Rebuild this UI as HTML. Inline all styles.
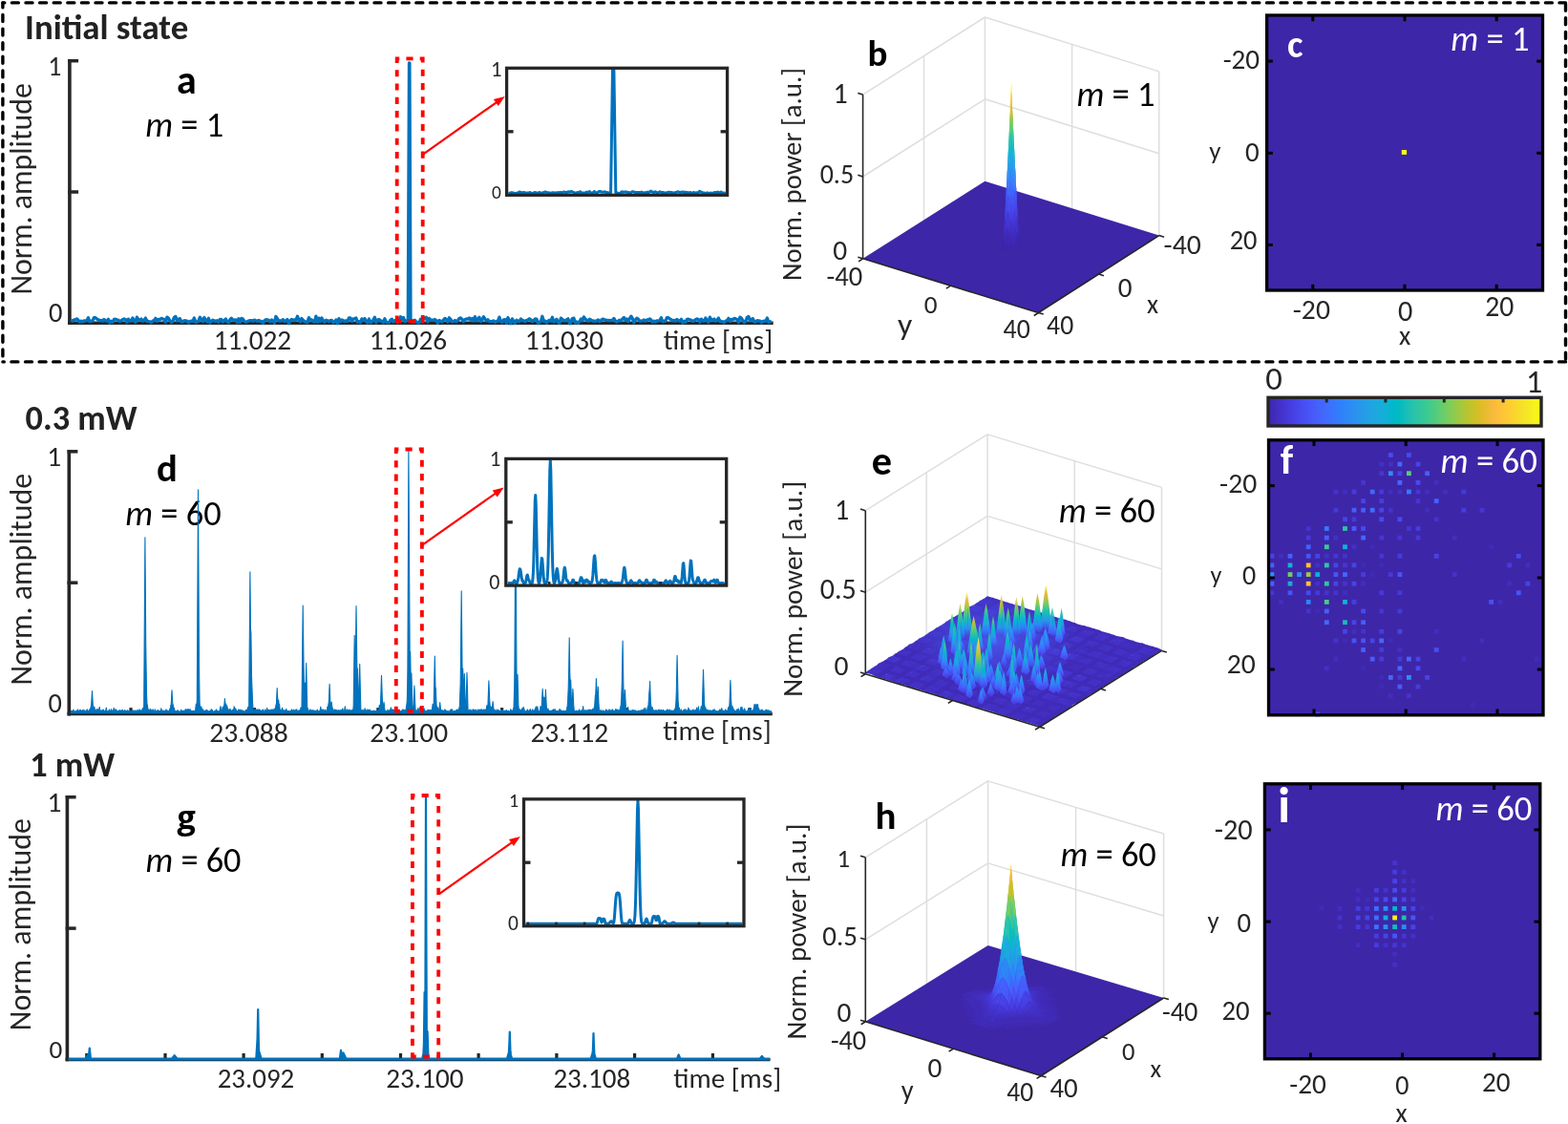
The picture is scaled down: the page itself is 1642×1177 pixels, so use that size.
<!DOCTYPE html><html><head><meta charset="utf-8"><title>Figure</title><style>html,body{margin:0;padding:0;background:#fff}svg{display:block}</style></head><body><svg width="1642" height="1177" viewBox="0 0 1642 1177" font-family="Carlito, 'Liberation Sans', Arial, sans-serif"><defs><linearGradient id="sgl37" x1="0" y1="0" x2="0" y2="1"><stop offset="0.00" stop-color="#f6de29"/><stop offset="0.20" stop-color="#eaba31"/><stop offset="0.40" stop-color="#7ecc5b"/><stop offset="0.60" stop-color="#1ac0b5"/><stop offset="0.80" stop-color="#2994ed"/><stop offset="1.00" stop-color="#4743e7"/></linearGradient><linearGradient id="sgl31" x1="0" y1="0" x2="0" y2="1"><stop offset="0.00" stop-color="#dabd28"/><stop offset="0.20" stop-color="#84cc56"/><stop offset="0.40" stop-color="#32c69f"/><stop offset="0.60" stop-color="#12b1d6"/><stop offset="0.80" stop-color="#2f82f9"/><stop offset="1.00" stop-color="#4743e7"/></linearGradient><linearGradient id="sgl33" x1="0" y1="0" x2="0" y2="1"><stop offset="0.00" stop-color="#f8ba3d"/><stop offset="0.20" stop-color="#abc739"/><stop offset="0.40" stop-color="#42ca8b"/><stop offset="0.60" stop-color="#03b7cc"/><stop offset="0.80" stop-color="#2d88f6"/><stop offset="1.00" stop-color="#4743e7"/></linearGradient><linearGradient id="sgl28" x1="0" y1="0" x2="0" y2="1"><stop offset="0.00" stop-color="#9fc942"/><stop offset="0.20" stop-color="#4ccb83"/><stop offset="0.40" stop-color="#14beb8"/><stop offset="0.60" stop-color="#1fa6e2"/><stop offset="0.80" stop-color="#3578fd"/><stop offset="1.00" stop-color="#4743e7"/></linearGradient><linearGradient id="sgl35" x1="0" y1="0" x2="0" y2="1"><stop offset="0.00" stop-color="#feca33"/><stop offset="0.20" stop-color="#cdc028"/><stop offset="0.40" stop-color="#5ecc74"/><stop offset="0.60" stop-color="#05bbc1"/><stop offset="0.80" stop-color="#2c8ef1"/><stop offset="1.00" stop-color="#4743e7"/></linearGradient><linearGradient id="sgl32" x1="0" y1="0" x2="0" y2="1"><stop offset="0.00" stop-color="#eaba31"/><stop offset="0.20" stop-color="#98ca47"/><stop offset="0.40" stop-color="#38c896"/><stop offset="0.60" stop-color="#0ab4d1"/><stop offset="0.80" stop-color="#2e85f8"/><stop offset="1.00" stop-color="#4743e7"/></linearGradient><linearGradient id="sgl24" x1="0" y1="0" x2="0" y2="1"><stop offset="0.00" stop-color="#48cb86"/><stop offset="0.20" stop-color="#20c1b1"/><stop offset="0.40" stop-color="#10b2d5"/><stop offset="0.60" stop-color="#2896ec"/><stop offset="0.80" stop-color="#416bfe"/><stop offset="1.00" stop-color="#4743e7"/></linearGradient><linearGradient id="sgl39" x1="0" y1="0" x2="0" y2="1"><stop offset="0.00" stop-color="#f6f21e"/><stop offset="0.20" stop-color="#febe3c"/><stop offset="0.40" stop-color="#9ec942"/><stop offset="0.60" stop-color="#2bc3a8"/><stop offset="0.80" stop-color="#2699e9"/><stop offset="1.00" stop-color="#4743e7"/></linearGradient><linearGradient id="sgl26" x1="0" y1="0" x2="0" y2="1"><stop offset="0.00" stop-color="#71cd64"/><stop offset="0.20" stop-color="#34c79c"/><stop offset="0.40" stop-color="#01b9c7"/><stop offset="0.60" stop-color="#249ee6"/><stop offset="0.80" stop-color="#3c72ff"/><stop offset="1.00" stop-color="#4743e7"/></linearGradient><linearGradient id="sgl27" x1="0" y1="0" x2="0" y2="1"><stop offset="0.00" stop-color="#88cb53"/><stop offset="0.20" stop-color="#3dc990"/><stop offset="0.40" stop-color="#06bcc0"/><stop offset="0.60" stop-color="#22a2e4"/><stop offset="0.80" stop-color="#3975fe"/><stop offset="1.00" stop-color="#4743e7"/></linearGradient><linearGradient id="sgl21" x1="0" y1="0" x2="0" y2="1"><stop offset="0.00" stop-color="#24c2ae"/><stop offset="0.20" stop-color="#04b6cc"/><stop offset="0.40" stop-color="#21a3e3"/><stop offset="0.60" stop-color="#2d88f6"/><stop offset="0.80" stop-color="#4561fc"/><stop offset="1.00" stop-color="#4743e7"/></linearGradient><linearGradient id="sgl23" x1="0" y1="0" x2="0" y2="1"><stop offset="0.00" stop-color="#39c895"/><stop offset="0.20" stop-color="#10beba"/><stop offset="0.40" stop-color="#18addb"/><stop offset="0.60" stop-color="#2b91ef"/><stop offset="0.80" stop-color="#4368fd"/><stop offset="1.00" stop-color="#4743e7"/></linearGradient><linearGradient id="sgl12" x1="0" y1="0" x2="0" y2="1"><stop offset="0.00" stop-color="#2d8cf3"/><stop offset="0.20" stop-color="#317efb"/><stop offset="0.40" stop-color="#406cfe"/><stop offset="0.60" stop-color="#475af9"/><stop offset="0.80" stop-color="#4745e9"/><stop offset="1.00" stop-color="#4743e7"/></linearGradient><linearGradient id="sgl14" x1="0" y1="0" x2="0" y2="1"><stop offset="0.00" stop-color="#259ce7"/><stop offset="0.20" stop-color="#2d8df2"/><stop offset="0.40" stop-color="#337afd"/><stop offset="0.60" stop-color="#4464fd"/><stop offset="0.80" stop-color="#484bef"/><stop offset="1.00" stop-color="#4743e7"/></linearGradient><linearGradient id="sgl15" x1="0" y1="0" x2="0" y2="1"><stop offset="0.00" stop-color="#21a3e3"/><stop offset="0.20" stop-color="#2994ed"/><stop offset="0.40" stop-color="#2f81fa"/><stop offset="0.60" stop-color="#4269fe"/><stop offset="0.80" stop-color="#484ef1"/><stop offset="1.00" stop-color="#4743e7"/></linearGradient><linearGradient id="sgl16" x1="0" y1="0" x2="0" y2="1"><stop offset="0.00" stop-color="#1caadf"/><stop offset="0.20" stop-color="#269ae8"/><stop offset="0.40" stop-color="#2d87f7"/><stop offset="0.60" stop-color="#3f6eff"/><stop offset="0.80" stop-color="#4851f4"/><stop offset="1.00" stop-color="#4743e7"/></linearGradient><linearGradient id="sgl11" x1="0" y1="0" x2="0" y2="1"><stop offset="0.00" stop-color="#2e83f9"/><stop offset="0.20" stop-color="#3875fe"/><stop offset="0.40" stop-color="#4466fd"/><stop offset="0.60" stop-color="#4755f6"/><stop offset="0.80" stop-color="#4743e7"/><stop offset="1.00" stop-color="#4743e7"/></linearGradient><linearGradient id="sgl25" x1="0" y1="0" x2="0" y2="1"><stop offset="0.00" stop-color="#5ccc76"/><stop offset="0.20" stop-color="#2cc4a7"/><stop offset="0.40" stop-color="#06b5cf"/><stop offset="0.60" stop-color="#269ae9"/><stop offset="0.80" stop-color="#3f6eff"/><stop offset="1.00" stop-color="#4743e7"/></linearGradient><linearGradient id="sgl17" x1="0" y1="0" x2="0" y2="1"><stop offset="0.00" stop-color="#13b0d7"/><stop offset="0.20" stop-color="#23a1e4"/><stop offset="0.40" stop-color="#2d8df2"/><stop offset="0.60" stop-color="#3a74fe"/><stop offset="0.80" stop-color="#4755f6"/><stop offset="1.00" stop-color="#4743e7"/></linearGradient><linearGradient id="sgl10" x1="0" y1="0" x2="0" y2="1"><stop offset="0.00" stop-color="#347afd"/><stop offset="0.20" stop-color="#406dfe"/><stop offset="0.40" stop-color="#465ffb"/><stop offset="0.60" stop-color="#4851f3"/><stop offset="0.80" stop-color="#4743e7"/><stop offset="1.00" stop-color="#4743e7"/></linearGradient><linearGradient id="sgl20" x1="0" y1="0" x2="0" y2="1"><stop offset="0.00" stop-color="#12beb9"/><stop offset="0.20" stop-color="#0fb2d5"/><stop offset="0.40" stop-color="#249ee6"/><stop offset="0.60" stop-color="#2e83f9"/><stop offset="0.80" stop-color="#465efb"/><stop offset="1.00" stop-color="#4743e7"/></linearGradient><linearGradient id="sgl13" x1="0" y1="0" x2="0" y2="1"><stop offset="0.00" stop-color="#2994ed"/><stop offset="0.20" stop-color="#2e85f8"/><stop offset="0.40" stop-color="#3a73fe"/><stop offset="0.60" stop-color="#465ffb"/><stop offset="0.80" stop-color="#4848ec"/><stop offset="1.00" stop-color="#4743e7"/></linearGradient><linearGradient id="sgl19" x1="0" y1="0" x2="0" y2="1"><stop offset="0.00" stop-color="#02bac4"/><stop offset="0.20" stop-color="#19addc"/><stop offset="0.40" stop-color="#2699e9"/><stop offset="0.60" stop-color="#307efb"/><stop offset="0.80" stop-color="#475bf9"/><stop offset="1.00" stop-color="#4743e7"/></linearGradient><linearGradient id="sgl18" x1="0" y1="0" x2="0" y2="1"><stop offset="0.00" stop-color="#05b6ce"/><stop offset="0.20" stop-color="#1ea7e1"/><stop offset="0.40" stop-color="#2a93ed"/><stop offset="0.60" stop-color="#3479fd"/><stop offset="0.80" stop-color="#4758f8"/><stop offset="1.00" stop-color="#4743e7"/></linearGradient><linearGradient id="sgl9" x1="0" y1="0" x2="0" y2="1"><stop offset="0.00" stop-color="#3d70ff"/><stop offset="0.20" stop-color="#4465fd"/><stop offset="0.40" stop-color="#4759f8"/><stop offset="0.60" stop-color="#484cef"/><stop offset="0.80" stop-color="#4743e7"/><stop offset="1.00" stop-color="#4743e7"/></linearGradient><linearGradient id="sgl22" x1="0" y1="0" x2="0" y2="1"><stop offset="0.00" stop-color="#2fc5a2"/><stop offset="0.20" stop-color="#02bac4"/><stop offset="0.40" stop-color="#1da9e0"/><stop offset="0.60" stop-color="#2d8df2"/><stop offset="0.80" stop-color="#4464fd"/><stop offset="1.00" stop-color="#4743e7"/></linearGradient><linearGradient id="sgl8" x1="0" y1="0" x2="0" y2="1"><stop offset="0.00" stop-color="#4367fd"/><stop offset="0.20" stop-color="#465dfa"/><stop offset="0.40" stop-color="#4853f4"/><stop offset="0.60" stop-color="#4747eb"/><stop offset="0.80" stop-color="#4743e7"/><stop offset="1.00" stop-color="#4743e7"/></linearGradient><radialGradient id="ehaze"><stop offset="0" stop-color="#4d63f5" stop-opacity="0.75"/><stop offset="0.55" stop-color="#4650e8" stop-opacity="0.45"/><stop offset="1" stop-color="#4650e8" stop-opacity="0"/></radialGradient><clipPath id="eclip"><path d="M906.3 704L1088.7 759.5L1216.5 679.7L1034.1 624.2Z"/></clipPath><linearGradient id="cb" x1="0" y1="0" x2="1" y2="0"><stop offset="0.0000" stop-color="#3e26a8"/><stop offset="0.0159" stop-color="#402ab4"/><stop offset="0.0317" stop-color="#422ec0"/><stop offset="0.0476" stop-color="#4332cb"/><stop offset="0.0635" stop-color="#4537d5"/><stop offset="0.0794" stop-color="#463cde"/><stop offset="0.0952" stop-color="#4741e5"/><stop offset="0.1111" stop-color="#4747eb"/><stop offset="0.1270" stop-color="#484df0"/><stop offset="0.1429" stop-color="#4852f4"/><stop offset="0.1587" stop-color="#4758f8"/><stop offset="0.1746" stop-color="#465efb"/><stop offset="0.1905" stop-color="#4563fd"/><stop offset="0.2063" stop-color="#4269fe"/><stop offset="0.2222" stop-color="#3e6fff"/><stop offset="0.2381" stop-color="#3875fe"/><stop offset="0.2540" stop-color="#327cfc"/><stop offset="0.2698" stop-color="#2f81fa"/><stop offset="0.2857" stop-color="#2e87f7"/><stop offset="0.3016" stop-color="#2d8cf3"/><stop offset="0.3175" stop-color="#2b91ef"/><stop offset="0.3333" stop-color="#2797eb"/><stop offset="0.3492" stop-color="#259be8"/><stop offset="0.3651" stop-color="#23a0e5"/><stop offset="0.3810" stop-color="#20a5e3"/><stop offset="0.3968" stop-color="#1ca9df"/><stop offset="0.4127" stop-color="#18addb"/><stop offset="0.4286" stop-color="#12b1d6"/><stop offset="0.4444" stop-color="#08b5d0"/><stop offset="0.4603" stop-color="#01b8ca"/><stop offset="0.4762" stop-color="#02bac3"/><stop offset="0.4921" stop-color="#0bbdbd"/><stop offset="0.5079" stop-color="#19bfb6"/><stop offset="0.5238" stop-color="#24c1ae"/><stop offset="0.5397" stop-color="#2cc4a7"/><stop offset="0.5556" stop-color="#31c69f"/><stop offset="0.5714" stop-color="#37c897"/><stop offset="0.5873" stop-color="#3fca8e"/><stop offset="0.6032" stop-color="#4acb84"/><stop offset="0.6190" stop-color="#57cc7a"/><stop offset="0.6349" stop-color="#64cd6f"/><stop offset="0.6508" stop-color="#72cd64"/><stop offset="0.6667" stop-color="#81cc59"/><stop offset="0.6825" stop-color="#8fcb4e"/><stop offset="0.6984" stop-color="#9dc943"/><stop offset="0.7143" stop-color="#abc739"/><stop offset="0.7302" stop-color="#b9c431"/><stop offset="0.7460" stop-color="#c5c22a"/><stop offset="0.7619" stop-color="#d1bf27"/><stop offset="0.7778" stop-color="#dcbd29"/><stop offset="0.7937" stop-color="#e6bb2d"/><stop offset="0.8095" stop-color="#f0ba36"/><stop offset="0.8254" stop-color="#f8ba3d"/><stop offset="0.8413" stop-color="#febe3c"/><stop offset="0.8571" stop-color="#fec338"/><stop offset="0.8730" stop-color="#fec934"/><stop offset="0.8889" stop-color="#fccf30"/><stop offset="0.9048" stop-color="#fad62d"/><stop offset="0.9206" stop-color="#f7dc2a"/><stop offset="0.9365" stop-color="#f5e327"/><stop offset="0.9524" stop-color="#f5e924"/><stop offset="0.9683" stop-color="#f6ef20"/><stop offset="0.9841" stop-color="#f7f51b"/><stop offset="1.0000" stop-color="#f9fb15"/></linearGradient></defs><line x1="2.9" y1="2.9" x2="1639.5" y2="2.9" stroke="#000" stroke-width="3.4" stroke-dasharray="7 7.6" stroke-dashoffset="5.1" stroke-linecap="round"/>
<line x1="1639.5" y1="2.9" x2="1639.5" y2="378.9" stroke="#000" stroke-width="3.4" stroke-dasharray="7 7.6" stroke-dashoffset="13.3" stroke-linecap="round"/>
<line x1="1639.5" y1="378.9" x2="2.9" y2="378.9" stroke="#000" stroke-width="3.4" stroke-dasharray="7 7.6" stroke-dashoffset="0.0" stroke-linecap="round"/>
<line x1="2.9" y1="2.9" x2="2.9" y2="378.9" stroke="#000" stroke-width="3.4" stroke-dasharray="7 7.6" stroke-dashoffset="2.0" stroke-linecap="round"/>
<text x="26.1" y="40.7" font-size="36.83" font-weight="bold" textLength="171.1" lengthAdjust="spacingAndGlyphs" fill="#222">Initial state</text>
<text x="26.6" y="450" font-size="36.25" font-weight="bold" textLength="117" lengthAdjust="spacingAndGlyphs" fill="#222">0.3 mW</text>
<text x="31.2" y="812.9" font-size="36.30" font-weight="bold" textLength="89" lengthAdjust="spacingAndGlyphs" fill="#222">1 mW</text>
<line x1="72.9" y1="61.9" x2="72.9" y2="340.1" stroke="#262626" stroke-width="3.6"/>
<line x1="71.1" y1="338.3" x2="809.7" y2="338.3" stroke="#262626" stroke-width="3.5"/>
<line x1="71.2" y1="63.7" x2="82.1" y2="63.7" stroke="#262626" stroke-width="3.5"/>
<line x1="71.2" y1="201" x2="82.1" y2="201" stroke="#262626" stroke-width="3.5"/>
<text x="50.3" y="78.8" font-size="27.84" fill="#262626">1</text>
<text x="51.1" y="337" font-size="28.48" fill="#262626">0</text>
<text transform="translate(33.3 308.6) rotate(-90)" font-size="31.92" fill="#262626" textLength="221.6" lengthAdjust="spacingAndGlyphs">Norm. amplitude</text>
<text x="185" y="98.3" font-size="41.95" font-weight="bold" fill="#000">a</text>
<text x="152.3" y="143.4" font-size="36.42" fill="#000" textLength="81.9" lengthAdjust="spacingAndGlyphs"><tspan font-style="italic">m</tspan><tspan> = 1</tspan></text>
<text x="223.8" y="366.3" font-size="29.17" textLength="81.3" lengthAdjust="spacingAndGlyphs" fill="#262626">11.022</text>
<text x="386.7" y="366.3" font-size="29.17" textLength="81.3" lengthAdjust="spacingAndGlyphs" fill="#262626">11.026</text>
<text x="549.7" y="366.3" font-size="29.51" textLength="82.2" lengthAdjust="spacingAndGlyphs" fill="#262626">11.030</text>
<text x="694.7" y="365.7" font-size="29.47" textLength="114.5" lengthAdjust="spacingAndGlyphs" fill="#262626">time [ms]</text>
<path d="M74.4 335L75.9 336.2L77.4 335L78.9 334.9L80.4 333.9L81.9 335.1L83.4 337.2L84.9 336.1L86.4 337.1L87.9 335.8L89.4 336L90.9 335.7L92.4 332.7L93.9 336.8L95.4 336.2L96.9 336.2L98.4 332.7L99.9 332.6L101.4 334L102.9 334.7L104.4 335.9L105.9 335.3L107.4 336.2L108.9 334.4L110.4 335.9L111.9 336L113.4 334.3L114.9 338.1L116.4 336.3L117.9 337.3L119.4 334.4L120.9 334.2L122.4 334.8L123.9 335.2L125.4 336.4L126.9 335.8L128.4 334.7L129.9 333.9L131.4 334.6L132.9 337.4L134.4 334.1L135.9 335.8L137.4 336.1L138.9 333L140.4 335.5L141.9 337.5L143.4 332.2L144.9 334.9L146.4 335.2L147.9 334.1L149.4 336.2L150.9 335.3L152.4 333.1L153.9 336.7L155.4 336.5L156.9 336.9L158.4 337.7L159.9 336L161.4 335.6L162.9 333.3L164.4 336.4L165.9 334.4L167.4 334.7L168.9 333.4L170.4 333.9L171.9 334.6L173.4 337.5L174.9 332.1L176.4 333.1L177.9 335.8L179.4 337.7L180.9 336.3L182.4 332.4L183.9 331.4L185.4 336L186.9 334.2L188.4 333.6L189.9 337L191.4 337.2L192.9 335.7L194.4 335.8L195.9 336.1L197.4 338L198.9 336.4L200.4 336.2L201.9 336.3L203.4 332.9L204.9 337.5L206.4 336.9L207.9 336.2L209.4 332.2L210.9 334.4L212.4 336.7L213.9 332.5L215.4 335.1L216.9 337L218.4 333.3L219.9 338L221.4 336.3L222.9 335.2L224.4 335.9L225.9 336.4L227.4 335.6L228.9 337.2L230.4 334.3L231.9 334.7L233.4 337.1L234.9 335.4L236.4 334L237.9 336.9L239.4 337.7L240.9 334.7L242.4 333.2L243.9 335.2L245.4 335.2L246.9 334.9L248.4 337.6L249.9 333.8L251.4 337.4L252.9 333.4L254.4 334.1L255.9 336.4L257.4 337.2L258.9 336.8L260.4 336L261.9 335.6L263.4 335.6L264.9 336.3L266.4 335.1L267.9 335.8L269.4 336.3L270.9 335.4L272.4 336.6L273.9 336.3L275.4 338.6L276.9 335.9L278.4 334.7L279.9 334.8L281.4 335.4L282.9 336.9L284.4 334.9L285.9 336L287.4 338.3L288.9 331.3L291.9 335.8L293.4 336L294.9 335.8L296.4 334.7L297.9 336.4L299.4 335.9L300.9 334.6L302.4 338.8L303.9 336L305.4 334.5L306.9 335.2L308.4 335L309.9 335.3L311.4 331.2L312.9 334.6L314.4 337L315.9 333.5L318.9 336.9L320.4 336.8L321.9 337.8L323.4 332.7L324.9 334.8L326.4 334.9L327.9 336.4L329.4 337.1L330.9 331.2L332.4 337.1L333.9 333.1L335.4 336.5L336.9 333L338.4 335.7L339.9 337.3L341.4 335.2L342.9 335.7L344.4 336.7L345.9 335.6L347.4 335.3L348.9 337.9L350.4 337.1L351.9 334.9L353.4 338.8L354.9 333.6L356.4 336.9L357.9 335L359.4 335.6L360.9 336.5L362.4 335.8L363.9 336.4L365.4 333L366.9 333L368.4 336.4L369.9 333.9L371.4 333.8L372.9 333L374.4 337.4L375.9 336.6L377.4 337.8L378.9 333.9L380.4 335.4L381.9 333.6L383.4 336.6L384.9 337.9L386.4 334L387.9 337.9L389.4 337L390.9 335.1L392.4 332.2L393.9 337.7L395.4 335.2L396.9 334.4L398.4 336L399.9 336.1L401.4 337.8L402.9 333.8L404.4 337.2L405.9 337.8L407.4 337.7L408.9 335.1L410.4 334.2L411.9 337L413.4 335.6L414.9 335.6L416.4 337.7L417.9 335L419.4 331.7L420.9 334.8L422.4 332.4L423.9 336.7L425.4 335.9L427.3 335.5L428.5 66L428.9 66L430 335.5L431.4 335.5L432.9 337.5L434.4 335.3L435.9 337.1L437.4 337.8L438.9 338L440.4 334.3L441.9 336.8L443.4 332.4L444.9 333.7L446.4 332.3L447.9 337.1L449.4 333.4L450.9 335.4L452.4 335.1L453.9 335.4L455.4 334.5L456.9 335.8L458.4 338.3L459.9 335.5L462.9 337L464.4 335.1L465.9 333.4L467.4 334.5L468.9 337.1L470.4 332.8L471.9 334.4L473.4 337L474.9 336.7L476.4 335.4L477.9 336.7L479.4 335.7L480.9 333.5L482.4 332.9L483.9 334.4L485.4 336.9L486.9 334.5L488.4 334L489.9 334.2L491.4 332.9L492.9 335.2L494.4 333.5L495.9 336L497.4 331.6L498.9 335.9L500.4 334.4L501.9 332.3L503.4 336.6L504.9 335L506.4 331.8L507.9 334L509.4 335.9L510.9 334.7L512.4 336.6L515.4 336.5L516.9 335.9L518.4 337.5L519.9 336.5L521.4 336.1L522.9 332.1L524.4 336.8L525.9 337.5L527.4 334.9L528.9 334.6L530.4 338.5L531.9 332.6L533.4 336.2L534.9 338.8L536.4 333.9L537.9 336.5L539.4 338.4L540.9 335.2L542.4 336.3L543.9 336.8L545.4 334L546.9 335.3L548.4 335.9L549.9 336.7L551.4 335.3L552.9 335.1L554.4 333.8L555.9 334.8L557.4 336.8L558.9 335.6L560.4 334L561.9 334.1L563.4 338.8L564.9 337.2L566.4 336.4L567.9 331.3L569.4 336.4L570.9 336.2L572.4 338.1L573.9 336.1L575.4 335.3L576.9 336.2L578.4 332.3L579.9 337.1L581.4 335.9L582.9 334.3L584.4 337.5L585.9 338.3L587.4 333.2L588.9 334.3L590.4 335.9L591.9 335.7L594.9 333.8L596.4 338.8L597.9 337.1L599.4 333.5L600.9 333.2L602.4 338.1L603.9 337L605.4 338.3L606.9 336.7L608.4 334L609.9 335.8L611.4 331.9L612.9 334.2L614.4 335.3L615.9 336.2L617.4 334.2L620.4 336.1L621.9 336L623.4 336.4L624.9 335.7L626.4 334.9L627.9 336.7L629.4 335.5L630.9 334.1L632.4 334.4L633.9 335.4L635.4 335.2L636.9 335.7L638.4 335.4L639.9 335.7L641.4 335.2L642.9 333.4L644.4 336.1L645.9 337.1L648.9 335.1L650.4 336.1L651.9 333.9L653.4 332.4L654.9 335.5L656.4 333.9L657.9 336.6L659.4 333.7L660.9 331.2L662.4 333.7L663.9 337.9L665.4 334.8L666.9 333.2L668.4 334.2L669.9 336.2L671.4 336.2L672.9 335.7L674.4 335L675.9 336.2L677.4 335L678.9 334.9L680.4 333.9L681.9 335.1L683.4 337.2L684.9 336.1L686.4 337.1L687.9 335.8L689.4 336L690.9 335.7L692.4 332.7L693.9 336.8L695.4 336.2L696.9 336.2L698.4 332.7L699.9 332.6L701.4 334L702.9 334.7L704.4 335.9L705.9 335.3L707.4 336.2L708.9 334.4L710.4 335.9L711.9 336L713.4 334.3L714.9 338.1L716.4 336.3L717.9 337.3L719.4 334.4L720.9 334.2L722.4 334.8L723.9 335.2L725.4 336.4L726.9 335.8L728.4 334.7L729.9 333.9L731.4 334.6L732.9 337.4L734.4 334.1L735.9 335.8L737.4 336.1L738.9 333L740.4 335.5L741.9 337.5L743.4 332.2L744.9 334.9L746.4 335.2L747.9 334.1L749.4 336.2L750.9 335.3L752.4 333.1L753.9 336.7L755.4 336.5L756.9 336.9L758.4 337.7L759.9 336L761.4 335.6L762.9 333.3L764.4 336.4L765.9 334.4L767.4 334.7L768.9 333.4L770.4 333.9L771.9 334.6L773.4 337.5L774.9 332.1L776.4 333.1L777.9 335.8L779.4 337.7L780.9 336.3L782.4 332.4L783.9 331.4L785.4 336L786.9 334.2L788.4 333.6L789.9 337L791.4 337.2L792.9 335.7L794.4 335.8L795.9 336.1L797.4 338L798.9 336.4L800.4 336.2L801.9 336.3L803.4 332.9L804.9 337.5L806.4 336.9L807.9 336.2" fill="none" stroke="#0072bd" stroke-width="3.3" stroke-linejoin="round"/>
<path d="M415.7 336.5L415.7 61.4L442.7 61.4L442.7 336.5Z" fill="none" stroke="#ff0000" stroke-width="3.8" stroke-dasharray="7.15 7.15" stroke-dashoffset="1.2"/>
<line x1="442.6" y1="161.8" x2="519.7" y2="107.3" stroke="#ff0000" stroke-width="2.2"/>
<path d="M528.7 100.9L521.8 111.1L516.8 104Z" fill="#ff0000"/>
<rect x="530.6" y="71.3" width="231" height="133" fill="#fff"/>
<path d="M532.6 202.5L535.8 201.6L537.4 202L539 202.6L540.6 202.2L542.2 202.2L543.8 201L547 202L548.6 201.4L550.2 202.2L551.8 202L553.4 202.1L555 201.5L556.6 202.6L558.2 202.3L559.8 201.5L561.4 201.7L563 202.6L564.6 201.4L566.2 202.1L567.8 202.2L571 200.9L572.6 201.7L574.2 201.8L575.8 202.3L577.4 202.1L579 201.6L580.6 202.1L583.8 201.7L587 201.5L588.6 202L590.2 201L591.8 201.2L593.4 201.6L595 200.7L596.6 201.3L598.2 200.4L601.4 201.9L603 201.9L604.6 201.6L606.2 201.5L607.8 200.7L609.4 202.6L611 201.9L612.6 202.3L614.2 201.1L615.8 201.5L617.4 200.5L619 202.1L620.6 202.2L622.2 200.5L623.8 201.6L625.4 202L627 200.5L628.6 200.5L630.2 201L631.8 201.2L633.4 200.8L635 201.6L638.2 202L639.6 201.8L641.5 73.6L642.9 73.6L644.8 201.8L646.2 202L647.8 202.5L649.4 202.3L651 200.8L652.6 201.3L654.2 201L655.8 201L657.4 201.6L659 201.6L660.6 201.9L662.2 200.6L663.8 200.9L665.4 201.6L668.6 201.4L670.2 201.6L671.8 201.1L673.4 202L676.6 201.5L678.2 201.2L679.8 201.5L681.4 200L683 201L684.6 201.6L686.2 200.7L687.8 201.7L689.4 201.7L691 200.8L692.6 201.4L694.2 201.4L695.8 201.9L697.4 202L700.6 201.1L702.2 201.5L703.8 201.6L705.4 202L707 201.8L708.6 201.2L710.2 200.8L711.8 201.4L715 200.9L716.6 201.5L718.2 201.3L721.4 201.9L723 201.4L724.6 202.6L726.2 201.4L727.8 202.3L729.4 201.7L731 202.3L732.6 200.2L734.2 201.1L735.8 201.7L737.4 202L739 202.6L740.6 201.8L742.2 202.4L743.8 202.1L745.4 202.2L747 201.9L748.6 201.5L750.2 201.9L751.8 201L753.4 202.3L755 201L758.2 202.6L759.8 201.5" fill="none" stroke="#0072bd" stroke-width="3.0" stroke-linejoin="round"/>
<rect x="530.6" y="71.3" width="231" height="133" fill="none" stroke="#262626" stroke-width="3.3"/>
<line x1="530.6" y1="137.8" x2="537.6" y2="137.8" stroke="#262626" stroke-width="3.3"/>
<line x1="754.6" y1="137.8" x2="761.6" y2="137.8" stroke="#262626" stroke-width="3.3"/>
<text x="514" y="80" font-size="22.70" fill="#262626">1</text>
<text x="514.9" y="207.8" font-size="19.35" fill="#262626">0</text>
<line x1="72.3" y1="471" x2="72.3" y2="749.4" stroke="#262626" stroke-width="3.6"/>
<line x1="70.5" y1="747.6" x2="808.8" y2="747.6" stroke="#262626" stroke-width="3.5"/>
<line x1="70.5" y1="472.8" x2="81.4" y2="472.8" stroke="#262626" stroke-width="3.5"/>
<line x1="70.5" y1="610.2" x2="81.4" y2="610.2" stroke="#262626" stroke-width="3.5"/>
<line x1="137" y1="747.6" x2="137" y2="741.1" stroke="#262626" stroke-width="3.2"/>
<line x1="266.4" y1="747.6" x2="266.4" y2="741.1" stroke="#262626" stroke-width="3.2"/>
<line x1="395.9" y1="747.6" x2="395.9" y2="741.1" stroke="#262626" stroke-width="3.2"/>
<line x1="525.6" y1="747.6" x2="525.6" y2="741.1" stroke="#262626" stroke-width="3.2"/>
<line x1="656.1" y1="747.6" x2="656.1" y2="741.1" stroke="#262626" stroke-width="3.2"/>
<line x1="785.2" y1="747.6" x2="785.2" y2="741.1" stroke="#262626" stroke-width="3.2"/>
<text x="49.2" y="487.6" font-size="29.46" fill="#262626">1</text>
<text x="50.4" y="745.6" font-size="28.26" fill="#262626">0</text>
<text transform="translate(32.6 717.6) rotate(-90)" font-size="31.94" fill="#262626" textLength="221.8" lengthAdjust="spacingAndGlyphs">Norm. amplitude</text>
<text x="164" y="504.2" font-size="40.67" font-weight="bold" fill="#000">d</text>
<text x="131.3" y="549.7" font-size="36.42" fill="#000" textLength="100.3" lengthAdjust="spacingAndGlyphs"><tspan font-style="italic">m</tspan><tspan> = 60</tspan></text>
<text x="219.3" y="777" font-size="29.63" textLength="82.6" lengthAdjust="spacingAndGlyphs" fill="#262626">23.088</text>
<text x="387.3" y="777" font-size="29.34" textLength="81.8" lengthAdjust="spacingAndGlyphs" fill="#262626">23.100</text>
<text x="555.4" y="777" font-size="29.34" textLength="81.8" lengthAdjust="spacingAndGlyphs" fill="#262626">23.112</text>
<text x="694.3" y="775.3" font-size="29.21" textLength="113.4" lengthAdjust="spacingAndGlyphs" fill="#262626">time [ms]</text>
<path d="M74.3 745.4L74.8 744.1L75.4 744.4L75.9 744.9L76.5 745.1L77 743.1L77.6 744.6L78.1 744.9L78.7 745.7L79.2 744.8L79.8 744.4L80.3 744.4L80.9 744.7L81.4 742.8L82 745.2L82.5 744.3L83.1 744.4L83.6 743.5L84.2 745.3L84.7 743.3L85.3 745.3L85.8 744.3L86.4 745.7L86.9 743.2L87.5 744.4L88 743.5L88.6 744.4L89.7 745.4L90.2 743.9L90.8 744.4L91.3 742.7L91.9 745.2L92.4 744.4L93 745.1L93.5 743.8L94.1 742.9L94.3 742L94.6 743.5L95.7 737L96.5 723.6L97.4 739.7L97.8 739.7L97.9 740.8L98.5 742.6L98.9 740.4L99.6 744.8L100.1 743.7L100.7 745.2L101.2 742.6L101.8 744.5L102.3 742.6L102.9 745.3L103.4 744.8L104.2 740.2L104.5 742.5L105.6 745.4L106.2 744L106.7 744.8L107.3 743.4L107.8 744.7L108.4 743L108.9 744.8L109.5 744.7L110.6 744.3L111.3 741.1L111.7 743.4L112.2 744.5L112.8 745.4L113.3 744.4L113.9 745.5L114.4 742.9L115 744.9L115.5 744.2L116.1 745.1L116.6 742.6L117.2 745L117.7 744.4L118.3 744.6L118.8 743.3L119.2 741.3L119.9 745L120.5 743L121 744.5L121.6 742.8L122.1 745.6L122.7 744.3L123.2 745.5L123.8 744.5L124.3 744.3L124.9 743.6L125.4 744.4L126 744.1L126.5 744.5L127.1 743.9L127.6 745.3L128.2 743.1L128.7 744.4L129.3 744.7L129.8 744.9L130.4 743.5L130.9 745.4L131.5 744.1L132 745.5L132.6 744.5L133.1 745.3L133.7 743.6L134.2 744.8L134.8 744.5L135.3 745.7L135.9 744.2L136.4 744.8L137 744.6L137.5 745.3L138.1 744.5L138.6 744.6L139.2 743.7L139.7 745.6L140.3 744.8L140.8 745.1L141.4 743.7L142 744.8L142.5 744.8L143.1 745.5L143.6 743.3L144.2 745.1L144.7 744.3L145.3 745.3L145.8 742.7L146.4 745.3L146.9 743.6L147.5 745.2L148 744L148.6 744.5L149.1 742.6L149.7 741.6L149.7 741.3L150.2 743.5L150.7 738.7L151.9 562.8L152.7 673.4L153.5 726.2L154.1 740.1L154.3 737.8L154.6 740.5L155.7 745.2L156.3 743.8L156.8 744L157.2 742.3L157.4 742.9L157.9 742.8L158.5 745.5L159 743.8L159.6 744.6L160.1 742.7L160.7 745.4L161.2 744.7L161.8 744.4L162.3 742.7L162.9 745L163.4 744.9L164.5 744.1L165.1 744.4L165.6 743.5L166.2 744.5L167.3 744.6L167.8 744.5L168.4 743.8L168.8 741.7L169.5 744.6L170 745.4L170.6 744L171.1 745L171.7 744.1L172.2 745.5L172.8 744.4L173.3 744.7L173.9 742.8L174.4 745.6L175 743.7L175.5 744.6L176.1 744.9L176.6 744.5L177.2 744.7L177.8 742L178.3 743L178.8 738.2L179 739.7L179.4 734.8L180 722.7L181 740.5L181.3 737.8L181.6 740.1L182.1 742L182.2 741.3L182.4 741.4L182.7 742.7L183.2 744.6L183.8 745L184.3 744.7L184.9 745.5L185.4 744L186 745.6L186.5 743.9L187.1 745L189.3 744.7L189.8 743.1L190.4 745L190.9 744.9L191.5 745L192 744.1L193.1 744.7L193.7 744.5L194.2 742.6L194.8 744.7L195.3 743L195.9 745.4L196.4 742.6L197 745L197.5 742.7L198.1 744.4L198.6 743.8L198.9 742.5L199.2 742.8L199.7 745.4L200.3 744.2L200.8 744.6L201.4 744.6L202.5 744.3L203.6 744.7L204.1 745L204.7 742.8L205.3 737.4L205.8 741.7L206.3 732.1L207.5 512.7L208.5 698.6L209.1 735.8L209.6 742.4L209.9 740.6L210.2 742.1L210.7 740.5L210.8 739.7L211.3 742.7L211.8 745.6L212.4 742.6L212.9 744.8L213.5 744.1L214 744.6L214.6 744.4L215.1 744.3L215.7 743.6L216.2 745.2L216.8 743.2L217.3 745.1L217.9 744.6L218.4 744.7L219 744.9L219.5 744.6L220.1 744.4L220.6 744.8L221.2 742.6L221.7 744.9L222.3 743.4L222.8 745.3L223.4 745L223.9 745.7L224.5 744.6L225 744.8L225.6 744L226.1 745L226.7 742.9L227.2 745.5L227.8 744.5L228.3 744.8L228.9 744.9L229.4 745.7L230 744.1L230.5 742.1L230.9 739.6L231.6 743.6L232.2 744.9L232.7 743.4L233.2 740.1L233.8 742.7L234.2 740L234.4 741L234.9 737.3L235.4 731.5L236 738.5L236.6 738.5L236.7 737L237.1 739.5L237.7 740.2L237.8 739.1L238.2 742.1L238.4 741.2L238.8 742.9L239.3 743.2L239.9 745.4L240.4 742.8L241 742.4L241.5 744.5L242.1 744.4L242.6 745.6L243.2 743.1L243.7 745.7L244.3 743.7L244.8 742.5L245.2 739.7L245.9 743.5L246.5 743.4L246.8 741.8L247.6 744.6L248.1 745.3L248.7 744.3L249.2 745.6L249.8 742.9L250.3 744.6L250.9 743.3L251.4 745.7L252 743L252.5 744.7L253.1 743.9L253.6 744.7L254.2 743.9L254.7 745.4L255.3 744.7L255.8 745.4L256.4 744.9L256.9 745.2L257.5 743.2L258 744.7L258.6 743L259.1 744.1L259.7 740.2L260.2 743.3L260.7 739.9L261.9 598.8L262.4 657.7L262.9 663.3L263.5 708.4L264.6 736.5L265.2 744.5L265.7 744.2L266.3 745.4L266.8 742.8L267.4 744.8L267.9 743.3L268.5 744.8L269 742.7L269.6 745L270.1 743L270.7 744.7L271.2 742.9L271.8 745.1L272.3 743.3L272.9 744.9L273.4 744.3L274 745.4L274.5 743.5L275.1 745.6L275.6 742.8L276.2 745.5L276.7 744.9L277.3 745.6L277.8 742.8L278.4 745.2L278.9 744.7L279.5 742.7L279.7 741.4L280 743L280.6 743.5L281.1 744.7L281.7 743.2L282.2 745.6L282.8 743.6L283.3 745.2L283.9 743L284.4 744.6L285 742.9L285.5 745.6L286.1 742.9L286.6 744.4L287.2 742.7L287.7 743L288 741.5L288.3 742.7L288.8 739.6L289 737.8L289.4 737.8L290.2 720.5L291 736.8L291.5 735.4L291.7 733L292.1 737.7L292.6 737.3L293.2 743.1L293.8 745.3L294.3 743.3L294.9 745L295.6 741.1L296 743.2L296.5 744.5L297.1 743.5L297.6 745.7L298.2 744L298.7 745.1L299.3 743.1L299.8 742.6L299.9 742.4L300.4 744.4L301.5 744.5L302 744.8L302.6 744.6L303.1 744.6L303.7 745.7L304.2 744.5L304.8 744.6L305.3 742.7L305.9 745.7L306.4 743.8L307 745L307.5 743.1L308.1 745.4L308.6 743.8L309.2 745.2L309.7 743L310.3 745.3L310.8 742.7L311.4 745.3L311.9 744.5L312.5 744.7L313 743.8L313.6 745.5L314.1 743.5L314.7 742.8L315 740.8L315.2 741.9L315.8 742.2L316 740.7L317.2 634.1L318 693.6L318.5 723.9L319.1 719.2L319.2 715L319.6 726.3L320.2 720.2L320.7 694.4L321.8 743.2L322.2 741.2L322.9 744.7L323.5 744.2L324 745.5L324.6 743L325.1 744.8L325.7 743.2L326.2 745.5L326.8 743.9L327.3 744.6L327.9 743.6L328.4 745.5L329 743.9L329.5 744.5L330.1 744.4L330.6 745.4L331.2 744.3L331.7 744.7L332.3 743L332.8 745.5L333.4 744.6L333.9 745.4L334.5 744.2L335 745L335.8 740L336.1 741.9L336.7 744.3L337.2 743.3L337.8 745.6L338.3 742.7L338.9 745.6L339.4 744.1L340 744.3L340.5 743.1L341.1 744.7L341.6 744L342.2 745L342.9 740.1L343.3 742.4L344.4 734.1L345.1 716.3L346 737.7L346.4 737.6L346.6 739L347.1 735L347.7 739.3L348.2 742.6L348.4 741.5L348.8 743.1L349.3 744.5L349.9 744.7L350.4 742.9L351 744.6L351.5 743.3L352.1 744.5L352.6 743.4L353.2 744.8L353.7 743.9L354.3 745.3L354.8 743.5L355.4 745.6L355.9 744L356.5 744.6L357 743.3L357.6 744.8L358.1 744.4L358.8 741.8L359.2 743.7L359.8 744L360.3 744.8L360.9 742.8L361.3 739.7L362 744.2L362.5 744.1L363.1 745L363.6 742.7L364.2 745.6L364.7 743.7L365.3 745.5L365.8 743.1L366.4 744.4L366.9 743.8L367.5 745.6L368 743.6L368.6 744.9L369.1 743.3L369.7 745L370.2 738.7L371.2 665.2L371.9 712.9L372.4 688.1L373 634.6L374.1 718.8L374.5 700L375.4 737.6L375.7 741.4L376.7 695.3L377.4 725.3L377.9 743.2L378.5 744.4L379 743.7L379.6 745.4L380.1 743.1L380.7 745.2L381.2 744.5L381.8 743.5L382.1 741.7L382.3 742.6L382.9 743.5L383.4 745L384 743.7L384.5 745.4L385.1 742.7L385.6 745.2L386.2 743.5L386.7 744.6L387.3 743L387.8 745L388.4 744.3L388.9 744.9L390 744.5L390.6 744.1L391.1 744.5L391.7 744.4L392.2 745.2L392.8 744.4L393.3 745.1L393.9 744.6L394.4 745.7L395 743.3L395.5 745.3L396.1 744.4L396.6 744.3L397.3 738.4L397.7 741.8L398.3 742L398.8 728.9L399.5 707.2L400.5 736.7L400.8 738.3L401 740L401.6 739.5L402 735L402.7 741.5L403.2 744.8L403.8 744.4L404.3 745.6L404.9 744.7L405.4 745.4L406 743.1L406.5 745.2L407.1 744.6L407.6 744.4L408.2 743.1L408.7 744.7L409.4 740.8L409.8 743.1L410.4 744.8L410.9 742.9L411.5 744.6L412 743L412.6 745.4L413.1 743.3L413.7 745L414.2 743.2L414.8 745.1L415.3 742.9L415.9 744.9L416.4 744.4L417 745.4L417.5 744.7L418.1 745L418.6 744.9L419.2 745L419.7 744.7L420.3 745L420.8 743.8L421.4 744.9L421.9 742.9L422.5 745.7L423 743L423.6 745L424.1 743.6L424.7 744.8L425.2 742.5L425.7 738.2L425.8 738.7L426.3 733.5L426.7 716.7L426.9 702.2L427.9 472.3L429.2 692L429.6 688.3L429.7 682.5L430.3 717.1L430.7 712.5L430.9 705L431.8 738.5L432.4 743.9L432.9 743.5L433.9 718.1L434.6 734.6L435.1 743.7L435.7 744.5L436.2 744.3L436.8 744.5L437.5 741.9L437.9 743.7L438.4 745L439 742.7L439.3 740.5L440.1 745L440.6 744.2L441.2 745.3L441.7 743.6L442.3 744.8L442.8 743.1L443.4 745.4L444.1 741.9L445 745.6L445.6 744.3L446.1 745.7L446.7 744.5L447.2 744.4L447.8 743.5L448.3 744.8L448.9 743.1L449.4 744.4L450 743.5L450.5 744.8L451.1 743.5L451.6 744.7L452.2 743.6L452.7 741.2L453.1 737.4L453.8 742.9L454.1 741.4L455.3 687.1L456 720.1L456.3 720L457.1 738.9L457.7 740.6L457.7 740.3L458.2 741.9L458.4 740.8L458.8 742.8L459.3 744.8L459.9 742.8L460.7 735.5L461.5 743.1L462.1 744.6L462.6 743.6L463.2 744.4L463.7 743.9L464.3 745.7L464.8 744.1L465.4 744.9L465.9 742.7L466.5 744.3L467 743.9L467.6 745.1L468.1 744.8L468.7 744.8L469.2 744.5L469.8 745.5L470.3 745L470.9 745.7L471.4 743.4L472 745.5L472.5 742.7L473.1 745.6L473.6 742.9L474.2 745.5L474.7 745L475.8 744.4L476.4 744.7L476.9 744.6L477.5 745.6L478 743.1L478.6 744.7L479.1 742.9L479.7 744.7L480.2 744.8L481 740.5L481.3 740.4L482.2 715L483.2 618.9L484.1 705.3L484.5 708.4L484.7 700L485.2 718.8L485.6 731.2L486.3 705.4L487.4 744.2L487.9 743.4L489 704.4L490.1 744.8L490.7 744L491.2 745.2L491.8 743.1L492.3 744.4L492.9 743.1L493.4 744.9L494 744.3L494.5 745.6L495.1 742.7L495.6 744.7L496.2 743L496.7 745.2L497.3 743.5L497.8 744.3L498.4 743L498.9 744.9L499.5 744.3L500 745.1L500.6 742.9L501.1 745.2L501.7 743.4L502.2 744.9L502.8 742.8L503.3 744.6L503.9 744L504.2 742.5L505 745.1L505.5 743.6L506.1 744.6L506.6 742.9L507.2 745.6L507.7 743L508.3 744.6L509.4 741.6L509.7 738.7L509.9 740.3L510.5 742L510.7 740.5L511 736.7L511.9 712.7L512.7 732.7L513.2 739.2L513.8 743.4L514.3 740L514.9 743.7L515.4 741.9L516.1 734.6L517.1 743.9L517.6 745.6L518.2 743.1L518.7 744.6L519.3 744.4L519.8 744.9L520.4 742.8L520.9 744.5L521.5 743.7L522 745L522.6 743.6L523.1 745.4L523.7 744.5L524.2 745.4L524.8 743.3L525.3 745.2L525.9 743.6L526.4 745.1L527 743.8L527.5 745.5L528.6 744.3L529.2 744.1L529.7 745.6L530.3 743.5L530.8 744.6L531.4 744.6L531.9 744.9L532.5 744.2L533 745L533.6 745L534.1 745.7L534.7 742.6L535.2 744.5L535.8 743.8L536.3 744.9L536.9 744.4L537.4 742.8L537.7 741.2L538 741.4L538.7 718.2L538.9 700.8L539.9 520L540.7 664.6L541.2 735.2L542 706.3L542.9 738.8L543.5 744L544 745.5L544.6 742.7L545.1 745.3L545.7 743.6L546.2 744.7L546.8 741.6L547.3 743.8L547.9 742.4L548.2 740.2L548.4 741.6L549 742.6L549.5 745.4L550.1 744.9L550.6 745.3L551.2 744.2L551.7 744.4L552.3 742.8L552.8 744.5L553.4 744.9L553.9 744.6L554.5 743.3L555 744.8L555.6 742.6L556.1 745.6L556.7 744.7L557.2 744.6L557.8 742.7L558.3 744.8L558.9 744.3L559.4 744.9L560 743.2L560.5 742.2L560.7 741.4L561.1 741.4L561.3 739.7L561.6 741.8L562.2 744.3L562.8 739.7L563.3 742.8L563.8 745L564.9 744.5L565.5 743.5L566 739.5L566.6 742.8L567 740.9L567.1 741.5L568.2 721.3L568.8 732.2L569.3 737.3L569.8 730L570.4 738.7L570.6 737L571 731.9L571.4 722.1L572.1 736.2L572.6 744.7L573.2 743.7L573.7 742.9L573.9 741.9L574.3 743.4L574.8 744L575.4 745.5L575.9 744.3L576.5 744.5L577 744.2L577.6 745.5L578.1 743.8L578.7 745.3L579.2 742.8L579.8 745.5L580.3 742.7L580.9 745.6L581.4 742.9L582 744.8L582.5 744.5L583.1 745L583.6 744.3L584.2 745.3L584.7 744.5L585.3 745.2L585.8 742.6L586.4 744.3L586.9 742.8L587.5 745.6L588 744.3L588.6 744.4L589.1 744.9L589.7 744.7L590.2 744.3L590.8 744.3L591.3 745L592.4 744.2L593 745.5L593.5 743.2L594 739.8L594.1 740.1L594.6 734.2L595.2 720L595.7 699.1L596.2 667.8L596.8 705.3L597.4 722.8L597.7 712L598.6 739.8L599 741.5L599.9 721.3L600.7 738.1L601.2 743.6L601.8 745.4L602.3 744.8L602.9 744.7L603.4 744L604 744.7L604.5 744.9L605.6 744.2L606.1 744.5L606.7 742.9L607.2 745L607.8 745L608.9 743.9L609.4 744.5L610 743.5L610.6 739.5L611.1 743.4L611.6 744.6L612.2 745.2L612.7 743.6L613.3 745.7L613.8 743.8L614.4 745.1L614.9 743.8L615.5 745.5L616 743.3L616.6 744.6L617.1 742.9L617.7 745.3L618.2 743.3L618.8 745.2L619.3 743.2L619.9 744.7L620.5 742.4L621 743.8L621.5 744.4L622.2 740.3L622.6 740.3L623.4 728L623.7 729L624.4 710.6L625.4 738.9L626.3 719L627 737.4L627.6 744.7L628.1 744.8L628.7 744.5L629.2 743.3L629.8 745.6L630.3 744.7L630.9 745L631.4 743.8L632 745.3L632.5 744.7L633.1 745.1L633.6 744.7L634.2 744.9L634.7 742.9L635.3 745.5L635.8 743.6L636.4 744.7L637.5 744.5L638 742.7L638.6 745.2L639.1 744L639.7 744.5L640.2 743.7L640.8 745.1L641.3 742.7L641.9 744.6L642.4 744.2L643 745.4L643.5 744.2L644.1 745.1L644.6 742.6L645.2 744.6L645.7 742.8L646.3 744.6L646.8 743L647.4 745.6L647.9 743.8L648.5 744.4L649.6 741.4L649.9 739.2L650.1 741.1L650.7 731.9L651.3 715L652.1 671L652.9 719L653.4 738.7L654 733.2L654.5 722.6L655.1 735.4L655.6 744.8L656.2 744.4L656.7 744.8L657.6 740.3L658.4 744.8L658.9 744.4L659.5 745L660 744L660.6 744.4L661.1 744.3L661.7 745.3L662.2 743.4L662.8 745.5L663.3 743.6L663.9 744.4L664.4 743.8L665 745.3L665.5 743.9L666.1 745L666.6 744.6L667.2 745.5L667.7 744.7L668.3 745.3L668.8 744L669.4 745.3L669.9 744.4L670.5 745.6L671 743.7L671.6 744.5L672.1 743.5L672.7 744.9L673.2 743.4L673.8 744.2L674.3 741.8L674.9 743.7L675.4 742.9L675.8 741.2L676 742.4L676.5 744.4L677.1 745.4L677.6 743.8L678.4 739.9L678.7 742.3L679.4 732.6L679.8 725L679.8 726L680.4 718.6L680.6 713.4L681.5 736.9L682 741.1L682.6 742.8L683 740.3L683.7 744.1L684.2 745.1L684.8 743.2L685.3 745.5L685.9 744.5L686.4 744.4L687 743.2L687.5 745.5L688.1 744.2L688.6 745.2L689.2 743.4L689.7 744.8L690.3 743L690.8 744.6L691.4 743.8L691.9 744.7L692.5 743.2L693 744.6L693.6 743.9L694.1 744.6L694.7 743.3L695.2 744.4L695.8 744.7L696.3 744.5L696.9 745L697.4 744.6L698 743.6L698.5 745L699.1 742.7L699.6 744.9L700.2 744L700.7 744.6L701.3 742.9L701.8 744.8L702.4 744.1L702.9 745.1L703.5 743.9L704 744.7L704.6 744.3L705.1 745.2L705.7 743.7L706.2 744.8L706.9 741.7L707.3 743L707.9 734.5L708.3 724.5L709.1 686.2L710.1 734L710.6 739.6L711.2 742.9L711.5 741.4L711.7 742.7L712.3 744.5L712.8 745.1L713.4 742.8L713.9 745.7L714.5 744.9L715 744.9L715.6 743.8L716.1 744.4L716.7 743.1L717.2 744.9L717.8 742.6L718.3 745L718.9 743.8L719.4 744.7L720 744.1L720.5 743L720.9 741.1L721.1 742.2L721.6 742.7L722.2 744.8L722.7 743.7L723.3 745.6L723.8 744.1L724.4 745.1L724.9 743.7L725.5 744.9L726 742.9L726.6 744.3L727.1 743.8L727.7 745.1L728.2 743.5L728.8 744.3L729.3 742.5L729.6 741.1L730.4 745.5L731 742.7L731.4 739.8L732.1 744.6L732.6 744.7L733.2 744.4L733.7 743.3L734.3 739.5L734.8 742.4L735.3 738.9L735.4 739.6L736.5 701.2L737.6 739L737.8 737.7L738.1 740.9L738.7 742L738.9 740.9L739.2 742.9L739.8 745.1L740.3 743.1L740.9 745.3L741.4 743.3L742 745.7L742.5 744.3L743.1 744.5L743.6 743.6L744.2 744.8L744.7 744.5L745.3 745L745.8 743.7L746.4 745.3L746.9 743.4L747.5 745L748 742.6L748.6 744.9L749.1 744L749.7 745.5L750.2 744.6L751.3 744.7L751.9 745.6L752.4 744.6L753 745L753.5 743L754.1 744.8L754.6 743.1L755.2 744.7L755.8 741.5L756.3 743.9L756.8 744.7L757.4 744.2L757.9 745.5L758.5 744.4L759 745.6L759.6 742.8L760.1 744.9L760.7 744.2L761.2 745.1L761.8 744.1L762.3 742.7L762.7 740.6L762.9 741.3L763.1 740.3L763.4 742.2L763.7 740.8L764 736.6L764.9 712.3L765.6 732.5L766.2 740L766.7 743.6L767.3 739.8L767.8 743.6L768.4 742.7L768.9 745.4L769.5 744.1L770 744.7L770.6 744.5L771.1 745.3L771.7 742.9L772.2 745L772.8 743.1L773.3 742.1L773.9 744.7L775 744.3L775.5 742.1L775.8 740.6L776.1 742.3L776.6 742.7L777 740.4L777.7 744.8L778.3 745.5L778.8 743L779.4 743.3L779.7 741.9L779.9 743L781 745.4L781.6 744.9L782.1 744.8L782.7 744.2L783.2 744.2L783.8 741.7L784.3 744.4L784.9 744.5L785.5 741.8L786.5 744.6L787.1 744.6L787.6 745.2L788.2 743.3L788.7 745.2L789.8 739.7L790.1 737.2L790.4 740.2L790.9 739.1L791.1 737.8L791.5 741.4L792 739.2L792.3 737.5L792.6 739.5L793.1 741.8L793.6 737.6L794.2 743.7L794.7 741.9L795.3 744.7L795.9 745L796.4 743.7L797 745.3L797.5 743.1L798.1 745.2L798.6 743.4L799.2 744.9L799.7 744.3L800.3 745.2L800.8 744.8L801.4 745.5L801.9 743L802.5 745.3L803 743.4L803.6 745.5L804.1 743.7L804.7 745.2L805.2 743.8L805.8 745.3L806.3 744.8L806.9 745.3L807.4 744.5L807.4 746.8L74.3 746.8Z" fill="#0072bd" stroke="#0072bd" stroke-width="1.1" stroke-linejoin="round"/>
<path d="M414.8 744.7L414.8 470.5L441.9 470.5L441.9 744.7Z" fill="none" stroke="#ff0000" stroke-width="3.8" stroke-dasharray="7.15 7.15" stroke-dashoffset="2.1"/>
<line x1="442" y1="570.8" x2="518.6" y2="516.8" stroke="#ff0000" stroke-width="2.2"/>
<path d="M527.6 510.5L520.7 520.6L515.7 513.6Z" fill="#ff0000"/>
<rect x="529.8" y="480.4" width="230.9" height="132.7" fill="#fff"/>
<path d="M531.8 610.5L532.8 610.5L533.8 610.9L534.3 610.9L535.3 610.5L536.3 610.5L536.8 610.6L537.3 610.3L538.3 608.2L538.8 607.9L539.3 608.8L539.8 610L540.3 610.6L540.8 610.9L541.3 610.5L541.8 609.6L542.3 607.9L542.8 605L543.8 597.8L544.3 595.7L544.8 596L545.3 598.5L546.3 605.7L546.8 607.9L547.3 607.8L548.3 610.6L548.8 610.6L549.8 610.4L550.3 610.1L550.8 608.3L551.8 602.8L552.3 602L552.8 603.8L553.3 606.8L553.8 607.2L554.3 608.2L554.8 609.7L555.3 610.6L555.8 610.6L556.8 610.4L557.3 610.5L557.8 607.8L558.3 601.7L558.8 589.1L560.3 523.9L560.8 518.5L561.3 530.6L562.3 577.6L562.8 595.1L563.3 604.8L563.8 609L564.3 610.5L564.8 610.2L565.3 608.5L565.8 604.5L566.8 589.7L567.3 584.4L567.8 585.1L568.3 591.3L569.3 605.5L569.8 609L570.3 610.4L571.3 610.5L571.8 610.6L572.3 609.9L572.8 608.8L573.3 604.4L573.8 594.7L574.3 576.6L575.8 492.2L576.3 482L576.8 492.2L578.3 576.6L578.8 594.7L579.3 604.4L579.8 608.8L580.3 610.6L580.8 610.3L581.3 608.9L581.8 605.9L582.8 597.3L583.3 595.5L583.8 597.3L584.8 605.9L585.3 608.9L585.8 610.3L586.3 610.9L587.8 610.4L588.3 610.4L588.8 610.2L589.3 608.7L589.8 605.5L590.8 596.2L591.3 594.2L591.8 596.2L592.8 605.5L593.3 607.8L593.8 607.3L594.3 608L594.8 609.4L595.3 610.4L596.8 610.9L598.3 610.4L598.8 609.8L599.8 607.4L600.3 607.2L600.8 608.3L601.3 609.6L601.8 610.4L602.8 610.5L603.8 611L605.3 610.4L606.3 610.5L606.8 609.7L608.3 604.8L608.8 604.7L609.3 605.9L610.3 609.5L610.8 610.4L611.3 609.6L611.8 608.1L612.3 608.1L612.8 609.6L613.3 609.2L613.8 607.6L614.3 607.1L614.8 607.3L615.3 608.2L615.8 609.5L616.3 608.9L616.8 609.2L617.3 610.1L617.8 610.8L618.3 610.7L619.3 609.9L619.8 609.7L620.3 607.4L620.8 602.9L621.8 588L622.3 582.4L622.8 581.8L623.3 586.6L624.3 601.7L624.8 606.7L625.3 609.4L625.8 610.5L626.8 610.4L627.8 610.7L628.3 610.5L628.8 609.6L629.3 608.3L629.8 607.2L630.3 607.4L630.8 608.5L631.3 608.3L631.8 607.6L632.3 608.3L632.8 609.7L633.3 609.9L634.3 607.4L634.8 607.7L635.8 610.2L636.3 610.5L637.3 610.4L638.3 610.7L638.8 610.7L639.8 609.2L640.3 609.1L641.3 610.5L642.3 611L643.3 610.5L644.3 610.4L645.8 611L646.8 610.5L647.8 610.4L649.3 611L650.3 610.5L650.8 610.4L651.3 609.5L651.8 608.1L652.3 605.5L653.3 596.2L653.8 594.2L654.3 596.2L655.3 605.5L655.8 608.7L656.3 610.2L656.8 610.7L657.8 610.4L659.3 610.7L659.8 609.9L660.3 608.6L660.8 607.8L661.3 608.5L662.3 610.2L662.8 610.7L663.3 610.9L664.3 610.5L665.3 610.4L666.8 611L667.8 610.5L668.3 610L669.3 607.9L669.8 607.8L670.3 608.8L671.3 609.3L671.8 610.1L672.3 610.4L673.8 610.9L674.8 610.5L675.3 610.4L675.8 609.6L676.3 608.3L676.8 607.2L677.3 607.4L678.3 609.8L678.8 610.4L679.8 610.6L680.8 610.9L681.8 610.5L682.8 610.4L683.3 610.5L683.8 609.6L684.3 608.3L684.8 607.2L685.3 607.4L686.3 609.8L686.8 609.2L687.3 609.1L688.3 610.2L688.8 610.5L689.8 610.4L691.3 610.9L692.3 610.5L693.3 610.4L694.8 610.9L695.3 610.7L695.8 610.3L696.8 608.3L697.3 607.8L697.8 608.4L698.8 610.3L699.3 610.5L700.3 610.3L701.3 608.6L701.8 608.2L702.3 608.7L703.3 610.4L704.8 610.6L705.3 609.7L705.8 607.9L706.3 605.3L706.8 603.5L707.3 603.7L708.3 608.3L708.8 608.4L709.3 607.6L709.8 607.8L710.8 609.8L711.3 609L711.8 608.8L712.3 609.3L712.8 610.2L713.3 610.2L713.8 608.1L714.3 603.4L715.3 590.3L715.8 589.6L716.3 594.9L716.8 602.1L717.3 607.4L717.8 609.9L718.3 610.6L718.8 610.9L719.3 610.9L720.3 610.5L720.8 610.4L721.3 609.3L721.8 606.1L722.8 592.3L723.3 587L723.8 587.7L724.8 601.4L725.3 606.9L725.8 607.8L726.3 609.3L726.8 610.4L728.8 610.4L729.3 609.5L730.3 605.9L730.8 604.7L731.3 604.8L731.8 606.3L732.8 609.7L733.3 610.5L733.8 610.6L734.8 610.4L735.8 610.6L736.3 610.2L737.8 607.2L738.3 607.3L739.3 609.7L739.8 610.5L740.3 610.9L741.3 610.5L742.3 610.5L742.8 610.6L743.3 610.5L744.3 608.9L744.8 608.4L745.3 608.6L745.8 608.5L746.3 608.6L746.8 608.9L747.3 607.7L747.8 607.1L748.3 607.8L749.3 610.2L749.8 609.8L750.8 607.2L751.3 607.2L752.3 609.9L752.8 610.5L753.8 610.9L754.3 610.8L755.3 610.4L756.3 610.5L757.3 610.9L757.8 610.8L758.8 610.4" fill="none" stroke="#0072bd" stroke-width="3.0" stroke-linejoin="round"/>
<rect x="529.8" y="480.4" width="230.9" height="132.7" fill="none" stroke="#262626" stroke-width="3.3"/>
<line x1="529.8" y1="546.8" x2="536.8" y2="546.8" stroke="#262626" stroke-width="3.3"/>
<line x1="753.7" y1="546.8" x2="760.7" y2="546.8" stroke="#262626" stroke-width="3.3"/>
<line x1="575.2" y1="613.1" x2="575.2" y2="609.1" stroke="#262626" stroke-width="2.6"/>
<line x1="603.5" y1="613.1" x2="603.5" y2="609.1" stroke="#262626" stroke-width="2.6"/>
<line x1="691.5" y1="613.1" x2="691.5" y2="609.1" stroke="#262626" stroke-width="2.6"/>
<text x="512.8" y="488.4" font-size="22.97" fill="#262626">1</text>
<text x="512.3" y="617.3" font-size="21.96" fill="#262626">0</text>
<line x1="70.4" y1="832.9" x2="70.4" y2="1111.2" stroke="#262626" stroke-width="3.6"/>
<line x1="68.6" y1="1109.5" x2="806.5" y2="1109.5" stroke="#262626" stroke-width="3.5"/>
<line x1="68.7" y1="834.7" x2="79.6" y2="834.7" stroke="#262626" stroke-width="3.5"/>
<line x1="68.7" y1="972.1" x2="79.6" y2="972.1" stroke="#262626" stroke-width="3.5"/>
<line x1="90.8" y1="1109.5" x2="90.8" y2="1103" stroke="#262626" stroke-width="3.2"/>
<line x1="173" y1="1109.5" x2="173" y2="1103" stroke="#262626" stroke-width="3.2"/>
<line x1="255.1" y1="1109.5" x2="255.1" y2="1103" stroke="#262626" stroke-width="3.2"/>
<line x1="337.3" y1="1109.5" x2="337.3" y2="1103" stroke="#262626" stroke-width="3.2"/>
<line x1="419.5" y1="1109.5" x2="419.5" y2="1103" stroke="#262626" stroke-width="3.2"/>
<line x1="501.1" y1="1109.5" x2="501.1" y2="1103" stroke="#262626" stroke-width="3.2"/>
<line x1="582.9" y1="1109.5" x2="582.9" y2="1103" stroke="#262626" stroke-width="3.2"/>
<line x1="664.6" y1="1109.5" x2="664.6" y2="1103" stroke="#262626" stroke-width="3.2"/>
<line x1="746.4" y1="1109.5" x2="746.4" y2="1103" stroke="#262626" stroke-width="3.2"/>
<text x="49.5" y="849.6" font-size="29.46" fill="#262626">1</text>
<text x="51.4" y="1107.8" font-size="27.17" fill="#262626">0</text>
<text transform="translate(31.8 1079.2) rotate(-90)" font-size="31.99" fill="#262626" textLength="222.2" lengthAdjust="spacingAndGlyphs">Norm. amplitude</text>
<text x="185.6" y="868.3" font-size="34.2" font-weight="bold" fill="#000" font-family="'Open Sans', Carlito, 'Liberation Sans', sans-serif">g</text>
<text x="152.6" y="913.3" font-size="36.27" fill="#000" textLength="99.9" lengthAdjust="spacingAndGlyphs"><tspan font-style="italic">m</tspan><tspan> = 60</tspan></text>
<text x="227.7" y="1138.9" font-size="28.89" textLength="80.5" lengthAdjust="spacingAndGlyphs" fill="#262626">23.092</text>
<text x="404.3" y="1138.9" font-size="29.12" textLength="81.1" lengthAdjust="spacingAndGlyphs" fill="#262626">23.100</text>
<text x="579.4" y="1138.9" font-size="29.00" textLength="80.8" lengthAdjust="spacingAndGlyphs" fill="#262626">23.108</text>
<text x="705.3" y="1138.9" font-size="29.05" textLength="112.8" lengthAdjust="spacingAndGlyphs" fill="#262626">time [ms]</text>
<path d="M72.4 1108.8L89.9 1108.8L92.5 1104L92.9 1104.8L93.4 1101.6L93.8 1097.5L94.9 1108.6L95.4 1108.8L179.4 1108.8L179.9 1108.6L182.7 1105.2L185.4 1108.4L185.9 1108.8L267.9 1108.8L268.4 1107.1L269.6 1087.1L270.2 1057L271 1100L273.4 1108.1L273.9 1108.8L355.4 1108.8L355.9 1108.1L357 1099.8L357.9 1105.9L359.5 1102.5L362.4 1108.6L362.9 1108.8L441.9 1108.8L442.4 1107.6L443.4 1103.6L443.9 1093.3L444.6 1039L445.3 1090.6L446 835.2L446.4 981.1L446.9 1102.4L447.6 1080L448.4 1105.6L448.9 1108.8L530.9 1108.8L532.9 1102L533.5 1090L533.8 1080.6L534.4 1099.4L534.9 1104.7L535.9 1108.1L536.4 1108.8L618.4 1108.8L618.9 1108.1L620.4 1103L620.9 1099.9L621.5 1082.1L621.9 1094L622.4 1103.7L623.9 1108.8L708.9 1108.8L710.7 1104.4L712.4 1108.6L712.9 1108.8L795.4 1108.8L795.9 1108.5L797.9 1105.9L799.9 1108.5L800.4 1108.8L805.4 1108.8L805.4 1109.5L72.4 1109.5Z" fill="#0072bd" stroke="#0072bd" stroke-width="2.2" stroke-linejoin="round"/>
<path d="M431.9 1106.5L431.9 833L459.2 833L459.2 1106.5Z" fill="none" stroke="#ff0000" stroke-width="3.8" stroke-dasharray="7.15 7.15" stroke-dashoffset="2.8"/>
<line x1="459.5" y1="936.4" x2="535.8" y2="882.3" stroke="#ff0000" stroke-width="2.2"/>
<path d="M544.8 875.9L537.9 886.1L532.9 879Z" fill="#ff0000"/>
<rect x="548.5" y="836.8" width="230.5" height="132.9" fill="#fff"/>
<path d="M550.5 967.3L624.5 967.3L625 966.9L625.5 965.5L626 963.5L626.5 962.1L627 961.6L628 961.5L628.5 961.6L629 962.3L630 965.9L630.5 965L631 962.9L631.5 962.2L632.5 962.2L633 962.9L634 966.9L634.5 967.3L637 967.2L637.5 967L638 966.7L639.5 964.9L640 964.7L640.5 964.9L642 966.7L642.5 966.7L643 964.7L643.5 960L644.5 945.4L645 939.8L645.5 936.7L646 935.4L646.5 935.1L647.5 935.1L648 935.4L648.5 936.7L649 939.8L649.5 945.4L650.5 960L651 964.7L651.5 966.7L652 967.2L656.5 967.3L657 967.2L657.5 967L658 966.3L659 964L659.5 963.4L660 964L661 966.3L661.5 967L662 967.2L662.5 967.3L663 967.2L663.5 966.9L664 966L664.5 963.6L665 957.8L665.5 946.2L666 926.8L667.5 847.5L668 838.5L668.5 847.5L670 926.8L670.5 946.2L671 957.8L671.5 963.6L672 966L672.5 966.9L673 967.2L674 967.3L674.5 967.2L675 966.9L675.5 966L676.5 962.9L677 962.1L677.5 962.9L678.5 966L679 966.9L679.5 967.2L681.5 967.3L682 967.2L682.5 966.2L683.5 961.3L684 959.9L684.5 959.6L685.5 959.6L686 959.9L686.5 961.3L687 963.8L687.5 963.8L688 960.7L688.5 959.6L689 959.6L689.5 959.6L690 960.7L691 966.7L691.5 967.3L693 967.2L693.5 967L694 966.7L695.5 964.9L696 964.7L696.5 964.9L698 966.7L698.5 967L699.5 967.3L702 967.2L703 967L704.5 966.1L705 966L705.5 966.1L707 967L708 967.2L777.5 967.3" fill="none" stroke="#0072bd" stroke-width="3.0" stroke-linejoin="round"/>
<rect x="548.5" y="836.8" width="230.5" height="132.9" fill="none" stroke="#262626" stroke-width="3.3"/>
<line x1="548.5" y1="903.2" x2="555.5" y2="903.2" stroke="#262626" stroke-width="3.3"/>
<line x1="772" y1="903.2" x2="779" y2="903.2" stroke="#262626" stroke-width="3.3"/>
<line x1="552.9" y1="969.7" x2="552.9" y2="965.7" stroke="#262626" stroke-width="2.6"/>
<line x1="582.5" y1="969.7" x2="582.5" y2="965.7" stroke="#262626" stroke-width="2.6"/>
<line x1="612.1" y1="969.7" x2="612.1" y2="965.7" stroke="#262626" stroke-width="2.6"/>
<line x1="732.1" y1="969.7" x2="732.1" y2="965.7" stroke="#262626" stroke-width="2.6"/>
<line x1="761.7" y1="969.7" x2="761.7" y2="965.7" stroke="#262626" stroke-width="2.6"/>
<text x="533" y="845.3" font-size="20.00" fill="#262626">1</text>
<text x="531.9" y="973.6" font-size="21.52" fill="#262626">0</text>
<path d="M903.6 185L1031.4 103.8L1213.8 160.8" fill="none" stroke="#dedede" stroke-width="1.5" stroke-linejoin="round"/>
<path d="M903.6 99.1L1031.4 18L1213.8 74.9" fill="none" stroke="#dedede" stroke-width="1.5" stroke-linejoin="round"/>
<line x1="967.5" y1="230.2" x2="967.5" y2="58.6" stroke="#dedede" stroke-width="1.5"/>
<line x1="1031.4" y1="189.7" x2="1031.4" y2="18" stroke="#dedede" stroke-width="1.5"/>
<line x1="1122.6" y1="218.1" x2="1122.6" y2="46.4" stroke="#dedede" stroke-width="1.5"/>
<line x1="1213.8" y1="246.6" x2="1213.8" y2="74.9" stroke="#dedede" stroke-width="1.5"/>
<path d="M903.6 270.8L1087.4 327.5L1213.8 246.6L1031.4 189.7Z" fill="#3e26a8"/>
<path d="M1053.7 255.5l1.1-2.5 0.8 2.5-1.4-0.2zM1055.1 255.6l0.8-8.7 0.6 8.6-0.9-0.2zM1058.4 255.2l1-2.4 0.9 2.3-1.2-0.1zM1056.3 255.5l0.8-10.7 0.6 10.7-0.9-0.3zM1057.5 255.5l0.8-8.7 0.6 8.5-0.9-0.1zM1053.5 255.9l0.9-8.5 0.7 6.3-1.1 2z" fill="#3e26a8"/>
<path d="M1054.7 253.9l0.8-14.8 0.6 7.9-0.9 8.6z" fill="#3f29b0"/>
<path d="M1059.1 253.6l0.9-6.9 0.7 8.7-0.8-0.2z" fill="#3e26a8"/>
<path d="M1055.8 247.8l0.8-13.2 0.9 10.4-1.1 10.6z" fill="#402bb8"/>
<path d="M1058.1 246.9l0.8-8.3 0.6 15.1-0.8 1.7z" fill="#3f29b0"/>
<path d="M1056.7 245l1.1-10.6 0.6 13.3-0.8 7.8z" fill="#402bb8"/>
<path d="M1053.2 256.2l0.8-13 0.4 4.2-0.8 8.5z" fill="#3f29b0"/>
<path d="M1054.3 248.2l0.8-15.4 0.5 6.3-0.8 14.8z" fill="#402bb8"/>
<path d="M1060 246.7l0.6-4.9 0.6 13.8-0.7-0.2z" fill="#3f29b0"/>
<path d="M1055.4 240l0.8-14.1 0.6 8.7-0.9 13.2z" fill="#4331c7"/>
<path d="M1058.9 238.6l0.7-7 0.5 16-0.7 6.1z" fill="#402bb8"/>
<path d="M1051.3 256.1l1.4-1.3 0.6 1.3-1.7-0.4z" fill="#3e26a8"/>
<path d="M1056.3 235.3l1-12 0.9 11.7-1.1 10.7zM1057.7 234.5l0.7-9.2 0.6 14.2-0.7 8.2z" fill="#4331c7"/>
<path d="M1052.8 256.4l0.8-16.1 0.4 2.9-0.8 13z" fill="#3f29b0"/>
<path d="M1061.4 255.6l0.8-2.9 0.9 2.8-0.9 0zM1051.2 256.5l1.2-2.2 0.5 0.8-1.4 1.2z" fill="#3e26a8"/>
<path d="M1053.9 244.1l0.8-16.1 0.4 4.8-0.8 15.5z" fill="#4331c7"/>
<path d="M1060.6 241.8l0.6-3.7 0.5 17.6-0.6-0.1z" fill="#3f29b0"/>
<path d="M1055 233.7l0.8-14.9 0.5 7.1-0.8 14.1z" fill="#4536d5"/>
<path d="M1059.5 231.6l0.7-5.5 0.5 16.6-0.7 4.9z" fill="#4331c7"/>
<path d="M1056 226.8l0.9-13.2 0.6 9.7-0.9 12.2z" fill="#463de0"/>
<path d="M1058.4 225.3l0.7-7.9 0.5 15.1-0.7 7z" fill="#4536d5"/>
<path d="M1057.1 223.4l0.9-10.3 0.6 13-0.8 9.2z" fill="#463de0"/>
<path d="M1052.5 255.7l0.8-17 0.3 1.6-0.8 16.1z" fill="#3f29b0"/>
<path d="M1062 252.8l0.7-1.3 0.7 4.3-0.6-0.2zM1051 256.6l1.2-2.3 0.3 0-1.2 2.2z" fill="#3e26a8"/>
<path d="M1053.6 241.2l0.7-16.4 0.4 3.2-0.8 16.1z" fill="#4434ce"/>
<path d="M1061.2 238.1l0.5-2.4 0.6 17.9-0.6 2.1z" fill="#402bb8"/>
<path d="M1050.8 256.7l1.2-2.2 0.3-0.2-1.2 2.4z" fill="#3e26a8"/>
<path d="M1054.6 228.9l0.8-15.6 0.4 5.5-0.7 14.9z" fill="#463de0"/>
<path d="M1060.1 226.1l0.6-4.2 0.5 17.1-0.6 3.7z" fill="#4434ce"/>
<path d="M1052.2 255.1l0.8-17 0.3 0.6-0.8 17z" fill="#402bb8"/>
<path d="M1062.6 251.5l0.5-0.5 0.6 4.9-0.5-0.1z" fill="#3e26a8"/>
<path d="M1055.7 219.7l0.8-14.2 0.5 8.1-0.8 13.2z" fill="#4848ec"/>
<path d="M1059 217.4l0.7-6.4 0.5 16-0.7 5.5z" fill="#4741e5"/>
<path d="M1056.6 214.3l1-12 0.8 11.3-1.1 10.6z" fill="#484cef"/>
<path d="M1057.9 213.1l0.7-8.9 0.6 14.1-0.8 7.9z" fill="#4848ec"/>
<path d="M1050.5 256.9l1.5-1.2 0.1-1.2-1.2 2.3z" fill="#3e26a8"/>
<path d="M1053.2 239.6l0.8-16.7 0.4 1.9-0.8 16.4z" fill="#4434ce"/>
<path d="M1061.7 235.7l0.5-1.5 0.5 18.2-0.5 1.2z" fill="#402bb8"/>
<path d="M1063 251l0.4-0.1 0.6 5.1-0.3-0.1z" fill="#3e26a8"/>
<path d="M1052 255.1l0.8-17.1 0.2 0.1-0.8 17.1z" fill="#402bb8"/>
<path d="M1054.3 225.7l0.7-16.1 0.4 3.7-0.7 15.6z" fill="#4744e9"/>
<path d="M1060.7 221.9l0.5-2.9 0.6 17.6-0.6 2.4z" fill="#4536d5"/>
<path d="M1063.3 250.9l0.3 0.2 0.7 5-0.4-0.1z" fill="#3e26a8"/>
<path d="M1051.8 255.4l0.8-17.1 0.2-0.3-0.8 17.1z" fill="#402bb8"/>
<path d="M1050 256.9l1.4 0.5 0.4-1.9-1.5 1.1z" fill="#3e26a8"/>
<path d="M1055.3 214.2l0.8-15 0.4 6.3-0.7 14.2z" fill="#4853f5"/>
<path d="M1059.6 211l0.6-4.8 0.6 16.6-0.6 4.2z" fill="#4848ec"/>
<path d="M1053 239l0.7-16.9 0.3 0.8-0.8 16.7z" fill="#4536d5"/>
<path d="M1062.2 234.2l0.4-0.5 0.5 18.2-0.4 0.5z" fill="#402bb8"/>
<path d="M1056.3 206.4l0.8-13.3 0.6 9.2-0.8 12.2z" fill="#475bf9"/>
<path d="M1058.5 204.2l0.7-7.4 0.5 15.1-0.6 6.4z" fill="#4853f5"/>
<path d="M1057.3 202.4l0.9-10.2 0.6 12.9-0.8 8.9z" fill="#465efb"/>
<path d="M1051.5 256.3l0.8-17 0.3-1-0.8 17.1z" fill="#402bb8"/>
<path d="M1063.6 251.2l0.5 0.7 0.6 4.3-0.5-0.1z" fill="#3e26a8"/>
<path d="M1054 223.8l0.7-16.4 0.4 2.2-0.8 16.1z" fill="#4848ec"/>
<path d="M1061.2 219l0.5-1.7 0.5 17.8-0.5 1.5z" fill="#463adb"/>
<path d="M1062.6 233.7l0.3-0.1 0.5 18.2-0.3 0.1z" fill="#402bb8"/>
<path d="M1052.8 238.9l0.7-16.9 0.2 0.1-0.7 16.9z" fill="#4536d5"/>
<path d="M1055 210.5l0.7-15.7 0.4 4.4-0.7 15z" fill="#475bf9"/>
<path d="M1060.2 206.2l0.6-3.4 0.5 17.1-0.6 2.9z" fill="#484cef"/>
<path d="M1056 200.1l0.7-14.3 0.5 7.3-0.7 13.3z" fill="#426afe"/>
<path d="M1059.2 196.8l0.6-5.7 0.5 16-0.6 4.8z" fill="#465efb"/>
<path d="M1062.9 233.6l0.3 0.2 0.5 18.2-0.3-0.2z" fill="#402bb8"/>
<path d="M1052.6 239.2l0.7-16.8 0.2-0.3-0.7 16.8z" fill="#4536d5"/>
<path d="M1051.2 257.4l0.8-16.1 0.3-2-0.7 17z" fill="#3f29b0"/>
<path d="M1064 251.9l0.5 1.5 0.7 2.9-0.6-0.1z" fill="#3e26a8"/>
<path d="M1058.1 192.3l0.7-8.6 0.5 14-0.7 7.4z" fill="#3f6efe"/>
<path d="M1056.9 193.9l0.9-12.1 0.8 10.8-1.1 10.6z" fill="#3c72ff"/>
<path d="M1053.7 223l0.7-16.6 0.3 1-0.7 16.4z" fill="#4848ec"/>
<path d="M1061.7 217.3l0.4-0.6 0.5 17.9-0.4 0.5z" fill="#463adb"/>
<path d="M1052.3 240.2l0.8-16.7 0.3-1.1-0.8 16.8z" fill="#4536d5"/>
<path d="M1063.1 233.8l0.5 0.9 0.5 18.1-0.4-0.8z" fill="#402bb8"/>
<path d="M1054.7 208.3l0.7-16.1 0.4 2.6-0.8 15.7z" fill="#465efb"/>
<path d="M1060.7 202.8l0.5-2 0.5 17.4-0.5 1.7z" fill="#4850f2"/>
<path d="M1062.1 216.7l0.3-0.1 0.5 17.9-0.3 0.1z" fill="#463adb"/>
<path d="M1053.5 222.9l0.7-16.6 0.2 0.1-0.7 16.6z" fill="#4848ec"/>
<path d="M1055.7 195.7l0.7-15.1 0.4 5.2-0.7 14.3z" fill="#3876fe"/>
<path d="M1059.7 191.1l0.6-4 0.5 16.6-0.6 3.4z" fill="#4466fd"/>
<path d="M1050.8 257.7l0.8-13.1 0.4-3.3-0.8 16.1z" fill="#3f29b0"/>
<path d="M1064.4 253.4l0.7 3.4 0.8-0.4-0.8 0z" fill="#3e26a8"/>
<path d="M1058.7 183.7l0.6-6.8 0.5 15.1-0.6 5.7z" fill="#317efb"/>
<path d="M1056.6 186.7l0.8-13.4 0.5 8.6-0.8 12.1zM1057.5 181.9l0.9-9.9 0.5 12.6-0.7 8.5z" fill="#2e85f8"/>
<path d="M1062.4 216.6l0.3 0.2 0.5 17.9-0.3-0.2z" fill="#463adb"/>
<path d="M1053.3 223.3l0.7-16.6 0.3-0.3-0.8 16.5z" fill="#4848ec"/>
<path d="M1052 242.2l0.7-16.4 0.4-2.3-0.8 16.7z" fill="#4434ce"/>
<path d="M1063.5 234.7l0.5 1.7 0.6 17.9-0.5-1.5z" fill="#402bb8"/>
<path d="M1054.4 207.3l0.7-16.2 0.3 1.1-0.7 16.1z" fill="#4562fc"/>
<path d="M1061.2 200.8l0.4-0.8 0.5 17.6-0.4 0.6z" fill="#4853f5"/>
<path d="M1055.3 193.1l0.8-15.7 0.3 3.2-0.7 15.1z" fill="#317efb"/>
<path d="M1060.3 187.1l0.5-2.4 0.5 17-0.5 2z" fill="#3f6efe"/>
<path d="M1053 224.4l0.8-16.4 0.3-1.3-0.8 16.6z" fill="#4848ec"/>
<path d="M1062.7 216.8l0.4 1 0.5 17.8-0.4-0.9z" fill="#463adb"/>
<path d="M1050.4 257.9l0.9-8.6 0.4-4.7-0.8 13.1z" fill="#3f29b0"/>
<path d="M1061.6 200l0.3-0.1 0.5 17.6-0.3 0.1z" fill="#4853f5"/>
<path d="M1054.2 207.2l0.7-16.3 0.2 0.2-0.7 16.2z" fill="#4562fc"/>
<path d="M1059.3 176.9l0.6-4.9 0.4 16-0.5 4z" fill="#2e85f8"/>
<path d="M1056.3 181.5l0.7-14.4 0.4 6.2-0.7 13.4z" fill="#2c90f0"/>
<path d="M1057.2 174.2l0.8-12.2 0.7 10.2-0.9 10.5z" fill="#269ae9"/>
<path d="M1058.3 172l0.6-8.1 0.5 13.9-0.6 6.8z" fill="#2797eb"/>
<path d="M1051.6 245.5l0.8-16 0.3-3.7-0.7 16.4z" fill="#4434ce"/>
<path d="M1064 236.4l0.6 2.8 0.5 17.6-0.5-2.5z" fill="#402bb8"/>
<path d="M1061.9 199.9l0.3 0.2 0.5 17.6-0.3-0.2z" fill="#4853f5"/>
<path d="M1054 207.6l0.7-16.3 0.2-0.4-0.7 16.3z" fill="#4562fc"/>
<path d="M1055.1 192l0.7-16 0.3 1.4-0.7 15.7z" fill="#2f82fa"/>
<path d="M1060.8 184.7l0.4-1.1 0.5 17.3-0.5 0.8z" fill="#3c72ff"/>
<path d="M1052.7 226.7l0.7-16.1 0.4-2.6-0.8 16.4z" fill="#4848ec"/>
<path d="M1063.1 217.8l0.5 1.9 0.5 17.6-0.5-1.7z" fill="#463adb"/>
<path d="M1050 258.2l0.9-1.8 0.4-7.1-0.9 8.6z" fill="#3e26a8"/>
<path d="M1059.8 172l0.5-3 0.5 16.6-0.5 2.4z" fill="#2d8cf3"/>
<path d="M1056 178.3l0.7-15.2 0.3 4-0.6 14.4z" fill="#269ae9"/>
<path d="M1053.7 208.9l0.7-16.1 0.3-1.5-0.7 16.3z" fill="#4562fc"/>
<path d="M1062.2 200.1l0.4 1.1 0.5 17.5-0.4-1z" fill="#4853f5"/>
<path d="M1056.9 168l0.7-13.6 0.5 7.7-0.7 12.1z" fill="#1da9e0"/>
<path d="M1058.9 163.9l0.6-6.1 0.4 15.1-0.6 4.9z" fill="#21a3e3"/>
<path d="M1061.2 183.6l0.3-0.1 0.4 17.3-0.2 0.1z" fill="#3c72ff"/>
<path d="M1054.9 191.8l0.7-15.9 0.2 0.1-0.7 16z" fill="#2f82fa"/>
<path d="M1051.2 250.2l0.8-15.4 0.4-5.3-0.8 16z" fill="#4331c7"/>
<path d="M1064.5 239.2l0.6 4 0.6 13.8-0.6-0.2z" fill="#3f29b0"/>
<path d="M1057.7 162.2l0.8-9.8 0.6 12.3-0.7 8.2z" fill="#1aacdd"/>
<path d="M1052.3 230.4l0.8-15.6 0.3-4.2-0.7 16.1z" fill="#4744e9"/>
<path d="M1063.5 219.7l0.6 3.2 0.5 17.2-0.6-2.8z" fill="#4536d5"/>
<path d="M1061.4 183.5l0.3 0.3 0.5 17.2-0.3-0.2z" fill="#3c72ff"/>
<path d="M1054.7 192.2l0.7-15.9 0.2-0.4-0.7 15.9z" fill="#2f82fa"/>
<path d="M1060.3 169l0.4-1.3 0.5 16.8-0.4 1.1z" fill="#2a93ed"/>
<path d="M1055.7 176.9l0.7-15.5 0.3 1.7-0.7 15.2z" fill="#23a0e5"/>
<path d="M1053.4 211.5l0.7-15.7 0.4-3-0.8 16.1z" fill="#465efb"/>
<path d="M1062.6 201.2l0.5 2.3 0.5 17.1-0.5-1.9z" fill="#4850f2"/>
<path d="M1049.3 258.3l1.2 0.4 0.5-3.2-1.2 2.6z" fill="#3e26a8"/>
<path d="M1056.6 164l0.7-14.5 0.4 4.9-0.7 13.6z" fill="#0cb3d3"/>
<path d="M1059.4 157.8l0.5-3.8 0.5 15.9-0.5 3z" fill="#1aacdd"/>
<path d="M1057.5 155.3l0.7-12.2 0.6 9.4-0.8 10.4z" fill="#03bbc2"/>
<path d="M1058.4 152.4l0.7-7.6 0.4 13.9-0.6 6.1z" fill="#01b9c6"/>
<path d="M1050.8 256.4l0.8-14.8 0.4-6.8-0.8 15.4z" fill="#402bb8"/>
<path d="M1065.1 243.2l0.6 5.2 0.6 8.8-0.7-0.2z" fill="#3f29b0"/>
<path d="M1054.4 193.7l0.7-15.7 0.3-1.7-0.7 15.9z" fill="#2f82fa"/>
<path d="M1061.7 183.8l0.4 1.3 0.5 17-0.4-1.1z" fill="#3c72ff"/>
<path d="M1060.7 167.7l0.3-0.2 0.5 16.9-0.3 0.1z" fill="#2a93ed"/>
<path d="M1055.5 176.8l0.7-15.7 0.2 0.3-0.7 15.5z" fill="#23a0e5"/>
<path d="M1051.9 235.7l0.8-14.9 0.4-6-0.8 15.6z" fill="#463de0"/>
<path d="M1064.1 222.9l0.5 4.6 0.6 16.6-0.6-4z" fill="#4434ce"/>
<path d="M1053 215.7l0.8-15 0.3-4.9-0.7 15.7z" fill="#475bf9"/>
<path d="M1063.1 203.5l0.5 3.7 0.5 16.6-0.5-3.2z" fill="#484cef"/>
<path d="M1056.4 162.3l0.6-15.1 0.3 2.3-0.6 14.5z" fill="#02b7cb"/>
<path d="M1059.9 154l0.4-1.7 0.5 16.3-0.5 1.3z" fill="#17aeda"/>
<path d="M1061 167.5l0.3 0.4 0.5 16.8-0.3-0.3z" fill="#2a93ed"/>
<path d="M1055.4 177.2l0.6-15.6 0.2-0.5-0.6 15.7z" fill="#23a0e5"/>
<path d="M1054.1 196.7l0.7-15.1 0.3-3.6-0.7 15.7z" fill="#317efb"/>
<path d="M1062.1 185.1l0.5 2.7 0.5 16.6-0.5-2.3z" fill="#3f6efe"/>
<path d="M1057.2 150.4l0.6-13.7 0.4 6.4-0.6 12.2z" fill="#28c2ab"/>
<path d="M1059 144.8l0.5-5 0.5 15.1-0.5 3.8z" fill="#12beb9"/>
<path d="M1057.8 143.2l0.9-9.6 0.5 12.1-0.7 7.6z" fill="#2cc4a6"/>
<path d="M1050.3 258.7l0.9-8.7 0.4-8.4-0.8 14.8z" fill="#3f29b0"/>
<path d="M1065.7 248.4l0.7 7.5 0.6 1.5-0.8-0.2z" fill="#3e26a8"/>
<path d="M1060.3 152.3l0.3-0.3 0.4 16.4-0.2 0.2z" fill="#12b1d7"/>
<path d="M1056.2 162l0.6-15.2 0.2 0.4-0.6 15.1z" fill="#01b9c6"/>
<path d="M1061.3 167.9l0.4 1.6 0.5 16.5-0.5-1.3z" fill="#2a93ed"/>
<path d="M1055.1 178.9l0.6-15.2 0.3-2.1-0.6 15.6z" fill="#23a0e5"/>
<path d="M1051.5 242.5l0.8-14.1 0.4-7.6-0.8 14.9z" fill="#4536d5"/>
<path d="M1064.6 227.5l0.7 5.9 0.5 15.9-0.7-5.2z" fill="#4331c7"/>
<path d="M1052.6 221.7l0.8-14.2 0.4-6.8-0.8 15z" fill="#4853f5"/>
<path d="M1063.6 207.2l0.6 5.2 0.5 16-0.6-4.6z" fill="#4848ec"/>
<path d="M1057 148.1l0.6-14.6 0.3 3.2-0.6 13.7z" fill="#30c5a1"/>
<path d="M1059.5 139.8l0.4-2.4 0.5 15.8-0.5 1.7z" fill="#22c1b0"/>
<path d="M1060.6 152l0.3 0.4 0.4 16.4-0.3-0.4z" fill="#12b1d7"/>
<path d="M1056 162.5l0.6-15.1 0.2-0.6-0.6 15.2z" fill="#01b9c6"/>
<path d="M1053.7 201.6l0.7-14.3 0.4-5.7-0.7 15.1z" fill="#3876fe"/>
<path d="M1062.6 187.8l0.5 4.4 0.5 15.9-0.5-3.7z" fill="#4466fd"/>
<path d="M1057.8 137.6l0.6-12.4 0.5 8.4-0.7 10.4z" fill="#53cc7d"/>
<path d="M1058.6 133.6l0.6-6.8 0.4 13.9-0.5 5z" fill="#4bcb84"/>
<path d="M1061.7 169.5l0.5 3.2 0.4 16-0.5-2.7z" fill="#2d8cf3"/>
<path d="M1054.7 182.5l0.7-14.4 0.4-4.4-0.7 15.2z" fill="#269ae9"/>
<path d="M1059.9 137.4l0.3-0.4 0.4 15.9-0.3 0.3z" fill="#28c2ab"/>
<path d="M1056.8 147.7l0.6-14.7 0.2 0.5-0.6 14.6z" fill="#34c79c"/>
<path d="M1049.8 259l0.9 0.2 0.4-9.2-0.8 8.7zM1066.2 255l0.9 2.9 0.8-0.5-1.2 0z" fill="#3e26a8"/>
<path d="M1055.7 164.6l0.6-14.5 0.3-2.7-0.6 15.1z" fill="#02b7cb"/>
<path d="M1060.9 152.4l0.4 2 0.4 16-0.4-1.6z" fill="#17aeda"/>
<path d="M1051.1 250.9l0.7-13.2 0.5-9.3-0.8 14.1z" fill="#4331c7"/>
<path d="M1065.2 233.4l0.7 7.3 0.5 15.2-0.7-6.6z" fill="#402bb8"/>
<path d="M1052.2 229.3l0.8-13.2 0.4-8.6-0.8 14.2z" fill="#4848ec"/>
<path d="M1064.1 212.4l0.7 6.8 0.5 15.1-0.7-5.9z" fill="#4741e5"/>
<path d="M1057.5 134.4l0.6-13.8 0.3 4.6-0.6 12.4z" fill="#77cc60"/>
<path d="M1059.1 126.8l0.5-3.6 0.4 15.1-0.5 2.4z" fill="#64cd6f"/>
<path d="M1053.3 208.4l0.7-13.3 0.4-7.8-0.7 14.3z" fill="#426afe"/>
<path d="M1063.1 192.2l0.6 6 0.5 15.1-0.6-5.2z" fill="#465efb"/>
<path d="M1058 125.4l0.8-9.6 0.5 11.8-0.6 6.9z" fill="#94ca4a"/>
<path d="M1060.2 137l0.3 0.6 0.4 15.7-0.3-0.4z" fill="#28c2ab"/>
<path d="M1056.6 148.3l0.6-14.5 0.2-0.8-0.6 14.7z" fill="#34c79c"/>
<path d="M1062.2 172.7l0.5 5.3 0.5 15.1-0.6-4.4z" fill="#2e85f8"/>
<path d="M1054.4 188.2l0.7-13.4 0.3-6.7-0.6 14.4z" fill="#2c90f0"/>
<path d="M1055.4 169l0.6-13.5 0.4-5.4-0.7 14.5z" fill="#0cb3d3"/>
<path d="M1061.3 154.4l0.5 4.1 0.4 15.1-0.5-3.2z" fill="#1aacdd"/>
<path d="M1059.6 123.2l0.3-0.6 0.3 15.3-0.3 0.4z" fill="#6dcd67"/>
<path d="M1057.3 133.9l0.6-14.2 0.2 0.9-0.5 13.8z" fill="#81cc59"/>
<path d="M1056.3 151l0.6-13.7 0.3-3.5-0.6 14.5z" fill="#30c5a1"/>
<path d="M1060.5 137.6l0.4 2.6 0.4 15.1-0.4-2z" fill="#22c1b0"/>
<path d="M1058 121.5l0.6-12.7 0.3 7-0.5 10.3z" fill="#c8c129"/>
<path d="M1058.8 115.8l0.4-5.6 0.4 13.9-0.4 3.6z" fill="#c0c32d"/>
<path d="M1050.6 259.2l1-10.6 0.2-10.9-0.7 13.2z" fill="#402bb8"/>
<path d="M1065.9 240.7l0.7 8.7 0.5 8.5-0.7-2z" fill="#3f29b0"/>
<path d="M1051.8 238.6l0.8-12.2 0.4-10.3-0.8 13.2z" fill="#463de0"/>
<path d="M1064.7 219.2l0.7 8.2 0.5 14.2-0.7-7.3z" fill="#4536d5"/>
<path d="M1059.8 122.6l0.3 0.8 0.4 15.1-0.3-0.6z" fill="#6dcd67"/>
<path d="M1057.2 134.7l0.5-13.8 0.2-1.2-0.5 14.2z" fill="#81cc59"/>
<path d="M1052.9 217l0.7-12.2 0.4-9.7-0.7 13.3z" fill="#475bf9"/>
<path d="M1063.7 198.2l0.6 7.8 0.5 14.1-0.6-6.8z" fill="#4853f5"/>
<path d="M1062.7 178l0.6 7.1 0.4 14-0.6-6z" fill="#317efb"/>
<path d="M1054 196l0.7-12.2 0.4-9-0.7 13.4z" fill="#2e85f8"/>
<path d="M1055 175.7l0.7-12.2 0.3-8-0.6 13.5z" fill="#1da9e0"/>
<path d="M1061.7 158.5l0.6 6.4 0.4 14-0.5-5.3z" fill="#21a3e3"/>
<path d="M1059.2 110.2l0.3-1.2 0.4 14.5-0.3 0.6z" fill="#d0bf27"/>
<path d="M1057.9 120.6l0.5-13.4 0.2 1.6-0.5 12.7z" fill="#debc2a"/>
<path d="M1056 156.4l0.6-12.3 0.3-6.8-0.6 13.7z" fill="#28c2ab"/>
<path d="M1060.9 140.2l0.5 5.3 0.4 13.9-0.5-4.1z" fill="#12beb9"/>
<path d="M1058.2 109.5l0.8-9.9 0.3 11.5-0.5 5.6z" fill="#fbbc3d"/>
<path d="M1056.9 138.2l0.5-12.4 0.3-4.9-0.5 13.8z" fill="#77cc60"/>
<path d="M1060.1 123.4l0.4 3.8 0.4 13.9-0.4-2.6z" fill="#64cd6f"/>
<path d="M1059.5 109l0.3 1.4 0.3 13.9-0.2-0.8z" fill="#d0bf27"/>
<path d="M1057.7 121.8l0.5-12.7 0.2-1.9-0.5 13.4z" fill="#debc2a"/>
<path d="M1050.1 259.5l0.8 0.2 0.5-11.2-0.8 10.7zM1066.5 249.4l0.7 9.1 0.6-0.4-0.8-0.2z" fill="#3e26a8"/>
<path d="M1051.3 249.4l0.8-10.4 0.4-12.6-1.1 11.9zM1065.4 227.4l0.7 9.6 0.5 13.3-0.7-8.7z" fill="#4331c7"/>
<path d="M1052.5 227.3l0.8-10.3 0.3-12.2-0.9 12.2z" fill="#484cef"/>
<path d="M1064.3 206l0.7 9.3 0.4 13-0.6-8.2z" fill="#4848ec"/>
<path d="M1058.9 99.6l0.3-3.1 0.3 13.3-0.3 1.3z" fill="#fec636"/>
<path d="M1058.3 108.1l0.5-12.4 0.2 3.9-0.4 10.1z" fill="#feca33"/>
<path d="M1063.3 185.1l0.6 8.9 0.4 12.9-0.6-7.8z" fill="#3f6efe"/>
<path d="M1053.6 205.7l0.9-10.1 0.2-11.8-0.8 12.2z" fill="#3c72ff"/>
<path d="M1054.6 184.7l1-10.6 0.1-10.6-0.7 12.2z" fill="#269ae9"/>
<path d="M1062.3 164.9l0.6 8.5 0.4 12.6-0.6-7.1z" fill="#2797eb"/>
<path d="M1055.6 164.4l0.7-10.5 0.3-9.8-0.6 12.2z" fill="#03bbc2"/>
<path d="M1061.4 145.5l0.5 7.9 0.4 12.4-0.5-6.4z" fill="#01b9c6"/>
<path d="M1056.5 145l0.6-10.4 0.3-8.8-0.5 12.4z" fill="#53cc7d"/>
<path d="M1060.5 127.2l0.5 7.1 0.4 12.1-0.5-5.3z" fill="#4bcb84"/>
<path d="M1057.4 126.7l0.5-10.3 0.3-7.3-0.5 12.7z" fill="#c8c129"/>
<path d="M1059.8 110.4l0.4 5.8 0.4 11.9-0.5-3.8z" fill="#c0c32d"/>
<path d="M1059.2 96.5l0.3 3.2 0.3 11.6-0.3-1.5z" fill="#fec636"/>
<path d="M1058.2 110l0.4-10.2 0.2-4.1-0.4 12.4z" fill="#feca33"/>
<path d="M1058.7 96.6l0.4-10.1 0.2 10.9-0.3 3.1z" fill="#f5eb23"/>
<path d="M1050.8 259.7l0.8-7.7 0.5-13.9-0.8 10.4z" fill="#402bb8"/>
<path d="M1052 239l0.7-9.2 0.5-13.6-0.8 10.2z" fill="#463de0"/>
<path d="M1053.1 217.1l0.7-8.9 0.4-13.4-0.7 10z" fill="#465efb"/>
<path d="M1054.2 195.7l0.7-8.6 0.4-13.1-0.7 9.8z" fill="#2e85f8"/>
<path d="M1055.2 174.9l0.6-8.2 0.4-12.8-0.6 9.6z" fill="#1aacdd"/>
<path d="M1056.2 154.8l0.5-7.6 0.4-12.6-0.6 9.5z" fill="#2cc4a6"/>
<path d="M1057.1 135.5l0.5-6.8 0.3-12.3-0.6 9.4z" fill="#94ca4a"/>
<path d="M1057.9 117.3l0.4-5.6 0.3-11.9-0.8 10z" fill="#fbbc3d"/>
<path d="M1058.6 100.7l0.3-3.1 0.2-11.1-0.3 10.1zM1059 86.5l0.3 10.3 0.2 3.8-0.3-3.2z" fill="#f5eb23"/>
<path d="M1059.5 99.7l0.5 10.4 0.2 7-0.4-5.8z" fill="#fbbc3d"/>
<path d="M1060.2 116.2l0.9 10-0.1 9-0.5-7.1z" fill="#94ca4a"/>
<path d="M1061 134.3l0.7 9.8 0.2 10.2-0.6-7.9z" fill="#2cc4a6"/>
<path d="M1061.9 153.4l0.7 10.1 0.3 10.8-0.6-8.5z" fill="#1aacdd"/>
<path d="M1062.8 173.4l0.8 10.2 0.3 11.3-0.7-8.9z" fill="#2e85f8"/>
<path d="M1063.9 194l0.7 10.5 0.4 11.7-0.7-9.3z" fill="#465efb"/>
<path d="M1064.9 215.3l0.8 10.6 0.4 12-0.7-9.6z" fill="#463de0"/>
<path d="M1066 237l1 10.9 0.2 10.6-0.7-8.2z" fill="#402bb8"/>
<path d="M1058.8 97.6l0.3 3.3 0.3-4.1-0.4-10.3z" fill="#f5eb23"/>
<path d="M1058.3 111.7l0.3-1.2 0.3-13.8-0.3 3.1z" fill="#fec636"/>
<path d="M1059.3 95.9l0.4 12.6 0.2 1.7-0.4-10.5z" fill="#feca33"/>
<path d="M1057.5 128.7l0.5-3.5 0.3-14.4-0.4 5.6z" fill="#c0c32d"/>
<path d="M1059.9 109.3l0.5 12.9 0.3 4.6-0.5-10.6z" fill="#c8c129"/>
<path d="M1056.7 147.2l0.5-5 0.4-14.4-0.5 6.8z" fill="#4bcb84"/>
<path d="M1060.7 125.9l0.5 12.7 0.4 6.4-0.6-10.7z" fill="#53cc7d"/>
<path d="M1055.8 166.7l0.5-6 0.4-14.4-0.5 7.6z" fill="#01b9c6"/>
<path d="M1061.5 144.1l0.6 12.6 0.4 7.6-0.7-10.9z" fill="#03bbc2"/>
<path d="M1054.8 187.1l0.6-6.8 0.4-14.5-0.6 8.2z" fill="#2797eb"/>
<path d="M1062.4 163.4l0.7 12.6 0.4 8.5-0.7-11.1z" fill="#269ae9"/>
<path d="M1053.8 208.2l0.6-7.4 0.4-14.6-0.6 8.6z" fill="#3f6efe"/>
<path d="M1063.4 183.6l0.7 12.6 0.4 9.1-0.8-11.3z" fill="#3c72ff"/>
<path d="M1058.6 110.5l0.3 1.4 0.3-11.9-0.3-3.3z" fill="#fec636"/>
<path d="M1059.1 100l0.4 10.4 0.3-1.9-0.5-12.6z" fill="#feca33"/>
<path d="M1064.5 204.4l0.7 12.6 0.4 9.8-0.9-11.5z" fill="#484cef"/>
<path d="M1052.7 229.8l0.6-7.8 0.5-14.7-0.7 8.9z" fill="#4848ec"/>
<path d="M1051.5 252l0.7-8.2 0.5-14.9-0.7 9.2zM1065.6 225.9l0.8 12.6 0.4 10.2-1.1-11.4z" fill="#4331c7"/>
<path d="M1050.3 260l0.8 0.3 0.5-9.2-0.7 8.6zM1066.7 247.8l0.8 11.2 0.5-0.3-0.8-0.2z" fill="#3e26a8"/>
<path d="M1058 125.2l0.2-0.7 0.4-14.9-0.3 1.2z" fill="#d0bf27"/>
<path d="M1059.7 107.6l0.5 13.7 0.2 0.9-0.5-12.9z" fill="#debc2a"/>
<path d="M1057.2 142.2l0.4-2.4 0.4-15.5-0.4 3.5z" fill="#64cd6f"/>
<path d="M1060.4 121.3l0.5 14.2 0.3 3.1-0.5-12.7z" fill="#77cc60"/>
<path d="M1058.8 111.9l0.5 5.9 0.6-7.7-0.8-10.1z" fill="#fbbc3d"/>
<path d="M1056.3 160.7l0.5-3.8 0.4-15.6-0.5 5z" fill="#12beb9"/>
<path d="M1061.2 137.7l0.6 14.1 0.3 4.9-0.6-12.6z" fill="#28c2ab"/>
<path d="M1058.2 124.5l0.3 0.8 0.4-14.3-0.3-1.4z" fill="#d0bf27"/>
<path d="M1059.5 109.5l0.5 13 0.2-1.2-0.5-13.7z" fill="#debc2a"/>
<path d="M1055.4 180.3l0.5-4.9 0.5-15.6-0.6 6z" fill="#21a3e3"/>
<path d="M1062.1 155.8l0.6 13.9 0.4 6.3-0.7-12.6z" fill="#1da9e0"/>
<path d="M1054.4 200.8l0.6-5.7 0.4-15.7-0.6 6.8z" fill="#317efb"/>
<path d="M1063 175.1l0.7 13.8 0.4 7.3-0.7-12.6z" fill="#2e85f8"/>
<path d="M1053.3 222l0.6-6.4 0.5-15.7-0.6 7.4z" fill="#4853f5"/>
<path d="M1064.1 195.3l0.7 13.7 0.4 8-0.7-12.6z" fill="#475bf9"/>
<path d="M1057.6 139.8l0.3-0.5 0.4-15.7-0.3 0.7z" fill="#6dcd67"/>
<path d="M1060.2 120.4l0.5 14.5 0.2 0.6-0.5-14.2z" fill="#81cc59"/>
<path d="M1065.1 216.1l0.8 13.7 0.4 8.7-0.7-12.6z" fill="#463de0"/>
<path d="M1052.2 243.8l0.7-7 0.5-15.7-0.7 7.8z" fill="#4536d5"/>
<path d="M1051 260.3l0.7-1.7 0.5-15.7-0.7 8.2z" fill="#3f29b0"/>
<path d="M1066.3 237.6l0.7 13.7 0.5 7.7-0.8-11.2z" fill="#402bb8"/>
<path d="M1058.5 125.3l0.4 3.8 0.4-12.2-0.4-5.9z" fill="#c0c32d"/>
<path d="M1059.2 116.9l0.5 10.5 0.4-4.9-0.6-13z" fill="#c8c129"/>
<path d="M1056.8 156.9l0.4-1.7 0.4-16.3-0.4 2.4z" fill="#22c1b0"/>
<path d="M1060.9 134.6l0.6 14.9 0.3 2.3-0.6-14.1z" fill="#30c5a1"/>
<path d="M1057.9 139.3l0.3 0.6 0.3-15.5-0.3-0.8z" fill="#6dcd67"/>
<path d="M1060 121.6l0.5 14.1 0.3-0.8-0.6-14.5z" fill="#81cc59"/>
<path d="M1055.9 175.4l0.5-2.9 0.4-16.5-0.5 3.8z" fill="#1aacdd"/>
<path d="M1061.7 150.9l0.7 14.9 0.3 3.9-0.6-13.9z" fill="#0cb3d3"/>
<path d="M1054.9 195.1l0.6-4 0.4-16.6-0.5 4.9z" fill="#2e85f8"/>
<path d="M1062.7 168.8l0.6 14.9 0.4 5.2-0.7-13.8z" fill="#2c90f0"/>
<path d="M1057.2 155.2l0.3-0.3 0.4-16.5-0.3 0.5z" fill="#28c2ab"/>
<path d="M1060.7 134l0.6 15.1 0.2 0.4-0.6-14.9z" fill="#34c79c"/>
<path d="M1058.8 129.1l0.6 7.1 0.7-9.5-0.8-9.8z" fill="#94ca4a"/>
<path d="M1053.9 215.6l0.6-4.9 0.5-16.5-0.6 5.7z" fill="#465efb"/>
<path d="M1063.7 188l0.7 14.7 0.4 6.3-0.7-13.7z" fill="#426afe"/>
<path d="M1058.1 139.9l0.5 2.7 0.4-14.4-0.5-3.8z" fill="#64cd6f"/>
<path d="M1059.7 126.5l0.6 12.7 0.3-3.5-0.6-14.1z" fill="#77cc60"/>
<path d="M1052.8 236.8l0.7-5.6 0.5-16.5-0.7 6.4z" fill="#4741e5"/>
<path d="M1064.7 208.1l0.8 14.6 0.4 7.1-0.8-13.7z" fill="#4848ec"/>
<path d="M1065.8 228.9l0.8 14.5 0.4 7.9-0.7-13.7z" fill="#4331c7"/>
<path d="M1051.7 258.6l0.7-6.1 0.5-16.6-0.7 7z" fill="#402bb8"/>
<path d="M1056.4 172.5l0.4-1.4 0.4-16.8-0.4 1.7z" fill="#17aeda"/>
<path d="M1061.5 148.6l0.6 15.5 0.3 1.7-0.6-14.9z" fill="#02b7cb"/>
<path d="M1050.2 260.4l1.1 0.4 0.6-3-1 2.4zM1067 250.4l0.8 9.1 0.5-0.3-0.9-0.2z" fill="#3e26a8"/>
<path d="M1057.5 154.9l0.3 0.4 0.4-16.3-0.3-0.6z" fill="#28c2ab"/>
<path d="M1060.5 134.8l0.6 14.9 0.2-0.6-0.6-15.1z" fill="#34c79c"/>
<path d="M1055.5 191.1l0.5-2.4 0.4-17.1-0.5 2.9z" fill="#2d8cf3"/>
<path d="M1062.3 164.9l0.7 15.6 0.4 3.2-0.7-14.9z" fill="#269ae9"/>
<path d="M1058.5 142.6l0.5 5.3 0.5-12.6-0.6-7.1z" fill="#4bcb84"/>
<path d="M1059.2 135.4l0.7 10.6 0.5-6.8-0.7-12.7z" fill="#53cc7d"/>
<path d="M1054.5 210.7l0.5-3.3 0.5-17.2-0.5 4z" fill="#4466fd"/>
<path d="M1063.3 182.8l0.7 15.5 0.4 4.4-0.7-14.7z" fill="#3876fe"/>
<path d="M1056.8 171.1l0.3-0.2 0.4-16.9-0.3 0.3z" fill="#12b1d7"/>
<path d="M1061.3 148.2l0.6 15.6 0.2 0.3-0.6-15.5z" fill="#01b9c6"/>
<path d="M1057.7 155.3l0.5 2 0.4-15.6-0.4-2.7z" fill="#22c1b0"/>
<path d="M1060.2 138.3l0.6 14.1 0.3-2.7-0.6-14.9z" fill="#30c5a1"/>
<path d="M1053.4 231.2l0.6-4.2 0.5-17.2-0.6 4.9z" fill="#4848ec"/>
<path d="M1064.3 201.8l0.8 15.4 0.4 5.5-0.8-14.6z" fill="#4853f5"/>
<path d="M1052.3 252.5l0.7-4.9 0.5-17.3-0.7 5.6z" fill="#4331c7"/>
<path d="M1065.4 221.8l0.8 15.3 0.4 6.3-0.8-14.5z" fill="#4536d5"/>
<path d="M1055.9 188.7l0.5-1.1 0.4-17.4-0.4 1.4z" fill="#2a93ed"/>
<path d="M1062.1 163.2l0.6 15.9 0.3 1.4-0.6-15.6z" fill="#23a0e5"/>
<path d="M1057.1 170.9l0.2 0.4 0.5-16.9-0.3-0.4z" fill="#12b1d7"/>
<path d="M1061.1 148.8l0.6 15.5 0.2-0.5-0.6-15.6z" fill="#01b9c6"/>
<path d="M1066.5 242.5l0.8 15.3 0.5 1.7-0.8-9.1z" fill="#3f29b0"/>
<path d="M1051.1 260.8l0.8 0.2 0.5-9.4-0.7 7z" fill="#3e26a8"/>
<path d="M1058.9 147.9l0.7 7.9 0.6-10.5-0.8-10z" fill="#2cc4a6"/>
<path d="M1058.1 157.3l0.5 4.1 0.5-14.4-0.5-5.3z" fill="#12beb9"/>
<path d="M1059.9 145.1l0.6 12.6 0.4-5.3-0.6-14.1z" fill="#28c2ab"/>
<path d="M1055 207.4l0.5-2 0.5-17.6-0.5 2.4z" fill="#3f6efe"/>
<path d="M1063 179.6l0.7 16.1 0.3 2.6-0.7-15.5z" fill="#317efb"/>
<path d="M1056.3 187.6l0.3-0.1 0.5-17.5-0.3 0.2z" fill="#2a93ed"/>
<path d="M1061.9 162.9l0.6 16 0.2 0.2-0.6-15.9z" fill="#23a0e5"/>
<path d="M1057.3 171.3l0.5 1.6 0.4-16.5-0.4-2z" fill="#17aeda"/>
<path d="M1060.8 151.5l0.6 14.9 0.3-2.1-0.6-15.5z" fill="#02b7cb"/>
<path d="M1054 227l0.5-2.8 0.5-17.7-0.5 3.3z" fill="#484cef"/>
<path d="M1064 197.4l0.7 16.1 0.4 3.7-0.8-15.4z" fill="#475bf9"/>
<path d="M1052.9 247.6l0.6-3.7 0.5-17.8-0.5 4.2z" fill="#4434ce"/>
<path d="M1065 216.3l0.8 16 0.4 4.8-0.8-15.3z" fill="#463de0"/>
<path d="M1056.6 187.5l0.3 0.3 0.5-17.4-0.3-0.4z" fill="#2a93ed"/>
<path d="M1061.7 163.4l0.7 15.9 0.2-0.4-0.7-16z" fill="#23a0e5"/>
<path d="M1055.5 205.4l0.4-0.9 0.5-17.8-0.4 1.1z" fill="#3c72ff"/>
<path d="M1062.7 178.2l0.7 16.3 0.3 1.2-0.7-16.1z" fill="#2f82fa"/>
<path d="M1051.8 261l0.7 0.2 0.5-14.5-0.6 4.9z" fill="#3f29b0"/>
<path d="M1066.1 236.2l0.8 15.9 0.4 5.7-0.8-15.3z" fill="#402bb8"/>
<path d="M1058.6 161.4l0.6 6.4 0.4-12.9-0.6-7.9z" fill="#01b9c6"/>
<path d="M1059.3 155l0.8 10.8 0.5-8.1-0.7-12.6z" fill="#03bbc2"/>
<path d="M1057.7 172.9l0.5 3.3 0.5-15.7-0.5-4.1z" fill="#1aacdd"/>
<path d="M1060.4 156.8l0.7 13.9 0.4-4.3-0.7-14.9z" fill="#0cb3d3"/>
<path d="M1067.1 256.9l1 3.1 0.7-0.4-1.3-0.2z" fill="#3e26a8"/>
<path d="M1054.5 224.2l0.5-1.7 0.5-18-0.5 2z" fill="#4850f2"/>
<path d="M1063.6 194.8l0.8 16.5 0.3 2.2-0.7-16.1z" fill="#465efb"/>
<path d="M1056.9 187.8l0.4 1.3 0.5-17.1-0.4-1.6z" fill="#2a93ed"/>
<path d="M1061.4 165.5l0.7 15.6 0.3-1.8-0.7-15.9z" fill="#23a0e5"/>
<path d="M1055.9 204.5l0.3-0.1 0.5-17.8-0.3 0.1z" fill="#3c72ff"/>
<path d="M1062.5 178l0.7 16.4 0.2 0.1-0.7-16.3z" fill="#2f82fa"/>
<path d="M1053.5 243.9l0.6-2.4 0.5-18.2-0.6 2.8z" fill="#4536d5"/>
<path d="M1064.7 212.6l0.7 16.5 0.4 3.2-0.8-16z" fill="#4744e9"/>
<path d="M1059 167.8l0.7 8.5 0.7-11.3-0.8-10.1z" fill="#1aacdd"/>
<path d="M1052.4 261.2l0.6 0.1 0.6-18.3-0.6 3.7z" fill="#3f29b0"/>
<path d="M1065.7 231.4l0.8 16.5 0.4 4.2-0.8-15.9z" fill="#4331c7"/>
<path d="M1056.2 204.4l0.2 0.3 0.5-17.8-0.3-0.3z" fill="#3c72ff"/>
<path d="M1062.3 178.4l0.7 16.4 0.2-0.4-0.7-16.4z" fill="#2f82fa"/>
<path d="M1058.2 176.2l0.6 5.2 0.4-14.5-0.6-6.4z" fill="#21a3e3"/>
<path d="M1060 164.9l0.7 12.6 0.5-6.8-0.7-13.9z" fill="#1da9e0"/>
<path d="M1055 222.5l0.4-0.7 0.5-18.2-0.4 0.9z" fill="#4853f5"/>
<path d="M1063.4 193.6l0.7 16.7 0.3 1-0.7-16.5z" fill="#4562fc"/>
<path d="M1057.3 189.1l0.5 2.7 0.5-16.5-0.5-3.3z" fill="#2d8cf3"/>
<path d="M1061.1 169.8l0.6 14.9 0.4-3.6-0.7-15.6z" fill="#269ae9"/>
<path d="M1066.8 251.2l0.8 9.1 0.5-0.3-1.1-2.3z" fill="#3e26a8"/>
<path d="M1054 241.5l0.5-1.5 0.5-18.4-0.5 1.7z" fill="#463adb"/>
<path d="M1064.3 210.4l0.8 16.8 0.3 1.9-0.7-16.5z" fill="#4848ec"/>
<path d="M1056.4 204.7l0.5 1.1 0.4-17.6-0.4-1.3z" fill="#3c72ff"/>
<path d="M1062 180.2l0.7 16.1 0.3-1.5-0.7-16.4z" fill="#2f82fa"/>
<path d="M1055.4 221.8l0.3-0.1 0.5-18.2-0.3 0.1z" fill="#4853f5"/>
<path d="M1063.2 193.5l0.7 16.7 0.2 0.1-0.7-16.7z" fill="#4562fc"/>
<path d="M1053 261.3l0.5-2.2 0.6-18.5-0.6 2.4z" fill="#402bb8"/>
<path d="M1065.4 228.2l0.7 16.9 0.4 2.8-0.8-16.5z" fill="#4434ce"/>
<path d="M1058.7 181.4l0.6 7.1 0.5-13.1-0.6-8.5z" fill="#2797eb"/>
<path d="M1059.3 175.6l1 10.9 0.6-9.1-0.8-12.5z" fill="#269ae9"/>
<path d="M1057.8 191.8l0.5 4.3 0.5-15.6-0.6-5.2z" fill="#2e85f8"/>
<path d="M1060.7 176.6l0.7 13.8 0.4-5.7-0.7-14.9z" fill="#2c90f0"/>
<path d="M1055.7 221.7l0.3 0.3 0.5-18.2-0.3-0.3z" fill="#4853f5"/>
<path d="M1063 193.9l0.7 16.7 0.2-0.4-0.7-16.7z" fill="#4562fc"/>
<path d="M1066.4 247l0.8 13.5 0.5-0.2-0.9-9.1z" fill="#3f29b0"/>
<path d="M1054.5 240l0.4-0.5 0.5-18.6-0.4 0.7z" fill="#463adb"/>
<path d="M1064 209.4l0.8 17 0.3 0.8-0.8-16.8z" fill="#4848ec"/>
<path d="M1056.8 205.8l0.5 2.3 0.5-17.2-0.5-2.7z" fill="#3f6efe"/>
<path d="M1061.7 183.8l0.7 15.5 0.4-3-0.8-16.1z" fill="#317efb"/>
<path d="M1056 222l0.4 0.9 0.5-18-0.4-1.1z" fill="#4853f5"/>
<path d="M1062.7 195.4l0.7 16.5 0.3-1.3-0.7-16.7z" fill="#4562fc"/>
<path d="M1053.5 259.1l0.5-1.2 0.5-18.8-0.4 1.5z" fill="#402bb8"/>
<path d="M1065 226.3l0.8 17.2 0.3 1.6-0.7-16.9z" fill="#4434ce"/>
<path d="M1054.9 239.5l0.3-0.1 0.5-18.6-0.3 0.1z" fill="#463adb"/>
<path d="M1063.8 209.3l0.8 17.1 0.2 0-0.7-17z" fill="#4848ec"/>
<path d="M1059.2 188.5l0.7 8.9 0.7-11.7-0.9-10.3z" fill="#2e85f8"/>
<path d="M1058.3 196.1l0.6 6.1 0.5-14.6-0.6-7.1z" fill="#317efb"/>
<path d="M1060.2 185.6l0.8 12.6 0.5-7.8-0.8-13.8z" fill="#2e85f8"/>
<path d="M1052.2 261.6l0.8 0.2 0.7-3.6-0.7 3.1z" fill="#3e26a8"/>
<path d="M1066.1 244.2l0.8 16.6 0.4-0.3-0.8-13.5z" fill="#3f29b0"/>
<path d="M1057.3 208.1l0.6 3.7 0.5-16.6-0.6-4.3z" fill="#4466fd"/>
<path d="M1061.3 189.5l0.7 14.7 0.4-4.9-0.7-15.5z" fill="#3876fe"/>
<path d="M1055.2 239.4l0.3 0.2 0.5-18.5-0.3-0.3z" fill="#463adb"/>
<path d="M1063.7 209.7l0.7 17 0.2-0.3-0.7-17.1z" fill="#4848ec"/>
<path d="M1056.4 222.9l0.5 2 0.5-17.7-0.5-2.3z" fill="#4850f2"/>
<path d="M1062.4 198.4l0.7 16.1 0.3-2.6-0.7-16.5z" fill="#465efb"/>
<path d="M1054 257.9l0.4-0.5 0.6-18.8-0.5 0.5z" fill="#402bb8"/>
<path d="M1064.7 225.5l0.8 17.3 0.3 0.7-0.8-17.2z" fill="#4536d5"/>
<path d="M1055.5 239.6l0.4 0.9 0.5-18.5-0.4-0.9z" fill="#463adb"/>
<path d="M1063.4 211l0.7 16.8 0.3-1.1-0.7-17z" fill="#4848ec"/>
<path d="M1058.8 202.2l0.7 7.8 0.5-13.5-0.7-8.9z" fill="#3f6efe"/>
<path d="M1059.5 196.9l1.1 11 0.6-9.8-0.9-12.5z" fill="#3c72ff"/>
<path d="M1052.9 261.8l0.6 0.2 0.6-5-0.5 1.2z" fill="#3e26a8"/>
<path d="M1065.8 242.6l0.7 17.5 0.4 0.7-0.8-16.6z" fill="#3f29b0"/>
<path d="M1054.4 257.4l0.3 0 0.5-18.9-0.3 0.1z" fill="#402bb8"/>
<path d="M1064.6 225.5l0.7 17.3 0.2 0-0.7-17.3z" fill="#4536d5"/>
<path d="M1057.8 211.8l0.6 5.2 0.5-15.7-0.6-6.1z" fill="#465efb"/>
<path d="M1060.9 197.3l0.7 13.7 0.5-6.8-0.7-14.7z" fill="#426afe"/>
<path d="M1056.8 224.9l0.6 3.2 0.5-17.2-0.6-3.7z" fill="#484cef"/>
<path d="M1062 203.3l0.7 15.4 0.4-4.2-0.7-16.1z" fill="#475bf9"/>
<path d="M1054.7 257.4l0.3 0.2 0.5-18.9-0.3-0.2z" fill="#402bb8"/>
<path d="M1064.4 225.8l0.7 17.3 0.2-0.3-0.7-17.3z" fill="#4536d5"/>
<path d="M1055.9 240.5l0.5 1.7 0.5-18.2-0.5-2z" fill="#463adb"/>
<path d="M1063 213.6l0.8 16.5 0.3-2.3-0.7-16.8z" fill="#4848ec"/>
<path d="M1053.4 262l0.5 0.1 0.6-5.6-0.5 0.5z" fill="#3e26a8"/>
<path d="M1065.5 241.9l0.8 17.6 0.3 0.6-0.8-17.5z" fill="#402bb8"/>
<path d="M1059.3 209.9l0.8 9.3 0.7-12.2-0.9-10.5z" fill="#465efb"/>
<path d="M1058.4 217l0.6 6.8 0.6-14.7-0.7-7.8z" fill="#4853f5"/>
<path d="M1060.4 207l0.8 12.6 0.6-8.7-0.8-13.6z" fill="#475bf9"/>
<path d="M1055 257.6l0.4 0.7 0.5-18.7-0.4-0.9z" fill="#402bb8"/>
<path d="M1064.1 226.9l0.8 17.2 0.2-1-0.7-17.3z" fill="#4536d5"/>
<path d="M1057.3 228.1l0.7 4.5 0.5-16.5-0.6-5.2z" fill="#4848ec"/>
<path d="M1061.6 210.1l0.7 14.6 0.5-6-0.8-15.4z" fill="#4853f5"/>
<path d="M1066.3 259.2l1.2 2 0.5-0.5-1.6-0.4zM1053.8 262.1l0.4 0.1 0.6-5.7-0.4 0z" fill="#3e26a8"/>
<path d="M1065.3 241.9l0.8 17.6 0.2 0-0.8-17.6z" fill="#402bb8"/>
<path d="M1056.3 242.2l0.6 2.8 0.5-17.8-0.5-3.2z" fill="#4536d5"/>
<path d="M1062.7 217.8l0.7 16 0.4-3.7-0.7-16.5z" fill="#4744e9"/>
<path d="M1054.1 262.2l0.3 0.1 0.7-5.6-0.4-0.2z" fill="#3e26a8"/>
<path d="M1065.1 242.2l0.8 17.5 0.2-0.2-0.8-17.6zM1055.4 258.3l0.5 1.5 0.5-18.5-0.5-1.7z" fill="#402bb8"/>
<path d="M1063.7 229.2l0.8 16.9 0.4-2-0.8-17.2z" fill="#4434ce"/>
<path d="M1066.1 258.7l1 2.7 0.5-0.3-1.3-1.9z" fill="#3e26a8"/>
<path d="M1059.7 218.9l1.1 10.9 0.8-10.4-1.1-12.4z" fill="#484cef"/>
<path d="M1058.9 223.7l0.8 8.3 0.5-13.7-0.7-9.2z" fill="#4848ec"/>
<path d="M1057.9 232.6l0.7 6 0.5-15.7-0.7-6.8z" fill="#4741e5"/>
<path d="M1061.1 218.7l0.8 13.6 0.5-7.7-0.8-14.5z" fill="#4848ec"/>
<path d="M1054.4 262.3l0.5 0.1 0.6-5-0.5-0.7z" fill="#3e26a8"/>
<path d="M1064.8 243.2l0.8 17.5 0.3-1-0.8-17.5z" fill="#402bb8"/>
<path d="M1056.9 245l0.6 4 0.5-17.3-0.6-4.5z" fill="#4434ce"/>
<path d="M1062.3 223.8l0.7 15.3 0.5-5.3-0.8-16z" fill="#463de0"/>
<path d="M1065.9 258.6l1.1 2.9 0.2-0.2-1.1-2.7z" fill="#3e26a8"/>
<path d="M1055.8 259.8l0.6 2.5 0.5-18.2-0.5-2.8z" fill="#402bb8"/>
<path d="M1063.4 232.9l0.8 16.5 0.3-3.3-0.7-16.9z" fill="#4434ce"/>
<path d="M1065.6 258.9l1.2 2.7 0.2-0.1-1-2.9zM1054.7 262.4l0.6 0.2 0.8-3.6-0.7-1.6z" fill="#3e26a8"/>
<path d="M1064.5 245.2l0.8 16.6 0.3-1.1-0.8-17.5z" fill="#3f29b0"/>
<path d="M1059.5 232l0.8 9.6 0.7-12.6-0.9-10.7zM1060.6 229l0.9 12.6 0.6-9.3-0.9-13.6z" fill="#463de0"/>
<path d="M1058.5 238.6l0.7 7.3 0.5-14.8-0.7-8.2z" fill="#4536d5"/>
<path d="M1057.4 249l0.7 5.2 0.5-16.5-0.7-6z" fill="#4331c7"/>
<path d="M1061.8 231.4l0.8 14.5 0.5-6.8-0.8-15.3z" fill="#4536d5"/>
<path d="M1056.4 262.3l0.6 0.3 0.5-14.5-0.6-4z" fill="#3f29b0"/>
<path d="M1063 238.2l0.8 15.9 0.4-4.7-0.8-16.5z" fill="#4331c7"/>
<path d="M1065.2 260l1.3 1.8 0.4-0.3-1.1-2.6zM1055.1 262.5l0.8 0.2 0.8-0.6-0.8-3.2z" fill="#3e26a8"/>
<path d="M1064.1 248.5l0.8 13.5 0.4-0.2-0.8-16.6z" fill="#3f29b0"/>
<path d="M1059.1 245.9l0.7 8.7 0.6-13.9-0.7-9.6zM1059.9 241.3l1.1 11.1 0.9-11.1-1.1-12.4z" fill="#4331c7"/>
<path d="M1064.8 261.5l1.4 0.5 0.6-0.5-1.3-1.7z" fill="#3e26a8"/>
<path d="M1061.3 240.7l0.9 13.6 0.5-8.4-0.8-14.5z" fill="#4331c7"/>
<path d="M1058 254.2l0.7 6.6 0.5-15.8-0.7-7.3z" fill="#402bb8"/>
<path d="M1056.9 262.6l0.7 0.2 0.5-9.5-0.6-5.2z" fill="#3f29b0"/>
<path d="M1062.5 245l0.8 15.3 0.5-6.2-0.8-15.9z" fill="#402bb8"/>
<path d="M1063.7 253.2l0.8 9.1 0.4-0.3-0.8-13.5z" fill="#3f29b0"/>
<path d="M1059.7 254.5l0.8 8.2 0.9-11.1-1.1-10.9z" fill="#402bb8"/>
<path d="M1058.6 260.8l0.8 2 0.6-9.1-0.8-8.7z" fill="#3f29b0"/>
<path d="M1060.6 251.7l1.1 10.9 0.6-8.3-0.8-13.6z" fill="#402bb8"/>
<path d="M1062 253.5l0.9 9.1 0.5-2.3-0.8-15.3z" fill="#3f29b0"/>
<path d="M1057.5 262.7l0.7 0.2 0.8-2.2-0.9-7.4zM1063 260.1l1.1 2.4 0.5-0.2-0.9-9.1zM1059.2 262.8l0.9 0.2 0.6-0.3-0.9-9zM1060.4 262.7l0.9 0.3 0.5-0.4-0.8-11.1zM1057.8 262.8l1.1 0.4 0.8-0.6-1-2.7zM1061.6 262.6l0.9 0.3 0.5-0.3-0.8-9.2zM1062.6 262.4l1.1 0.4 0.7-0.4-1.1-3z" fill="#3e26a8"/>
<line x1="903.6" y1="270.8" x2="903.6" y2="99.1" stroke="#262626" stroke-width="1.6"/>
<path d="M903.6 270.8L1087.4 327.5L1213.8 246.6" fill="none" stroke="#262626" stroke-width="1.6" stroke-linejoin="round"/>
<line x1="903.6" y1="270.8" x2="898.3" y2="269.2" stroke="#262626" stroke-width="1.6"/>
<line x1="903.6" y1="185" x2="898.3" y2="183.3" stroke="#262626" stroke-width="1.6"/>
<line x1="903.6" y1="99.1" x2="898.3" y2="97.5" stroke="#262626" stroke-width="1.6"/>
<line x1="903.6" y1="270.8" x2="899" y2="273.8" stroke="#262626" stroke-width="1.6"/>
<line x1="995.5" y1="299.1" x2="990.9" y2="302.1" stroke="#262626" stroke-width="1.6"/>
<line x1="1087.4" y1="327.5" x2="1082.8" y2="330.5" stroke="#262626" stroke-width="1.6"/>
<line x1="1087.4" y1="327.5" x2="1092.7" y2="329.1" stroke="#262626" stroke-width="1.6"/>
<line x1="1150.6" y1="287.1" x2="1155.9" y2="288.7" stroke="#262626" stroke-width="1.6"/>
<line x1="1213.8" y1="246.6" x2="1219.1" y2="248.2" stroke="#262626" stroke-width="1.6"/>
<path d="M906.3 983.8L1034.6 903.9L1218.6 959" fill="none" stroke="#dedede" stroke-width="1.5" stroke-linejoin="round"/>
<path d="M906.3 897.8L1034.6 817.9L1218.6 873" fill="none" stroke="#dedede" stroke-width="1.5" stroke-linejoin="round"/>
<line x1="970.4" y1="1029.8" x2="970.4" y2="857.8" stroke="#dedede" stroke-width="1.5"/>
<line x1="1034.6" y1="989.9" x2="1034.6" y2="817.9" stroke="#dedede" stroke-width="1.5"/>
<line x1="1126.6" y1="1017.5" x2="1126.6" y2="845.5" stroke="#dedede" stroke-width="1.5"/>
<line x1="1218.6" y1="1045" x2="1218.6" y2="873" stroke="#dedede" stroke-width="1.5"/>
<path d="M906.3 1069.8L1090.2 1126.5L1218.6 1045L1034.6 989.9Z" fill="#3e26a8"/>
<path d="M1018.4 1037l6.2 1.2 2.1-1-6.2-1.4zM1074.9 1033.4l3.1 0.7 4.4-2.2-3.1-0.9zM1035.5 1036l5.5 1.4 2.8-1.8-5.5-1.4zM1057.5 1034.5l4.4 1.3 3.7-2.1-4.4-1.4zM1042.9 1035.7l5.2 1.3 3.1-1.9-5.2-1.4zM1050.3 1035.1l4.8 1.3 3.3-2-4.7-1.3zM1025.8 1037.2l5.9 1.2 2.2-1.1-5.8-1.4zM1068.2 1034.6l3.6 0.8 4-2.1-3.5-1zM1016.7 1037.7l6.2 1 1.8-0.7-6.2-1.2zM1077.8 1033.8l2.6 0.5 4.5-2-2.7-0.7zM1033 1037.3l5.6 1.2 2.6-1.5-5.6-1.3zM1061.4 1035.4l4 1.1 3.7-2.1-4-1.1zM1040.3 1037.1l5.2 1.1 2.8-1.6-5.2-1.3zM1054.4 1036.1l4.4 1.2 3.5-2-4.4-1.3z" fill="#3f29b0"/>
<path d="M1080.2 1034.1l2.3 0.4 4.5-1.9-2.3-0.6zM1015.2 1038.3l6.3 0.9 1.5-0.6-6.3-1z" fill="#402bb8"/>
<path d="M1047.4 1036.6l4.8 1.2 3.1-1.8-4.8-1.3z" fill="#3f29b0"/>
<path d="M1023.8 1038l5.9 1 2-0.8-5.9-1.2zM1071.4 1035.1l3.1 0.5 4.1-2-3.1-0.7zM1014 1038.9l6.3 0.8 1.2-0.6-6.3-0.9zM1082.3 1034.3l1.8 0.4 4.6-1.7-1.8-0.6zM1030.8 1038.2l5.6 1 2.3-1-5.6-1.2zM1064.9 1036.1l3.6 0.7 3.8-1.9-3.6-0.9zM1022.1 1038.6l5.9 0.8 1.8-0.6-6-1zM1074.2 1035.3l2.7 0.3 4.2-1.7-2.7-0.6zM1013.1 1039.4l6.3 0.7 0.9-0.5-6.3-0.8zM1084.1 1034.5l1.3 0.5 4.6-1.7-1.4-0.5zM1037.8 1038.2l5.3 1 2.5-1.3-5.2-1.2zM1058.3 1036.9l4 0.9 3.5-1.8-4.1-1.1zM1051.5 1037.5l4.5 1 3.2-1.7-4.5-1.2zM1044.7 1037.9l4.9 1.1 2.8-1.6-4.8-1.2zM1012.5 1039.7l6.3 0.8 0.6-0.5-6.3-0.7zM1085.4 1034.8l0.9 0.4 4.6-1.7-1-0.4zM1012.3 1039.9l6.2 0.7 0.3-0.2-6.3-0.7zM1086.2 1035.1l0.4 0.1 4.6-1.6-0.4-0.2zM1028.9 1038.8l5.6 0.8 2-0.6-5.6-1zM1068.1 1036.5l3.1 0.4 3.9-1.8-3.1-0.6zM1020.6 1039.1l6 0.6 1.4-0.5-5.9-0.8zM1076.7 1035.4l2.2 0.3 4.3-1.6-2.2-0.5zM1012 1040l6.3 0.7 0.2-0.1-6.2-0.8zM1086.6 1035.2l0.4 0.1 4.6-1.6-0.4-0.2zM1011.4 1040.4l6.3 0.8 0.6-0.5-6.3-0.7zM1086.9 1035.3l1 0.4 4.5-1.7-0.9-0.4zM1035.6 1039l5.3 0.8 2.3-0.9-5.3-1zM1061.8 1037.5l3.6 0.5 3.5-1.7-3.6-0.7zM1019.4 1039.6l6 0.5 1.2-0.5-6-0.6zM1078.8 1035.4l1.8 0.4 4.3-1.4-1.8-0.5zM1010.5 1041.1l6.2 0.8 1-0.8-6.3-0.8zM1087.8 1035.5l1.4 0.8 4.6-1.8-1.4-0.7zM1042.3 1038.9l4.9 0.9 2.6-1.2-5-1zM1055.4 1038.2l4.1 0.8 3.2-1.7-4.1-0.9zM1027.1 1039.2l5.7 0.5 1.7-0.3-5.6-0.7zM1070.9 1036.5l2.6 0.2 4.1-1.5-2.7-0.4zM1048.9 1038.7l4.5 0.8 2.9-1.4-4.6-1.1zM1018.5 1040l5.9 0.5 1-0.5-6-0.5zM1080.5 1035.6l1.4 0.4 4.4-1.3-1.4-0.5zM1009.3 1042.1l6.2 0.9 1.3-1.2-6.3-0.9zM1089.1 1036l1.9 1.1 4.5-1.9-1.9-0.9z" fill="#402bb8"/>
<path d="M1017.9 1040.4l5.9 0.4 0.6-0.4-5.9-0.4zM1081.8 1035.9l0.9 0.3 4.4-1.3-0.9-0.4z" fill="#422ebf"/>
<path d="M1033.6 1039.4l5.4 0.5 2-0.3-5.4-0.8zM1064.9 1037.7l3.2 0.2 3.7-1.5-3.2-0.4z" fill="#402bb8"/>
<path d="M1025.7 1039.6l5.6 0.3 1.5-0.3-5.7-0.5zM1073.4 1036.4l2.1 0.1 4.2-1.2-2.2-0.3zM1017.6 1040.5l6 0.4 0.2-0.1-5.9-0.5zM1082.7 1036.1l0.4 0.1 4.4-1.3-0.4-0.1z" fill="#422ebf"/>
<path d="M1090.8 1036.8l2.4 1.4 4.4-2-2.3-1.3zM1007.8 1043.3l6.2 1.1 1.6-1.6-6.3-1z" fill="#402bb8"/>
<path d="M1017.4 1040.7l5.9 0.4 0.3-0.2-6-0.4zM1083.1 1036.2l0.3 0.2 4.4-1.3-0.3-0.2z" fill="#422ebf"/>
<path d="M1040.1 1039.6l5 0.6 2.2-0.7-5-0.8zM1058.9 1038.6l3.7 0.4 3.2-1.5-3.7-0.6z" fill="#402bb8"/>
<path d="M1016.8 1041.1l5.9 0.4 0.7-0.5-6-0.4zM1083.4 1036.3l0.9 0.4 4.4-1.3-0.9-0.4z" fill="#422ebf"/>
<path d="M1046.4 1039.5l4.6 0.7 2.6-1-4.6-0.9zM1052.7 1039.2l4.2 0.6 2.9-1.3-4.2-0.8z" fill="#402bb8"/>
<path d="M1024.5 1040l5.6 0.2 1.2-0.4-5.6-0.3zM1075.5 1036.3l1.7 0.3 4.2-1.1-1.8-0.4z" fill="#422ebf"/>
<path d="M1015.9 1041.8l5.9 0.5 0.9-0.9-5.9-0.4zM1084.3 1036.6l1.4 0.7 4.3-1.4-1.4-0.7z" fill="#402bb8"/>
<path d="M1031.9 1039.6l5.4 0.3 1.7-0.1-5.4-0.5zM1067.8 1037.5l2.6 0 3.8-1.2-2.6-0.2z" fill="#422ebf"/>
<path d="M1006.1 1044.7l6.2 1.3 1.8-1.9-6.2-1.1zM1092.9 1037.8l2.8 1.7 4.4-2.2-2.8-1.5z" fill="#3f29b0"/>
<path d="M1023.5 1040.4l5.7 0.2 0.9-0.5-5.6-0.2zM1077.2 1036.4l1.3 0.3 4.2-1-1.3-0.4z" fill="#422ebf"/>
<path d="M1014.7 1042.8l5.9 0.7 1.2-1.3-5.9-0.6zM1085.6 1037.1l1.8 1.2 4.3-1.6-1.8-1z" fill="#402bb8"/>
<path d="M1062.1 1038.7l3.2 0 3.4-1.3-3.3-0.3zM1038.1 1039.8l5 0.3 2-0.1-5-0.6zM1022.9 1040.8l5.7 0.1 0.6-0.4-5.6-0.2zM1078.5 1036.6l0.9 0.3 4.2-1-0.9-0.3zM1070.2 1037.2l2.2-0.1 3.9-0.9-2.1-0.1zM1030.4 1039.9l5.4 0 1.5-0.1-5.4-0.2zM1044.2 1040l4.7 0.3 2.3-0.4-4.7-0.6zM1056.2 1039.5l3.9 0.1 2.8-1.1-3.8-0.4zM1022.7 1040.9l5.7 0.1 0.2-0.2-5.7-0.1zM1079.4 1036.8l0.3 0.2 4.2-1-0.3-0.1zM1050.3 1040l4.3 0.1 2.5-0.7-4.3-0.5z" fill="#422ebf"/>
<path d="M1004.1 1046.3l6.2 1.4 2.1-2-6.2-1.3zM1095.4 1039.1l3.2 1.7 4.3-2.3-3.2-1.6z" fill="#3f29b0"/>
<path d="M1022.5 1041l5.6 0.2 0.3-0.2-5.7-0.1zM1079.7 1036.9l0.4 0.2 4.2-1-0.4-0.1z" fill="#422ebf"/>
<path d="M1013.2 1044.2l5.9 0.8 1.5-1.8-5.9-0.6zM1087.3 1037.9l2.3 1.6 4.2-1.7-2.3-1.4z" fill="#402bb8"/>
<path d="M1021.8 1041.5l5.7 0.2 0.6-0.6-5.6-0.1zM1080.1 1037l0.9 0.5 4.2-1-0.9-0.5z" fill="#422ebf"/>
<path d="M1029.2 1040.2l5.4-0.1 1.2-0.2-5.4-0.1zM1072.3 1037l1.8 0.1 4-0.8-1.8-0.2zM1064.9 1038.3l2.5-0.4 3.7-0.8-2.6 0zM1036.4 1039.8l5 0 1.7 0.2-5-0.2z" fill="#4331c7"/>
<path d="M1020.9 1042.2l5.7 0.3 0.9-1-5.6-0.1zM1080.9 1037.3l1.4 0.8 4.2-1-1.4-0.8z" fill="#422ebf"/>
<path d="M1042.2 1040l4.7-0.5 2 0.7-4.7-0.2zM1059.4 1039.4l3.4-1.4 3 0.2-3.7 0.1z" fill="#4331c7"/>
<path d="M1011.5 1045.8l5.8 1 1.9-2.1-5.9-0.8zM1089.4 1039.1l2.8 1.9 4.1-2-2.7-1.6z" fill="#402bb8"/>
<path d="M1028.3 1040.6l5.4-0.1 0.9-0.4-5.4 0zM1074.1 1036.9l1.3 0.3 4-0.7-1.4-0.3zM1053.8 1040l3.7-2.3 2.8 1.6-4 0.4zM1048.1 1040.3l4.1-2.2 2.5 1.8-4.4 0.2z" fill="#4331c7"/>
<path d="M1019.7 1043.4l5.7 0.3 1.2-1.4-5.6-0.3zM1082.3 1037.9l1.8 1.3 4.1-1.3-1.9-1.2z" fill="#422ebf"/>
<path d="M1067.3 1037.8l2.2-0.4 3.7-0.5-2.1 0.1zM1034.9 1039.9l5-0.2 1.5 0.2-5-0.1zM1027.7 1040.9l5.4-0.1 0.6-0.4-5.4 0.1zM1075.4 1037.1l0.9 0.3 4-0.7-0.9-0.3zM1027.5 1041l5.3-0.1 0.3-0.2-5.4 0.1zM1076.3 1037.3l0.3 0.1 4-0.6-0.3-0.1zM1027.2 1041.2l5.4-0.1 0.2-0.2-5.3 0.1zM1076.6 1037.4l0.4 0.2 4-0.7-0.4-0.1z" fill="#4331c7"/>
<path d="M1040.5 1039.9l4.6-1.5 1.9 1.3-4.7 0.5zM1062.2 1038.5l2.9-1.9 3.1 1.1-2.8 1z" fill="#4434ce"/>
<path d="M1018.3 1044.9l5.6 0.5 1.5-1.9-5.6-0.4zM1084 1038.8l2.3 1.8 4-1.5-2.3-1.5z" fill="#422ebf"/>
<path d="M1009.5 1047.5l5.8 1.2 2.1-2.2-5.8-1.1zM1091.9 1040.5l3.2 2 4-2.1-3.1-1.8z" fill="#402bb8"/>
<path d="M1026.6 1041.6l5.4-0.1 0.6-0.5-5.4 0.1zM1077 1037.5l0.9 0.5 3.9-0.7-0.9-0.5z" fill="#4331c7"/>
<path d="M1069.4 1037.4l1.8-0.1 3.8-0.4-1.8-0.1zM1033.7 1040.1l5-0.2 1.2-0.2-5 0.2z" fill="#4434ce"/>
<path d="M1056.9 1038.2l3.3-3.7 2.9 4-3.3 1.2zM1046.1 1039.9l4-4.6 2.3 3.2-4.1 2.1z" fill="#4536d5"/>
<path d="M1025.7 1042.4l5.3 0 1-1-5.4 0.1zM1077.8 1037.8l1.4 0.9 4-0.8-1.4-0.9z" fill="#4331c7"/>
<path d="M1051.6 1038.7l3.6-5.2 2.6 4.7-3.7 2.1z" fill="#4536d5"/>
<path d="M1071.2 1037.3l1.3 0.1 3.8-0.4-1.4-0.2zM1032.8 1040.5l5-0.3 0.9-0.4-5 0.3z" fill="#4434ce"/>
<path d="M1064.7 1037.1l2.4-1.6 3.2 1.9-2.3 0.7zM1039.1 1039.9l4.5-2.4 1.6 1.1-4.6 1.5z" fill="#4536d5"/>
<path d="M1016.5 1046.6l5.6 0.8 1.8-2.3-5.6-0.6zM1086.1 1040.2l2.8 2 3.9-1.6-2.8-1.9z" fill="#402bb8"/>
<path d="M1024.5 1043.7l5.3 0.1 1.2-1.6-5.3 0zM1079.1 1038.4l1.9 1.5 3.9-1-1.9-1.3z" fill="#4331c7"/>
<path d="M1032.2 1040.8l5-0.4 0.6-0.3-5 0.3zM1072.5 1037.3l0.9 0.3 3.7-0.4-0.8-0.2z" fill="#4434ce"/>
<path d="M1007.3 1049.2l5.8 1.3 2.4-2.2-5.9-1.2zM1094.7 1042l3.6 1.9 4-2.3-3.5-1.7z" fill="#3f29b0"/>
<path d="M1073.4 1037.5l0.3 0.2 3.8-0.4-0.4-0.1zM1031.9 1040.9l5.1-0.3 0.2-0.2-5 0.4z" fill="#4434ce"/>
<path d="M1059.8 1034.8l2.9-3.7 2.8 6.2-2.9 1.5zM1044.4 1038.9l4-6.7 2 3.4-4 4.5z" fill="#463de0"/>
<path d="M1073.7 1037.6l0.4 0.2 3.8-0.4-0.4-0.1zM1031.7 1041.1l5-0.4 0.3-0.2-5.1 0.4z" fill="#4434ce"/>
<path d="M1037.9 1040.1l4.5-3 1.3 0.6-4.6 2.3zM1066.8 1035.8l2-0.9 3.2 2.5-1.9 0.3z" fill="#4536d5"/>
<path d="M1054.7 1034l3.3-6.7 2.6 7.8-3.3 3.5zM1049.6 1036l3.6-8.4 2.4 6.3-3.7 5.1z" fill="#4741e5"/>
<path d="M1074.1 1037.7l0.8 0.5 3.8-0.4-0.9-0.5zM1031.1 1041.6l5-0.4 0.6-0.5-5 0.3z" fill="#4434ce"/>
<path d="M1080.9 1039.4l2.3 2 3.8-1.2-2.4-1.8zM1023 1045.3l5.3 0.3 1.5-2.1-5.2-0.2z" fill="#422ebf"/>
<path d="M1014.6 1048.5l5.5 1 2.1-2.5-5.6-0.8zM1088.6 1041.8l3.2 2.1 3.8-1.9-3.2-1.9z" fill="#402bb8"/>
<path d="M1074.9 1038l1.4 1 3.7-0.5-1.3-0.9zM1030.2 1042.4l5-0.2 0.9-1.1-5 0.3z" fill="#4434ce"/>
<path d="M1037 1040.4l4.6-3.2 0.9 0-4.6 2.9zM1068.5 1035.1l1.5-0.3 3.3 2.7-1.4 0.1z" fill="#463adb"/>
<path d="M1062.3 1031.3l2.5-2.8 2.7 7.7-2.4 1.3zM1043 1038.2l3.9-8.3 1.7 2.5-3.9 6.7z" fill="#4741e5"/>
<path d="M1036.4 1040.7l4.6-3.2 0.6-0.2-4.6 3.1zM1069.9 1035l0.9 0 3.4 2.8-1-0.1z" fill="#463adb"/>
<path d="M1021.3 1047.2l5.2 0.6 1.9-2.5-5.3-0.4zM1083 1040.9l2.8 2.3 3.6-1.4-2.8-2z" fill="#422ebf"/>
<path d="M1057.6 1027.5l2.9-6.3 2.5 10.7-2.8 3.5zM1048 1033l3.5-11.1 2.1 5.9-3.6 8.4z" fill="#4850f2"/>
<path d="M1076.3 1038.7l1.8 1.6 3.7-0.7-1.9-1.5zM1029 1043.7l5 0 1.2-1.7-5 0.2z" fill="#4434ce"/>
<path d="M1052.8 1028.3l3.2-10.2 2.4 9.7-3.3 6.6z" fill="#4853f5"/>
<path d="M1036.2 1040.9l4.5-3.3 0.3-0.1-4.6 3.2zM1070.8 1035l0.4 0.1 3.3 2.8-0.4-0.1zM1035.9 1041l4.6-3.2 0.2-0.2-4.5 3.3zM1071.1 1035.1l0.4 0.1 3.4 2.8-0.4-0.1z" fill="#463adb"/>
<path d="M1064.5 1028.6l2-1.5 2.7 8.6-1.9 0.7zM1041.9 1037.8l3.8-9.1 1.4 1.3-3.9 8.2z" fill="#4744e9"/>
<path d="M1012.4 1050.3l5.5 1.2 2.3-2.4-5.5-1zM1091.4 1043.4l3.6 2 3.8-2-3.6-1.8z" fill="#402bb8"/>
<path d="M1035.3 1041.5l4.6-3.2 0.6-0.5-4.6 3.2zM1071.5 1035.3l0.9 0.3 3.3 2.7-0.9-0.3z" fill="#463adb"/>
<path d="M1078 1039.8l2.4 2.2 3.5-0.9-2.4-2zM1027.5 1045.5l5 0.2 1.5-2.4-5 0.1z" fill="#4331c7"/>
<path d="M1060.2 1021.3l2.4-4.7 2.4 12.8-2.3 2.6zM1046.6 1030.8l3.4-13.2 1.7 4.4-3.5 11.1z" fill="#475bf9"/>
<path d="M1066.3 1027.1l1.5-0.5 2.7 9-1.5 0.2zM1041 1037.9l3.8-9.5 1 0.4-3.8 9.1z" fill="#4848ec"/>
<path d="M1034.4 1042.4l4.6-2.9 0.9-1.2-4.6 3.1zM1072.3 1035.7l1.4 0.9 3.4 2.4-1.4-0.6z" fill="#463adb"/>
<path d="M1019.3 1049.3l5.2 0.8 2.1-2.7-5.2-0.6zM1085.4 1042.7l3.3 2.4 3.6-1.6-3.3-2.2z" fill="#402bb8"/>
<path d="M1051.2 1022.7l3.1-13.6 2.1 9.3-3.2 10.1zM1055.6 1018.4l2.9-9.6 2.3 13.2-2.8 6.2z" fill="#4466fd"/>
<path d="M1040.4 1038.1l3.8-9.5 0.7-0.1-3.8 9.4zM1067.6 1026.6l1 0 2.7 9.1-1-0.1z" fill="#4848ec"/>
<path d="M1033.2 1043.7l4.6-2.2 1.1-2.1-4.6 2.8zM1073.7 1036.6l1.6 1.9 3.5 1.7-1.7-1.2z" fill="#4536d5"/>
<path d="M1068.5 1026.6l0.4 0.1 2.7 9.1-0.4 0zM1040.2 1038.3l3.8-9.6 0.3-0.1-3.9 9.6z" fill="#4848ec"/>
<path d="M1062.4 1016.7l1.9-2.7 2.4 13.9-1.9 1.5zM1045.5 1029.6l3.4-14.4 1.3 2.5-3.4 13.1z" fill="#465efb"/>
<path d="M1080.1 1041.5l2.8 2.5 3.4-1.1-2.8-2.3zM1025.8 1047.7l4.9 0.4 1.8-2.8-4.9-0.2z" fill="#4331c7"/>
<path d="M1009.9 1052.1l5.5 1.3 2.6-2.3-5.5-1.2zM1094.5 1045l4 1.9 3.8-2.1-4-1.8z" fill="#3f29b0"/>
<path d="M1068.9 1026.7l0.4 0.1 2.7 9.2-0.4-0.2zM1039.9 1038.5l3.9-9.6 0.2-0.2-3.8 9.6zM1069.2 1026.8l1 0.5 2.7 9.1-1-0.4zM1039.3 1039l3.9-9.5 0.6-0.6-3.8 9.6z" fill="#4848ec"/>
<path d="M1058.3 1008.8l2.3-7.3 2.2 16-2.3 4.6zM1049.8 1018.5l3.1-16.4 1.6 7.1-3.1 13.6z" fill="#347afd"/>
<path d="M1017.1 1051.2l5.2 1 2.4-2.5-5.2-0.9zM1088.3 1044.6l3.6 2.2 3.5-1.8-3.6-2z" fill="#402bb8"/>
<path d="M1053.9 1009.8l2.9-13.6 2.1 13.2-2.9 9.6z" fill="#2e85f8"/>
<path d="M1064.2 1014l1.4-1.1 2.3 14.6-1.4 0.5zM1044.6 1029.3l3.3-15 1 0.9-3.3 14.4z" fill="#4562fc"/>
<path d="M1075.4 1038.2l2.3 3.1 3.2 0.5-2.2-2.2zM1031.7 1045.7l4.6-1.3 1.4-3.1-4.6 2.1z" fill="#4536d5"/>
<path d="M1070.1 1027.4l1.4 1.2 2.7 8.7-1.4-0.9zM1038.4 1040.1l3.8-9.1 1-1.5-3.8 9.5z" fill="#4848ec"/>
<path d="M1044 1029.4l3.4-15.1 0.6 0.1-3.4 14.9zM1065.5 1012.9l0.9-0.1 2.4 14.7-0.9 0z" fill="#4466fd"/>
<path d="M1082.6 1043.5l3.2 2.6 3.4-1.4-3.3-2.4zM1023.8 1049.9l4.9 0.6 2.1-2.9-4.9-0.4z" fill="#422ebf"/>
<path d="M1048.7 1016.1l3-18.1 1.3 4.2-3 16.3zM1060.5 1001.5l1.8-4.4 2.1 17.8-1.8 2.6z" fill="#2e85f8"/>
<path d="M1066.4 1012.8l0.4 0.1 2.3 14.7-0.4-0.1zM1043.8 1029.6l3.3-15.2 0.3-0.1-3.4 15.1z" fill="#4466fd"/>
<path d="M1071.4 1028.6l1.8 2.5 2.7 7.8-1.8-1.6zM1037.2 1041.9l3.9-8.2 1.2-2.7-3.9 9.1z" fill="#4744e9"/>
<path d="M1066.7 1012.9l0.4 0.1 2.4 14.7-0.4-0.1zM1043.5 1029.7l3.4-15.1 0.2-0.2-3.3 15.2z" fill="#4466fd"/>
<path d="M1056.4 996.3l2.5-10.8 1.9 16.9-2.3 7.3zM1052.6 1003l2.7-17.2 1.8 10.5-2.8 13.7z" fill="#269ae9"/>
<path d="M1007.2 1054l5.5 1.4 2.9-2.4-5.5-1.3zM1098.1 1046.5l4.3 1.8 3.7-2.2-4.3-1.8z" fill="#3f29b0"/>
<path d="M1030 1048l4.5-0.2 1.8-3.8-4.6 1.2zM1077.5 1040.7l2.8 3.5 3.1-0.4-2.8-2.7z" fill="#4434ce"/>
<path d="M1067.1 1013l0.9 0.7 2.4 14.5-1-0.5zM1042.9 1030.4l3.4-15 0.6-0.8-3.4 15.1z" fill="#4466fd"/>
<path d="M1047.8 1015.2l3-18.9 0.9 1.7-2.9 18.1zM1062.2 997.1l1.4-1.8 2.1 18.5-1.4 1.1z" fill="#2d89f5"/>
<path d="M1014.7 1053.1l5.1 1.2 2.7-2.5-5.2-1zM1091.4 1046.3l4 2.1 3.6-2-4.1-1.8z" fill="#402bb8"/>
<path d="M1068 1013.7l1.3 1.8 2.4 14-1.4-1.3zM1042 1031.8l3.3-14.4 1-2-3.4 15z" fill="#4562fc"/>
<path d="M1073.1 1031.1l2.2 3.9 2.8 6.3-2.3-2.4zM1035.7 1044.6l4-6.7 1.4-4.2-3.9 8.2z" fill="#4741e5"/>
<path d="M1047.2 1015.2l3-19.2 0.6 0.3-3 18.9zM1063.6 995.3l0.9-0.4 2 18.8-0.9 0.1z" fill="#2d8cf3"/>
<path d="M1051.5 998.9l2.6-19.7 1.3 6.6-2.6 17.2zM1058.7 985.6l1.9-6.9 1.8 19.3-1.8 4.4z" fill="#1fa6e2"/>
<path d="M1021.6 1052l4.8 0.9 2.4-2.8-4.8-0.7zM1085.4 1045.6l3.6 2.4 3.3-1.6-3.6-2.2z" fill="#402bb8"/>
<path d="M1054.9 986.5l2.5-15.1 1.9 14.8-2.5 10.9z" fill="#12b1d7"/>
<path d="M1047 1015.3l2.9-19.2 0.3-0.1-3 19.2zM1064.4 994.9l0.4 0 2.1 18.8-0.4 0zM1046.7 1015.5l3-19.2 0.2-0.2-2.9 19.2zM1064.8 994.9l0.4 0.2 2 18.8-0.3-0.2z" fill="#2d8cf3"/>
<path d="M1028 1050.4l4.5 0.4 2.1-3.6-4.5 0.2zM1079.9 1043.6l3.3 3.2 3.1-1-3.3-2.7z" fill="#4331c7"/>
<path d="M1069.3 1015.5l1.8 3.7 2.3 12.8-1.8-2.5zM1040.8 1034.6l3.4-13.2 1.2-4-3.4 14.4z" fill="#465efb"/>
<path d="M1050.6 997.2l2.6-21 1 3-2.6 19.7zM1060.5 978.7l1.4-3.2 1.8 20.7-1.4 1.8z" fill="#1aacdd"/>
<path d="M1046.1 1016.3l3-18.9 0.6-1.1-3 19.2zM1065.1 995.1l1 0.9 2 18.6-0.9-0.7z" fill="#2d8cf3"/>
<path d="M1075.2 1035l2.7 5.7 2.7 3.4-2.8-2.7zM1033.9 1047.8l4.2-4.3 1.5-5.6-4 6.6z" fill="#463de0"/>
<path d="M1053.9 980.1l2.3-18.7 1.4 10-2.3 15.3zM1057.2 971.4l1.9-10.2 1.6 18.4-1.8 6.8z" fill="#0abdbe"/>
<path d="M1050 996.9l2.6-21.3 0.6 0.6-2.5 21zM1061.8 975.5l1-0.7 1.8 21-0.9 0.4z" fill="#17aeda"/>
<path d="M1045.2 1018.3l2.9-18.1 1-2.8-3 18.9zM1066 996l1.4 2.7 2 17.7-1.3-1.8z" fill="#2d89f5"/>
<path d="M1012 1055.1l5.1 1.3 2.9-2.5-5.1-1.2zM1094.9 1047.9l4.4 2 3.5-2-4.4-1.9z" fill="#3f29b0"/>
<path d="M1071 1019.2l2.2 5.9 2.3 10.7-2.2-3.8zM1039.3 1038.7l3.4-11.2 1.5-6.1-3.4 13.2z" fill="#475bf9"/>
<path d="M1049.8 997l2.6-21.4 0.2 0-2.6 21.3zM1062.7 974.8l0.4 0 1.8 21-0.4 0z" fill="#17aeda"/>
<path d="M1019.1 1054l4.9 1.1 2.6-2.7-4.8-0.9zM1088.5 1047.5l4.1 2.2 3.2-1.8-4-2z" fill="#402bb8"/>
<path d="M1049.5 997.2l2.6-21.3 0.3-0.3-2.6 21.4zM1063.1 974.8l0.4 0.2 1.8 21-0.4-0.2z" fill="#17aeda"/>
<path d="M1053.1 977.1l2.2-20.7 1 5-2.2 18.7zM1059 961.2l1.4-5.2 1.6 20.4-1.4 3.2z" fill="#22c1b0"/>
<path d="M1025.7 1052.6l4.5 0.7 2.4-3.1-4.4-0.4zM1082.7 1046.3l3.7 2.6 3-1.3-3.7-2.4z" fill="#422ebf"/>
<path d="M1044 1022.3l2.9-16.4 1.3-5.7-3 18.1zM1067.3 998.7l1.8 5.4 2.1 16-1.8-3.7z" fill="#2e85f8"/>
<path d="M1048.9 998.2l2.6-20.9 0.6-1.4-2.5 21.3zM1063.4 975l0.9 1.3 1.8 20.6-0.9-0.9z" fill="#17aeda"/>
<path d="M1055.8 962.1l2.1-14.9 1.6 14.6-2.1 10.5z" fill="#38c896"/>
<path d="M1077.6 1039.9l3.2 5.7 2.7 1.1-3.5-3.2zM1031.9 1050.7l4.1-1.6 1.9-6-4.2 4.3z" fill="#4536d5"/>
<path d="M1052.5 976.5l2.2-21.4 0.6 1.3-2.2 20.7zM1060.4 956l0.9-1.4 1.5 21.1-0.9 0.7z" fill="#2cc4a6"/>
<path d="M1048 1001.1l2.6-19.7 0.9-4.1-2.5 21zM1064.3 976.3l1.4 3.9 1.8 19.4-1.4-2.7z" fill="#1aacdd"/>
<path d="M1073.1 1025.1l2.7 7.5 2.2 8.1-2.6-4.8zM1037.5 1043.9l3.7-8.3 1.5-8.1-3.4 11.2z" fill="#4850f2"/>
<path d="M1052.3 976.5l2.2-21.4 0.2 0-2.2 21.4zM1061.3 954.6l0.3-0.1 1.6 21.2-0.4 0z" fill="#2cc4a6"/>
<path d="M1055.2 957.3l1.8-18.3 1.1 8.2-1.9 15.1zM1057.8 947.2l1.4-8.4 1.3 18.1-1.4 5.2z" fill="#5ccc76"/>
<path d="M1052 976.8l2.2-21.4 0.3-0.3-2.2 21.4zM1061.6 954.5l0.4 0.3 1.5 21.1-0.3-0.2z" fill="#2cc4a6"/>
<path d="M1069 1004.1l2.2 8.5 2.1 13.4-2.2-5.9zM1042.5 1028.4l3-13.7 1.5-8.8-3 16.4z" fill="#347afd"/>
<path d="M1051.4 978.2l2.2-20.7 0.6-2.1-2.2 21.4zM1062 954.8l0.9 1.9 1.5 20.5-0.9-1.3z" fill="#2cc4a6"/>
<path d="M1009.1 1057.1l5.1 1.4 3.2-2.6-5.2-1.3zM1098.8 1049.4l4.7 2.1 3.4-2.1-4.7-1.9z" fill="#3f29b0"/>
<path d="M1046.8 1006.8l2.6-17.2 1.2-8.2-2.6 19.7zM1065.6 980.2l1.8 7.9 1.8 16.9-1.8-5.4z" fill="#1fa6e2"/>
<path d="M1054.6 956l1.8-19.6 0.7 2.6-1.8 18.3zM1059.2 938.8l0.9-2.7 1.3 19.4-1 1.4z" fill="#77cc60"/>
<path d="M1092 1049.2l4.5 2.1 3.2-1.8-4.5-2zM1016.5 1056.1l4.8 1.1 2.9-2.6-4.8-1.1z" fill="#402bb8"/>
<path d="M1056.7 939.8l1.6-13.3 1.3 13.1-1.7 8.5z" fill="#a6c83c"/>
<path d="M1023.3 1054.8l4.5 0.8 2.6-2.8-4.4-0.7zM1085.9 1048.4l4 2.3 3-1.4-4-2.2z" fill="#402bb8"/>
<path d="M1054.4 956l1.8-19.7 0.2 0.1-1.8 19.6zM1060.1 936.1l0.3-0.1 1.3 19.4-0.4 0.1z" fill="#77cc60"/>
<path d="M1050.5 982.3l2.2-18.7 0.9-6.1-2.2 20.7zM1062.8 956.7l1.4 6 1.5 18.4-1.3-3.9z" fill="#22c1b0"/>
<path d="M1080.3 1044.9l3.7 4.4 2.7-0.7-3.7-2.7zM1029.6 1053.1l4.1 0.2 2.4-4.8-4.2 1.5z" fill="#4331c7"/>
<path d="M1054.1 956.3l1.8-19.6 0.3-0.4-1.8 19.7zM1060.4 936l0.4 0.4 1.3 19.3-0.4-0.3z" fill="#77cc60"/>
<path d="M1075.5 1032.7l3.1 8.7 2.3 4.2-3.3-5zM1035.5 1049.2l3.6-4.7 1.9-9.1-3.7 8.3z" fill="#4741e5"/>
<path d="M1056.3 937.3l1.4-16 0.7 5.2-1.4 13.4zM1058.2 926.5l1-5.3 1 15.8-1 2.7z" fill="#c8c129"/>
<path d="M1040.8 1036.3l3.3-10 1.4-11.6-3.1 13.7zM1071.1 1012.7l3 11.2 1.7 9.6-2.7-7.5z" fill="#4466fd"/>
<path d="M1053.5 958.4l1.8-18.3 0.7-3.4-1.8 19.6zM1060.8 936.4l0.9 3.2 1.2 18-0.9-1.9z" fill="#77cc60"/>
<path d="M1067.3 988.1l2.3 12 1.7 13.4-2.2-8.5zM1045.3 1015.6l2.8-13.8 1.3-12.2-2.6 17.2z" fill="#269ae9"/>
<path d="M1056.1 937.2l1.4-16.4 0.3 0.5-1.4 16zM1059.2 921.2l0.3-0.5 1 16.2-0.4 0.1z" fill="#d0bf27"/>
<path d="M1049.3 990.5l2.2-15.4 1.2-11.5-2.2 18.7zM1064.1 962.7l1.8 11.3 1.6 15-1.8-7.9z" fill="#0abdbe"/>
<path d="M1055.9 937.6l1.4-16 0.2-0.8-1.4 16.4zM1059.5 920.7l0.4 0.7 0.9 15.8-0.3-0.3z" fill="#d0bf27"/>
<path d="M1057.5 922.1l1.1-10.3 0.9 10.2-1.2 5.4z" fill="#ebba32"/>
<path d="M1052.6 964.5l1.8-15.1 0.9-9.3-1.8 18.3zM1061.6 939.6l1.4 9.2 1.3 14.8-1.4-6z" fill="#5ccc76"/>
<path d="M1055.2 941l1.5-13.4 0.6-6-1.4 16zM1059.9 921.4l0.9 5.9 0.9 13.2-0.9-3.2z" fill="#c8c129"/>
<path d="M1058.5 911.8l0.4-1.8 0.7 11.6-0.4 0.5zM1057.4 921.7l1-11.6 0.2 1.7-0.9 10.4zM1058.9 910l0.4 2 0.6 10.3-0.3-0.7zM1057.2 922.5l0.9-10.4 0.3-2-1 11.6z" fill="#f7ba3c"/>
<path d="M1058.2 910.9l0.5-5.3 0.4 5.3-0.5 1.8z" fill="#fec636"/>
<path d="M1059.2 912l1 10.9 0.6 5.3-1-5.9z" fill="#ebba32"/>
<path d="M1013.6 1058.2l4.7 1.3 3.2-2.8-4.8-1.1z" fill="#3f29b0"/>
<path d="M1020.6 1056.9l4.5 1 2.9-2.8-4.4-0.9z" fill="#402bb8"/>
<path d="M1027.1 1055.4l4.1 0.5 2.7-3.2-4.1-0.2z" fill="#422ebf"/>
<path d="M1033.2 1053.3l3.6-1.8 2.3-7.8-3.7 4.7z" fill="#4536d5"/>
<path d="M1038.8 1044.6l3-6.2 2-12.5-3.3 9.7z" fill="#4853f5"/>
<path d="M1043.6 1026.7l2.6-9.3 1.8-15.6-3 13.3z" fill="#2e85f8"/>
<path d="M1047.8 1002.7l2.3-10.7 1.4-16.9-2.5 15.1z" fill="#12b1d7"/>
<path d="M1051.4 976l1.9-10.2 1.1-16.4-2 15z" fill="#38c896"/>
<path d="M1054.3 950.3l1.5-8.3 0.9-14.4-1.6 13.4z" fill="#a6c83c"/>
<path d="M1056.6 928.5l0.9-5.4 0.6-11-1 10.4z" fill="#ebba32"/>
<path d="M1058 913l0.5-1.8 0.2-5.6-0.4 5.4zM1058.7 905.6l0.4 5.6 0.2 1.7-0.4-2z" fill="#fec636"/>
<path d="M1060.7 927.3l1.4 14.2 1 8.2-1.6-9.2z" fill="#a6c83c"/>
<path d="M1063 948.8l1.8 16.1 1.2 10-2.1-11.4z" fill="#38c896"/>
<path d="M1065.9 974l2.2 16.6 1.5 10.3-2.6-12.1z" fill="#12b1d7"/>
<path d="M1069.4 1000.1l2.7 15.3 1.7 9-3-11.3z" fill="#2e85f8"/>
<path d="M1073.6 1023.5l3 12.1 2 5.8-3.3-8.5z" fill="#4853f5"/>
<path d="M1078.3 1040.6l3.5 7.4 2.4 1.2-3.8-4.3z" fill="#4536d5"/>
<path d="M1083.4 1048.8l4.1 2.7 2.8-1.1-4.2-2.4z" fill="#422ebf"/>
<path d="M1089.4 1050.2l4.4 2.3 3-1.6-4.5-2.1z" fill="#402bb8"/>
<path d="M1095.9 1050.8l4.7 2.1 3.2-1.9-4.8-2z" fill="#3f29b0"/>
<path d="M1058.3 911.2l0.5 2 0.4-2.1-0.5-5.5z" fill="#fec636"/>
<path d="M1057.4 923.1l0.4-0.5 0.7-12.3-0.4 1.8zM1059 910.3l0.9 12.2 0.3 0.4-0.9-10.9zM1057.8 922.6l0.4 0.8 0.6-11.1-0.3-2zM1058.7 912.3l1 10.9 0.3-0.7-1-12.2z" fill="#f7ba3c"/>
<path d="M1060.1 922l1.4 16.9 0.6 2.6-1.4-14.2zM1055.7 942l0.9-2.7 0.9-17-0.9 5.3z" fill="#c8c129"/>
<path d="M1053.1 965.8l1.4-5.2 1.2-19.5-1.3 8.3zM1062 940.6l1.8 19.3 1 5-1.8-16.1z" fill="#5ccc76"/>
<path d="M1057.9 923.3l1.2 5.9 0.8-6-1.1-10.9z" fill="#ebba32"/>
<path d="M1056.5 939.3l0.4-0.2 1-17.4-0.4 0.5zM1059.9 921.6l1.4 17.1 0.2 0.2-1.4-16.9z" fill="#d0bf27"/>
<path d="M1064.7 964l2.2 20 1.2 6.6-2.2-16.6zM1049.9 992l1.8-6.8 1.5-20.3-1.8 10.2z" fill="#0abdbe"/>
<path d="M1056.9 939.1l0.4 0.4 0.9-17-0.3-0.8zM1059.6 922.3l1.4 16.9 0.3-0.5-1.4-17.1z" fill="#d0bf27"/>
<path d="M1046.1 1017.4l2.2-7.2 1.8-19.1-2.2 10.7zM1068 989.7l2.5 18.7 1.5 7-2.6-15.3z" fill="#269ae9"/>
<path d="M1061.4 938l1.8 20.6 0.7 1.3-1.8-19.3zM1054.5 960.6l0.9-1.4 1.2-20.8-0.9 2.7z" fill="#77cc60"/>
<path d="M1041.6 1038.4l2.6-6.1 2-15.8-2.6 9.3zM1071.9 1014.5l3 15.4 1.7 5.7-3-12.1z" fill="#4466fd"/>
<path d="M1057.2 939.5l0.9 3.2 1-14.3-0.9-5.9zM1059 928.4l1.4 14.1 0.7-3.3-1.4-16.9z" fill="#c8c129"/>
<path d="M1036.5 1051.5l3.1-3.1 2.3-10.9-3.1 6.2zM1076.4 1034.8l3.4 10.4 2.1 2.7-3.6-7.3z" fill="#4741e5"/>
<path d="M1055.3 959.2l0.4-0.1 1.3-20.9-0.4 0.2zM1061.2 937.8l1.8 20.8 0.2 0-1.8-20.6z" fill="#77cc60"/>
<path d="M1030.7 1055.7l3.6 0.1 2.7-5-3.7 1.7zM1081.3 1047.3l4 4.4 2.5-0.5-4.2-2.7z" fill="#4331c7"/>
<path d="M1063.7 959l2.2 22 1 3-2.2-20zM1051.7 985.2l1.3-3.2 1.5-22.3-1.3 5.2z" fill="#22c1b0"/>
<path d="M1055.7 959.1l0.4 0.3 1.2-20.8-0.4-0.4zM1060.9 938.3l1.8 20.6 0.3-0.3-1.8-20.8z" fill="#77cc60"/>
<path d="M1086.9 1051l4.5 2.4 2.7-1.3-4.5-2.2zM1024.5 1057.6l4 0.8 3-3-4.1-0.6z" fill="#402bb8"/>
<path d="M1057.8 942.6l1.7 9.3 1.2-9.5-1.6-14.1z" fill="#a6c83c"/>
<path d="M1017.7 1059.2l4.4 1.1 3.2-2.9-4.4-1zM1093.2 1052l4.8 2.2 2.9-1.6-4.8-2.2z" fill="#402bb8"/>
<path d="M1056 959.4l0.9 2 1.3-19.6-0.9-3.2zM1060.3 941.6l1.8 19.4 0.7-2.1-1.8-20.6z" fill="#77cc60"/>
<path d="M1048.2 1010.2l1.8-4.4 1.8-21.5-1.8 6.8zM1066.8 983.1l2.5 21.1 1.3 4.2-2.6-18.7z" fill="#1fa6e2"/>
<path d="M1100 1052.5l5.1 2.2 3.2-2-5.1-2.1zM1010.5 1060.5l4.7 1.3 3.4-2.8-4.7-1.3z" fill="#3f29b0"/>
<path d="M1063.1 957.7l2.2 22.6 0.7 0.7-2.2-22zM1053 982l0.9-0.7 1.5-23-0.9 1.4z" fill="#2cc4a6"/>
<path d="M1044.1 1032.3l2.2-4.5 2-18.5-2.1 7.2zM1070.4 1007.5l3 18.1 1.5 4.3-3-15.4z" fill="#347afd"/>
<path d="M1062.9 957.7l2.2 22.7 0.2-0.1-2.1-22.6zM1053.9 981.3l0.3 0 1.6-23.1-0.4 0.1z" fill="#2cc4a6"/>
<path d="M1056.8 961.4l1.5 5.9 1.3-16.3-1.5-9.2zM1059.3 951l1.9 16.1 1-6.1-1.8-19.4z" fill="#5ccc76"/>
<path d="M1062.7 958l2.1 22.7 0.3-0.3-2.2-22.7zM1054.2 981.3l0.4 0.2 1.5-23-0.4-0.3z" fill="#2cc4a6"/>
<path d="M1039.4 1048.3l2.6-3.3 2.3-13.5-2.6 6zM1074.7 1029l3.3 13.1 1.8 3-3.4-10.4z" fill="#4850f2"/>
<path d="M1049.9 1005.8l1.4-1.9 1.8-22.8-1.4 3.2zM1065.8 980.1l2.6 22.5 1 1.6-2.6-21.1z" fill="#1aacdd"/>
<path d="M1062 960.1l2.2 22 0.7-1.4-2.2-22.7zM1054.5 981.5l1 1.3 1.5-22.3-0.9-2z" fill="#2cc4a6"/>
<path d="M1033.9 1055.7l3.2-0.8 2.6-7.4-3.1 3.2zM1079.4 1044.4l3.9 6.8 2.2 0.4-4.1-4.4z" fill="#4536d5"/>
<path d="M1057.9 967.2l2.1 11.4 1.6-11.7-2.2-15.9z" fill="#38c896"/>
<path d="M1065.2 979.5l2.6 22.8 0.6 0.2-2.5-22.4zM1051.2 1003.9l1-0.4 1.7-23.1-0.9 0.7z" fill="#17aeda"/>
<path d="M1046.2 1027.8l1.8-2.7 2.1-20.2-1.8 4.4zM1069.2 1003.4l3 19.8 1.2 2.4-3-18.1z" fill="#2e85f8"/>
<path d="M1084.7 1051.2l4.5 2.6 2.4-0.7-4.5-2.4zM1028 1058.1l3.6 0.3 3-3.2-3.6-0.1z" fill="#422ebf"/>
<path d="M1061.1 966.2l2.2 20 1-4.1-2.2-22zM1055.4 982.8l1.4 3.9 1.5-20.2-1.4-6z" fill="#22c1b0"/>
<path d="M1052.1 1003.5l0.4 0.1 1.8-23.2-0.4 0zM1065 979.5l2.6 22.9 0.2-0.1-2.5-22.8z" fill="#17aeda"/>
<path d="M1090.8 1052.9l4.8 2.4 2.6-1.4-4.8-2.2zM1021.6 1060l4 0.9 3.2-3.1-4-0.7z" fill="#402bb8"/>
<path d="M1052.5 1003.6l0.3 0.1 1.8-23.1-0.3-0.2zM1064.8 979.8l2.5 22.8 0.3-0.2-2.6-22.9z" fill="#17aeda"/>
<path d="M1041.9 1045l2.2-2.6 2.3-15.5-2.2 4.5zM1073.2 1024.7l3.4 15.1 1.5 2.3-3.4-13.1z" fill="#475bf9"/>
<path d="M1014.6 1061.5l4.4 1.2 3.4-2.9-4.3-1.2zM1097.4 1053.8l5.1 2.3 2.9-1.8-5.2-2.2z" fill="#3f29b0"/>
<path d="M1047.9 1025.1l1.4-1 2.1-21.1-1.4 1.9zM1068.3 1001.7l3 20.6 0.9 0.9-2.9-19.9z" fill="#2d89f5"/>
<path d="M1052.8 1003.7l0.9 1 1.8-22.8-0.9-1.3zM1064.1 981.2l2.6 22.4 0.6-1-2.5-22.8z" fill="#17aeda"/>
<path d="M1059.8 977.8l2.3 16.5 1.3-8.1-2.2-20zM1056.6 986.7l1.9 7.9 1.7-16.8-1.9-11.4z" fill="#0abdbe"/>
<path d="M1036.8 1054.9l2.7-1.3 2.7-9.5-2.7 3.4zM1077.8 1041.3l3.8 8.9 1.8 1-3.9-6.9z" fill="#463de0"/>
<path d="M1067.7 1001.4l2.9 20.9 0.7 0-3-20.6zM1049.3 1024.1l0.9-0.2 2-21.3-0.9 0.4z" fill="#2d8cf3"/>
<path d="M1053.7 1004.6l1.4 2.7 1.8-21.5-1.4-3.9zM1063.2 985.3l2.6 21.2 1-2.9-2.6-22.4z" fill="#1aacdd"/>
<path d="M1044 1042.4l1.8-1.4 2.3-16.8-1.8 2.7zM1072 1022.3l3.4 16.3 1.2 1.2-3.3-15.1z" fill="#465efb"/>
<path d="M1031.2 1058.2l3.2-0.1 3-3.9-3.2 0.7zM1082.8 1050.6l4.5 3.2 2.1-0.2-4.5-2.6z" fill="#4331c7"/>
<path d="M1050.1 1023.9l0.4 0.1 2.1-21.3-0.4-0.1zM1067.5 1001.5l2.9 20.9 0.3-0.1-3-20.9zM1050.5 1024l0.4 0.1 2-21.3-0.3-0.1zM1067.2 1001.7l3 20.9 0.2-0.2-2.9-20.9z" fill="#2d8cf3"/>
<path d="M1058.1 994.4l2.5 12.1 1.9-12.4-2.5-16.4z" fill="#12b1d7"/>
<path d="M1025.1 1060.6l3.6 0.5 3.3-3.3-3.7-0.3zM1088.6 1053.3l4.8 2.6 2.4-0.9-4.9-2.4z" fill="#402bb8"/>
<path d="M1055 1007.3l1.8 5.5 1.8-19.1-1.8-7.9zM1061.9 993.4l2.7 18.7 1.3-5.6-2.6-21.2z" fill="#1fa6e2"/>
<path d="M1050.8 1024.1l1 0.7 2-21-0.9-1zM1066.6 1002.7l2.9 20.7 0.7-0.8-3-20.9z" fill="#2d8cf3"/>
<path d="M1039.4 1053.5l2.2-1.1 2.6-10.9-2.2 2.6zM1076.3 1039l3.8 10.4 1.6 0.8-3.9-8.9z" fill="#4741e5"/>
<path d="M1045.7 1041l1.4-0.5 2.3-17.3-1.4 1zM1071.1 1021.4l3.3 16.9 1 0.3-3.3-16.3z" fill="#4562fc"/>
<path d="M1094.9 1054.8l5.2 2.4 2.6-1.5-5.2-2.2zM1018.4 1062.4l4 1 3.5-3.1-4-0.9z" fill="#402bb8"/>
<path d="M1051.7 1024.8l1.4 1.9 2-20.3-1.3-2.6zM1065.7 1005.6l2.9 19.8 1-2-3-20.7z" fill="#2d89f5"/>
<path d="M1070.5 1021.4l3.3 17 0.7-0.1-3.4-16.9zM1047 1040.5l1 0 2.3-17.5-0.9 0.2z" fill="#4466fd"/>
<path d="M1034 1057.9l2.8-0.3 3.1-4.8-2.8 1.2zM1081.1 1049.5l4.5 4.2 1.8 0-4.5-3.2z" fill="#4434ce"/>
<path d="M1101.8 1055.7l5.5 2.2 2.9-1.8-5.5-2.2zM1011.3 1063.9l4.3 1.4 3.7-3.1-4.3-1.2z" fill="#3f29b0"/>
<path d="M1056.6 1012.7l2.3 8.6 2-15.6-2.4-12zM1060.3 1005.8l2.8 15.2 1.7-8.9-2.7-18.7z" fill="#269ae9"/>
<path d="M1047.9 1040.5l0.4 0.1 2.3-17.5-0.3-0.1zM1070.3 1021.5l3.3 17.1 0.3-0.2-3.4-17z" fill="#4466fd"/>
<path d="M1041.5 1052.4l1.8-0.6 2.7-11.7-1.9 1.4zM1075.1 1037.8l3.8 11.2 1.3 0.4-3.8-10.4z" fill="#4744e9"/>
<path d="M1048.3 1040.6l0.3 0.1 2.4-17.5-0.4-0.1zM1070 1021.7l3.4 17.1 0.2-0.2-3.3-17.1z" fill="#4466fd"/>
<path d="M1053 1026.6l1.8 3.8 2.1-18.5-1.8-5.5zM1064.4 1011.3l3 18.1 1.3-4-3-19.8z" fill="#2e85f8"/>
<path d="M1028.3 1060.8l3.2 0.2 3.3-3.6-3.2 0.1zM1086.6 1053.3l4.9 2.8 2.1-0.4-4.9-2.6z" fill="#422ebf"/>
<path d="M1048.6 1040.7l0.9 0.5 2.4-17.3-1-0.7zM1069.4 1022.5l3.3 16.9 0.7-0.7-3.4-17z" fill="#4466fd"/>
<path d="M1043.2 1051.8l1.4-0.1 2.7-12.1-1.4 0.5zM1074.2 1037.5l3.8 11.6 1-0.1-3.8-11.2z" fill="#4848ec"/>
<path d="M1036.5 1057.5l2.4-0.3 3-5.6-2.3 1.1zM1079.7 1048.6l4.4 5 1.6 0-4.5-4.2z" fill="#4536d5"/>
<path d="M1049.5 1041.2l1.4 1.3 2.3-16.7-1.4-1.9zM1068.5 1024.5l3.3 16.4 1-1.5-3.4-16.9z" fill="#4562fc"/>
<path d="M1058.5 1021.1l2.9 11 2.1-11.4-2.9-15.1z" fill="#2e85f8"/>
<path d="M1092.7 1055.4l5.2 2.6 2.4-1.1-5.2-2.4zM1022 1063.1l3.6 0.7 3.5-3.3-3.6-0.5z" fill="#402bb8"/>
<path d="M1054.6 1030.3l2.3 5.9 2.2-15.7-2.3-8.6zM1062.9 1020.1l3 15.4 1.7-6.2-3.1-18.1z" fill="#347afd"/>
<path d="M1044.5 1051.7l1 0.1 2.6-12.2-0.9 0zM1073.6 1037.6l3.8 11.7 0.6-0.2-3.7-11.7zM1045.4 1051.8l0.4 0.1 2.6-12.2-0.3-0.1zM1073.4 1037.7l3.8 11.8 0.2-0.2-3.8-11.7z" fill="#4848ec"/>
<path d="M1099.4 1056.8l5.5 2.4 2.6-1.6-5.5-2.3zM1015.1 1064.9l4 1.1 3.7-3.1-3.9-1.1z" fill="#3f29b0"/>
<path d="M1031.1 1060.7l2.8 0 3.3-3.8-2.7 0.3zM1084.9 1053.1l4.9 3 1.8-0.2-4.9-2.7z" fill="#4331c7"/>
<path d="M1050.7 1042.5l1.9 2.5 2.4-15.5-1.9-3.7zM1067.2 1028.5l3.4 15.1 1.3-2.8-3.4-16.3z" fill="#465efb"/>
<path d="M1045.8 1051.9l0.4 0.2 2.6-12.3-0.4-0.1zM1073.1 1037.9l3.8 11.7 0.3-0.2-3.8-11.7z" fill="#4848ec"/>
<path d="M1038.7 1057.1l1.9 0 3-6.1-1.9 0.5zM1078.5 1048.3l4.3 5.4 1.4-0.2-4.4-4.9z" fill="#4536d5"/>
<path d="M1046.1 1052l1 0.5 2.6-12.2-0.9-0.5zM1072.5 1038.5l3.8 11.7 0.6-0.6-3.7-11.7z" fill="#4848ec"/>
<path d="M1056.6 1036.1l2.8 7.7 2.4-12.3-2.9-11.1zM1060.9 1031.5l3.3 11.9 2-8-3.1-15.3z" fill="#4466fd"/>
<path d="M1025.1 1063.5l3.2 0.4 3.6-3.6-3.2-0.1zM1090.7 1055.6l5.2 2.8 2.1-0.7-5.2-2.5z" fill="#402bb8"/>
<path d="M1040.4 1057l1.5 0.2 3-6.3-1.4 0.1zM1077.6 1048.3l4.3 5.7 1.1-0.3-4.4-5.5z" fill="#463adb"/>
<path d="M1047 1052.4l1.4 1 2.6-11.7-1.4-1.4zM1071.6 1040l3.8 11.3 1-1.2-3.8-11.6z" fill="#4848ec"/>
<path d="M1052.4 1045l2.3 3.9 2.4-13.5-2.3-5.9zM1065.7 1034.7l3.4 13 1.7-4.2-3.5-15z" fill="#475bf9"/>
<path d="M1033.6 1060.5l2.4-0.1 3.3-3.9-2.3 0.2zM1083.4 1053l4.9 3.2 1.6-0.2-4.9-3z" fill="#4331c7"/>
<path d="M1077 1048.6l4.3 5.7 0.7-0.4-4.4-5.6zM1041.8 1057.1l0.9 0.3 3.1-6.4-1-0.1z" fill="#463adb"/>
<path d="M1097.2 1057.6l5.5 2.5 2.3-1.2-5.5-2.4zM1018.6 1065.7l3.6 0.9 3.8-3.4-3.6-0.7z" fill="#402bb8"/>
<path d="M1048.2 1053.3l1.9 1.7 2.7-10.8-1.9-2.6zM1070.3 1042.8l3.8 10.3 1.4-1.9-3.8-11.2z" fill="#4744e9"/>
<path d="M1042.7 1057.3l0.4 0.2 3-6.4-0.4-0.1zM1076.7 1048.7l4.4 5.7 0.3-0.1-4.4-5.8zM1043 1057.4l0.4 0.2 3.1-6.4-0.4-0.1zM1076.5 1048.8l4.4 5.8 0.2-0.2-4.3-5.7z" fill="#463adb"/>
<path d="M1059 1043.5l3.2 8.2 2.4-8.6-3.3-11.9z" fill="#4853f5"/>
<path d="M1035.7 1060.3l1.9 0.1 3.5-4-2 0zM1082.2 1053.1l4.9 3.3 1.3-0.3-4.9-3.2z" fill="#4434ce"/>
<path d="M1054.4 1048.8l2.8 4.9 2.5-10.7-2.8-7.7zM1063.8 1042.7l3.6 10.2 2-5.3-3.5-13z" fill="#4850f2"/>
<path d="M1028 1063.6l2.8 0.1 3.6-3.7-2.8 0.1zM1089 1055.6l5.2 3 1.9-0.4-5.3-2.7z" fill="#422ebf"/>
<path d="M1043.3 1057.5l1 0.4 3.1-6.2-1-0.5zM1075.9 1049.4l4.3 5.7 0.7-0.5-4.3-5.8z" fill="#463adb"/>
<path d="M1049.9 1055l2.3 2.4 2.8-9.3-2.4-4zM1068.8 1047l3.9 8.8 1.6-2.8-3.8-10.3z" fill="#4741e5"/>
<path d="M1044.2 1057.9l1.5 0.8 3-6.1-1.5-1zM1074.9 1050.5l4.4 5.5 1-1-4.3-5.7z" fill="#463adb"/>
<path d="M1037.4 1060.3l1.5 0.2 3.5-4-1.5-0.2zM1081.3 1053.4l4.9 3.3 1-0.4-4.9-3.3z" fill="#4434ce"/>
<path d="M1095.2 1058l5.5 2.7 2.1-0.8-5.5-2.6zM1021.8 1066.3l3.2 0.5 3.8-3.6-3.2-0.3z" fill="#402bb8"/>
<path d="M1030.5 1063.5l2.3 0.2 3.6-3.9-2.3 0zM1087.6 1055.7l5.2 3.1 1.5-0.3-5.2-3z" fill="#422ebf"/>
<path d="M1080.7 1053.7l4.9 3.3 0.7-0.4-4.9-3.3zM1038.8 1060.4l1 0.3 3.4-4-1-0.3z" fill="#4434ce"/>
<path d="M1056.8 1053.5l3.2 5.2 2.7-7.5-3.3-8.3zM1061.8 1051.2l3.6 7 2.4-5.5-3.6-10.2z" fill="#4741e5"/>
<path d="M1045.4 1058.5l2 1.3 3.1-5.5-2-1.8zM1073.7 1052.5l4.4 4.9 1.4-1.6-4.4-5.4z" fill="#4536d5"/>
<path d="M1039.7 1060.6l0.4 0.2 3.4-4.1-0.4-0.1zM1080.5 1053.8l4.9 3.4 0.2-0.2-4.9-3.4z" fill="#4434ce"/>
<path d="M1051.9 1057.3l2.8 3 2.9-7.2-2.9-5.1zM1066.9 1052.3l4 6.7 2-3.3-3.9-8.9z" fill="#463de0"/>
<path d="M1040 1060.7l0.4 0.2 3.5-4.1-0.4-0.1zM1080.2 1054l4.9 3.3 0.3-0.2-4.9-3.3z" fill="#4434ce"/>
<path d="M1101.9 1059.7l5.9 2.5 2.3-1.3-5.8-2.4zM1015.1 1068.4l3.5 1 4.1-3.4-3.6-0.9z" fill="#3f29b0"/>
<path d="M1040.3 1060.8l1 0.5 3.5-4.1-1-0.4zM1079.6 1054.5l4.9 3.3 0.7-0.6-4.9-3.3z" fill="#4434ce"/>
<path d="M1032.6 1063.5l1.9 0.3 3.7-4.1-2-0.1zM1086.4 1055.9l5.2 3.3 1.3-0.5-5.3-3.1z" fill="#4331c7"/>
<path d="M1093.5 1058.2l5.5 2.9 1.8-0.6-5.5-2.7zM1024.7 1066.5l2.7 0.4 3.8-3.8-2.7-0.1z" fill="#402bb8"/>
<path d="M1047.1 1059.6l2.4 1.9 3.2-4.7-2.5-2.7zM1072.1 1055.3l4.5 4 1.7-2.2-4.4-4.8z" fill="#4536d5"/>
<path d="M1041.2 1061.1l1.5 0.8 3.4-3.9-1.5-0.9zM1078.7 1055.4l4.8 3.3 1.1-1-4.9-3.3z" fill="#4434ce"/>
<path d="M1059.6 1058.4l3.6 4 2.6-4.5-3.6-7.1z" fill="#4536d5"/>
<path d="M1034.3 1063.6l1.5 0.3 3.7-4-1.5-0.3zM1085.4 1056.2l5.3 3.3 0.9-0.5-5.2-3.2z" fill="#4331c7"/>
<path d="M1054.3 1060.1l3.3 2.8 2.9-4.7-3.3-5.4zM1064.9 1057.8l4.1 4.2 2.3-3.3-4-6.7z" fill="#4536d5"/>
<path d="M1042.5 1061.7l2 1.3 3.4-3.8-2-1.4zM1077.4 1056.9l4.9 3.1 1.4-1.6-4.9-3.2z" fill="#4434ce"/>
<path d="M1084.8 1056.5l5.3 3.3 0.6-0.4-5.2-3.3zM1035.6 1063.8l1 0.3 3.7-4.1-1-0.2z" fill="#4331c7"/>
<path d="M1100 1060.3l5.8 2.7 2.1-1-5.9-2.6zM1018.3 1069.1l3.1 0.6 4.1-3.5-3.2-0.5z" fill="#402bb8"/>
<path d="M1027.1 1066.7l2.4 0.3 3.8-4-2.3-0.1zM1092 1058.4l5.5 3.1 1.6-0.6-5.5-2.9z" fill="#422ebf"/>
<path d="M1049.2 1061.2l2.8 2.3 3.2-3.7-2.9-3.3zM1070.4 1058.6l4.5 3.1 2-2.7-4.5-4z" fill="#4434ce"/>
<path d="M1036.5 1064.1l0.4 0.1 3.8-4.1-0.4-0.1zM1084.6 1056.7l5.2 3.3 0.3-0.2-5.2-3.3zM1036.9 1064.2l0.4 0.1 3.7-4.1-0.4-0.1zM1084.4 1056.8l5.2 3.3 0.3-0.2-5.3-3.3zM1037.2 1064.2l1 0.5 3.7-4.1-1-0.4zM1083.7 1057.3l5.3 3.3 0.6-0.6-5.2-3.2zM1044.2 1062.7l2.4 1.8 3.4-3.6-2.4-2zM1076 1058.9l4.8 2.9 1.7-2.1-4.8-3.1z" fill="#4331c7"/>
<path d="M1090.8 1058.7l5.5 3.2 1.3-0.6-5.5-3.1zM1029.2 1066.8l2 0.3 3.9-4-1.9-0.3z" fill="#422ebf"/>
<path d="M1057.1 1062.6l3.7 2.4 2.8-3.1-3.6-4.1zM1062.7 1062l4.1 2.5 2.5-2.9-4-4.3zM1038.1 1064.5l1.5 0.8 3.7-4-1.6-0.8zM1082.8 1058.2l5.2 3.2 1-0.9-5.2-3.3z" fill="#4331c7"/>
<path d="M1098.2 1060.7l5.9 2.8 1.8-0.7-5.8-2.7zM1021.1 1069.5l2.7 0.5 4.1-3.8-2.7-0.3z" fill="#402bb8"/>
<path d="M1051.6 1063.1l3.3 2.4 3.1-3.1-3.3-3zM1068.4 1061.6l4.5 2.5 2.2-2.9-4.4-3.1z" fill="#4331c7"/>
<path d="M1089.9 1059.1l5.5 3.2 1-0.5-5.5-3.2zM1031 1067l1.4 0.3 4-4-1.5-0.4z" fill="#422ebf"/>
<path d="M1046.3 1064.2l2.8 2.1 3.4-3.3-2.9-2.4zM1074.2 1061.2l4.8 2.7 2-2.5-4.8-2.9zM1039.4 1065.1l1.9 1.2 3.7-3.9-2-1.3zM1081.6 1059.5l5.2 3.1 1.3-1.4-5.2-3.2z" fill="#4331c7"/>
<path d="M1089.3 1059.4l5.5 3.2 0.7-0.4-5.5-3.2zM1032.3 1067.2l1 0.3 3.9-4-1-0.3z" fill="#422ebf"/>
<path d="M1096.8 1061l5.8 3 1.6-0.6-5.9-2.9zM1023.6 1069.8l2.3 0.4 4.1-3.9-2.3-0.3z" fill="#402bb8"/>
<path d="M1089.1 1059.5l5.5 3.2 0.3-0.2-5.6-3.2zM1033.2 1067.5l0.4 0.1 4-4.1-0.4-0.1z" fill="#422ebf"/>
<path d="M1014.5 1071.9l3.2 0.8 4.2-3.6-3.1-0.6zM1105 1062.6l6.2 2.6 2.1-1.1-6.2-2.5z" fill="#3f29b0"/>
<path d="M1060.3 1064.6l4 2.2 2.8-2.8-4-2.5zM1088.8 1059.7l5.6 3.2 0.2-0.2-5.5-3.2zM1033.6 1067.6l0.4 0.1 3.9-4-0.4-0.2zM1066.2 1064.1l4.5 2.3 2.5-2.7-4.5-2.6zM1054.4 1065.1l3.7 2.3 3.1-2.9-3.7-2.5zM1041.1 1066l2.4 1.6 3.6-3.6-2.4-1.8zM1080.1 1061.3l5.2 3 1.6-1.9-5.1-3.1zM1088.2 1060.1l5.5 3.2 0.7-0.5-5.5-3.2zM1033.9 1067.7l1 0.4 3.9-4.1-1-0.4zM1048.7 1066l3.3 2.2 3.3-3.2-3.2-2.4zM1072.3 1063.7l4.8 2.5 2.2-2.7-4.8-2.7z" fill="#422ebf"/>
<path d="M1095.6 1061.4l5.8 3.1 1.3-0.6-5.8-3zM1025.7 1070l1.9 0.5 4.1-4-1.9-0.4z" fill="#402bb8"/>
<path d="M1087.3 1060.9l5.5 3.2 1-0.9-5.5-3.2zM1034.7 1067.9l1.5 0.8 3.9-4-1.5-0.8z" fill="#422ebf"/>
<path d="M1017.4 1072.4l2.7 0.7 4.3-3.7-2.7-0.5zM1103.3 1063.1l6.2 2.8 1.8-0.9-6.2-2.6z" fill="#3f29b0"/>
<path d="M1043.1 1067.3l2.9 1.9 3.6-3.4-2.8-2.2zM1078.4 1063.5l5.1 2.7 2-2.3-5.2-2.9z" fill="#422ebf"/>
<path d="M1094.7 1061.8l5.8 3.2 1-0.6-5.9-3.1zM1027.4 1070.3l1.5 0.4 4.1-4-1.4-0.4z" fill="#402bb8"/>
<path d="M1086.1 1062.2l5.5 3 1.3-1.3-5.5-3.1zM1036 1068.5l2 1.1 3.9-3.9-2-1.2z" fill="#422ebf"/>
<path d="M1063.8 1066.4l4.4 2.2 2.8-2.6-4.5-2.4zM1057.6 1067l4 2.1 3.1-2.7-4.1-2.3z" fill="#402bb8"/>
<path d="M1094.1 1062.2l5.8 3.1 0.7-0.4-5.9-3.2zM1028.8 1070.6l0.9 0.3 4.2-4-1-0.3z" fill="#422ebf"/>
<path d="M1051.5 1067.8l3.7 2.1 3.3-3-3.6-2.3zM1070.1 1066l4.7 2.3 2.5-2.5-4.8-2.5z" fill="#402bb8"/>
<path d="M1093.8 1062.3l5.9 3.1 0.3-0.1-5.9-3.2zM1029.7 1070.9l0.3 0.1 4.2-4-0.4-0.2z" fill="#422ebf"/>
<path d="M1019.8 1072.9l2.4 0.5 4.3-3.8-2.3-0.4zM1101.8 1063.6l6.2 2.9 1.6-0.8-6.2-2.7z" fill="#402bb8"/>
<path d="M1093.6 1062.4l5.8 3.2 0.3-0.2-5.9-3.1zM1030 1071l0.4 0.1 4.2-4-0.4-0.2zM1037.7 1069.3l2.4 1.5 3.9-3.7-2.4-1.7zM1084.6 1063.8l5.5 2.9 1.6-1.7-5.5-3.1z" fill="#422ebf"/>
<path d="M1045.6 1068.9l3.3 2 3.5-3.2-3.2-2.3zM1076.4 1065.8l5.2 2.5 2.1-2.4-5.1-2.8z" fill="#402bb8"/>
<path d="M1093 1062.9l5.8 3.1 0.7-0.5-5.9-3.1zM1030.3 1071l1 0.5 4.2-4.1-1-0.4z" fill="#422ebf"/>
<path d="M1021.9 1073.2l1.9 0.6 4.4-4-1.9-0.4zM1100.6 1064.1l6.2 3 1.3-0.7-6.2-2.9zM1092 1063.7l5.9 3.1 1-0.9-5.9-3.1zM1031.2 1071.3l1.5 0.7 4.1-4-1.5-0.7zM1061.1 1068.7l4.4 2.1 3-2.7-4.4-2.1zM1082.8 1065.8l5.5 2.7 1.9-2.1-5.4-2.9zM1039.8 1070.4l2.8 1.8 3.9-3.5-2.8-1.9zM1067.6 1068.2l4.8 2.2 2.7-2.5-4.8-2.3zM1054.7 1069.5l4 2 3.3-2.9-4-2.1zM1023.7 1073.6l1.4 0.5 4.4-4-1.4-0.4zM1099.7 1064.6l6.2 3 1-0.6-6.2-3zM1090.8 1064.8l5.9 3 1.3-1.2-5.9-3.1zM1032.5 1071.8l1.9 1 4.2-3.9-2-1.1zM1074.2 1067.9l5.1 2.4 2.5-2.4-5.1-2.5zM1048.4 1070.5l3.7 2 3.5-3.1-3.6-2.1zM1099.1 1064.9l6.2 3 0.7-0.4-6.2-3zM1025 1073.9l1 0.4 4.4-4-1-0.3zM1025.9 1074.2l0.4 0.2 4.4-4-0.4-0.1zM1098.9 1065l6.2 3.1 0.2-0.2-6.1-3.1zM1089.3 1066.3l5.9 2.9 1.6-1.6-5.8-3zM1034.2 1072.6l2.4 1.3 4.1-3.7-2.4-1.5zM1080.9 1067.9l5.4 2.5 2.2-2.2-5.4-2.7zM1042.3 1071.8l3.2 1.9 3.8-3.3-3.2-2zM1026.3 1074.3l0.3 0.2 4.5-4-0.4-0.1zM1098.7 1065.2l6.1 3 0.3-0.2-6.2-3zM1026.6 1074.4l0.9 0.4 4.4-4-0.9-0.4zM1098 1065.6l6.2 3.1 0.7-0.5-6.2-3.1zM1058.2 1071.1l4.4 1.9 3.2-2.7-4.3-2zM1064.9 1070.4l4.8 2 3-2.5-4.8-2.1zM1071.8 1070l5.1 2.2 2.7-2.3-5.2-2.4zM1051.6 1072.1l4 1.8 3.5-2.9-4-2zM1027.4 1074.7l1.5 0.6 4.4-3.9-1.5-0.7zM1097.1 1066.4l6.2 2.9 1-0.8-6.2-3zM1087.6 1068.1l5.8 2.7 1.9-1.9-5.8-2.9zM1036.3 1073.6l2.8 1.5 4.1-3.5-2.8-1.7zM1078.7 1069.9l5.4 2.3 2.4-2.2-5.4-2.5zM1045.1 1073.3l3.6 1.8 3.8-3.1-3.6-2zM1028.7 1075.1l2 0.9 4.3-3.8-1.9-1zM1095.9 1067.4l6.2 2.9 1.2-1.1-6.1-3zM1085.6 1070l5.8 2.5 2.2-2-5.8-2.7zM1038.8 1074.8l3.1 1.7 4.1-3.4-3.2-1.8z" fill="#402bb8"/>
<path d="M1062 1072.6l4.8 2 3.2-2.6-4.7-2.1z" fill="#3f29b0"/>
<path d="M1030.4 1075.8l2.4 1.2 4.3-3.7-2.3-1.3zM1094.4 1068.8l6.2 2.7 1.5-1.4-6.1-2.9z" fill="#402bb8"/>
<path d="M1055.1 1073.6l4.4 1.8 3.4-2.9-4.3-1.9zM1069.1 1072l5.1 2.2 2.9-2.4-5.1-2.2zM1076.2 1071.8l5.5 2.3 2.6-2.2-5.4-2.4zM1048.3 1074.7l3.9 1.8 3.8-3.1-4-1.8zM1032.5 1076.7l2.8 1.4 4.3-3.5-2.8-1.6zM1092.7 1070.4l6.1 2.6 1.9-1.7-6.1-2.8zM1083.4 1071.9l5.8 2.3 2.4-2-5.8-2.5zM1041.6 1076.1l3.5 1.7 4.1-3.2-3.6-1.8zM1066.2 1074.2l5.1 2.1 3.1-2.5-5-2.2zM1058.9 1075l4.7 1.9 3.5-2.8-4.7-2zM1073.5 1073.8l5.5 2.2 2.9-2.3-5.4-2.3zM1051.8 1076.1l4.3 1.7 3.7-2.9-4.3-1.9zM1035 1077.8l3.2 1.5 4.3-3.4-3.2-1.6zM1090.7 1072.1l6.1 2.5 2.2-1.9-6.2-2.6z" fill="#3f29b0"/>
<line x1="906.3" y1="1069.8" x2="906.3" y2="897.8" stroke="#262626" stroke-width="1.6"/>
<path d="M906.3 1069.8L1090.2 1126.5L1218.6 1045" fill="none" stroke="#262626" stroke-width="1.6" stroke-linejoin="round"/>
<line x1="906.3" y1="1069.8" x2="901" y2="1068.2" stroke="#262626" stroke-width="1.6"/>
<line x1="906.3" y1="983.8" x2="901" y2="982.2" stroke="#262626" stroke-width="1.6"/>
<line x1="906.3" y1="897.8" x2="901" y2="896.2" stroke="#262626" stroke-width="1.6"/>
<line x1="906.3" y1="1069.8" x2="901.7" y2="1072.7" stroke="#262626" stroke-width="1.6"/>
<line x1="998.2" y1="1098.2" x2="993.6" y2="1101.1" stroke="#262626" stroke-width="1.6"/>
<line x1="1090.2" y1="1126.5" x2="1085.6" y2="1129.4" stroke="#262626" stroke-width="1.6"/>
<line x1="1090.2" y1="1126.5" x2="1095.5" y2="1128.1" stroke="#262626" stroke-width="1.6"/>
<line x1="1154.4" y1="1085.8" x2="1159.7" y2="1087.4" stroke="#262626" stroke-width="1.6"/>
<line x1="1218.6" y1="1045" x2="1223.9" y2="1046.6" stroke="#262626" stroke-width="1.6"/>
<path d="M906.3 620.2L1034.1 540.4L1216.5 595.9" fill="none" stroke="#dedede" stroke-width="1.5" stroke-linejoin="round"/>
<path d="M906.3 534.7L1034.1 454.9L1216.5 510.4" fill="none" stroke="#dedede" stroke-width="1.5" stroke-linejoin="round"/>
<line x1="970.2" y1="665.8" x2="970.2" y2="494.8" stroke="#dedede" stroke-width="1.5"/>
<line x1="1034.1" y1="625.9" x2="1034.1" y2="454.9" stroke="#dedede" stroke-width="1.5"/>
<line x1="1125.3" y1="653.6" x2="1125.3" y2="482.6" stroke="#dedede" stroke-width="1.5"/>
<line x1="1216.5" y1="681.4" x2="1216.5" y2="510.4" stroke="#dedede" stroke-width="1.5"/>
<path d="M1030 627.3l5.9 1.6 3.9-2.9-5.9-1.7zM1035 628.4l5.9 2.2 3.9-2.8-5.8-2.3z" fill="#402bb8"/>
<path d="M1026.4 629.2l6.1 0.4 3.7-1.2-6-1.7zM1022.9 631.8l5.8 1.8 3.9-4.6-5.8-0.5z" fill="#4331c7"/>
<path d="M1040.1 630.1l5.8 2.4 4-3.1-5.9-2.2z" fill="#402bb8"/>
<path d="M1031.5 629.1l5.8 3.6 4-2.6-5.9-2.3zM1027.9 633.2l5.9 1.7 3.9-2.8-5.8-3.5z" fill="#4331c7"/>
<path d="M1045.2 632l5.8 1.8 4-2.7-5.9-2.2zM1019.3 633.9l5.9 1.6 3.9-2.5-5.9-1.9zM1036.5 632.1l5.9 2.3 3.9-2.4-5.8-2.5z" fill="#402bb8"/>
<path d="M1015.8 635.4l6.2-0.8 3.6 0.4-6.1-1.6z" fill="#4434ce"/>
<path d="M1033 634.4l5.9 2.1 3.9-2.7-5.9-2.3zM1050.2 633.3l5.9 2.2 3.9-3-5.9-1.9zM1024.4 635l5.8 2.6 4-3.3-5.9-1.8z" fill="#402bb8"/>
<path d="M1041.6 633.9l6.3-0.7 3.5 0.1-6-1.8z" fill="#4331c7"/>
<path d="M1012.2 638.5l5.8 1.9 3.9-6-5.8 0.4zM1020.9 634.4l5.8 5.2 3.9-2.5-5.9-2.7z" fill="#4434ce"/>
<path d="M1038.1 636l5.8 2.3 3.9-5.4-5.9 0.4z" fill="#4331c7"/>
<path d="M1055.3 635l5.9 2 3.9-2.8-5.9-2.2zM1029.4 637.1l5.9 1.9 3.9-3.1-5.8-2.1z" fill="#402bb8"/>
<path d="M1046.7 633l5.8 4.8 4-2.8-6-2.3z" fill="#4331c7"/>
<path d="M1017.3 640l5.8 1.5 4-2.4-5.8-5z" fill="#4434ce"/>
<path d="M1008.7 640.8l5.9 1 3.9-2-5.9-2zM1025.9 639.1l5.9 1.7 3.9-2.4-5.9-1.9z" fill="#402bb8"/>
<path d="M1043.1 637.9l5.9 1.6 3.9-2.2-5.8-4.7z" fill="#4331c7"/>
<path d="M1060.4 636.5l5.8 2 4-3.2-5.9-1.7z" fill="#402bb8"/>
<path d="M1034.5 638.5l6 1.2 3.8-2-5.9-2.3z" fill="#422ebf"/>
<path d="M1051.7 637.3l5.9 1.9 3.9-2.8-5.8-2z" fill="#402bb8"/>
<path d="M1005.1 642.7l6.1 0.3 3.7-1.8-6-1z" fill="#4331c7"/>
<path d="M1022.3 641l5.9 2.3 3.9-3.1-5.9-1.7zM1065.4 638l5.9 2.3 3.9-2.9-5.8-2.6z" fill="#402bb8"/>
<path d="M1013.7 641.2l5.9 2.5 3.9-2.8-5.9-1.6z" fill="#422ebf"/>
<path d="M1031 640.4l6.2-1.1 3.6-0.1-6.1-1.2z" fill="#4434ce"/>
<path d="M1048.2 639l5.9 2.5 3.9-2.9-5.9-1.9z" fill="#402bb8"/>
<path d="M1039.6 639.2l5.8 2.6 4-2.9-5.9-1.7z" fill="#422ebf"/>
<path d="M1056.8 638.8l6.3-1 3.5 0.2-6-2.1zM1010.2 642.5l5.8 3.5 4-2.8-5.9-2.5z" fill="#4331c7"/>
<path d="M1027.4 642.9l5.8 1.9 3.9-5.8-5.8 0.7z" fill="#4434ce"/>
<path d="M1001.6 645.1l5.8 1.5 3.9-4.2-5.9-0.4z" fill="#4331c7"/>
<path d="M1018.8 643.2l5.9 2.5 3.9-3-5.9-2.3z" fill="#402bb8"/>
<path d="M1036.1 639.1l5.7 5.5 4-3.3-5.9-2.6z" fill="#4434ce"/>
<path d="M1053.3 641.1l5.8 1.4 3.9-5-5.9 0.7zM1061.9 637.6l5.8 4.9 4-2.7-6-2.4z" fill="#4331c7"/>
<path d="M1070.5 639.8l5.9 1.5 3.9-2.3-5.9-2.1zM1044.6 641.3l5.9 2.4 3.9-2.8-5.8-2.5z" fill="#402bb8"/>
<path d="M998 646.8l6 1.4 3.8-2.2-5.9-1.6zM1015.2 645.5l6 1.7 3.8-2.1-5.8-2.5z" fill="#422ebf"/>
<path d="M1032.5 644.4l5.8 2.4 4-2.8-5.8-5.3z" fill="#4434ce"/>
<path d="M1058.3 642l5.9 2.6 3.9-2.6-5.8-4.8z" fill="#4331c7"/>
<path d="M1075.6 640.8l5.8 2.6 4-3.2-5.9-1.7z" fill="#402bb8"/>
<path d="M1006.6 646.1l5.9 2.1 3.9-2.8-5.8-3.4z" fill="#4331c7"/>
<path d="M1023.9 645.2l5.9 1.7 3.9-2.7-5.9-2zM1041.1 644l5.9 2 3.9-3-5.9-2.3zM1049.7 643.2l5.9 1.5 3.9-2.9-5.9-1.4zM1066.9 642l5.9 1.8 3.9-3.1-5.9-1.5z" fill="#402bb8"/>
<path d="M1003.1 647.7l5.8 3.1 4-3.2-5.9-2.1z" fill="#422ebf"/>
<path d="M1020.3 646.7l6.1 0.8 3.7-1.1-6-1.8z" fill="#4331c7"/>
<path d="M1037.5 646.2l6 1.5 3.8-2.3-5.9-2z" fill="#402bb8"/>
<path d="M994.5 649.3l6 0.3 3.8-1.9-6-1.5z" fill="#4331c7"/>
<path d="M1011.7 647.7l5.8 2.6 4-3.7-5.9-1.7z" fill="#422ebf"/>
<path d="M1028.9 646.4l5.9 2.3 3.9-2.5-5.8-2.5z" fill="#402bb8"/>
<path d="M1046.2 645.6l6.2-1.6 3.6 0.2-6-1.6z" fill="#4434ce"/>
<path d="M1054.8 644.2l5.8 2.4 4-2.6-5.9-2.7zM1063.4 644.1l5.9 1.7 3.9-2.6-5.9-1.8z" fill="#402bb8"/>
<path d="M1072 643.3l6 0.7 3.8-1.2-5.9-2.6z" fill="#422ebf"/>
<path d="M1080.6 642.9l5.9 1.8 3.9-2.9-5.8-2.1z" fill="#402bb8"/>
<path d="M990.9 651.3l5.9 1.5 3.9-3.8-6-0.4z" fill="#4331c7"/>
<path d="M1008.1 650.3l5.9 2 3.9-2.5-5.8-2.7z" fill="#402bb8"/>
<path d="M1025.4 646.9l5.8 3.8 4-2.5-5.9-2.3z" fill="#4331c7"/>
<path d="M1042.6 647.3l5.9 1.9 3.8-5.4-5.9 1.2zM1051.3 643.9l5.8 4.8 3.9-2.6-5.9-2.4z" fill="#4434ce"/>
<path d="M1068.5 645.3l5.8 2.1 3.9-4-5.9-0.7z" fill="#422ebf"/>
<path d="M1085.7 644.2l5.9 1.9 3.9-2.7-5.9-2.1z" fill="#402bb8"/>
<path d="M999.5 649.1l5.9 3.6 3.9-2.4-5.8-3.1zM1016.8 649.9l5.8 1.3 3.9-4.4-5.8-0.7z" fill="#4331c7"/>
<path d="M1034 648.2l5.9 1.9 3.9-3-5.9-1.5zM1059.8 646.1l5.9 2.3 3.9-3.2-5.9-1.7z" fill="#402bb8"/>
<path d="M1077.1 643.5l5.8 3.2 4-2.6-6-1.8z" fill="#422ebf"/>
<path d="M1047.7 648.8l5.8 2.6 4-3.3-5.8-4.6z" fill="#4434ce"/>
<path d="M996 652.3l5.8 2.7 4-2.8-5.8-3.6z" fill="#4331c7"/>
<path d="M1013.2 651.8l5.9 2.1 3.9-3.4-5.9-1.3z" fill="#402bb8"/>
<path d="M1030.4 650.2l6 1.5 3.8-2.2-5.9-1.9z" fill="#422ebf"/>
<path d="M1090.8 645.6l5.8 2.3 4-3-5.9-2z" fill="#402bb8"/>
<path d="M987.4 654l5.8 1.6 4-3.4-5.9-1.6z" fill="#422ebf"/>
<path d="M1004.6 652.2l5.9 2.5 3.9-3-5.9-2z" fill="#402bb8"/>
<path d="M1021.8 650.7l5.9 2.6 3.9-3.2-5.8-3.6z" fill="#4331c7"/>
<path d="M1039.1 649.6l5.8 2.3 4-3.3-5.9-2zM1056.3 648.1l5.9 2.6 3.9-2.9-5.9-2.3zM1064.9 647.9l5.9 1.9 3.9-3-5.9-2.1z" fill="#402bb8"/>
<path d="M1073.5 646.9l5.9 1.9 3.9-2.7-5.8-3.1z" fill="#422ebf"/>
<path d="M1082.1 646.2l6 1.6 3.8-2.3-5.9-1.9z" fill="#402bb8"/>
<path d="M983.8 656l6.2-0.2 3.6-0.8-6-1.6z" fill="#4331c7"/>
<path d="M1001 654.5l5.9 2.2 3.9-2.6-5.8-2.5zM1018.3 653.4l5.9 2 3.9-2.7-5.9-2.6z" fill="#402bb8"/>
<path d="M1035.5 651.2l6.1 1 3.7-0.8-5.9-2.4z" fill="#4331c7"/>
<path d="M1044.1 651.4l5.9 2.1 3.9-2.7-5.8-2.7zM1052.7 650.9l5.9 1.5 3.9-2.3-5.8-2.6z" fill="#402bb8"/>
<path d="M1061.4 650.3l6.2-1.5 3.6 0.5-6-2z" fill="#4331c7"/>
<path d="M1078.6 648.3l5.9 2.2 3.9-3.3-5.9-1.6z" fill="#422ebf"/>
<path d="M1095.8 647.4l5.9 2.2 3.9-3.4-5.9-1.8z" fill="#402bb8"/>
<path d="M992.4 655.1l5.9 2.3 3.9-3-5.8-2.7z" fill="#422ebf"/>
<path d="M1009.7 654.3l6.2-0.8 3.6-0.1-6-2.2z" fill="#4331c7"/>
<path d="M1026.9 652.9l5.9 1.6 3.9-3.4-5.9-1.5z" fill="#422ebf"/>
<path d="M1087.2 647.4l6.3-0.9 3.5 1-6-2.4z" fill="#4434ce"/>
<path d="M1070 649.3l5.9 1.7 3.9-2.8-5.9-1.9z" fill="#402bb8"/>
<path d="M980.3 657.9l5.8 2.3 3.9-4.9-5.9 0.1zM1040.6 651.7l5.8 3.6 4-2.3-6-2.2zM1057.8 652l5.9 2 3.9-5.3-6 0.9zM988.9 655.4l5.8 4.1 4-2.6-5.9-2.4zM1006.1 656.3l5.9 1.8 3.9-5-6 0.5z" fill="#4331c7"/>
<path d="M1023.3 654.9l6 1.6 3.8-2.6-5.9-1.7z" fill="#402bb8"/>
<path d="M1083.7 650l5.8 2.2 3.9-5.9-5.9 0.5z" fill="#4434ce"/>
<path d="M1100.9 649.1l5.9 1.6 3.9-2.6-5.9-2.4zM997.5 656.9l5.9 2.1 3.9-2.9-5.9-2.2z" fill="#402bb8"/>
<path d="M1014.7 653.2l5.9 3.5 3.9-1.8-6-2zM1032 654.1l5.8 2.2 3.9-4.7-5.8-0.9z" fill="#4331c7"/>
<path d="M1049.2 653.1l5.9 1.5 3.9-2.8-5.9-1.6z" fill="#402bb8"/>
<path d="M1066.5 648.7l5.7 5.1 4-3.3-6-1.8z" fill="#4331c7"/>
<path d="M1075 650.5l5.9 2.3 3.9-2.9-5.8-2.2z" fill="#402bb8"/>
<path d="M1092.3 646.4l5.8 5.1 4-2.4-6-2.2z" fill="#4434ce"/>
<path d="M985.3 659.8l5.9 1.8 3.9-2.7-5.8-4z" fill="#4331c7"/>
<path d="M976.7 660.5l5.9 2.3 3.9-3.2-5.8-2.4zM993.9 658.9l5.9 2.5 3.9-3-5.8-2.1z" fill="#402bb8"/>
<path d="M1011.2 657.7l5.8 2.2 4-3.8-5.8-3.4z" fill="#4331c7"/>
<path d="M1028.4 656l5.9 2.5 3.9-2.8-5.9-2.3z" fill="#402bb8"/>
<path d="M1037 655.9l5.9 1.6 3.9-2.8-5.8-3.5z" fill="#4331c7"/>
<path d="M1045.6 654.7l5.9 2.7 3.9-3.4-5.9-1.6zM1054.3 654.1l5.8 2 4-2.7-5.9-2.1z" fill="#402bb8"/>
<path d="M1062.9 653.6l5.8 2.3 4-2.6-5.8-5z" fill="#4331c7"/>
<path d="M1071.5 653.3l5.9 1.7 3.9-2.8-5.9-2.3z" fill="#402bb8"/>
<path d="M1088.7 651.8l5.8 2.1 4-3-5.7-4.9z" fill="#4434ce"/>
<path d="M1106 650.2l5.8 2.4 4-3.6-5.9-1.4zM1002.6 658.5l5.8 1.9 4-2.9-5.9-1.9z" fill="#402bb8"/>
<path d="M1019.8 656.1l5.9 2.7 3.9-2.9-5.9-1.6z" fill="#422ebf"/>
<path d="M1080.1 652.3l5.9 1.8 3.9-2.5-5.9-2.3zM1097.3 650.9l5.9 2 3.9-2.8-5.9-1.6z" fill="#402bb8"/>
<path d="M973.2 662.3l6.1 0.3 3.7-0.4-6-2.2z" fill="#4331c7"/>
<path d="M990.4 661l5.9 2 3.9-2.1-5.9-2.6zM1033.5 658l5.8 2.2 4-3.3-5.9-1.7z" fill="#402bb8"/>
<path d="M1050.7 657l6.3-1.7 3.5 0.3-5.9-2.1z" fill="#4434ce"/>
<path d="M1067.9 655.4l5.9 2.1 3.9-3.1-5.9-1.7zM1111 652.1l5.9 1.9 3.9-3.2-5.8-2.3zM981.8 662.3l5.9 1.7 3.9-3.1-5.9-1.8z" fill="#402bb8"/>
<path d="M999 661l6.2-0.7 3.6-0.4-5.9-2z" fill="#4331c7"/>
<path d="M1016.2 659.4l5.9 2.2 3.9-3.4-5.8-2.6z" fill="#422ebf"/>
<path d="M1076.6 654.6l6.2-1 3.6 0-6-1.8z" fill="#4434ce"/>
<path d="M1093.8 653.4l5.9 1.6 3.9-2.7-5.9-2zM1007.6 659.9l5.9 2.3 3.9-2.9-5.8-2.3z" fill="#402bb8"/>
<path d="M1024.9 658.3l6.1 0 3.7-0.3-6-2.6z" fill="#4331c7"/>
<path d="M1042.1 657l5.9 2.4 3.9-2.6-5.9-2.6zM1059.3 655.6l5.9 2.1 3.9-2.4-5.9-2.4zM1085.2 653.6l5.9 2.1 3.9-2.4-5.9-2.2z" fill="#402bb8"/>
<path d="M1102.4 652.5l6.2-1.5 3.6 1.1-6-2.5z" fill="#4434ce"/>
<path d="M978.2 662.2l5.9 4.2 3.9-2.9-5.9-1.8zM995.5 662.5l5.8 2.6 3.9-5.3-5.9 0.6z" fill="#4331c7"/>
<path d="M1073 657.1l5.9 1.3 3.9-5.2-6 0.7z" fill="#4434ce"/>
<path d="M986.8 663.5l5.9 2.2 3.9-3.3-5.8-2z" fill="#402bb8"/>
<path d="M1004.1 659.9l5.8 4 4-2.2-6-2.3zM1021.3 661.2l5.8 1.9 4-5.4-5.9 0z" fill="#4331c7"/>
<path d="M1038.5 659.7l5.9 1.9 3.9-2.8-5.8-2.4z" fill="#402bb8"/>
<path d="M1055.8 655.2l5.8 4.1 4-2.1-6-2.1z" fill="#4434ce"/>
<path d="M1064.4 657.2l5.9 2.5 3.9-2.8-5.9-2.1z" fill="#402bb8"/>
<path d="M1081.6 653.3l5.8 5 4-3.1-5.9-2.2zM1098.9 654.6l5.8 1.3 3.9-5-6 1z" fill="#4434ce"/>
<path d="M1116.1 653.5l5.9 1.7 3.9-2.8-5.9-2.1z" fill="#402bb8"/>
<path d="M969.6 665.1l5.8 2 4-5-5.9-0.4zM1029.9 657.8l5.9 4.3 3.9-2.4-5.9-2.3z" fill="#4331c7"/>
<path d="M1047.2 659l5.8 1.8 3.9-5.7-6 1.2zM1107.5 651l5.8 5 4-2.5-6-2z" fill="#4434ce"/>
<path d="M1012.7 661.7l5.9 1.6 3.9-2.3-5.9-2.2zM1090.2 655.2l5.9 2.4 3.9-3.3-5.9-1.5zM983.3 665.9l5.9 1.8 3.9-2.6-5.9-2.2z" fill="#402bb8"/>
<path d="M1000.5 664.7l5.9 1.6 3.9-3-5.8-3.8z" fill="#4331c7"/>
<path d="M1060.8 658.7l5.9 2.9 3.9-2.4-5.8-2.6z" fill="#422ebf"/>
<path d="M1078.1 658l5.8 2.3 4-2.5-5.8-4.9z" fill="#4434ce"/>
<path d="M1121.2 654.7l5.8 2.5 4-2.8-5.9-2.5z" fill="#402bb8"/>
<path d="M1026.4 662.7l5.8 1.5 4-2.7-5.8-4.1z" fill="#4331c7"/>
<path d="M1043.6 661.1l5.9 2 3.9-2.9-5.9-1.9z" fill="#402bb8"/>
<path d="M1103.9 655.4l5.8 3 4-2.9-5.8-4.9z" fill="#4434ce"/>
<path d="M966.1 667.2l5.9 1.9 3.9-2.6-5.9-2.1zM991.9 665.2l5.9 1.4 3.9-2.1-5.9-2.6zM1009.1 663.3l5.9 2.4 3.9-3-5.9-1.6zM1069.5 659.2l5.9 1.7 3.9-3.1-6-1.4zM1086.7 657.8l5.9 1.6 3.9-2.4-5.9-2.4z" fill="#402bb8"/>
<path d="M974.7 666.7l5.8 1.7 4-2.6-5.8-4.1z" fill="#4331c7"/>
<path d="M1035 661.6l5.9 1.6 3.9-2.2-5.9-1.9z" fill="#402bb8"/>
<path d="M1052.2 660.4l5.8 1.9 4-3.6-5.8-3.9z" fill="#4434ce"/>
<path d="M1112.5 655.5l5.9 2.4 3.9-3.3-5.9-1.7zM1017.8 662.7l5.9 2.3 3.9-2.5-5.9-2z" fill="#402bb8"/>
<path d="M1095.3 657.1l5.9 1.8 3.9-3.6-5.9-1.4z" fill="#422ebf"/>
<path d="M988.4 667.2l6.2-0.9 3.6-0.2-6.1-1.4z" fill="#4434ce"/>
<path d="M1005.6 665.8l5.9 1.9 3.9-2.6-5.9-2.4z" fill="#402bb8"/>
<path d="M1065.9 661.1l6.3-1.2 3.5 0.5-6-1.7z" fill="#4434ce"/>
<path d="M1083.1 659.7l5.9 2.3 3.9-3.2-5.9-1.6z" fill="#402bb8"/>
<path d="M1031.4 663.6l5.9 2 3.9-3-5.9-1.6z" fill="#422ebf"/>
<path d="M1048.7 662.6l5.8 2.1 4-3.1-5.9-1.9zM1109 657.9l5.9 1.6 3.9-2.2-5.9-2.4z" fill="#402bb8"/>
<path d="M962.5 668.8l6.1 0.6 3.7-0.8-6-1.9z" fill="#4331c7"/>
<path d="M971.1 668.6l5.9 2.4 3.9-3.2-5.9-1.8zM979.7 667.9l5.9 2.1 3.9-3-5.9-1.7zM997 666.1l5.8 2.7 4-3.1-5.9-1.7z" fill="#402bb8"/>
<path d="M1014.2 665.3l6.1 0.2 3.7-1-5.9-2.3z" fill="#4331c7"/>
<path d="M1057.3 661.8l5.9 1.8 3.9-2.6-5.8-2.8z" fill="#422ebf"/>
<path d="M1074.5 660.4l5.9 2.3 3.9-3-5.8-2.4z" fill="#402bb8"/>
<path d="M1091.8 659l6.1 0.1 3.7-0.7-6-1.9zM1117.6 657.4l6.2-0.4 3.6-0.3-5.9-2.6z" fill="#4331c7"/>
<path d="M1126.2 656.8l5.9 1.4 3.9-2.8-5.9-1.5zM1022.8 664.5l5.9 2.1 3.9-3.1-5.9-1.5z" fill="#402bb8"/>
<path d="M1040.1 662.7l6 1.4 3.8-1.5-6-2.1zM1100.4 658.4l5.9 1.8 3.9-2.4-5.9-3z" fill="#422ebf"/>
<path d="M993.4 666.1l5.9 3.9 3.9-1.7-5.9-2.7z" fill="#4434ce"/>
<path d="M1010.7 667.2l5.8 2.4 3.9-4.7-5.9-0.3z" fill="#4331c7"/>
<path d="M1053.7 664.2l5.9 1.6 3.9-2.9-5.8-1.8z" fill="#402bb8"/>
<path d="M1071 659.8l5.8 4.9 4-2.5-6-2.4z" fill="#4434ce"/>
<path d="M1088.2 661.6l5.8 1.9 4-5-5.9-0.2zM1114.1 659l5.8 2.7 3.9-5.2-5.9 0.3z" fill="#4331c7"/>
<path d="M1131.3 657.6l5.8 2.6 4-3.3-5.9-2z" fill="#402bb8"/>
<path d="M959 671.5l5.8 2.1 3.9-4.8-5.8-0.6zM1019.3 665l5.8 3.5 4-2.4-6-2.1z" fill="#4331c7"/>
<path d="M1036.5 665.1l5.9 2 3.9-3.7-5.9-1.3z" fill="#422ebf"/>
<path d="M1096.8 658.6l5.9 4.3 3.9-3.3-5.9-1.8zM967.6 668.9l5.8 3.9 4-2.3-6-2.4z" fill="#4331c7"/>
<path d="M976.2 670.5l5.9 1.7 3.9-2.8-5.9-2.1z" fill="#402bb8"/>
<path d="M984.8 669.6l5.8 2.3 3.9-5.9-5.8 0.6z" fill="#4331c7"/>
<path d="M1002 668.3l5.9 2 3.9-3.3-5.8-1.8z" fill="#402bb8"/>
<path d="M1062.4 663.1l5.8 2.1 3.9-5.5-5.9 0.8z" fill="#4434ce"/>
<path d="M1079.6 662.2l5.9 2 3.9-2.8-5.9-2.3zM1027.9 666.1l5.9 1.8 3.9-2.9-5.9-2z" fill="#402bb8"/>
<path d="M1045.1 663.5l5.9 3.5 3.9-2.8-5.9-2.2z" fill="#422ebf"/>
<path d="M1105.4 659.7l5.9 2.4 3.9-3.2-5.9-1.6z" fill="#402bb8"/>
<path d="M1122.7 656.6l5.8 4.5 4-3.5-6-1.4zM1015.7 669.2l5.9 1.7 3.9-3-5.8-3.4zM1093.3 663l5.8 2 4-2.6-5.8-4.2z" fill="#4331c7"/>
<path d="M998.5 669.4l5.9 2.7 3.9-2.3-5.9-2.1z" fill="#422ebf"/>
<path d="M1058.8 665.3l5.9 2 3.9-2.7-5.9-2.1z" fill="#402bb8"/>
<path d="M1076 664.2l6 1.3 3.8-1.8-5.9-2.1z" fill="#422ebf"/>
<path d="M955.4 674l5.9 1.7 3.9-2.7-5.9-2.2z" fill="#402bb8"/>
<path d="M964 673.2l5.9 1.6 3.9-2.6-5.8-3.7z" fill="#4331c7"/>
<path d="M981.3 671.7l5.9 1.8 3.9-2.2-5.9-2.4zM1024.3 668l5.9 2.6 3.9-3.4-5.9-1.7z" fill="#402bb8"/>
<path d="M1041.6 666.5l5.8 2.2 4-2.3-5.9-3.4zM1101.9 662.5l5.9 1.1 3.9-2.1-5.9-2.4z" fill="#422ebf"/>
<path d="M972.6 672.2l5.9 2.4 3.9-3-5.9-1.7z" fill="#402bb8"/>
<path d="M989.9 671.5l5.8 1.2 4-3.3-5.8-3.7z" fill="#4434ce"/>
<path d="M1007.1 669.8l5.9 2.2 3.9-3-5.8-2.5zM1050.2 666.5l5.9 1.6 3.9-2.9-5.9-1.6z" fill="#402bb8"/>
<path d="M1067.4 664.8l5.9 2.2 3.9-2.8-5.8-4.8z" fill="#4434ce"/>
<path d="M1084.7 663.7l5.9 1.9 3.9-2.8-5.9-1.9zM1110.5 661.6l5.9 1.7 3.9-2.2-5.8-2.7z" fill="#402bb8"/>
<path d="M1119.1 661.3l5.9 1.9 3.9-2.7-5.8-4.3z" fill="#4331c7"/>
<path d="M1127.7 660.6l5.9 1.7 3.9-2.7-5.8-2.6zM1136.4 659.7l5.8 1.7 4-3-5.9-2z" fill="#402bb8"/>
<path d="M1033 667.4l5.8 1.9 4-2.9-5.9-1.9z" fill="#422ebf"/>
<path d="M1020.8 670.3l5.8 2.6 4-2.9-5.9-2.6zM1098.3 664.5l5.9 2.1 3.9-3.6-5.9-1.2zM969.1 674.2l5.9 2.5 3.9-2.7-5.9-2.4z" fill="#402bb8"/>
<path d="M1003.6 671.7l6.2-1.1 3.6 0.9-6-2.2z" fill="#4434ce"/>
<path d="M1046.6 668.2l5.9 2.1 3.9-2.8-5.9-1.6zM1063.9 666.8l5.8 2.5 4-2.9-5.9-2.3z" fill="#402bb8"/>
<path d="M1081.1 665.1l6.3-0.4 3.5 0.4-6-1.9zM1107 663.2l6.2-0.1 3.6-0.3-6.1-1.7z" fill="#4434ce"/>
<path d="M1124.2 662.7l5.9 1.6 3.9-2.6-5.9-1.8zM1141.4 660.9l5.9 2 3.9-2.9-5.9-2.1z" fill="#402bb8"/>
<path d="M951.9 675l6 1.4 3.8-1.3-6-1.7z" fill="#4331c7"/>
<path d="M960.5 675.1l5.8 2.3 4-3.3-5.9-1.6z" fill="#402bb8"/>
<path d="M977.7 674.1l6.1 0.1 3.7-1.3-5.9-1.8z" fill="#4331c7"/>
<path d="M986.3 673l5.9 1.9 3.9-2.8-5.9-1.4zM1012.2 671.5l5.9 1.6 3.9-2.9-5.9-1.7z" fill="#402bb8"/>
<path d="M1029.4 670.2l6.3-1.3 3.5-0.1-5.9-2z" fill="#4434ce"/>
<path d="M1089.7 665.1l5.9 1.7 3.9-2.4-5.9-2.1z" fill="#402bb8"/>
<path d="M994.9 672.2l5.9 2.3 3.9-2.9-5.8-2.8z" fill="#422ebf"/>
<path d="M1055.3 667.7l6.2-0.8 3.6-0.1-6-2.1z" fill="#4434ce"/>
<path d="M1072.5 666.5l5.8 2.3 4-3.9-5.9-1.3z" fill="#422ebf"/>
<path d="M1038 668.8l5.9 2.5 3.9-3.2-5.8-2.2zM1115.6 662.8l5.9 2.4 3.9-2.6-5.9-2z" fill="#402bb8"/>
<path d="M1132.8 661.9l6.2-0.5 3.6-0.6-6-1.7z" fill="#4331c7"/>
<path d="M1103.4 666.2l5.8 1.8 4-5.4-5.9-0.1z" fill="#4434ce"/>
<path d="M1146.5 662.3l5.9 2.3 3.9-2.4-5.9-2.7z" fill="#402bb8"/>
<path d="M1008.7 670.5l5.8 4.9 3.9-2.8-6-1.7z" fill="#4434ce"/>
<path d="M1025.9 672.5l5.8 1.5 3.9-5.5-5.9 1z" fill="#4331c7"/>
<path d="M1086.2 664.5l5.8 5 4-3.2-6-1.8z" fill="#4434ce"/>
<path d="M965.5 676.9l5.9 2.2 3.9-3-5.8-2.5z" fill="#402bb8"/>
<path d="M974.2 676.3l5.8 2.1 3.9-4.9-5.9 0z" fill="#422ebf"/>
<path d="M1051.7 669.9l5.8 2 4-5.4-6 0.5z" fill="#4434ce"/>
<path d="M1068.9 668.7l5.9 2.3 3.9-2.8-5.8-2.3z" fill="#402bb8"/>
<path d="M948.3 677.9l5.8 2.6 4-4.7-5.8-1.4z" fill="#4331c7"/>
<path d="M956.9 675.9l5.9 3.4 3.9-2.4-5.9-2.3z" fill="#422ebf"/>
<path d="M982.8 673.7l5.8 4.1 4-3.5-5.9-1.9z" fill="#4331c7"/>
<path d="M991.4 674.4l5.8 2.7 4-3.2-5.9-2.3zM1017.2 672.6l5.9 2.5 3.9-2.8-5.8-2.6z" fill="#402bb8"/>
<path d="M1034.5 668.6l5.8 4.8 4-2.6-6-2.6z" fill="#4434ce"/>
<path d="M1094.8 666.3l5.9 2.6 3.9-2.9-5.9-2.1z" fill="#402bb8"/>
<path d="M1000 674l5.8 2 4-5.6-5.9 0.7z" fill="#4434ce"/>
<path d="M1043.1 670.8l5.9 1.8 3.9-2.9-5.9-2.1z" fill="#402bb8"/>
<path d="M1060.3 666.5l5.9 4.8 3.9-2.5-5.9-2.6zM1077.6 668.4l5.8 1.5 3.9-5.5-5.8 0.1z" fill="#4434ce"/>
<path d="M1112 662.7l5.9 4.7 3.9-2.7-5.9-2.4z" fill="#4331c7"/>
<path d="M1120.6 664.7l5.9 2.3 3.9-3.3-5.9-1.6z" fill="#402bb8"/>
<path d="M1129.3 663.9l5.9 1.1 3.8-4-6 0.3zM1137.9 661l5.8 4.1 4-2.8-6-2z" fill="#4331c7"/>
<path d="M1013.7 674.9l5.9 1.9 3.9-2.3-5.9-2.5z" fill="#402bb8"/>
<path d="M1030.9 673.5l5.9 2 3.9-2.6-5.8-4.7z" fill="#4434ce"/>
<path d="M1091.2 669l5.9 1.6 3.9-2.3-5.8-2.6zM962 678.8l5.9 2.2 3.9-2.5-5.9-2.2zM970.6 678.6l5.9 1.9 3.9-2.7-5.9-2.2z" fill="#402bb8"/>
<path d="M979.2 678l5.9 1.6 3.9-2.3-5.8-4.1z" fill="#422ebf"/>
<path d="M996.5 676.6l5.8 1.8 4-3-5.9-2.1z" fill="#402bb8"/>
<path d="M1039.5 672.9l6 1.3 3.8-2.2-5.9-1.8z" fill="#422ebf"/>
<path d="M1056.8 671.4l5.8 2.5 4-3.1-5.8-4.7z" fill="#4434ce"/>
<path d="M1074 670.5l5.9 1.7 3.9-3-5.9-1.5zM1099.9 668.4l5.9 1.6 3.9-2.7-5.9-1.8z" fill="#402bb8"/>
<path d="M1108.5 667.5l5.8 2.3 4-3-5.8-4.5z" fill="#4331c7"/>
<path d="M1117.1 666.9l5.9 1.8 3.9-2.3-5.9-2.3z" fill="#402bb8"/>
<path d="M1134.3 664.5l5.9 2.9 3.9-2.9-5.8-3.9z" fill="#4331c7"/>
<path d="M1142.9 664.5l5.9 2.3 3.9-2.8-5.8-2.2z" fill="#402bb8"/>
<path d="M1151.6 664.1l6 1.1 3.8-1.9-6-1.7z" fill="#422ebf"/>
<path d="M944.8 680.5l5.9 1.7 3.9-2.3-5.9-2.7z" fill="#402bb8"/>
<path d="M953.4 680.1l5.8 1.6 4-3-5.8-3.3z" fill="#422ebf"/>
<path d="M987.8 677.3l5.9 1.6 3.9-2.4-5.8-2.7z" fill="#402bb8"/>
<path d="M1005.1 675.6l5.8 2.1 4-2.8-5.8-4.8z" fill="#4434ce"/>
<path d="M1022.3 674.6l5.9 1.5 3.9-2.8-5.9-1.5z" fill="#402bb8"/>
<path d="M1082.6 669.4l5.9 2.3 3.9-2.7-5.7-4.9z" fill="#4434ce"/>
<path d="M1048.2 672.1l5.9 1.9 3.9-2.7-5.9-2.1zM1065.4 670.8l5.9 2.3 3.9-2.7-5.9-2.2z" fill="#402bb8"/>
<path d="M1125.7 666.5l5.9 1.8 3.9-4-5.9-1.1zM1036 675l5.8 2.4 4-3.8-5.9-1.3zM1096.3 670.2l6 0.9 3.8-1.6-5.9-1.7z" fill="#422ebf"/>
<path d="M1113.5 669.3l5.9 1.8 3.9-3-5.8-1.8zM1139.4 666.9l5.9 2.1 3.9-2.8-5.9-2.2z" fill="#402bb8"/>
<path d="M1156.6 664.6l5.9 3.3 3.9-2.8-5.9-2.3z" fill="#422ebf"/>
<path d="M1018.8 676.3l6.1 0.3 3.7-1.1-6-1.5z" fill="#4331c7"/>
<path d="M1079.1 671.7l5.9 2.1 3.9-2.8-5.9-2.2z" fill="#402bb8"/>
<path d="M941.2 682.4l6.2-0.2 3.6-0.6-6-1.7z" fill="#4331c7"/>
<path d="M958.4 681.2l5.9 2.4 3.9-3.2-5.8-2.2z" fill="#402bb8"/>
<path d="M967.1 680.6l6.2-0.8 3.6 0.2-6-2z" fill="#4331c7"/>
<path d="M975.7 680l5.9 1.7 3.9-2.7-5.9-1.7zM984.3 679l5.9 2.5 3.9-3.3-5.9-1.5z" fill="#402bb8"/>
<path d="M992.9 678.4l6.3-0.6 3.5 0.1-6-1.9z" fill="#4331c7"/>
<path d="M1001.5 677.9l5.9 2 3.9-2.8-5.8-2.2z" fill="#402bb8"/>
<path d="M1044.6 673.7l6 1.5 3.8-1.8-5.9-1.9z" fill="#4331c7"/>
<path d="M1061.8 673.4l5.9 1.7 3.9-2.5-5.8-2.4zM949.8 681.6l5.9 2.5 3.9-3-5.9-1.7zM1010.1 677.2l5.9 2.3 3.9-3.3-5.8-1.9zM1027.4 675.6l5.8 2.5 4-3.2-5.9-2zM1087.7 671.1l5.9 2 3.9-3.1-5.9-1.6zM1053.2 673.4l5.9 2.7 3.9-2.8-5.8-2.6z" fill="#402bb8"/>
<path d="M1070.5 672.7l6.2-0.6 3.6-0.4-6-1.7z" fill="#4331c7"/>
<path d="M1104.9 669.5l5.9 2.4 3.9-2.7-5.8-2.4z" fill="#402bb8"/>
<path d="M1122.2 668.3l6.2-1.6 3.6 1.1-6.1-1.9z" fill="#4434ce"/>
<path d="M1130.8 667.8l5.8 2.2 4-3.2-5.8-2.9z" fill="#422ebf"/>
<path d="M1148 666.3l6.2-0.3 3.6-1.4-6-1z" fill="#4331c7"/>
<path d="M1041.1 677l5.8 1.8 3.9-4.2-5.8-1.5z" fill="#422ebf"/>
<path d="M1023.8 676.1l5.9 3.9 3.9-2.4-5.9-2.6z" fill="#4331c7"/>
<path d="M1084.1 673.3l5.9 1.9 3.9-2.7-5.8-2z" fill="#402bb8"/>
<path d="M937.7 684.8l5.8 2 3.9-5.1-5.9 0zM946.3 681.8l5.8 4.5 4-2.7-5.9-2.5zM963.5 683.2l5.8 1.7 4-5.4-5.9 0.4zM972.1 679.6l5.9 4.7 3.9-3.2-6-1.7z" fill="#4331c7"/>
<path d="M980.7 681.2l5.9 2.1 3.9-2.4-5.8-2.4z" fill="#402bb8"/>
<path d="M989.4 681.1l5.8 1.4 3.9-5.1-5.9 0.4zM998 677.5l5.8 4.4 4-2.6-6-1.9z" fill="#4331c7"/>
<path d="M1006.6 679.3l5.9 2.3 3.9-2.7-5.9-2.3zM1032.4 677.6l5.9 2.1 3.9-2.9-5.8-2.4z" fill="#402bb8"/>
<path d="M1049.7 674.7l5.9 3 3.9-2.1-5.9-2.7z" fill="#422ebf"/>
<path d="M1066.9 674.7l5.9 1.8 3.9-4.8-6 0.4z" fill="#4331c7"/>
<path d="M1092.8 672.7l5.8 1.8 3.9-4-5.8-0.9zM1101.4 670.6l5.8 3.7 4-3-5.9-2.4z" fill="#422ebf"/>
<path d="M1110 671.4l5.9 1.9 3.9-2.8-5.9-1.8z" fill="#402bb8"/>
<path d="M1118.6 670.7l5.8 2.1 3.9-6.2-5.9 1.1zM1127.3 666.7l5.7 5.5 4-2.7-6-2.3z" fill="#4434ce"/>
<path d="M1135.8 669.5l5.9 1.7 3.9-2.9-5.8-2z" fill="#402bb8"/>
<path d="M1144.5 668.5l5.8 2.1 3.9-5.2-5.9 0.3zM1153.1 665.5l5.8 4.2 4-2.3-5.9-3.3z" fill="#4331c7"/>
<path d="M1161.7 667.4l5.9 2 3.9-2.7-5.9-2.2zM954.9 683.6l5.9 1.8 3.9-2.4-5.9-2.4z" fill="#402bb8"/>
<path d="M1015.2 679.1l5.8 1.9 4-5-5.9-0.3zM1075.5 671.7l5.9 4.6 3.9-3.1-5.9-2.1z" fill="#4331c7"/>
<path d="M1058.3 675.6l5.9 1.8 3.9-2.9-5.9-1.7zM1028.9 679.5l5.9 2.3 3.9-2.7-5.9-2.1z" fill="#402bb8"/>
<path d="M1046.1 678.4l5.9 1.9 3.9-3.2-5.8-3z" fill="#422ebf"/>
<path d="M1089.2 674.7l5.9 2.2 3.9-3.1-5.9-1.8zM1106.4 673.8l5.9 2.1 3.9-3.2-5.8-1.9z" fill="#402bb8"/>
<path d="M1123.7 672.3l5.8 2.1 4-2.7-5.8-5.4z" fill="#4434ce"/>
<path d="M1132.3 671.6l5.9 1.9 3.9-2.9-5.9-1.7z" fill="#402bb8"/>
<path d="M1149.5 670.2l5.9 1.8 3.9-2.9-5.8-4z" fill="#4331c7"/>
<path d="M1166.8 668.9l5.9 1.6 3.9-3.2-6-1.1z" fill="#422ebf"/>
<path d="M994.4 682.1l5.9 2.2 3.9-3-5.8-4.2zM1072 676l5.8 2.2 4-2.4-5.8-4.5zM942.7 686.4l5.9 1.8 3.9-2.5-5.8-4.3z" fill="#4331c7"/>
<path d="M951.3 685.7l5.9 2.2 3.9-3.1-5.8-1.8zM985.8 682.8l5.9 2.2 3.9-3.1-5.9-1.5zM934.1 687.2l5.9 1.9 3.9-2.9-5.9-2.1zM960 684.9l5.9 1.8 3.9-2.4-6-1.8z" fill="#402bb8"/>
<path d="M968.6 684.4l5.8 2.3 4-2.9-5.8-4.6z" fill="#4331c7"/>
<path d="M977.2 683.8l5.9 2.1 3.9-3.2-5.9-2.1zM1003 681.3l6 2 3.8-2.3-5.9-2.3zM1011.7 681.1l5.9 1.7 3.9-2.4-5.9-2zM1037.5 679.2l5.9 1.9 3.9-2.9-5.9-1.9zM1054.7 677.2l6 1.8 3.8-2.2-5.9-1.8z" fill="#402bb8"/>
<path d="M1020.3 680.6l5.8 1.4 4-2.6-5.8-3.8z" fill="#4331c7"/>
<path d="M1080.6 675.8l5.9 1.9 3.9-3.1-5.9-1.9zM1063.4 676.9l5.8 1.9 4-2.9-5.9-1.9z" fill="#402bb8"/>
<path d="M1097.8 674l5.9 2.3 3.9-2.6-5.8-3.6z" fill="#422ebf"/>
<path d="M1115.1 672.8l5.8 2.3 4-3-5.9-2.1zM1140.9 670.7l5.9 1.8 3.9-2.5-5.9-2.2zM1158.1 669.1l5.9 2.3 3.9-2.6-5.9-2zM1128.7 673.9l5.9 1.7 3.9-2.7-5.9-1.9z" fill="#402bb8"/>
<path d="M1034 681.3l6 0.6 3.8-1.4-6-1.9zM1051.2 679.8l5.9 2 3.9-3.4-5.9-1.8z" fill="#422ebf"/>
<path d="M956.4 687.5l6.1-0.1 3.7-1.3-5.9-1.8z" fill="#4331c7"/>
<path d="M990.9 684.5l5.9 1.7 3.9-2.5-5.9-2.3zM999.5 683.7l5.8 2.5 4-3.6-5.9-1.9zM1077 677.7l6 1.9 3.8-2.5-5.9-1.9zM939.2 688.7l5.9 1.8 3.9-2.9-5.9-1.9zM947.8 687.7l5.9 2.1 3.9-2.5-5.9-2.2z" fill="#402bb8"/>
<path d="M982.3 685.4l6.1-0.1 3.7-0.8-6-2.3z" fill="#4331c7"/>
<path d="M930.6 688.6l6.2-1 3.6 1.1-6.1-2z" fill="#4434ce"/>
<path d="M965 686.1l5.9 2.2 3.9-2.2-5.9-2.4zM973.6 686.1l5.9 2 3.9-2.9-5.8-2z" fill="#402bb8"/>
<path d="M1008.1 682.8l6.2-0.2 3.6-0.3-6-1.8z" fill="#4331c7"/>
<path d="M1016.7 682.3l5.9 1.9 3.9-2.8-5.9-1.5zM1025.3 681.5l5.9 2.3 3.9-2.6-5.8-2.3zM1042.6 680.6l5.8 2.1 4-3.1-5.9-1.9z" fill="#402bb8"/>
<path d="M1059.8 678.6l6.1 0.9 3.7-1.2-5.9-2z" fill="#4331c7"/>
<path d="M1085.7 677.2l6.1 0.2 3.7-1-6-2.2z" fill="#422ebf"/>
<path d="M1094.3 676.4l5.9 1.8 3.9-2.5-5.9-2.4zM1102.9 675.8l5.9 1.9 3.9-2.4-5.9-2.1z" fill="#402bb8"/>
<path d="M1111.5 675.4l6.2-0.8 3.6 0-5.9-2.3z" fill="#4331c7"/>
<path d="M1120.1 674.6l5.9 1.6 3.9-2.4-5.9-2.2z" fill="#402bb8"/>
<path d="M1137.4 673.1l6.1-0.4 3.7-0.7-6-1.9z" fill="#4331c7"/>
<path d="M1146 672l5.8 2.5 4-3.1-5.9-1.9zM1154.6 671.5l5.9 2.1 3.9-2.8-5.9-2.3z" fill="#402bb8"/>
<path d="M1163.2 670.9l6.2-0.6 3.6-0.3-6-1.7z" fill="#4331c7"/>
<path d="M1171.8 670l5.9 2.2 3.9-2.5-5.8-2.8z" fill="#422ebf"/>
<path d="M1068.4 678.3l5.9 2.4 3.9-3.1-5.8-2.2z" fill="#402bb8"/>
<path d="M1039 681.4l5.9 3.4 3.9-2.6-5.9-2.2z" fill="#422ebf"/>
<path d="M1056.3 681.3l5.8 2 3.9-4.5-5.8-0.8z" fill="#4331c7"/>
<path d="M1082.1 679.1l5.8 2.5 4-4.8-5.9-0.2z" fill="#422ebf"/>
<path d="M1099.3 677.7l5.9 2 3.9-2.6-5.9-1.9z" fill="#402bb8"/>
<path d="M1116.6 674.3l5.8 4 4-2.6-6-1.6z" fill="#4331c7"/>
<path d="M1125.2 675.7l5.9 2.1 3.9-2.8-5.9-1.7z" fill="#402bb8"/>
<path d="M1133.8 675.1l5.8 2.2 4-5.1-6 0.2zM1142.4 672.2l5.9 4.6 3.9-2.8-5.9-2.6zM1159.7 673.1l5.8 2.3 3.9-5.5-5.9 0.4z" fill="#4331c7"/>
<path d="M1176.9 671.7l5.9 2.4 3.9-3.2-5.9-1.7z" fill="#402bb8"/>
<path d="M952.9 689.3l5.8 1.8 3.9-4.3-5.9 0zM961.5 686.9l5.8 3.5 4-2.6-5.9-2.2zM987.3 684.8l5.9 4.2 3.9-3.3-5.9-1.8z" fill="#4331c7"/>
<path d="M995.9 685.7l5.9 2.6 3.9-2.7-5.8-2.5z" fill="#402bb8"/>
<path d="M1004.6 685.8l5.8 1.5 3.9-5.2-5.9 0.1z" fill="#4331c7"/>
<path d="M1021.8 683.7l5.9 2.1 3.9-2.5-5.9-2.4z" fill="#402bb8"/>
<path d="M1064.9 678.9l5.9 3.1 3.9-1.8-6-2.5z" fill="#4331c7"/>
<path d="M927 691.4l5.8 2.3 3.9-6.2-5.8 0.4zM935.7 687.5l5.8 5.1 3.9-2.6-6-1.9z" fill="#4434ce"/>
<path d="M944.2 690l5.9 2.2 3.9-3-5.8-2.1z" fill="#402bb8"/>
<path d="M978.7 687.7l5.9 1.8 3.9-4.8-5.9 0.1z" fill="#4331c7"/>
<path d="M970.1 687.8l5.9 2.3 3.9-2.5-5.9-2.1z" fill="#402bb8"/>
<path d="M1013.2 682.2l5.8 4 4-2.5-6-1.9z" fill="#4331c7"/>
<path d="M1030.4 683.4l5.9 1.1 3.9-3.2-6-0.6z" fill="#422ebf"/>
<path d="M1047.6 682.2l5.9 2 3.9-3-5.8-2.1zM1073.5 680.2l5.9 2.1 3.9-3.3-5.9-1.9z" fill="#402bb8"/>
<path d="M1090.7 676.9l5.9 3.1 3.9-2.4-5.9-1.8zM1108 677.2l5.8 2.3 3.9-5.3-5.9 0.6z" fill="#4331c7"/>
<path d="M1151 674l5.9 1.9 3.9-2.9-5.8-2.1z" fill="#402bb8"/>
<path d="M1168.3 670l5.8 3.8 4-2.1-6-2.3z" fill="#4434ce"/>
<path d="M1121.6 677.8l5.9 2.6 3.9-3.2-5.8-2.1z" fill="#402bb8"/>
<path d="M1138.9 676.8l5.8 2.1 4-2.6-5.8-4.5zM1061.3 682.8l5.9 1.8 3.9-3.2-5.8-3z" fill="#4331c7"/>
<path d="M1044.1 684.3l5.9 2 3.9-2.7-5.9-2zM923.5 693.3l5.8 2.6 4-2.8-5.9-2.4z" fill="#402bb8"/>
<path d="M932.1 693.3l5.8 1.5 4-2.7-5.8-4.9z" fill="#4434ce"/>
<path d="M949.3 691.7l5.9 1.6 3.9-2.8-5.9-1.8z" fill="#402bb8"/>
<path d="M957.9 690.7l5.9 2.3 3.9-3.2-5.8-3.4z" fill="#4331c7"/>
<path d="M966.5 689.8l5.9 2.7 3.9-3-5.8-2.3z" fill="#402bb8"/>
<path d="M983.8 689.1l5.8 2 4-2.6-5.8-4.1z" fill="#4331c7"/>
<path d="M992.4 688.5l5.9 1.6 3.9-2.3-5.9-2.7zM1001 687.8l5.9 1.6 3.9-2.7-5.9-1.6z" fill="#402bb8"/>
<path d="M1009.6 686.9l5.8 2.4 4-3.6-5.8-3.9z" fill="#4331c7"/>
<path d="M1018.2 685.7l5.9 2.8 3.9-3.3-5.8-2.1zM1026.9 685.3l5.9 1.7 3.9-3.2-6-1z" fill="#422ebf"/>
<path d="M1069.9 681.4l5.9 3.1 3.9-2.8-5.9-2.1zM940.7 692.1l5.9 1.9 3.9-2.4-5.9-2.2zM975.2 689.6l5.8 2.2 4-2.9-5.9-1.9z" fill="#402bb8"/>
<path d="M1035.5 683.9l5.8 2.9 4-2.5-5.9-3.4zM1052.7 683.7l5.9 1.2 3.9-2.2-5.9-2z" fill="#422ebf"/>
<path d="M1078.6 681.8l5.8 1.9 4-2.7-5.9-2.5z" fill="#402bb8"/>
<path d="M1087.2 681.1l5.8 1.7 4-3.4-5.8-3z" fill="#4331c7"/>
<path d="M1095.8 679.5l5.9 2.1 3.9-2.5-5.9-2z" fill="#422ebf"/>
<path d="M1104.4 679.1l5.9 2.3 3.9-2.4-5.9-2.5z" fill="#402bb8"/>
<path d="M1113 679.1l5.9 1.6 3.9-2.9-5.8-3.9z" fill="#4331c7"/>
<path d="M1130.3 677.3l5.9 1.6 3.9-2.2-5.9-2.2z" fill="#422ebf"/>
<path d="M1147.5 676.3l5.9 1.5 3.9-2.5-5.9-1.9zM1156.1 675.4l5.9 1.9 3.9-2.5-5.9-2.3z" fill="#402bb8"/>
<path d="M1164.7 675l5.8 2.1 4-3.9-5.8-3.7z" fill="#4331c7"/>
<path d="M1173.3 673.2l5.9 2.9 3.9-2.6-5.8-2.4z" fill="#422ebf"/>
<path d="M1182 673.6l5.9 1.5 3.9-2.1-5.9-2.6z" fill="#402bb8"/>
<path d="M1066.4 684.1l5.9 2.4 3.9-2.5-5.8-3.1z" fill="#422ebf"/>
<path d="M1014.7 688.8l5.9 1.4 3.9-2.3-5.9-2.8z" fill="#402bb8"/>
<path d="M1049.2 685.9l6 0.4 3.8-2-6-1.2zM1075 684.1l6.1 0.1 3.7-1.1-5.9-1.9zM1092.2 682.2l5.9 2.5 3.9-3.7-5.8-2.1z" fill="#422ebf"/>
<path d="M1109.5 680.9l5.9 1.8 3.9-2.6-5.9-1.7zM1118.1 680.2l5.9 1.9 3.9-2.2-5.9-2.7z" fill="#402bb8"/>
<path d="M1126.7 680l6 0.2 3.8-1.9-5.9-1.6z" fill="#422ebf"/>
<path d="M1135.3 678.3l5.9 2.9 3.9-2.9-5.9-2.2zM1143.9 678.4l5.9 2.1 3.9-3.4-5.9-1.4z" fill="#402bb8"/>
<path d="M1152.6 677.3l6.1 0.1 3.7-0.6-6-2z" fill="#4331c7"/>
<path d="M1169.8 676.6l5.9 1.5 3.9-2.6-5.8-2.8z" fill="#422ebf"/>
<path d="M1187 674.6l5.9 2.1 3.9-2.9-5.9-1.4zM928.5 695.4l5.9 1.9 3.9-3.1-5.9-1.6z" fill="#402bb8"/>
<path d="M971.6 692l6.2-0.3 3.6-0.5-5.9-2.2z" fill="#4331c7"/>
<path d="M919.9 695.1l6 1.8 3.8-1.5-5.9-2.7z" fill="#422ebf"/>
<path d="M937.1 694.3l5.9 2.2 3.9-3.1-5.8-1.9z" fill="#402bb8"/>
<path d="M945.8 693.6l6 0.7 3.8-1.5-6-1.7z" fill="#4331c7"/>
<path d="M954.4 692.8l5.8 2.4 4-2.8-5.9-2.4zM963 692.5l5.9 2 3.9-2.6-5.9-2.6zM980.2 691.3l5.9 2.2 3.9-3-5.9-2.1zM988.8 690.6l5.9 2.1 3.9-3.3-5.9-1.5z" fill="#402bb8"/>
<path d="M997.5 689.6l6.2-0.8 3.6 0-6.1-1.5z" fill="#4434ce"/>
<path d="M1006.1 688.8l5.9 2.4 3.9-2.5-5.9-2.5z" fill="#402bb8"/>
<path d="M1023.3 688l6.1-0.2 3.7-1.4-5.9-1.7z" fill="#4331c7"/>
<path d="M1031.9 686.4l5.9 2.9 3.9-3.1-5.8-2.8zM1057.8 684.4l5.9 2.4 3.9-2.8-5.9-1.9z" fill="#422ebf"/>
<path d="M1040.5 686.2l5.9 2.2 3.9-2.7-5.9-2zM1083.6 683.2l5.9 2.1 3.9-3.2-5.9-1.7z" fill="#402bb8"/>
<path d="M1100.9 681.2l6.2-0.7 3.6 0.4-6-2.3z" fill="#4434ce"/>
<path d="M1161.2 676.8l5.9 2.1 3.9-2.4-5.9-2.2z" fill="#402bb8"/>
<path d="M1178.4 675.6l6 1.1 3.8-2.2-5.9-1.5zM1071.5 686.1l5.8 1.7 3.9-4.2-5.9-0.2z" fill="#422ebf"/>
<path d="M1114.5 682.2l5.9 2.6 3.9-3.3-5.8-1.9z" fill="#402bb8"/>
<path d="M1131.8 679.7l5.8 3.6 4-2.6-5.9-2.9z" fill="#422ebf"/>
<path d="M1149 680.1l5.9 1.6 3.9-4.8-5.9-0.2z" fill="#4331c7"/>
<path d="M1192.1 676.2l5.9 2 3.9-2.5-5.9-2.4z" fill="#402bb8"/>
<path d="M1054.2 685.7l5.8 3.9 4-3.4-5.8-2.4zM976.7 691.3l5.8 4.2 4-2.6-6-2.2z" fill="#4331c7"/>
<path d="M1011.1 690.7l5.9 1.9 3.9-3.1-5.9-1.3z" fill="#402bb8"/>
<path d="M1019.8 689.7l5.8 2.4 3.9-4.9-5.9 0.2z" fill="#4331c7"/>
<path d="M925 696.4l5.9 2.9 3.9-2.5-6-2z" fill="#422ebf"/>
<path d="M933.6 696.8l5.9 1.8 3.9-2.7-5.9-2.2z" fill="#402bb8"/>
<path d="M942.2 696l5.8 2.2 4-4.5-5.9-0.8zM968.1 694l5.8 1.8 3.9-4.6-5.9 0.2z" fill="#4331c7"/>
<path d="M916.4 697.9l5.8 2.3 4-3.9-5.9-1.7z" fill="#422ebf"/>
<path d="M950.8 693.8l5.9 2.9 3.9-2-5.9-2.5z" fill="#4331c7"/>
<path d="M959.4 694.7l5.9 2.2 3.9-3-5.8-2zM985.3 693l5.9 1.6 3.9-2.5-5.9-2.1z" fill="#402bb8"/>
<path d="M993.9 692.3l5.8 1.9 3.9-5.7-5.8 0.5z" fill="#4331c7"/>
<path d="M1002.5 688.5l5.9 4.6 3.9-2.4-5.9-2.4z" fill="#4434ce"/>
<path d="M1028.4 687.3l5.8 4.3 4-2.8-5.9-2.9z" fill="#4331c7"/>
<path d="M1037 688.8l5.9 1.7 3.9-2.7-5.9-2.2zM1062.8 686.3l5.9 2.5 3.9-2.8-5.8-2.5z" fill="#402bb8"/>
<path d="M1045.6 688l5.9 2 3.9-4.4-5.9-0.4zM1080.1 683.7l5.8 3.8 4-2.8-6-2.1z" fill="#422ebf"/>
<path d="M1088.7 684.8l5.9 1.7 3.9-2.4-5.9-2.5z" fill="#402bb8"/>
<path d="M1097.3 684.3l5.8 1.5 3.9-5.6-5.8 0.3zM1106 680.2l5.7 5.2 4-3.2-6-1.8z" fill="#4434ce"/>
<path d="M1123.2 681.6l5.9 1.7 3.8-3.7-5.9-0.2z" fill="#4331c7"/>
<path d="M1140.4 680.7l5.9 2.1 3.9-2.9-5.9-2.1z" fill="#402bb8"/>
<path d="M1157.6 677l5.9 4 3.9-2.7-5.9-2.1z" fill="#4331c7"/>
<path d="M1166.2 678.3l5.9 2.2 3.9-3-5.9-1.6z" fill="#402bb8"/>
<path d="M1174.9 677.6l5.8 2 4-3.5-6-1.1zM1183.5 676.2l5.8 2.7 4-2.7-5.9-2.2z" fill="#422ebf"/>
<path d="M1059.3 689.1l5.9 2 3.9-2.9-5.9-2.5zM938.7 698.1l5.8 2.1 4-2.6-5.9-2.3z" fill="#402bb8"/>
<path d="M973.1 695.3l5.9 2.3 3.9-2.7-5.8-4z" fill="#4331c7"/>
<path d="M981.7 695l6 1.6 3.8-2.6-5.9-1.6zM1007.6 692.5l5.9 2.5 3.9-3-5.9-1.9zM1016.2 692.1l5.9 2.4 3.9-3.1-5.9-2.3z" fill="#402bb8"/>
<path d="M1024.8 691.6l5.9 2.3 3.9-2.9-5.8-4.2z" fill="#4331c7"/>
<path d="M1067.9 688.3l5.9 2 3.9-3.1-5.9-1.8z" fill="#402bb8"/>
<path d="M1076.5 687.3l5.9 2.3 3.9-2.6-5.8-3.8z" fill="#422ebf"/>
<path d="M1085.1 687l5.9 1.6 3.9-2.7-5.9-1.8z" fill="#402bb8"/>
<path d="M1102.4 685.4l5.8 2.2 4-2.7-5.8-5z" fill="#4434ce"/>
<path d="M1111 684.8l5.9 2.2 3.9-2.8-5.9-2.6z" fill="#402bb8"/>
<path d="M1119.6 684.3l5.9 1.7 3.9-3.4-5.9-1.6z" fill="#422ebf"/>
<path d="M1128.2 682.7l5.9 2.5 3.9-2.5-5.8-3.5z" fill="#4331c7"/>
<path d="M1136.8 682.8l6 1.4 3.8-1.9-5.9-2.2zM1145.5 682.4l5.9 1.3 3.9-2.6-5.9-1.7z" fill="#402bb8"/>
<path d="M1154.1 681.3l5.8 2.3 4-3.2-5.8-3.9z" fill="#4331c7"/>
<path d="M1162.7 680.4l5.9 2.2 3.9-2.7-5.9-2.2z" fill="#402bb8"/>
<path d="M1179.9 679.1l5.9 2.5 3.9-3.3-5.8-2.7z" fill="#422ebf"/>
<path d="M1188.5 678.3l5.9 2.5 3.9-3.2-5.8-2zM1197.2 677.7l5.8 2.3 4-3.1-5.9-1.7z" fill="#402bb8"/>
<path d="M912.8 700l6 1.4 3.8-1.7-5.9-2.4z" fill="#422ebf"/>
<path d="M930 698.7l5.9 2.3 3.9-3-5.9-1.8z" fill="#402bb8"/>
<path d="M947.3 697.8l5.8 1.7 4-3.4-5.8-2.8z" fill="#4331c7"/>
<path d="M964.5 696.4l5.9 2.2 3.9-3.4-5.9-1.8z" fill="#402bb8"/>
<path d="M921.4 699.7l5.9 2.1 3.9-3.1-5.8-2.9zM955.9 696.1l5.9 2.8 3.9-2.6-5.9-2.2z" fill="#422ebf"/>
<path d="M990.4 694l5.8 2.4 4-2.8-5.9-2z" fill="#402bb8"/>
<path d="M999 693.8l5.8 2 4-3.3-5.8-4.4z" fill="#4434ce"/>
<path d="M1033.4 691.1l6 1.1 3.8-2.3-5.9-1.7z" fill="#422ebf"/>
<path d="M1042.1 690l5.8 2.6 4-3.2-5.9-2.1z" fill="#402bb8"/>
<path d="M1050.7 689.5l5.8 2.2 4-2.6-5.8-3.9z" fill="#422ebf"/>
<path d="M1093.8 686l5.8 2.4 4-3.2-5.9-1.6zM1171.3 680l5.9 1.8 3.9-2.8-5.9-2z" fill="#402bb8"/>
<path d="M1064.4 690.7l6.2-1 3.6 0-6-2z" fill="#4331c7"/>
<path d="M1081.6 689.1l5.9 1.7 3.9-2.8-5.9-1.6zM1107.4 687.1l5.9 1.9 3.9-2.6-5.8-2.2z" fill="#402bb8"/>
<path d="M1124.7 685.5l5.8 2.1 4-3-5.9-2.5z" fill="#422ebf"/>
<path d="M1141.9 683.7l6.1 1 3.7-1.6-6-1.3z" fill="#4331c7"/>
<path d="M1159.1 683.1l5.9 1.8 3.9-2.9-5.8-2.2zM1185 681.1l5.9 1.7 3.9-2.6-5.9-2.5zM1202.2 679.5l5.9 1.9 3.9-2.8-5.8-2.2z" fill="#402bb8"/>
<path d="M935.1 700.6l6.1 0.3 3.7-1.2-5.9-2.2z" fill="#4331c7"/>
<path d="M943.7 699.7l5.9 2.3 3.9-3.2-5.9-1.7zM969.6 698.2l5.8 1.9 4-3.1-5.9-2.3zM978.2 697.1l5.9 1.9 3.9-3-5.9-1.6z" fill="#402bb8"/>
<path d="M986.8 696.2l6.1 0.2 3.7-0.6-5.9-2.3z" fill="#4331c7"/>
<path d="M1004 695.3l6 1.5 3.8-2.3-5.8-2.6z" fill="#402bb8"/>
<path d="M1012.7 694.6l6.2-0.5 3.6-0.2-6-2.4z" fill="#4331c7"/>
<path d="M1021.3 694l5.9 1.5 3.9-2.2-5.9-2.4zM1029.9 693.4l5.9 1.9 3.9-3.8-5.9-1zM1047.1 692.1l5.9 1.6 3.9-2.6-5.8-2.2z" fill="#402bb8"/>
<path d="M917.9 700.8l5.8 3.4 4-2.9-5.9-2.2z" fill="#422ebf"/>
<path d="M909.3 702.4l6.1 0 3.7-1.6-6-1.4z" fill="#4331c7"/>
<path d="M926.5 701.3l5.9 1.8 3.9-2.6-5.9-2.4z" fill="#402bb8"/>
<path d="M952.3 699l5.9 1.9 3.9-2.5-5.8-2.8z" fill="#422ebf"/>
<path d="M961 698.5l6.2-0.9 3.6 0.5-6-2.3z" fill="#4331c7"/>
<path d="M995.4 695.9l5.9 1.6 3.9-2.3-5.9-2.1z" fill="#402bb8"/>
<path d="M1038.5 691.7l6.1 1.1 3.7-0.7-5.9-2.7z" fill="#4331c7"/>
<path d="M1055.7 691.2l6 1.7 3.8-2.4-5.9-2zM1073 689.8l5.9 1.8 3.9-2.6-5.9-2.3z" fill="#402bb8"/>
<path d="M1090.2 688.2l6.1 0.5 3.7-0.8-5.9-2.5z" fill="#4331c7"/>
<path d="M1098.8 687.9l5.9 1.5 3.9-2.4-5.8-2.3z" fill="#402bb8"/>
<path d="M1116.1 686.6l6.2-1.7 3.6 0.6-6.1-1.7z" fill="#4434ce"/>
<path d="M1133.3 684.7l5.8 2.4 4-3.5-5.9-1.4z" fill="#422ebf"/>
<path d="M1150.5 683.1l5.9 2.5 3.9-2.6-5.9-2.4z" fill="#402bb8"/>
<path d="M1167.8 682.2l6.1 0 3.7-1-6-1.8z" fill="#4331c7"/>
<path d="M1176.4 681.2l5.8 2.7 4-2.9-5.9-2.5z" fill="#402bb8"/>
<path d="M1193.6 680.3l6.2-0.3 3.6-0.5-5.9-2.4zM905.7 704.7l5.9 1.1 3.9-4-6 0zM914.3 701.8l5.9 4.3 3.9-2.4-5.8-3.4z" fill="#4331c7"/>
<path d="M922.9 703.7l5.9 1.7 3.9-2.9-5.9-1.8z" fill="#402bb8"/>
<path d="M931.6 702.6l5.8 2 3.9-4.3-5.9-0.3z" fill="#4331c7"/>
<path d="M940.2 700.4l5.8 3.5 4-2.4-5.9-2.4z" fill="#422ebf"/>
<path d="M948.8 701.5l5.9 1.9 3.9-3.1-5.9-2z" fill="#402bb8"/>
<path d="M957.4 700.5l5.9 1.7 3.9-4.8-6 0.5z" fill="#4434ce"/>
<path d="M966.1 697.4l5.8 5 3.9-2.9-6-1.9z" fill="#4331c7"/>
<path d="M974.6 699.6l5.9 1.5 3.9-2.7-5.8-1.9z" fill="#402bb8"/>
<path d="M983.3 698.6l5.8 1.9 3.9-4.6-5.9-0.4zM991.9 695.9l5.8 3.6 4-2.5-6-1.7z" fill="#4331c7"/>
<path d="M1000.5 697l5.9 2.1 3.9-2.9-5.9-1.5z" fill="#402bb8"/>
<path d="M1009.1 696.4l5.9 1.9 3.9-4.7-6 0.4zM1017.7 693.7l5.9 3.8 3.9-2.6-6-1.5z" fill="#4331c7"/>
<path d="M1026.3 694.9l5.9 2.6 3.9-2.8-5.9-1.9z" fill="#402bb8"/>
<path d="M1035 694.9l5.9 0.9 3.8-3.6-5.8-1.1z" fill="#4331c7"/>
<path d="M1043.6 692.3l5.8 3.7 4-2.9-6-1.6z" fill="#422ebf"/>
<path d="M1052.2 693.2l5.9 2.3 3.9-3.2-5.9-1.7z" fill="#402bb8"/>
<path d="M1060.8 692.5l5.8 2.1 4-5.2-6 0.7zM1069.4 689.5l5.9 4.4 3.9-2.9-6-1.8z" fill="#4331c7"/>
<path d="M1078 691.1l5.9 2.3 3.9-3.2-5.9-1.8z" fill="#402bb8"/>
<path d="M1086.7 690.3l5.8 2.5 3.9-4.7-5.9-0.6zM1095.3 688.1l5.8 4 4-3.3-6-1.5z" fill="#4331c7"/>
<path d="M1103.9 688.8l5.9 2.3 3.9-2.7-5.9-1.9z" fill="#402bb8"/>
<path d="M1112.5 688.5l5.8 2 3.9-5.7-5.9 1.1zM1121.1 684.9l5.9 4.2 3.9-1.9-6-2.3z" fill="#4434ce"/>
<path d="M1129.7 687.1l5.9 2.1 3.9-2.6-5.8-2.5z" fill="#402bb8"/>
<path d="M1138.4 686.7l5.8 1.8 3.9-4.4-5.8-1zM1147 684.2l5.9 2.8 3.9-2-5.9-2.4z" fill="#4331c7"/>
<path d="M1155.6 685l5.9 2.4 3.9-3.2-5.9-1.7z" fill="#402bb8"/>
<path d="M1164.2 684.4l5.9 1.9 3.9-4.7-5.9-0.1zM1172.8 681.7l5.9 3.6 3.9-1.9-5.9-2.7z" fill="#4331c7"/>
<path d="M1181.4 683.4l6 1.4 3.8-2.7-5.9-1.7z" fill="#402bb8"/>
<path d="M1190.1 682.3l5.8 2.3 3.9-5.1-5.9 0.2zM1198.7 679.6l5.8 3.6 4-2.3-6-1.9z" fill="#4331c7"/>
<path d="M1207.3 680.9l5.9 2 3.9-2.4-5.9-2.4zM1074.5 693.3l5.9 2 3.9-2.5-5.9-2.3z" fill="#402bb8"/>
<path d="M1091.7 692.3l5.9 1.9 3.9-2.7-5.8-3.8z" fill="#422ebf"/>
<path d="M1100.3 691.6l5.9 1.8 3.9-2.9-5.8-2.2z" fill="#402bb8"/>
<path d="M1117.6 690.1l5.8 2.2 4-3.8-5.8-4z" fill="#4434ce"/>
<path d="M1134.8 688.7l5.9 2.1 3.9-2.9-5.9-1.9z" fill="#402bb8"/>
<path d="M1152 686.4l5.9 3.3 3.9-2.9-5.8-2.4z" fill="#422ebf"/>
<path d="M1169.3 685.8l5.8 2.5 4-3.6-5.8-3.5z" fill="#4331c7"/>
<path d="M1177.9 684.7l5.9 2.6 3.9-3.1-6-1.4z" fill="#422ebf"/>
<path d="M1195.1 684.1l5.9 2 3.9-3.5-5.8-3.5z" fill="#4331c7"/>
<path d="M996.9 699l5.9 2 3.9-2.5-5.9-2.1z" fill="#422ebf"/>
<path d="M1040 695.2l5.8 3.3 4-3-5.8-3.7z" fill="#4331c7"/>
<path d="M1057.3 695l5.8 1.8 4-2.8-5.9-2.2zM928 704.9l5.9 2.2 3.9-3.1-5.9-2z" fill="#402bb8"/>
<path d="M953.9 702.9l5.8 2.1 4-3.5-5.9-1.7z" fill="#422ebf"/>
<path d="M962.5 701.7l5.8 2.9 4-2.7-5.8-4.9zM910.8 705.3l5.8 2.9 4-2.6-5.8-4.2z" fill="#4331c7"/>
<path d="M919.4 705.6l5.9 2.3 3.9-3.2-5.9-1.6z" fill="#402bb8"/>
<path d="M936.6 704.1l5.9 2 3.9-2.7-5.8-3.5z" fill="#4331c7"/>
<path d="M945.2 703.4l5.9 2.5 3.9-3.1-5.9-1.9zM971.1 701.9l5.9 1.6 3.9-3-5.9-1.6zM979.7 700.6l5.9 2.3 3.9-3-5.9-2z" fill="#402bb8"/>
<path d="M988.3 700.1l5.9 2 3.9-3.2-5.8-3.4z" fill="#4331c7"/>
<path d="M1005.6 698.6l5.8 2.4 4-3.3-5.9-2z" fill="#402bb8"/>
<path d="M1014.2 697.8l5.8 2.4 4-3.3-5.8-3.6z" fill="#4331c7"/>
<path d="M1022.8 696.9l5.9 2.3 3.9-2.3-5.9-2.5zM1031.4 697l5.9 2.2 3.9-4.1-5.9-0.9z" fill="#422ebf"/>
<path d="M1048.6 695.5l5.9 1.9 3.9-2.4-5.8-2.4z" fill="#402bb8"/>
<path d="M1065.9 694.2l5.8 1.9 4-2.8-5.8-4.2z" fill="#4331c7"/>
<path d="M1083.1 692.9l5.9 2.2 3.9-2.9-5.8-2.5zM1109 690.6l5.8 2.1 4-2.8-5.9-2z" fill="#402bb8"/>
<path d="M1126.2 688.5l5.8 3.1 4-2.9-5.9-2.2z" fill="#422ebf"/>
<path d="M1143.4 688l5.8 2.3 4-3.9-5.8-2.7z" fill="#4331c7"/>
<path d="M1160.7 686.9l5.8 2 4-3.3-5.9-1.9z" fill="#402bb8"/>
<path d="M1186.5 684.3l5.9 2 3.9-2.3-5.9-2.4zM1203.7 682.6l5.9 2.6 3.9-2.9-5.9-2z" fill="#422ebf"/>
<path d="M1096.8 693.6l5.9 2.4 3.9-3.2-5.9-1.8z" fill="#402bb8"/>
<path d="M1174.3 687.9l5.9 1.6 3.9-2.8-5.8-2.6z" fill="#422ebf"/>
<path d="M958.9 704.5l5.9 2.1 3.9-2.6-5.8-3z" fill="#402bb8"/>
<path d="M993.4 701.6l5.9 2.1 3.9-3.3-5.9-2z" fill="#422ebf"/>
<path d="M1002 700.5l6.1 0.8 3.7-0.8-5.9-2.5z" fill="#4331c7"/>
<path d="M1036.5 698.7l5.9 1.7 3.9-2.5-5.8-3.3z" fill="#422ebf"/>
<path d="M1045.1 698l5.9 1.8 3.9-3-5.9-1.9z" fill="#402bb8"/>
<path d="M1053.7 697l6.2-0.1 3.6-0.7-6-1.7zM924.5 707.5l6.2-1.4 3.6 0.5-6-2.3z" fill="#4331c7"/>
<path d="M933.1 706.6l5.8 2.2 4-3.4-5.9-1.9z" fill="#402bb8"/>
<path d="M950.3 705.4l6.3-1.2 3.5 0.3-5.9-2.2z" fill="#4331c7"/>
<path d="M967.5 704.1l6 1.5 3.8-2.7-5.9-1.6zM915.8 707.7l5.9 2 3.9-2.4-5.8-2.3zM941.7 705.5l5.9 2.2 3.9-2.4-5.9-2.5z" fill="#402bb8"/>
<path d="M976.2 703.1l6.1 0.1 3.7-0.8-6-2.3z" fill="#4331c7"/>
<path d="M984.8 702.4l5.9 1.8 3.9-2.7-5.9-2.1zM1010.6 700.5l5.9 1.6 3.9-2.5-5.8-2.4z" fill="#402bb8"/>
<path d="M1019.2 699.7l5.9 1.8 3.9-2.9-5.8-2.3z" fill="#422ebf"/>
<path d="M1027.9 698.8l6.2-0.9 3.6 0.8-6-2.3z" fill="#4434ce"/>
<path d="M1070.9 695.5l5.9 2.5 3.9-3.3-5.8-2z" fill="#402bb8"/>
<path d="M1079.6 694.8l6.1 0.5 3.7-0.7-6-2.3z" fill="#422ebf"/>
<path d="M1088.2 694.6l5.9 1.9 3.9-3-5.9-1.9z" fill="#402bb8"/>
<path d="M1105.4 693l6.1 0 3.7-0.9-5.9-2.1z" fill="#4331c7"/>
<path d="M1114 692.1l5.9 2.4 3.9-2.8-5.8-2.3z" fill="#402bb8"/>
<path d="M1122.6 691.8l5.9 1.9 3.9-2.7-5.8-3zM1131.3 691.1l6.1 0.2 3.7-1-6-2.2z" fill="#422ebf"/>
<path d="M1139.9 690.3l5.9 1.9 3.9-2.5-5.9-2.3z" fill="#402bb8"/>
<path d="M1148.5 689.8l5.9 1.9 3.9-2.6-5.8-3.2z" fill="#422ebf"/>
<path d="M1157.1 689.3l6.3-1.5 3.5 0.6-6-2.1z" fill="#4331c7"/>
<path d="M1165.7 688.4l5.9 1.6 3.9-2.3-5.8-2.6z" fill="#402bb8"/>
<path d="M1183 686.8l6.1 0 3.7-1.1-6-2z" fill="#4331c7"/>
<path d="M1191.6 685.7l5.9 2.4 3.9-2.6-5.9-2z" fill="#402bb8"/>
<path d="M1200.2 685.6l5.9 2.1 3.9-3.1-5.9-2.5z" fill="#422ebf"/>
<path d="M1062.3 696.3l5.9 2.1 3.9-3-5.9-1.9z" fill="#402bb8"/>
<path d="M1050.2 699.3l5.8 1.6 3.9-4.5-5.9-0.1zM1084.6 694.8l5.9 3.4 3.9-2.2-5.9-2z" fill="#4331c7"/>
<path d="M1093.2 696l5.9 2.1 3.9-2.7-5.8-2.3z" fill="#402bb8"/>
<path d="M1101.9 695.6l5.8 2 3.9-5.2-5.9-0.1zM1110.5 692.5l5.8 3.6 4-2.1-6-2.4zM1127.7 693.2l5.9 1.8 3.9-4.3-5.9-0.2z" fill="#4331c7"/>
<path d="M1144.9 691.6l5.9 2.1 3.9-2.6-5.9-1.9z" fill="#402bb8"/>
<path d="M1162.2 687.7l5.8 4.8 4-3-6-1.6z" fill="#4434ce"/>
<path d="M1170.8 689.5l5.9 2 3.9-2.6-5.9-1.7z" fill="#402bb8"/>
<path d="M1179.4 689l5.8 2.1 4-4.9-5.9 0zM1188 686.3l5.9 3.8 3.9-2.5-5.9-2.4zM920.9 709.2l5.8 2.2 4-5.5-6 0.9zM955.4 704l5.8 4.9 4-2.8-6-2.2z" fill="#4331c7"/>
<path d="M964 706.1l5.9 1.8 3.9-2.9-5.9-1.5zM989.8 703.7l5.9 2.2 3.9-2.8-5.8-2.1z" fill="#402bb8"/>
<path d="M998.5 703.2l5.8 2 3.9-4.5-5.8-0.8zM1007.1 700.7l5.8 3.5 4-2.6-6-1.7z" fill="#4331c7"/>
<path d="M1033 697.7l5.8 4.7 3.9-2.5-6-1.8z" fill="#4434ce"/>
<path d="M1041.5 699.9l5.9 2.3 3.9-3.1-5.9-1.7zM1067.4 697.9l5.9 2 3.9-2.5-5.9-2.5z" fill="#402bb8"/>
<path d="M929.5 706l5.9 4.2 3.9-1.9-6-2.3z" fill="#4331c7"/>
<path d="M938.1 708.3l5.9 2.1 3.9-3.3-5.8-2.2z" fill="#402bb8"/>
<path d="M946.8 707.2l5.8 2.2 3.9-5.5-5.9 0.9zM972.6 705.2l5.9 1.4 3.9-4-6-0.1zM981.2 702.7l5.9 3.7 3.9-2.7-5.9-1.8z" fill="#4331c7"/>
<path d="M1015.7 701.6l5.9 2.2 3.9-3-5.9-1.8z" fill="#402bb8"/>
<path d="M1024.3 701l5.8 2.3 4-5.6-5.9 0.4z" fill="#4434ce"/>
<path d="M1058.8 696.5l5.8 3.8 4-2.4-6-2.2zM1076 697.6l5.9 1.3 3.9-4.2-5.9-0.5z" fill="#4331c7"/>
<path d="M1119.1 694l5.9 1.9 3.9-2.8-5.9-2z" fill="#402bb8"/>
<path d="M1136.3 690.8l5.9 3.6 3.9-2.8-5.9-1.9zM1153.6 691.3l5.8 2.1 3.9-5.8-5.9 1z" fill="#4331c7"/>
<path d="M1196.6 687.6l5.9 2.1 3.9-2.6-5.8-2.1zM1089.7 697.7l5.9 2.8 3.9-3-5.9-2.1z" fill="#402bb8"/>
<path d="M1106.9 697.1l5.9 1.7 3.9-3.3-5.8-3.5z" fill="#4331c7"/>
<path d="M1167.2 692l5.9 2.1 3.9-3.2-5.8-2z" fill="#402bb8"/>
<path d="M1184.5 690.6l5.8 2 4-3.1-5.8-3.7z" fill="#4331c7"/>
<path d="M1046.6 701.8l5.9 1.6 3.9-3.1-5.9-1.6z" fill="#402bb8"/>
<path d="M926 710.9l5.8 1.8 4-3-5.8-4.1z" fill="#4434ce"/>
<path d="M943.2 709.9l5.9 1.7 3.9-2.9-5.9-2.1z" fill="#402bb8"/>
<path d="M951.8 708.9l5.8 2.3 4-2.8-5.8-4.8z" fill="#4331c7"/>
<path d="M960.4 708.4l5.9 1.8 3.9-2.9-5.9-1.8z" fill="#402bb8"/>
<path d="M969.1 707.4l5.8 2.4 4-3.9-5.9-1.4z" fill="#422ebf"/>
<path d="M986.3 705.9l5.8 2.5 4-3.1-5.9-2.2zM994.9 705.4l5.9 2.3 3.9-3.1-5.9-2.1z" fill="#402bb8"/>
<path d="M1003.5 704.7l5.9 1.9 3.9-3-5.8-3.3z" fill="#4331c7"/>
<path d="M1012.1 703.6l5.9 2.7 3.9-3.1-5.8-2.2z" fill="#422ebf"/>
<path d="M1029.4 702.9l5.8 1.6 4-2.6-5.8-4.5z" fill="#4434ce"/>
<path d="M1038 701.9l5.9 1.8 3.9-2-5.9-2.4zM1063.8 699.8l5.9 2.5 3.9-3.1-5.8-1.9zM934.6 709.6l5.9 2.4 3.9-2.2-5.9-2.1z" fill="#402bb8"/>
<path d="M977.7 706.1l5.8 2.5 4-2.7-5.8-3.7z" fill="#4331c7"/>
<path d="M1020.8 703.3l5.8 2 4-2.6-5.9-2.4z" fill="#402bb8"/>
<path d="M1055.2 700.5l5.9 2.1 3.9-2.8-5.8-3.8zM1081.1 698.4l5.8 2.6 4-3.3-5.8-3.4z" fill="#4331c7"/>
<path d="M1098.3 697.6l5.9 1.5 3.9-2.1-5.9-2.1zM1115.5 695.5l5.9 2.9 3.9-3.1-5.9-1.9zM1124.2 695.3l5.8 2.2 4-3.1-5.9-1.8z" fill="#402bb8"/>
<path d="M1132.8 694.5l5.8 2.3 4-3-5.8-3.5z" fill="#4331c7"/>
<path d="M1141.4 693.9l5.9 1.9 3.9-2.7-5.9-2zM1150 693.1l5.9 2.4 3.9-2.7-5.9-2.2z" fill="#402bb8"/>
<path d="M1158.6 693l5.9 1.9 3.9-3-5.7-4.6z" fill="#4331c7"/>
<path d="M1175.9 691l5.8 2.4 4-2.9-5.9-2.1zM1193.1 689.5l5.9 2.4 3.9-2.8-5.9-2.1zM1072.5 699.3l5.8 2.2 4-3.2-6-1.4z" fill="#402bb8"/>
<path d="M1043.1 703.2l6.2-0.2 3.6-0.1-6.1-1.7z" fill="#4331c7"/>
<path d="M1060.3 702l5.9 2.3 3.9-2.5-5.9-2.6zM1086.1 700.5l5.9 2.1 3.9-2.7-5.8-2.8z" fill="#402bb8"/>
<path d="M1094.8 700.1l6.2-1.4 3.6-0.1-6-1.6z" fill="#4331c7"/>
<path d="M1103.4 698.6l5.8 2.5 4-2.9-5.9-1.8zM1112 698.3l5.9 2.1 3.9-2.6-5.9-2.9z" fill="#402bb8"/>
<path d="M1120.6 697.9l6.1 0.2 3.7-1.1-5.9-2.2z" fill="#422ebf"/>
<path d="M1137.8 696.3l5.9 2.2 3.9-3.3-5.8-1.9zM1155.1 695l5.9 2.1 3.9-2.8-5.9-2zM1163.7 694.4l5.9 2.2 3.9-3.2-5.9-2.1z" fill="#402bb8"/>
<path d="M1172.3 693.6l6.1 0.4 3.7-1.1-5.9-2.5z" fill="#4331c7"/>
<path d="M1180.9 692.9l5.9 1.7 3.9-2.7-5.9-2zM1189.5 692l5.9 2.1 3.9-2.8-5.8-2.3zM948.3 711.1l5.9 2.1 3.9-2.6-5.9-2.4zM982.7 708l5.9 2.7 3.9-2.8-5.8-2.6z" fill="#402bb8"/>
<path d="M931 712.2l5.9 2.3 3.9-3.1-5.8-2.3z" fill="#422ebf"/>
<path d="M939.7 711.5l6.2-0.8 3.6 0.4-6.1-1.8z" fill="#4434ce"/>
<path d="M956.9 710.7l5.9 1.6 3.9-2.7-5.9-1.8z" fill="#402bb8"/>
<path d="M965.5 709.8l6.3-1 3.5 0.5-5.9-2.5z" fill="#4331c7"/>
<path d="M974.1 709.4l5.9 1.6 3.9-3-5.8-2.6z" fill="#422ebf"/>
<path d="M991.4 708l6.2-0.7 3.6-0.1-6-2.4z" fill="#4331c7"/>
<path d="M1000 707.2l5.9 1.6 3.9-2.8-5.9-1.9z" fill="#402bb8"/>
<path d="M1008.6 706.1l5.9 2 3.9-2.4-5.9-2.7zM1017.2 705.8l6 0.8 3.8-1.9-5.9-2z" fill="#422ebf"/>
<path d="M1025.8 704.8l5.9 2.5 3.9-3.4-5.9-1.7zM1034.4 704l5.9 2.7 3.9-3.7-5.8-1.7zM1077.5 701l5.9 2.3 3.9-2.9-5.8-2.6zM1051.7 702.9l5.9 2 3.9-2.9-5.9-2.2z" fill="#402bb8"/>
<path d="M1068.9 701.9l6.1 0.1 3.7-1.1-5.9-2.1z" fill="#422ebf"/>
<path d="M1129.2 697l5.9 2.1 3.9-2.9-5.8-2.3z" fill="#402bb8"/>
<path d="M1146.5 695.4l6 0.6 3.8-1.1-6-2.3zM1099.8 698.5l5.8 5 4-2.9-5.9-2.6z" fill="#4331c7"/>
<path d="M1117.1 700l5.8 1.7 3.9-4.2-5.9-0.2z" fill="#422ebf"/>
<path d="M1160.1 696.6l6 1.8 3.8-2.4-5.8-2.2z" fill="#402bb8"/>
<path d="M1177.4 693.4l5.8 3.6 4-3-6-1.7z" fill="#4331c7"/>
<path d="M1082.6 702.8l5.9 1.9 3.9-2.7-5.9-2.1zM979.2 710.5l5.9 2.1 3.9-2.5-5.9-2.6z" fill="#402bb8"/>
<path d="M1022.3 706.1l5.8 3.5 4-2.9-5.9-2.5z" fill="#422ebf"/>
<path d="M1039.5 706.3l5.9 1.3 3.9-5-5.9 0z" fill="#4331c7"/>
<path d="M1056.7 704.3l5.9 2.6 3.9-3.2-5.8-2.3z" fill="#402bb8"/>
<path d="M936.1 714.1l5.8 2.2 3.9-5.9-5.8 0.5z" fill="#4434ce"/>
<path d="M944.8 710.5l5.7 5.1 4-2.9-5.9-2.1z" fill="#4331c7"/>
<path d="M953.3 712.7l5.9 2.1 3.9-3.2-5.9-1.5z" fill="#402bb8"/>
<path d="M987.8 710.2l5.8 1.9 4-5.2-6 0.5z" fill="#4331c7"/>
<path d="M962 711.8l5.8 1.9 3.9-5.2-5.9 0.6z" fill="#4434ce"/>
<path d="M970.6 708.6l5.8 5 4-3.2-6-1.6zM996.4 707l5.9 4 3.9-2.7-6-1.7z" fill="#4331c7"/>
<path d="M1005 708.3l5.9 2.2 3.9-3-5.8-2z" fill="#402bb8"/>
<path d="M1013.7 707.6l5.8 2.6 3.9-4.2-5.9-0.8z" fill="#422ebf"/>
<path d="M1030.9 706.8l5.9 1.6 3.9-2.3-5.9-2.7z" fill="#402bb8"/>
<path d="M1074 701.5l5.8 3.9 4-2.6-5.9-2.4z" fill="#422ebf"/>
<path d="M1048.1 702.7l5.9 4.3 3.9-2.7-5.9-2z" fill="#4331c7"/>
<path d="M1065.4 703.9l5.8 2.1 3.9-4.6-5.9-0.2z" fill="#422ebf"/>
<path d="M1091.2 702.2l5.9 1.5 3.8-5.3-5.9 1z" fill="#4331c7"/>
<path d="M1108.4 700.6l5.9 1.9 3.9-2.7-5.8-2.2z" fill="#402bb8"/>
<path d="M1125.7 697.6l5.8 3.3 4-2.4-6-2.1z" fill="#422ebf"/>
<path d="M1134.3 698.5l5.9 2.1 3.9-2.7-5.9-2.2z" fill="#402bb8"/>
<path d="M1142.9 698.1l5.9 1.7 3.9-4.4-5.9-0.7z" fill="#422ebf"/>
<path d="M1151.5 695.5l5.9 3 3.9-1.9-5.9-2.2z" fill="#4331c7"/>
<path d="M1168.8 696.2l5.8 1.8 3.9-4.7-5.9-0.3z" fill="#422ebf"/>
<path d="M1186 694.1l5.9 2.5 3.9-3.1-5.9-2.1zM1079 704.9l6 1.6 3.8-2.4-5.9-1.9z" fill="#402bb8"/>
<path d="M941.2 715.9l5.8 1.4 4-2.2-5.8-5z" fill="#4331c7"/>
<path d="M975.6 713.1l5.9 1.6 3.9-2.7-5.8-2.1zM984.3 712l5.8 2.5 4-3-5.9-2z" fill="#402bb8"/>
<path d="M1018.7 709.7l5.9 1.5 3.9-2.2-5.8-3.4z" fill="#422ebf"/>
<path d="M1027.3 709.1l6 1.4 3.8-2.7-5.9-1.6zM1036 707.9l5.8 2.1 4-3-6-1.4zM1053.2 706.5l5.9 1.8 3.9-2-5.9-2.6z" fill="#402bb8"/>
<path d="M1070.4 705.5l5.9 1.9 3.9-2.6-5.8-3.8z" fill="#422ebf"/>
<path d="M1096.3 703.3l5.8 2.1 4-2.4-5.8-4.9z" fill="#4331c7"/>
<path d="M1104.9 703.1l6 0.4 3.8-1.6-5.9-1.9z" fill="#422ebf"/>
<path d="M1113.5 702l5.9 1.7 3.9-2.6-5.9-1.8z" fill="#402bb8"/>
<path d="M1122.1 701.3l5.9 2.3 3.9-3.3-5.8-3.2z" fill="#422ebf"/>
<path d="M1130.7 700.4l5.9 2.6 3.9-3-5.8-2.1z" fill="#402bb8"/>
<path d="M1148 699.4l5.8 2 4-3.5-5.8-2.9z" fill="#4331c7"/>
<path d="M1156.6 697.9l5.9 2.9 3.9-3-5.9-1.8z" fill="#422ebf"/>
<path d="M1165.2 697.9l5.9 2.1 3.9-2.6-5.9-1.9z" fill="#402bb8"/>
<path d="M1173.8 697.6l5.9 1.5 3.9-2.7-5.8-3.5z" fill="#4331c7"/>
<path d="M1182.4 696.5l5.9 1.8 3.9-2.3-5.8-2.5zM949.8 715.1l5.9 1.5 3.9-2.4-5.9-2.1zM958.4 714.3l5.9 2 3.9-3.2-5.9-1.9z" fill="#402bb8"/>
<path d="M992.9 711.6l5.8 2.2 4-3.4-5.8-3.9zM967 713.2l5.9 2.2 3.9-2.3-5.8-4.9z" fill="#4331c7"/>
<path d="M1001.5 710.5l5.8 2.5 4-3.1-5.9-2.2zM1010.1 710l5.9 2.1 3.9-2.5-5.9-2.6zM1087.7 704.2l5.9 1.3 3.9-2.4-6-1.6z" fill="#402bb8"/>
<path d="M1044.6 707.1l5.8 2.2 4-2.8-5.8-4.2z" fill="#4331c7"/>
<path d="M1061.8 706.4l5.9 1.4 3.9-2.4-5.9-2.2zM1139.4 700.1l5.9 1.3 3.9-2.2-6-1.8zM1075.5 706.9l5.9 2 3.9-3-5.9-1.6z" fill="#402bb8"/>
<path d="M1110 703.1l6.2-0.1 3.6 0.2-6.1-1.7z" fill="#4434ce"/>
<path d="M1127.2 703.1l5.9 2.1 3.9-2.8-5.9-2.6z" fill="#402bb8"/>
<path d="M1153 700.9l5.9 2.2 3.9-2.9-5.8-2.8z" fill="#422ebf"/>
<path d="M1170.3 699.5l5.9 2 3.9-3.1-5.9-1.5z" fill="#402bb8"/>
<path d="M1032.4 710l6.1 0.5 3.7-1.1-5.9-2z" fill="#4331c7"/>
<path d="M1092.7 705l5.9 2.5 3.9-2.7-5.9-2.2z" fill="#422ebf"/>
<path d="M946.2 716.7l5.9 2.6 3.9-3.3-5.9-1.5zM972.1 714.9l5.9 2.4 3.9-3.2-5.9-1.6z" fill="#402bb8"/>
<path d="M980.7 714.2l6.2 0.2 3.6-0.5-5.9-2.4z" fill="#4331c7"/>
<path d="M989.3 713.9l5.9 2.1 3.9-2.9-5.8-2.1zM1015.2 711.6l5.8 2.2 4-3.2-5.9-1.6zM1023.8 710.7l5.9 2.3 3.9-3.2-5.9-1.3z" fill="#402bb8"/>
<path d="M1049.6 708.8l5.9 2 3.9-3.2-5.8-1.7z" fill="#422ebf"/>
<path d="M1066.9 707.3l5.8 2.7 4-3.2-5.9-1.9z" fill="#402bb8"/>
<path d="M954.9 716.1l6.1 0.3 3.7-0.7-6-2z" fill="#4331c7"/>
<path d="M963.5 715.8l5.8 2.1 4-3.1-5.9-2.2zM997.9 713.2l5.9 2.2 3.9-3-5.8-2.5z" fill="#402bb8"/>
<path d="M1006.6 712.6l6.2-0.6 3.6-0.5-6-2.1zM1084.1 706.1l6.1 0.3 3.7-1.5-6-1.3z" fill="#4331c7"/>
<path d="M1041 709.5l5.9 2 3.9-2.8-5.8-2.2z" fill="#402bb8"/>
<path d="M1058.3 707.8l6 0.8 3.8-1.3-6-1.5z" fill="#4331c7"/>
<path d="M1101.3 704.9l5.9 1.8 3.9-3.8-5.9-0.5z" fill="#422ebf"/>
<path d="M1118.6 703.1l5.8 2.6 4-2.7-5.9-2.4z" fill="#402bb8"/>
<path d="M1135.8 702.6l6.2-0.9 3.6-0.8-6-1.4z" fill="#4331c7"/>
<path d="M1144.4 700.9l5.9 2.8 3.9-2.9-5.9-2.1z" fill="#402bb8"/>
<path d="M1161.7 700.3l6.1-0.2 3.7-0.7-6-2.1z" fill="#4331c7"/>
<path d="M1178.9 698.5l5.9 2.4 3.9-3.2-5.9-1.8zM1071.9 709.5l5.9 1.8 3.9-3-5.8-2z" fill="#402bb8"/>
<path d="M1028.9 712.5l5.8 1.9 3.9-4.5-5.9-0.5zM1089.2 705.9l5.8 4 4-2.9-5.9-2.6z" fill="#4331c7"/>
<path d="M968.5 717.4l6 1.6 3.8-2.3-5.8-2.4z" fill="#402bb8"/>
<path d="M951.3 718.8l5.8 2 4-5-5.9-0.3zM959.9 715.9l5.9 4.2 3.9-2.7-5.9-2.2zM977.2 716.9l5.9 0.8 3.8-3.8-5.9-0.3zM985.8 713.9l5.8 4.2 4-2.6-6-2.1z" fill="#4331c7"/>
<path d="M994.4 715.5l5.9 1.9 3.9-2.6-5.9-2.2z" fill="#402bb8"/>
<path d="M1003 715l5.9 0.8 3.9-4.3-6 0.4zM1011.6 711.6l5.9 4.6 3.9-3-5.9-2.2z" fill="#4331c7"/>
<path d="M1020.2 713.3l5.9 1.8 3.9-2.7-5.8-2.3zM1046.1 711l5.9 2.3 3.9-3.1-5.9-2z" fill="#402bb8"/>
<path d="M1063.3 708l5.9 4.1 3.9-2.6-5.9-2.8zM1080.6 708.4l5.8 1.9 3.9-4.5-5.9-0.4z" fill="#4331c7"/>
<path d="M1106.4 706.3l5.8 2.3 4-6-5.9-0.1zM1115.1 702.6l5.8 4.9 3.9-2.2-5.9-2.7z" fill="#4434ce"/>
<path d="M1123.6 705.2l5.9 1.9 3.9-2.5-5.8-2.2z" fill="#402bb8"/>
<path d="M1132.3 704.8l5.8 1.9 3.9-5.5-5.9 0.7zM1140.9 701.3l5.8 4.7 4-2.8-5.9-2.8z" fill="#4331c7"/>
<path d="M1149.5 703.1l5.9 2.3 3.9-2.9-5.9-2.2z" fill="#402bb8"/>
<path d="M1158.1 702.6l5.9 1.6 3.9-4.6-5.9 0.1zM1166.7 699.7l5.9 3.9 3.9-2.7-5.9-2z" fill="#4331c7"/>
<path d="M1175.3 701l5.9 2.3 3.9-3-5.8-2.4z" fill="#402bb8"/>
<path d="M1037.5 710l5.8 4.2 4-3.3-5.9-2z" fill="#4331c7"/>
<path d="M1097.8 707l5.9 2.2 3.9-3.2-5.9-1.7z" fill="#402bb8"/>
<path d="M1054.7 710.3l5.8 2.3 4-4.6-5.9-0.8z" fill="#4331c7"/>
<path d="M1068.4 711.6l5.9 1.9 3.9-2.8-5.9-1.8z" fill="#402bb8"/>
<path d="M1085.6 709.8l5.9 2 3.9-2.5-5.8-3.9z" fill="#4331c7"/>
<path d="M1120.1 706.9l5.9 2.4 3.9-2.8-5.9-1.9z" fill="#402bb8"/>
<path d="M1137.3 706.3l5.9 2 3.9-2.8-5.8-4.6z" fill="#4331c7"/>
<path d="M1145.9 705.5l6 1.7 3.8-2.3-5.8-2.4z" fill="#402bb8"/>
<path d="M1163.2 703.7l5.8 2.1 4-2.7-5.8-3.9z" fill="#4331c7"/>
<path d="M965 719.6l5.9 1.5 3.9-2.8-5.9-1.5zM1025.3 714.5l5.9 2.6 3.9-3.3-5.9-2zM1042.5 713.7l5.9 2 3.9-3-5.8-2.3z" fill="#402bb8"/>
<path d="M1102.9 708.7l6 0.8 3.8-1.4-5.9-2.5z" fill="#422ebf"/>
<path d="M956.4 720.3l5.8 1.8 4-2.5-5.8-4.1z" fill="#4331c7"/>
<path d="M973.6 718.5l5.9 2.4 3.9-3.9-5.9-0.8z" fill="#422ebf"/>
<path d="M982.2 717.1l5.9 3.1 3.9-2.6-5.8-4.1z" fill="#4331c7"/>
<path d="M990.8 717.6l6 1.5 3.8-2.3-5.9-1.9z" fill="#402bb8"/>
<path d="M999.5 716.9l5.9 1.7 3.9-3.4-6-0.9z" fill="#422ebf"/>
<path d="M1008.1 715.3l5.8 3.1 4-2.7-5.8-4.5z" fill="#4331c7"/>
<path d="M1016.7 715.8l5.9 1.1 3.9-2.4-5.9-1.8z" fill="#402bb8"/>
<path d="M1059.8 712.2l5.8 1.8 4-2.4-5.8-4z" fill="#4331c7"/>
<path d="M1077 710.8l5.9 2 3.9-3.2-5.9-1.8z" fill="#402bb8"/>
<path d="M1033.9 713.9l5.9 2.3 3.9-2.5-5.8-4.2z" fill="#4331c7"/>
<path d="M1094.2 709.3l5.9 2.4 3.9-3.1-5.8-2.2zM1051.2 712.8l5.8 1.9 4-2.7-5.9-2.3z" fill="#402bb8"/>
<path d="M1111.5 708.2l5.8 1.9 4-3.2-5.8-4.6z" fill="#4434ce"/>
<path d="M1128.7 706.6l5.9 2.2 3.9-2.7-5.9-2zM1154.6 705l5.9 1.2 3.9-2.6-5.9-1.6zM1171.8 703.1l5.9 2.2 3.9-2.6-5.9-2.4zM1142.4 707.8l5.9 1.5 3.9-2.7-5.9-1.7zM1064.8 713.5l5.9 2.1 3.9-2.7-5.9-1.9zM1082.1 712.4l5.9 1.7 3.9-3-5.9-2zM961.4 721.5l5.9 1.9 3.9-2.9-5.9-1.5z" fill="#402bb8"/>
<path d="M970.1 720.7l6.1-0.1 3.7-0.3-6-2.4z" fill="#4331c7"/>
<path d="M1004.5 718.1l5.9 2.4 3.9-2.6-5.8-3.2z" fill="#422ebf"/>
<path d="M1021.8 716.4l6.1 0.7 3.7-0.5-6-2.6z" fill="#4331c7"/>
<path d="M1039 715.7l5.9 1.9 3.9-2.5-5.9-2z" fill="#402bb8"/>
<path d="M1099.3 711.4l6.2-0.9 3.6-1.5-6-0.9z" fill="#4331c7"/>
<path d="M978.7 720.4l5.8 2.1 4-2.9-5.8-3.1z" fill="#422ebf"/>
<path d="M987.3 719.7l5.8 2.3 4-3.5-5.9-1.5z" fill="#402bb8"/>
<path d="M995.9 718.7l6 1.4 3.8-2.1-5.9-1.7z" fill="#422ebf"/>
<path d="M1013.1 717.9l5.9 1.9 3.9-3.6-5.9-1.1zM1056.2 714.1l5.9 2.3 3.9-3-5.9-1.9z" fill="#402bb8"/>
<path d="M1073.5 713.1l6.2-0.9 3.6 0.1-6-2z" fill="#4331c7"/>
<path d="M1090.7 711.2l5.9 2.2 3.9-2.2-5.9-2.5zM1116.5 709.6l5.9 1.8 3.9-2.7-5.8-2.4z" fill="#402bb8"/>
<path d="M1125.2 708.9l6.2-1.6 3.6 1-6-2.3z" fill="#4434ce"/>
<path d="M1133.8 708.3l5.9 1.6 3.9-2.2-5.9-2.1z" fill="#402bb8"/>
<path d="M1151 706.7l6.1 0.6 3.7-1.7-6-1.2zM1159.6 705.6l5.9 2.3 3.9-2.7-5.9-2.1z" fill="#422ebf"/>
<path d="M1168.2 705.3l5.9 2.4 3.9-3-5.8-2.2zM1030.4 716.7l5.9 1.7 3.9-2.8-5.9-2.3z" fill="#402bb8"/>
<path d="M1047.6 715.2l6.2-0.4 3.6-0.7-5.9-1.9z" fill="#4331c7"/>
<path d="M1107.9 709l5.9 3.5 3.9-3-5.9-2z" fill="#422ebf"/>
<path d="M1018.2 719.4l5.9 1.8 3.9-4.7-5.9-0.7z" fill="#4331c7"/>
<path d="M1061.3 715.9l5.9 1.8 3.9-2.7-5.9-2.1z" fill="#402bb8"/>
<path d="M1078.5 711.9l5.9 4.5 3.9-2.8-6-1.8zM1095.8 712.9l5.8 2.5 3.9-5.5-5.9 0.8z" fill="#4331c7"/>
<path d="M1130.3 707.3l5.7 5.4 4-3.3-6-1.6z" fill="#4434ce"/>
<path d="M1138.8 709.4l5.9 2.5 3.9-3.2-5.9-1.6z" fill="#402bb8"/>
<path d="M1147.5 708.8l5.8 1.9 3.9-4-5.9-0.6zM1156.1 706.8l5.8 3.9 4-3.4-5.9-2.2zM966.5 723l5.8 2.6 4-5.5-5.9-0.1zM975.1 720.2l5.9 4.6 3.9-2.8-5.9-2.2z" fill="#4331c7"/>
<path d="M1001 719.5l5.9 2.6 3.9-2.2-5.9-2.4z" fill="#422ebf"/>
<path d="M1009.6 720l5.9 1.9 3.9-2.7-5.9-1.9zM1035.4 717.9l5.9 1.9 3.9-2.8-5.8-1.9z" fill="#402bb8"/>
<path d="M1052.7 714.3l5.8 4 4-2.4-6-2.3z" fill="#4331c7"/>
<path d="M1113 712l5.9 1.8 3.9-3-5.9-1.8zM983.7 722l6 1.7 3.8-2.3-5.8-2.3z" fill="#402bb8"/>
<path d="M992.4 721.6l5.8 1.5 4-3.7-5.9-1.4z" fill="#422ebf"/>
<path d="M1069.9 715.1l5.9 1.5 3.9-4.7-6 0.6z" fill="#4331c7"/>
<path d="M1087.1 713.6l5.9 2.1 3.9-2.9-5.8-2.2z" fill="#402bb8"/>
<path d="M1026.8 716.6l5.9 4.2 3.9-3-5.9-1.7zM1044.1 717.2l5.8 2 3.9-5-5.9 0.4zM1104.4 710l5.8 4.3 4-2.3-5.9-3.5z" fill="#4331c7"/>
<path d="M1121.6 711l5.8 2.3 3.9-6.1-5.9 1.1z" fill="#4434ce"/>
<path d="M1164.7 707.3l5.9 2.1 3.9-2.3-5.9-2.4zM1135.3 712.2l5.9 2 3.9-2.9-5.9-2.5z" fill="#402bb8"/>
<path d="M1152.5 710.2l5.9 2.3 3.9-2.3-5.8-3.9z" fill="#422ebf"/>
<path d="M1057.7 717.8l5.9 2.3 3.9-3-5.9-1.8zM1014.7 721.4l5.8 2 4-2.9-5.9-1.8z" fill="#402bb8"/>
<path d="M1075 716.1l5.8 2.5 4-2.7-5.8-4.4z" fill="#4434ce"/>
<path d="M1092.2 715.1l5.9 2.3 3.9-2.6-5.9-2.5z" fill="#402bb8"/>
<path d="M971.6 725.1l5.8 1.4 4-2.2-5.8-4.6z" fill="#4331c7"/>
<path d="M980.2 724.3l5.9 1.8 3.9-3-5.9-1.7z" fill="#402bb8"/>
<path d="M997.4 722.6l5.9 2.1 3.9-3.2-5.8-2.5z" fill="#422ebf"/>
<path d="M1006 721.5l5.9 2.3 3.9-2.5-5.9-1.9zM1031.9 720.3l5.9 1.8 3.9-2.9-5.9-1.9z" fill="#402bb8"/>
<path d="M1049.1 718.8l5.9 1.7 3.9-2.7-5.8-3.9z" fill="#4331c7"/>
<path d="M1109.4 713.8l6 1.3 3.8-1.9-5.9-1.8z" fill="#422ebf"/>
<path d="M988.8 723.2l5.9 2.4 3.9-3.1-5.9-1.6z" fill="#402bb8"/>
<path d="M1023.3 720.7l5.8 1.9 4-2.4-5.8-4.1z" fill="#4331c7"/>
<path d="M1066.4 717.2l5.8 2 4-3.3-5.9-1.4z" fill="#422ebf"/>
<path d="M1083.6 715.9l5.9 1.8 3.9-2.6-5.9-2.1z" fill="#402bb8"/>
<path d="M1100.8 715l5.9 1.6 3.9-2.9-5.8-4.1z" fill="#4331c7"/>
<path d="M1126.7 712.8l5.8 1.9 4-2.5-5.8-5.3z" fill="#4434ce"/>
<path d="M1143.9 711.4l5.9 2 3.9-3.3-5.9-1.9zM1161.1 710.3l5.9 1.7 3.9-3.2-5.8-2.1zM1040.5 719.3l5.9 2.1 3.9-2.8-5.9-2.1zM1118.1 713.3l5.8 2 4-2.6-5.9-2.4zM1054.2 719.9l5.9 2.1 3.9-2.5-5.9-2.3zM993.9 725.2l5.8 1.9 4-3-5.9-2.1z" fill="#402bb8"/>
<path d="M1011.1 723.4l6.2-0.3 3.6-0.2-6-2.1z" fill="#4331c7"/>
<path d="M1028.3 722.1l5.9 2 3.9-2.6-5.9-1.9z" fill="#402bb8"/>
<path d="M1071.4 718.7l5.9 2.2 3.9-2.9-5.8-2.5z" fill="#422ebf"/>
<path d="M1088.7 717.3l6.2-1.2 3.6 0.8-6-2.3z" fill="#4434ce"/>
<path d="M1105.9 716.2l5.9 1.9 3.9-3.6-5.9-1.3z" fill="#422ebf"/>
<path d="M1131.7 714.2l5.9 2 3.9-2.6-5.9-2.1z" fill="#402bb8"/>
<path d="M1140.4 713.7l6.1-0.2 3.7-0.7-6-2z" fill="#4331c7"/>
<path d="M1149 712.9l5.9 1.7 3.9-2.7-5.9-2.3zM1157.6 712l5.9 1.9 3.9-2.5-5.9-1.8zM976.6 725.9l5.9 2.5 3.9-2.9-5.9-1.8z" fill="#402bb8"/>
<path d="M985.3 725.7l6.2-1.1 3.6 0.6-6-2.6z" fill="#4434ce"/>
<path d="M1002.5 724.2l5.9 2.2 3.9-3.2-5.9-2.3z" fill="#422ebf"/>
<path d="M1045.6 720.9l5.9 2.1 3.9-3.2-5.9-1.7z" fill="#402bb8"/>
<path d="M1062.8 719.6l6 0.8 3.8-1.8-5.9-2z" fill="#422ebf"/>
<path d="M1123.1 714.8l5.9 1.8 3.9-2.5-5.9-2zM1019.7 722.9l5.9 1.8 3.9-2.7-5.9-2zM1080 718.1l5.9 2.3 3.9-3.3-5.8-1.8zM1097.3 716.9l5.9 1.9 3.9-2.8-5.9-1.7z" fill="#402bb8"/>
<path d="M1037 721.7l6.2-0.8 3.6 0-6-2.2zM1114.5 714.6l6.2 0.5 3.6-0.3-6-2.1zM1145.4 713l5.9 4.4 3.9-3.4-5.9-1.7z" fill="#4331c7"/>
<path d="M1050.6 722.5l5.9 2.1 3.9-3.3-5.8-2z" fill="#402bb8"/>
<path d="M1067.9 719.9l5.8 3.4 4-3-5.9-2.2z" fill="#422ebf"/>
<path d="M1128.2 716l5.9 2.5 3.9-2.9-5.9-2z" fill="#402bb8"/>
<path d="M990.3 724.4l5.9 3.9 3.9-1.7-6-2z" fill="#4434ce"/>
<path d="M998.9 726.6l5.9 2 3.9-2.8-5.8-2.2z" fill="#402bb8"/>
<path d="M1007.6 726l5.8 1.7 3.9-5.1-5.9 0.1z" fill="#4331c7"/>
<path d="M1024.8 724.2l5.9 2.3 3.9-3-5.9-2z" fill="#402bb8"/>
<path d="M1085.1 720l5.9 1.4 3.8-5.5-5.8 0.7z" fill="#4434ce"/>
<path d="M1102.3 718.3l5.9 2.2 3.9-3.1-5.8-1.9z" fill="#402bb8"/>
<path d="M981.7 728l5.8 2.1 3.9-5.8-5.9 0.8zM1042 720.6l5.9 4.6 3.9-2.8-5.9-2.1z" fill="#4331c7"/>
<path d="M1059.3 721.5l5.9 1.6 3.9-3.3-6-0.8z" fill="#422ebf"/>
<path d="M1119.6 714.6l5.8 4.7 4-3.3-6-1.8zM1016.2 722.7l5.9 3.8 3.9-2.3-6-1.8zM1033.4 723.6l5.8 2.3 4-5.4-6 0.6z" fill="#4331c7"/>
<path d="M1076.5 720.4l5.9 2.4 3.9-3-5.9-2.3z" fill="#402bb8"/>
<path d="M1093.8 715.9l5.8 5 3.9-2.6-6-2zM1111 717.6l5.8 1.9 3.9-4.9-5.8-0.6z" fill="#4434ce"/>
<path d="M1136.8 715.7l5.9 1.6 3.9-4.4-6 0.2z" fill="#4331c7"/>
<path d="M1154 714l5.9 2.6 3.9-3.3-5.8-1.9zM1047.1 724.7l5.9 2.1 3.9-2.8-5.9-2.2z" fill="#402bb8"/>
<path d="M1064.3 722.6l5.9 2.6 3.9-2.5-5.8-3.3z" fill="#422ebf"/>
<path d="M1124.6 718.8l5.9 1.9 3.9-2.8-5.8-2.4z" fill="#402bb8"/>
<path d="M986.8 729.7l5.8 1.5 4-3.5-5.8-3.7z" fill="#4434ce"/>
<path d="M995.4 727.7l5.9 2.5 3.9-2.2-5.9-2z" fill="#422ebf"/>
<path d="M1004 728.1l5.9 1.9 3.9-3-5.9-1.7z" fill="#402bb8"/>
<path d="M1021.2 725.9l5.9 2.8 3.9-2.7-5.8-2.4z" fill="#422ebf"/>
<path d="M1038.5 725.5l5.8 2.1 4-3-5.8-4.4z" fill="#4331c7"/>
<path d="M1081.6 722.3l5.8 1.9 4-3.5-5.9-1.4zM1098.8 720.4l5.9 2.3 3.9-2.8-5.9-2.2z" fill="#402bb8"/>
<path d="M1116 719.1l5.9 2.3 3.9-2.6-5.8-4.6zM1141.9 716.8l5.8 2.7 4-2.7-5.8-4.2z" fill="#4331c7"/>
<path d="M1150.5 716.9l5.9 1.5 3.9-2.4-5.9-2.6z" fill="#402bb8"/>
<path d="M1055.7 724.1l5.9 1.8 3.9-3.5-5.9-1.5z" fill="#422ebf"/>
<path d="M1072.9 722.8l6 1.6 3.8-2.1-5.8-2.5zM1133.3 718l5.8 1.8 4-3.1-5.9-1.6z" fill="#402bb8"/>
<path d="M1012.6 727.2l5.9 2.1 3.9-3.4-5.8-3.6z" fill="#4434ce"/>
<path d="M1029.9 726l5.8 2.1 4-2.8-5.9-2.3z" fill="#402bb8"/>
<path d="M1090.2 721l5.8 2.4 4-3-5.8-4.8z" fill="#4434ce"/>
<path d="M1107.4 720l5.9 2.3 3.9-3.4-5.9-2zM1043.5 727.1l5.9 1.9 3.9-2.8-5.8-2.1zM1121.1 720.8l5.9 1.7 3.9-2.4-5.9-2z" fill="#402bb8"/>
<path d="M1000.5 729.7l6.2-0.1 3.6-0.1-6-2z" fill="#4434ce"/>
<path d="M1060.8 725.4l5.9 1.9 3.9-2.7-5.9-2.6z" fill="#422ebf"/>
<path d="M1078 723.9l6.3-0.5 3.5 0.2-6-1.8z" fill="#4331c7"/>
<path d="M1138.3 719.2l5.9 2.2 3.9-2.4-5.8-2.8z" fill="#402bb8"/>
<path d="M991.8 730.7l5.9 2.3 3.9-3.4-5.8-2.4zM1017.7 728.7l5.8 2.6 4-3.2-5.8-2.8z" fill="#422ebf"/>
<path d="M1034.9 727.6l5.9 1.9 3.9-2.5-5.9-2.2zM1095.2 722.9l5.9 2 3.9-2.8-5.8-2.3zM1112.5 721.8l5.9 1.6 3.9-2.7-5.9-2.3z" fill="#402bb8"/>
<path d="M1052.2 726.3l6.1 0.2 3.7-1.2-6-1.8z" fill="#4331c7"/>
<path d="M1069.4 724.7l5.8 2.5 4-3.4-5.9-1.6z" fill="#402bb8"/>
<path d="M1129.7 720.2l6.3-0.8 3.5-0.2-6-1.8z" fill="#4331c7"/>
<path d="M1009.1 729.5l5.8 2.3 4-3.2-5.9-2.1z" fill="#402bb8"/>
<path d="M1026.3 728.2l6.2-0.4 3.6-0.2-5.9-2.1z" fill="#4331c7"/>
<path d="M1086.6 723.7l5.9 1.5 3.9-2.4-5.8-2.5z" fill="#402bb8"/>
<path d="M1103.9 722.3l6.2-1.3 3.6 0.8-6-2.3z" fill="#4331c7"/>
<path d="M1146.9 719l5.9 2.1 3.9-3.3-5.9-1.6zM1040 729l5.9 2.3 3.9-2.9-5.9-1.9zM1117.5 722.9l5.9 2.4 3.9-3.4-5.8-1.7z" fill="#402bb8"/>
<path d="M996.9 732.5l5.8 2.4 4-5.8-5.9 0zM1057.2 726l5.9 3.9 3.9-3.2-5.9-1.9zM1074.5 726.8l5.8 2 3.9-5.7-5.9 0.2z" fill="#4331c7"/>
<path d="M1134.8 719.1l5.8 4.1 4-2.3-6-2.2z" fill="#4434ce"/>
<path d="M1014.1 731.3l5.9 2.2 3.9-2.8-5.8-2.6z" fill="#402bb8"/>
<path d="M1031.4 727.4l5.8 3.9 4-2.3-6-2zM1048.6 728.5l5.9 1.9 3.9-4.5-5.9-0.2z" fill="#4331c7"/>
<path d="M1065.8 726.7l5.9 2.1 3.9-2.1-5.8-2.6z" fill="#402bb8"/>
<path d="M1083.1 723.2l5.8 4.5 4-3-6-1.6z" fill="#4331c7"/>
<path d="M1091.7 724.7l5.9 2.1 3.9-2.5-5.9-2z" fill="#402bb8"/>
<path d="M1108.9 720.9l5.9 4.3 3.9-2.3-6-1.6zM1126.2 722.1l5.8 2 3.9-5.1-5.9 0.6z" fill="#4434ce"/>
<path d="M1143.4 720.8l5.9 2.3 3.9-2.6-5.9-2.1z" fill="#402bb8"/>
<path d="M1005.5 729.2l5.9 4.5 3.9-2.4-5.9-2.4zM1022.8 730.9l5.8 0.9 3.9-4.4-5.9 0.2z" fill="#4331c7"/>
<path d="M1100.3 724.5l5.8 1.8 4-5.4-6 0.8z" fill="#4434ce"/>
<path d="M1036.4 730.7l5.9 2.6 3.9-2.5-5.8-2.4z" fill="#402bb8"/>
<path d="M1053.7 729.9l5.8 2.4 4-3-5.8-3.8z" fill="#4331c7"/>
<path d="M1070.9 728.3l5.9 2 3.9-2.1-5.9-2.1zM1088.1 727.2l5.9 2 3.9-3.1-5.8-2z" fill="#402bb8"/>
<path d="M1114 724.6l5.9 2.4 3.9-2.3-5.9-2.4z" fill="#422ebf"/>
<path d="M1131.2 723.7l5.9 2 3.9-3-5.8-4z" fill="#4434ce"/>
<path d="M1010.6 733.1l5.9 1.8 3.9-1.9-5.9-2.3z" fill="#402bb8"/>
<path d="M1027.8 731.3l5.8 2.8 4-3.4-5.8-3.7z" fill="#4331c7"/>
<path d="M1045.1 730.8l5.8 2 4-3-5.9-2z" fill="#402bb8"/>
<path d="M1105.4 725.8l5.8 2 4-3.2-5.8-4.1z" fill="#4434ce"/>
<path d="M1122.6 724.8l5.9 1.9 3.9-3.2-5.9-2.1z" fill="#402bb8"/>
<path d="M1002 734.5l5.8 1.9 4-3.3-5.8-4.3z" fill="#4331c7"/>
<path d="M1019.2 733.1l5.9 1.1 3.9-3.1-5.9-0.9z" fill="#422ebf"/>
<path d="M1062.3 729.4l5.9 1.7 3.9-2.9-5.9-2z" fill="#402bb8"/>
<path d="M1079.5 728.4l5.9 1.6 3.9-2.9-5.8-4.4z" fill="#4331c7"/>
<path d="M1096.8 726.2l5.8 2.6 4-3.2-5.9-1.8zM1139.8 722.7l5.9 2.7 3.9-2.9-5.8-2.2zM1032.9 733.6l5.9 2.1 3.9-3-5.9-2.6zM1050.1 732.3l5.9 1.7 3.9-2.3-5.8-2.4z" fill="#402bb8"/>
<path d="M1110.4 727.3l5.9 2 3.9-2.9-5.8-2.3z" fill="#422ebf"/>
<path d="M1127.7 726.2l5.9 1.9 3.9-3.1-5.9-2zM1007 735.9l5.9 1.8 3.9-3.4-5.8-1.7z" fill="#402bb8"/>
<path d="M1024.3 733.7l5.8 2.5 4-2.7-5.9-2.8z" fill="#422ebf"/>
<path d="M1041.5 732.8l6.2 0.1 3.6-0.6-5.9-2.1z" fill="#4331c7"/>
<path d="M1058.7 731.8l5.9 1.7 3.9-3.1-5.8-1.7z" fill="#402bb8"/>
<path d="M1067.4 730.6l6.1-0.2 3.7-0.6-6-2.1z" fill="#4331c7"/>
<path d="M1076 729.8l5.9 2.4 3.9-2.8-5.9-1.7zM1084.6 729.5l5.9 1.7 3.9-2.6-5.9-2.1z" fill="#402bb8"/>
<path d="M1093.2 728.8l6.3-0.9 3.5 0.4-5.9-2.6z" fill="#4434ce"/>
<path d="M1101.8 728.3l5.9 1.6 3.9-2.7-5.9-2.1z" fill="#402bb8"/>
<path d="M1119.1 726.5l6.1 0.5 3.7-0.8-6-2z" fill="#4331c7"/>
<path d="M1136.3 725.2l5.9 2 3.9-2.3-5.9-2.8z" fill="#422ebf"/>
<path d="M1015.7 734.5l6 0.7 3.8-1.6-6.1-1.1z" fill="#4331c7"/>
<path d="M1029.3 735.7l5.9 2.1 3.9-2.7-5.8-2.1z" fill="#402bb8"/>
<path d="M1046.6 732.4l5.8 3.7 4-2.7-6-1.6z" fill="#4331c7"/>
<path d="M1063.8 733.1l5.9 1.3 3.9-4.6-5.9 0.2z" fill="#4434ce"/>
<path d="M1081 731.7l5.9 2 3.9-3.1-5.9-1.7z" fill="#402bb8"/>
<path d="M1098.3 727.7l5.8 4.4 4-2.7-6-1.7z" fill="#4434ce"/>
<path d="M1106.9 729.4l5.8 2.5 4-3.3-5.9-1.9z" fill="#402bb8"/>
<path d="M1124.1 726.5l5.9 4 3.9-3-5.9-1.9zM1020.7 734.6l5.9 3.8 3.9-2.8-5.9-2.5zM1038 735.2l5.8 1.9 3.9-4.8-5.9-0.1z" fill="#4331c7"/>
<path d="M1055.2 733.5l5.9 2.1 3.9-2.7-5.9-1.7z" fill="#402bb8"/>
<path d="M1115.5 728.8l5.9 2.1 3.9-4.5-5.9-0.5z" fill="#4331c7"/>
<path d="M1132.7 727.6l5.9 2 3.9-3-5.8-2z" fill="#402bb8"/>
<path d="M1012.1 737.3l5.9 1.7 3.9-4.5-5.9-0.6zM1072.4 729.9l5.9 4.7 3.9-2.9-5.9-2.4z" fill="#4331c7"/>
<path d="M1089.7 730.8l5.8 2.2 3.9-5.4-5.9 0.6z" fill="#4434ce"/>
<path d="M1103.3 731.6l6 1.6 3.8-1.9-5.8-2.5z" fill="#422ebf"/>
<path d="M1025.8 737.9l5.9 2 3.9-2.7-5.9-2.1z" fill="#402bb8"/>
<path d="M1043 736.6l5.9 1.9 3.9-2.9-5.8-3.6z" fill="#4331c7"/>
<path d="M1060.3 735.1l5.8 2.5 4-3.8-5.9-1.4z" fill="#422ebf"/>
<path d="M1120.6 730.4l5.8 2.1 4-2.6-5.8-3.9zM1017.2 738.5l5.8 2.4 4-3.1-5.8-3.6z" fill="#4331c7"/>
<path d="M1034.4 737.3l5.9 1.8 3.9-2.6-5.9-1.9z" fill="#402bb8"/>
<path d="M1051.6 735.6l6 1.8 3.8-2.4-5.9-2.1z" fill="#422ebf"/>
<path d="M1068.9 733.9l5.8 2.9 4-2.7-5.8-4.6z" fill="#4331c7"/>
<path d="M1077.5 734.1l5.9 2.1 3.9-3.1-5.9-2zM1086.1 733.2l5.9 2.3 3.9-3.2-5.9-2.2z" fill="#402bb8"/>
<path d="M1094.7 732.5l5.8 2.5 4-3.4-5.8-4.3z" fill="#4331c7"/>
<path d="M1112 731.4l5.8 1.8 4-2.9-5.9-2.2zM1129.2 729.9l5.9 2 3.9-2.9-5.9-2zM1022.2 740.4l5.9 1.7 3.9-2.9-5.8-1.9zM1039.5 738.6l5.9 2.2 3.9-2.9-5.9-1.9z" fill="#402bb8"/>
<path d="M1056.7 736.9l6 1.3 3.8-1.1-5.9-2.6z" fill="#422ebf"/>
<path d="M1073.9 736.3l5.9 2.2 3.9-2.9-5.8-2.2zM1091.2 735l5.9 1.6 3.9-2.2-5.9-2.6z" fill="#402bb8"/>
<path d="M1099.8 734.5l5.8 2 4-3.9-5.9-1.6z" fill="#422ebf"/>
<path d="M1108.4 732.8l6.2 0.2 3.6-0.4-6-1.8z" fill="#4331c7"/>
<path d="M1117 732.6l5.9 2.4 3.9-3.2-5.8-2z" fill="#402bb8"/>
<path d="M1030.9 739.4l6.1-0.1 3.7-0.7-6-1.9z" fill="#4331c7"/>
<path d="M1048.1 738l5.8 2.5 4-3.7-5.9-1.8z" fill="#422ebf"/>
<path d="M1065.3 737.1l5.9 1.9 3.9-2.8-5.8-2.9zM1125.6 731.9l5.9 2.3 3.9-2.9-5.9-2z" fill="#402bb8"/>
<path d="M1082.6 735.8l6 0.4 3.8-1.2-5.9-2.4z" fill="#422ebf"/>
<path d="M1096.2 736l5.9 2.4 3.9-2.5-5.9-2.1z" fill="#402bb8"/>
<path d="M1113.5 732.5l5.8 4.3 4-2.3-6-2.4zM1035.9 738.9l5.9 3.5 3.9-2.1-5.9-2.3zM1053.2 740l5.9 1 3.8-3.5-5.8-1.2z" fill="#4331c7"/>
<path d="M1070.4 738.4l5.9 2.2 3.9-2.7-5.9-2.2z" fill="#402bb8"/>
<path d="M1027.3 741.6l5.9 2 3.9-4.8-5.9 0z" fill="#4331c7"/>
<path d="M1044.5 740.3l5.9 2.3 3.9-2.7-5.8-2.5z" fill="#402bb8"/>
<path d="M1061.8 737.6l5.9 2.9 3.9-2.1-6-1.9zM1079 738l5.9 1.9 3.9-4.3-5.9-0.5zM1087.6 735.7l5.9 2.9 3.9-2.6-5.9-1.6z" fill="#422ebf"/>
<path d="M1104.9 736.1l5.8 1.3 3.9-4.9-5.8-0.3z" fill="#4331c7"/>
<path d="M1122.1 734.5l5.9 1.9 3.9-2.9-5.9-2.2z" fill="#402bb8"/>
<path d="M1032.4 743.2l5.8 1.9 4-3.3-5.8-3.4z" fill="#4331c7"/>
<path d="M1049.6 742.1l5.9 1.7 3.9-3.5-5.9-0.9z" fill="#422ebf"/>
<path d="M1066.8 740l5.9 2.6 3.9-2.6-5.9-2.2z" fill="#402bb8"/>
<path d="M1084.1 739.5l5.8 1.6 4-3.1-5.8-2.8z" fill="#422ebf"/>
<path d="M1092.7 738l5.9 2.7 3.9-2.9-5.9-2.3zM1101.3 737.9l5.9 2.3 3.9-3.5-5.9-1.4z" fill="#402bb8"/>
<path d="M1109.9 736.9l5.8 2.6 4-3.2-5.8-4.2z" fill="#4331c7"/>
<path d="M1118.5 736.3l6 1.4 3.8-1.8-5.9-2zM1041 741.9l5.9 2.3 3.9-2.2-5.9-2.3z" fill="#422ebf"/>
<path d="M1058.2 740.5l5.8 3.1 4-3.6-5.8-2.9z" fill="#4331c7"/>
<path d="M1075.5 740.1l5.9 1.7 3.9-2.5-5.9-1.9zM1089.1 740.5l5.9 2.5 3.9-2.9-5.8-2.6zM1106.4 739.7l5.9 1.8 3.9-2.6-5.9-2.6z" fill="#402bb8"/>
<path d="M1046.1 743.7l6.1 0.4 3.7-0.8-6-1.8z" fill="#4331c7"/>
<path d="M1063.3 743.1l5.9 1.8 3.9-2.9-5.9-2.6zM1080.5 741.3l5.9 2.1 3.9-3-5.9-1.6z" fill="#402bb8"/>
<path d="M1037.4 744.6l5.9 2.2 3.9-3.2-5.8-2.3zM1054.7 743.3l5.9 1.9 3.9-2.1-5.9-3.2z" fill="#422ebf"/>
<path d="M1071.9 742.1l6.2-0.5 3.6-0.3-6-1.8z" fill="#4331c7"/>
<path d="M1097.8 740.2l6 0.6 3.8-1.2-6-2.3zM1115 739l5.9 1.5 3.9-3.5-5.9-1.3z" fill="#422ebf"/>
<path d="M1085.6 742.9l5.9 2.1 3.9-2.6-5.9-2.5z" fill="#402bb8"/>
<path d="M1042.5 746.3l5.8 2.1 4-4.9-5.9-0.4z" fill="#4331c7"/>
<path d="M1059.7 744.7l5.9 2.2 3.9-2.6-5.9-1.8z" fill="#402bb8"/>
<path d="M1077 741.2l5.8 4.5 4-2.8-6-2.1z" fill="#4331c7"/>
<path d="M1094.2 742.5l5.9 1.7 3.9-4-5.9-0.6zM1102.8 740.3l5.9 3.6 3.9-2.9-5.9-1.9z" fill="#422ebf"/>
<path d="M1111.4 741l5.9 2.1 3.9-3.2-5.9-1.6z" fill="#402bb8"/>
<path d="M1051.1 743.6l5.8 4.4 4-3.4-5.9-1.9zM1068.4 744.4l5.8 1.7 3.9-4.9-5.9 0.3z" fill="#4331c7"/>
<path d="M1082 745.1l6 1.7 3.8-2.4-5.9-2.1z" fill="#402bb8"/>
<path d="M1099.3 743.7l5.8 2.5 4-2.8-5.8-3.6z" fill="#422ebf"/>
<path d="M1056.2 747.5l5.9 1.9 3.9-3.1-5.9-2.2z" fill="#402bb8"/>
<path d="M1073.4 745.6l5.9 2.1 3.9-2.6-5.8-4.3z" fill="#4331c7"/>
<path d="M1090.7 744.5l5.8 2.2 4-3.1-5.9-1.8z" fill="#402bb8"/>
<path d="M1047.6 747.9l5.8 2.1 4-2.6-5.8-4.3z" fill="#4331c7"/>
<path d="M1064.8 746.4l5.9 2.2 3.9-3.1-5.9-1.8zM1107.9 743.4l5.9 1.7 3.9-2.6-5.9-2.1zM1078.5 747.2l5.8 2.4 4-3.5-5.9-1.6zM1095.7 746.2l5.9 1.6 3.9-2.2-5.8-2.5zM1052.6 749.4l5.9 2.2 3.9-2.8-5.9-2zM1069.9 748.1l5.8 2 4-3-5.9-2.1z" fill="#402bb8"/>
<path d="M1087.1 746.2l6 1.5 3.8-1.6-5.9-2.2z" fill="#422ebf"/>
<path d="M1104.3 745.7l5.9 2 3.9-3.2-5.8-1.7z" fill="#402bb8"/>
<path d="M1061.3 748.9l6 0.4 3.8-1.3-6-2.2z" fill="#422ebf"/>
<path d="M1074.9 749.6l5.9 2.3 3.9-2.9-5.8-2.4z" fill="#402bb8"/>
<path d="M1092.2 747.2l5.8 3 4-3-6-1.6zM1066.3 748.7l5.9 3.8 3.9-2.9-5.9-2.1zM1083.6 749.2l5.8 1.5 4-3.6-5.9-1.4z" fill="#422ebf"/>
<path d="M1100.8 747.2l5.9 2.2 3.9-2.3-5.9-2z" fill="#402bb8"/>
<path d="M1057.7 751.2l5.9 1.9 3.9-4.5-5.9-0.3z" fill="#422ebf"/>
<path d="M1071.4 752l5.9 2.1 3.9-2.8-5.9-2.3z" fill="#402bb8"/>
<path d="M1088.6 750.2l5.9 2.4 3.9-3-5.8-2.9zM1062.8 752.6l5.8 1.9 4-2.6-5.8-3.6z" fill="#422ebf"/>
<path d="M1080 751.4l5.9 1.5 3.9-2.9-5.9-1.5zM1097.2 749.7l5.9 2.2 3.9-3.1-5.8-2.1zM1067.8 753.9l5.9 2.1 3.9-2.5-5.9-2.1zM1085.1 752.4l5.8 2.5 4-2.9-5.9-2.5z" fill="#402bb8"/>
<path d="M1076.5 753.7l6.2-0.7 3.6-0.7-6-1.5z" fill="#4331c7"/>
<path d="M1093.7 752l5.9 2.2 3.9-2.9-5.9-2.2z" fill="#402bb8"/>
<path d="M1081.5 752.6l5.9 4.6 3.9-2.8-5.9-2.6zM1072.9 755.5l5.9 2.1 3.9-5-6 0.4z" fill="#4331c7"/>
<path d="M1090.1 754.4l5.9 1.9 3.9-2.7-5.8-2.2z" fill="#402bb8"/>
<path d="M1078 757.1l5.8 1.8 4-2.2-5.8-4.5z" fill="#4331c7"/>
<path d="M1086.6 756.7l5.9 1.8 3.9-2.8-5.9-1.9zM1083 758.3l5.9 2.5 3.9-2.9-5.9-1.8z" fill="#402bb8"/>
<ellipse cx="1042" cy="670" rx="88" ry="50" fill="url(#ehaze)" clip-path="url(#eclip)"/>
<path d="M1095.3 613l-1.8 9.7-4.2 33.3 7.8 3.2zM1095.3 613l1.8 46.2 4.2-3.7-4.2-32.8z" fill="url(#sgl37)"/>
<path d="M1086.5 621l-1.6 8.6-3.9 29.4 7.1 3.2zM1086.5 621l1.6 41.2 3.9-3.7-3.9-28.9z" fill="url(#sgl33)"/>
<path d="M1070.8 624l-1.5 8.4-3.4 28.6 6.4 3.2zM1070.8 624l1.5 40.2 3.4-3.7-3.4-28.1z" fill="url(#sgl32)"/>
<path d="M1104.7 654.2l-1.2 2.1-2.7 6.6 5 3.2zM1104.7 654.2l1.1 11.9 2.7-3.7-2.7-6.1z" fill="url(#sgl10)"/>
<path d="M1012.5 620l-1.8 9.7-4.2 33.3 7.8 3.2z" fill="url(#sgl37)"/>
<path d="M1048.7 623l-1.6 9-3.9 31 7.1 3.2z" fill="url(#sgl35)"/>
<path d="M1064.4 625l-1.5 8.6-3.4 29.4 6.4 3.2z" fill="url(#sgl33)"/>
<path d="M1102 636l-1.4 6.2-3.3 20.8 6.1 3.2z" fill="url(#sgl24)"/>
<path d="M1012.5 620l1.8 46.2 4.2-3.7-4.2-32.8z" fill="url(#sgl37)"/>
<path d="M1048.7 623l1.6 43.2 3.9-3.7-3.9-30.5z" fill="url(#sgl35)"/>
<path d="M1064.4 625l1.5 41.2 3.4-3.7-3.4-28.9z" fill="url(#sgl33)"/>
<path d="M1102 636l1.4 30.2 3.3-3.7-3.3-20.3zM1111.6 636.7l-1.1 6.1-2.7 20.7 4.9 3.2zM1111.6 636.7l1.1 30 2.7-3.7-2.7-20.2z" fill="url(#sgl24)"/>
<path d="M1032.6 632l-1.5 7.3-3.4 24.7 6.4 3.2zM1032.6 632l1.5 35.2 3.4-3.7-3.4-24.2z" fill="url(#sgl28)"/>
<path d="M1055.6 652.6l-1.3 3.3-2.9 10.9 5.4 3.2zM1055.6 652.6l1.2 17.4 3-3.7-3-10.4zM1081 651.7l-1.4 3.6-3.1 11.7 5.8 3.2zM1081 651.7l1.3 18.5 3.1-3.7-3.1-11.2z" fill="url(#sgl15)"/>
<path d="M1005.5 632l-1.5 7.9-3.4 27.1 6.4 3.2z" fill="url(#sgl31)"/>
<path d="M1055.7 636l-1.4 7-3.3 24 6.1 3.2z" fill="url(#sgl28)"/>
<path d="M1078 640l-1.2 6.2-2.7 20.8 5.1 3.2z" fill="url(#sgl24)"/>
<path d="M1005.5 632l1.5 38.2 3.4-3.7-3.4-26.6z" fill="url(#sgl31)"/>
<path d="M1055.7 636l1.4 34.2 3.3-3.7-3.3-23.5z" fill="url(#sgl28)"/>
<path d="M1078 640l1.2 30.2 2.7-3.7-2.7-20.3z" fill="url(#sgl24)"/>
<path d="M1109.3 655.9l-1.4 3-3 9.7 5.7 3.2zM1109.3 655.9l1.3 15.9 3.1-3.7-3.1-9.2zM1080.2 657.9l-1.2 3-3.1 9.3 5.6 3.2zM1080.2 657.9l1.3 15.5 3-3.7-3-8.8z" fill="url(#sgl13)"/>
<path d="M1109 645.4l-1.2 5.7-2.9 19.4 5.4 3.2zM1109 645.4l1.3 28.3 2.8-3.7-2.8-18.9z" fill="url(#sgl23)"/>
<path d="M997 642l-1.2 6.6-2.7 22.4 5.1 3.2zM997 642l1.2 32.2 2.7-3.7-2.7-21.9z" fill="url(#sgl26)"/>
<path d="M1059.1 656.7l-1.2 3.7-3 12.1 5.5 3.2zM1059.1 656.7l1.3 19 2.9-3.7-2.9-11.6zM1094.8 657.5l-1.4 3.9-3.1 12.7 5.8 3.2zM1094.8 657.5l1.3 19.8 3.2-3.7-3.2-12.2z" fill="url(#sgl16)"/>
<path d="M999.8 651.6l-1.1 5.3-2.7 18 4.9 3.2zM999.8 651.6l1.1 26.5 2.7-3.7-2.7-17.5z" fill="url(#sgl22)"/>
<path d="M1040 645l-1.2 6.8-2.7 23.2 5.1 3.2zM1040 645l1.2 33.2 2.7-3.7-2.7-22.7z" fill="url(#sgl27)"/>
<path d="M1022.6 658.1l-1 4-2.5 13.1 4.6 3.2zM1022.6 658.1l1.1 20.3 2.5-3.7-2.5-12.6z" fill="url(#sgl17)"/>
<path d="M1091.9 665.1l-1.2 2.7-3 8.3 5.5 3.2zM1091.9 665.1l1.3 14.2 3-3.7-3-7.8z" fill="url(#sgl12)"/>
<path d="M1078.4 659.1l-1 4.2-2.5 14.1 4.6 3.2zM1078.4 659.1l1.1 21.5 2.5-3.7-2.5-13.6z" fill="url(#sgl18)"/>
<path d="M1026 665l-1.4 3.1-3.1 10 5.8 3.2zM1026 665l1.3 16.3 3.1-3.7-3.1-9.5z" fill="url(#sgl14)"/>
<path d="M1095.7 664.2l-1.2 3.4-2.7 11 5 3.2zM1095.7 664.2l1.1 17.6 2.8-3.7-2.8-10.5z" fill="url(#sgl15)"/>
<path d="M1007.3 671l-1.1 2.1-2.5 6.3 4.7 3.2zM1007.3 671l1.1 11.6 2.6-3.7-2.6-5.8z" fill="url(#sgl10)"/>
<path d="M1026.2 652.5l-1.1 6.1-2.4 21 4.5 3.2zM1026.2 652.5l1 30.3 2.5-3.7-2.5-20.5z" fill="url(#sgl25)"/>
<path d="M1004.6 657.5l-1 5.6-2.4 19 4.5 3.2zM1004.6 657.5l1.1 27.8 2.4-3.7-2.4-18.5z" fill="url(#sgl23)"/>
<path d="M999.1 655.5l-1.1 6.2-2.5 20.8 4.6 3.2zM999.1 655.5l1 30.2 2.6-3.7-2.6-20.3z" fill="url(#sgl24)"/>
<path d="M1019.6 645l-2 8.6-4.8 29.4 8.8 3.2zM1019.6 645l2 41.2 4.8-3.7-4.8-28.9z" fill="url(#sgl33)"/>
<path d="M1091 667.2l-1.3 3.7-3 12.4 5.5 3.2zM1091 667.2l1.2 19.3 3-3.7-3-11.9z" fill="url(#sgl16)"/>
<path d="M1085.5 673.9l-1.2 2.3-2.9 7.3 5.4 3.2zM1085.5 673.9l1.3 12.8 2.8-3.7-2.8-6.8z" fill="url(#sgl11)"/>
<path d="M1020.2 669.3l-1.2 3.7-2.7 12.4 5 3.2zM1020.2 669.3l1.1 19.3 2.7-3.7-2.7-11.9zM1058.6 669.3l-1 3.8-2.3 12.5 4.3 3.2zM1058.6 669.3l1 19.5 2.3-3.7-2.3-12z" fill="url(#sgl16)"/>
<path d="M988.2 665.3l-1.3 4.9-2.9 16.6 5.4 3.2zM988.2 665.3l1.2 24.7 3-3.7-3-16.1z" fill="url(#sgl20)"/>
<path d="M1075.2 664l-1.3 5.4-2.8 17.9 5.3 3.2zM1075.2 664l1.2 26.5 2.9-3.7-2.9-17.4z" fill="url(#sgl22)"/>
<path d="M1002.2 671.2l-1 3.8-2.4 12.5 4.4 3.2zM1002.2 671.2l1 19.5 2.3-3.7-2.3-12z" fill="url(#sgl16)"/>
<path d="M1055 661l-1.3 6.1-3.2 20.7 5.9 3.2zM1055 661l1.4 30 3.1-3.7-3.1-20.2z" fill="url(#sgl24)"/>
<path d="M1114.4 675.4l-1.3 3-3.1 10 5.8 3.2zM1114.4 675.4l1.4 16.2 3.1-3.7-3.1-9.5z" fill="url(#sgl14)"/>
<path d="M1036 662l-1.1 6.2-2.5 20.8 4.7 3.2zM1036 662l1.1 30.2 2.5-3.7-2.5-20.3z" fill="url(#sgl24)"/>
<path d="M1019.3 680.5l-1.1 2.2-2.5 6.5 4.7 3.2zM1019.3 680.5l1.1 11.9 2.5-3.7-2.5-6z" fill="url(#sgl10)"/>
<path d="M1021.7 674.8l-1.3 4-3.1 13.3 5.7 3.2zM1021.7 674.8l1.3 20.5 3.1-3.7-3.1-12.8z" fill="url(#sgl17)"/>
<path d="M985.3 676.9l-1 3.8-2.3 12.7 4.3 3.2zM985.3 676.9l1 19.7 2.3-3.7-2.3-12.2zM1067.5 678.5l-1.3 3.8-3.2 12.5 5.9 3.2zM1067.5 678.5l1.4 19.5 3.2-3.7-3.2-12z" fill="url(#sgl16)"/>
<path d="M1079.4 673.6l-1.1 5-2.8 16.6 5.1 3.2zM1079.4 673.6l1.2 24.8 2.8-3.7-2.8-16.1z" fill="url(#sgl20)"/>
<path d="M1007.3 684.5l-1.3 2.6-3.1 8.1 5.8 3.2zM1007.3 684.5l1.4 13.9 3.1-3.7-3.1-7.6zM1007.8 684.7l-1 2.5-2.3 8.1 4.2 3.2zM1007.8 684.7l0.9 13.8 2.3-3.7-2.3-7.6zM1051.2 684.6l-1.1 2.6-2.5 8.2 4.6 3.2zM1051.2 684.6l1 14 2.6-3.7-2.6-7.7z" fill="url(#sgl12)"/>
<path d="M1090.4 685.6l-1.2 2.9-2.9 9.1 5.4 3.2zM1090.4 685.6l1.3 15.2 2.9-3.7-2.9-8.6z" fill="url(#sgl13)"/>
<path d="M1031.9 688.8l-1.4 2.2-3.2 6.7 5.9 3.2zM1031.9 688.8l1.3 12.1 3.2-3.7-3.2-6.2z" fill="url(#sgl10)"/>
<path d="M1061.1 685.1l-1.3 3.1-3 9.9 5.6 3.2zM1061.1 685.1l1.3 16.2 3-3.7-3-9.4z" fill="url(#sgl14)"/>
<path d="M1004.7 670.1l-0.9 6.4-2.3 21.7 4.2 3.2zM1004.7 670.1l1 31.3 2.3-3.7-2.3-21.2z" fill="url(#sgl25)"/>
<path d="M1009.2 679l-1.4 4.6-3.2 15.3 5.9 3.2zM1009.2 679l1.3 23.1 3.2-3.7-3.2-14.8z" fill="url(#sgl19)"/>
<path d="M1003 676l-1.1 5.3-2.5 17.7 4.7 3.2zM1003 676l1.1 26.2 2.5-3.7-2.5-17.2z" fill="url(#sgl21)"/>
<path d="M1061.6 672.9l-1 6-2.4 20.5 4.5 3.2zM1061.6 672.9l1.1 29.7 2.3-3.7-2.3-20z" fill="url(#sgl24)"/>
<path d="M989.2 671.4l-1.2 6.4-2.7 21.7 5.1 3.2zM989.2 671.4l1.2 31.3 2.7-3.7-2.7-21.2z" fill="url(#sgl25)"/>
<path d="M1032.8 678.4l-1.1 5.2-2.8 17.4 5.1 3.2zM1032.8 678.4l1.2 25.8 2.7-3.7-2.7-16.9z" fill="url(#sgl21)"/>
<path d="M1029.2 682l-1.4 4.5-3.2 14.7 6 3.2zM1029.2 682l1.4 22.4 3.2-3.7-3.2-14.2z" fill="url(#sgl18)"/>
<path d="M1023.2 672.5l-1 6.6-2.3 22.2 4.4 3.2zM1023.2 672.5l1.1 32 2.3-3.7-2.3-21.7z" fill="url(#sgl26)"/>
<path d="M1010.8 690.7l-1.4 2.8-3.1 8.8 5.8 3.2zM1010.8 690.7l1.3 14.8 3.2-3.7-3.2-8.3z" fill="url(#sgl12)"/>
<path d="M1060.4 683.2l-1.2 4.5-2.7 15.1 5.1 3.2zM1060.4 683.2l1.2 22.8 2.7-3.7-2.7-14.6z" fill="url(#sgl19)"/>
<path d="M1000.7 684.3l-1 4.3-2.3 14.3 4.3 3.2zM1000.7 684.3l1 21.8 2.3-3.7-2.3-13.8z" fill="url(#sgl18)"/>
<path d="M1085.8 676.1l-1 6.2-2.5 21.1 4.6 3.2zM1085.8 676.1l1.1 30.5 2.4-3.7-2.4-20.6z" fill="url(#sgl25)"/>
<path d="M1073.9 681l-1.4 5.2-3.1 17.3 5.8 3.2zM1073.9 681l1.3 25.7 3.1-3.7-3.1-16.8z" fill="url(#sgl21)"/>
<path d="M1017 672l-1.1 7.3-2.5 24.7 4.7 3.2zM1017 672l1.1 35.2 2.5-3.7-2.5-24.2z" fill="url(#sgl28)"/>
<path d="M995.4 689.1l-1.1 3.5-2.5 11.7 4.6 3.2zM995.4 689.1l1 18.4 2.5-3.7-2.5-11.2z" fill="url(#sgl15)"/>
<path d="M1046.4 692.5l-1.3 2.8-3 9.3 5.7 3.2zM1046.4 692.5l1.4 15.3 3-3.7-3-8.8z" fill="url(#sgl13)"/>
<path d="M1001.4 681l-1.3 5.5-3 18.6 5.6 3.2zM1001.4 681l1.3 27.3 3.1-3.7-3.1-18.1z" fill="url(#sgl22)"/>
<path d="M1010.7 690.5l-1.2 3.5-2.7 11.4 5 3.2zM1010.7 690.5l1.1 18.1 2.7-3.7-2.7-10.9z" fill="url(#sgl15)"/>
<path d="M1010.5 687.4l-1 4.2-2.2 14.1 4.2 3.2zM1010.5 687.4l1 21.5 2.2-3.7-2.2-13.6z" fill="url(#sgl18)"/>
<path d="M1110 692.9l-1.3 3.3-3 10.5 5.6 3.2zM1110 692.9l1.3 17 3-3.7-3-10z" fill="url(#sgl14)"/>
<path d="M1057.7 697.8l-1.4 2.3-3.1 6.9 5.8 3.2zM1057.7 697.8l1.3 12.4 3.1-3.7-3.1-6.4z" fill="url(#sgl11)"/>
<path d="M990.4 698.5l-1.2 2.1-2.9 6.5 5.4 3.2zM990.4 698.5l1.3 11.8 2.8-3.7-2.8-6z" fill="url(#sgl10)"/>
<path d="M1037.6 695.3l-1.2 3.3-2.9 10.5 5.4 3.2zM1037.6 695.3l1.3 17 2.9-3.7-2.9-10z" fill="url(#sgl14)"/>
<path d="M1031.1 703.5l-1.2 1.9-2.9 5.8 5.4 3.2zM1031.1 703.5l1.3 10.9 2.9-3.7-2.9-5.3z" fill="url(#sgl9)"/>
<path d="M1000.1 700.9l-1.1 2.5-2.7 7.8 5 3.2zM1000.1 700.9l1.2 13.5 2.7-3.7-2.7-7.3z" fill="url(#sgl12)"/>
<path d="M1044.3 697.5l-1.2 3.4-2.7 10.9 5 3.2zM1044.3 697.5l1.1 17.5 2.8-3.7-2.8-10.4z" fill="url(#sgl15)"/>
<path d="M1034.5 695.4l-1.2 3.9-2.6 12.8 4.9 3.2zM1034.5 695.4l1.1 19.9 2.7-3.7-2.7-12.3zM1082.6 695.9l-1.1 3.8-2.6 12.6 4.8 3.2zM1082.6 695.9l1.1 19.6 2.6-3.7-2.6-12.1zM1015.6 697.1l-1 3.7-2.2 11.9 4.2 3.2zM1015.6 697.1l1 18.8 2.3-3.7-2.3-11.4z" fill="url(#sgl16)"/>
<path d="M1024.6 667l-1.7 10.3-4 35.7 7.4 3.2zM1024.6 667l1.7 49.2 4-3.7-4-35.2z" fill="url(#sgl39)"/>
<path d="M1109.3 703.6l-1.3 2.3-2.9 7.3 5.4 3.2zM1109.3 703.6l1.2 12.8 3-3.7-3-6.8zM1003.8 705.2l-1.4 2.3-3.1 7.4 5.8 3.2zM1003.8 705.2l1.3 12.9 3.2-3.7-3.2-6.9z" fill="url(#sgl11)"/>
<path d="M1060 690l-1.1 5.7-2.5 19.3 4.7 3.2zM1060 690l1.1 28.2 2.5-3.7-2.5-18.8z" fill="url(#sgl23)"/>
<path d="M1029.8 696.9l-1.2 4.4-2.9 14.7 5.3 3.2zM1029.8 696.9l1.2 22.3 2.9-3.7-2.9-14.2z" fill="url(#sgl18)"/>
<path d="M1030 688l-1.2 6.6-2.7 22.4 5.1 3.2zM1030 688l1.2 32.2 2.7-3.7-2.7-21.9z" fill="url(#sgl26)"/>
<path d="M1086.6 703.8l-1.2 3.2-2.8 10.4 5.2 3.2zM1086.6 703.8l1.2 16.8 2.8-3.7-2.8-9.9z" fill="url(#sgl14)"/>
<path d="M1040.1 707.1l-1.2 2.6-2.9 7.9 5.3 3.2zM1040.1 707.1l1.2 13.7 2.9-3.7-2.9-7.4z" fill="url(#sgl12)"/>
<path d="M1064.3 704.8l-1 3.1-2.5 10 4.6 3.2zM1064.3 704.8l1.1 16.3 2.4-3.7-2.4-9.5z" fill="url(#sgl14)"/>
<path d="M1029.7 708.7l-1.3 2.3-3 7.1 5.5 3.2zM1029.7 708.7l1.2 12.6 3-3.7-3-6.6z" fill="url(#sgl11)"/>
<path d="M1094.7 698.6l-1 4.5-2.5 15 4.6 3.2zM1094.7 698.6l1.1 22.7 2.4-3.7-2.4-14.5z" fill="url(#sgl19)"/>
<path d="M1017.6 704.2l-1.3 3.4-3.2 11.4 5.9 3.2zM1017.6 704.2l1.4 18 3.1-3.7-3.1-10.9z" fill="url(#sgl15)"/>
<path d="M1051 702.9l-1 3.9-2.4 12.5 4.4 3.2zM1051 702.9l1 19.6 2.4-3.7-2.4-12z" fill="url(#sgl16)"/>
<path d="M1046.6 701.7l-1.2 4.1-2.7 13.6 5.1 3.2zM1046.6 701.7l1.2 20.9 2.7-3.7-2.7-13.1zM1047.4 702l-1.3 4.1-2.9 13.5 5.5 3.2zM1047.4 702l1.3 20.8 2.9-3.7-2.9-13zM1088.7 702l-1.1 4.1-2.6 13.8 4.8 3.2zM1088.7 702l1.1 21.1 2.6-3.7-2.6-13.3z" fill="url(#sgl17)"/>
<path d="M1061.6 700.4l-1.3 4.6-3 15.3 5.6 3.2zM1061.6 700.4l1.3 23.1 3-3.7-3-14.8z" fill="url(#sgl19)"/>
<path d="M1091.7 714.8l-1.1 1.5-2.6 4.2 4.8 3.2zM1091.7 714.8l1.1 8.9 2.5-3.7-2.5-3.7z" fill="url(#sgl8)"/>
<path d="M1010 698l-1.1 5.3-2.5 17.7 4.7 3.2z" fill="url(#sgl21)"/>
<path d="M1045 694l-1.1 6.2-2.5 20.8 4.7 3.2z" fill="url(#sgl24)"/>
<path d="M1010 698l1.1 26.2 2.5-3.7-2.5-17.2z" fill="url(#sgl21)"/>
<path d="M1045 694l1.1 30.2 2.5-3.7-2.5-20.3z" fill="url(#sgl24)"/>
<path d="M1006.8 710.6l-1.1 2.8-2.6 8.7 4.8 3.2zM1006.8 710.6l1.1 14.7 2.7-3.7-2.7-8.2z" fill="url(#sgl12)"/>
<path d="M1107.6 702.2l-1 4.6-2.5 15.4 4.6 3.2zM1107.6 702.2l1.1 23.2 2.5-3.7-2.5-14.9z" fill="url(#sgl19)"/>
<path d="M1102.4 706l-1.2 3.9-3 12.9 5.5 3.2zM1102.4 706l1.3 20 3-3.7-3-12.4z" fill="url(#sgl17)"/>
<path d="M1009.5 713.5l-1 2.3-2.5 7.3 4.6 3.2zM1009.5 713.5l1.1 12.8 2.5-3.7-2.5-6.8z" fill="url(#sgl11)"/>
<path d="M1069.6 706.2l-1.1 4.1-2.7 13.5 5 3.2zM1069.6 706.2l1.2 20.8 2.6-3.7-2.6-13z" fill="url(#sgl17)"/>
<path d="M1059.2 712.3l-1.1 3-2.8 9.5 5.1 3.2zM1059.2 712.3l1.2 15.7 2.7-3.7-2.7-9z" fill="url(#sgl13)"/>
<path d="M1050.8 709.3l-1.1 3.8-2.7 12.2 4.9 3.2zM1050.8 709.3l1.1 19.2 2.6-3.7-2.6-11.7z" fill="url(#sgl16)"/>
<path d="M1037.5 715.2l-1.2 2.7-2.7 8.3 5 3.2zM1037.5 715.2l1.1 14.2 2.7-3.7-2.7-7.8z" fill="url(#sgl12)"/>
<path d="M1015 710.7l-1.1 4.1-2.6 13.4 4.8 3.2zM1015 710.7l1.1 20.7 2.7-3.7-2.7-12.9z" fill="url(#sgl17)"/>
<path d="M1029 718.9l-1.2 2.7-2.9 8.8 5.4 3.2zM1029 718.9l1.3 14.7 2.9-3.7-2.9-8.3z" fill="url(#sgl12)"/>
<path d="M1065 718.1l-1.2 3.6-2.7 11.8 5 3.2zM1065 718.1l1.1 18.6 2.8-3.7-2.8-11.3zM1068.4 719.8l-1.2 3.5-2.7 11 5.1 3.2zM1068.4 719.8l1.2 17.7 2.7-3.7-2.7-10.5z" fill="url(#sgl15)"/>
<path d="M1027.3 721.4l-1 3.1-2.3 10 4.3 3.2zM1027.3 721.4l1 16.3 2.2-3.7-2.2-9.5z" fill="url(#sgl14)"/>
<path d="M1061.6 724.5l-1 2.5-2.4 7.7 4.4 3.2zM1061.6 724.5l1 13.4 2.4-3.7-2.4-7.2z" fill="url(#sgl11)"/>
<line x1="906.3" y1="705.7" x2="906.3" y2="534.7" stroke="#262626" stroke-width="1.6"/>
<path d="M906.3 705.7L1088.7 761.2L1216.5 681.4" fill="none" stroke="#262626" stroke-width="1.6" stroke-linejoin="round"/>
<line x1="906.3" y1="705.7" x2="901" y2="704.1" stroke="#262626" stroke-width="1.6"/>
<line x1="906.3" y1="620.2" x2="901" y2="618.6" stroke="#262626" stroke-width="1.6"/>
<line x1="906.3" y1="534.7" x2="901" y2="533.1" stroke="#262626" stroke-width="1.6"/>
<line x1="906.3" y1="705.7" x2="901.6" y2="708.6" stroke="#262626" stroke-width="1.6"/>
<line x1="997.5" y1="733.5" x2="992.8" y2="736.4" stroke="#262626" stroke-width="1.6"/>
<line x1="1088.7" y1="761.2" x2="1084" y2="764.1" stroke="#262626" stroke-width="1.6"/>
<line x1="1088.7" y1="761.2" x2="1094" y2="762.8" stroke="#262626" stroke-width="1.6"/>
<line x1="1152.6" y1="721.3" x2="1157.9" y2="722.9" stroke="#262626" stroke-width="1.6"/>
<line x1="1216.5" y1="681.4" x2="1221.8" y2="683" stroke="#262626" stroke-width="1.6"/>
<text transform="translate(838.9 294) rotate(-90)" font-size="28.79" fill="#262626" textLength="223.1" lengthAdjust="spacingAndGlyphs">Norm. power [a.u.]</text>
<text x="872.6" y="108" font-size="30.00" fill="#262626">1</text>
<text x="858.7" y="191.7" font-size="27.98" textLength="35.4" lengthAdjust="spacingAndGlyphs" fill="#262626">0.5</text>
<text x="872.3" y="271.8" font-size="29.35" fill="#262626">0</text>
<text x="865.6" y="298.8" font-size="28.56" textLength="37.7" lengthAdjust="spacingAndGlyphs" fill="#262626">-40</text>
<text x="967.8" y="328.1" font-size="27.17" fill="#262626">0</text>
<text x="940.1" y="351.2" font-size="33.72" fill="#262626">y</text>
<text x="1050.6" y="354" font-size="27.73" textLength="28.1" lengthAdjust="spacingAndGlyphs" fill="#262626">40</text>
<text x="1096.1" y="349.8" font-size="27.73" textLength="28.1" lengthAdjust="spacingAndGlyphs" fill="#262626">40</text>
<text x="1170.7" y="310.5" font-size="29.13" fill="#262626">0</text>
<text x="1201" y="328.3" font-size="27.80" fill="#262626">x</text>
<text x="1218.6" y="265.5" font-size="29.60" textLength="39.1" lengthAdjust="spacingAndGlyphs" fill="#262626">-40</text>
<text x="908.4" y="69.3" font-size="38.89" font-weight="bold" fill="#000">b</text>
<text x="1127.4" y="111.1" font-size="36.51" fill="#000" textLength="82.1" lengthAdjust="spacingAndGlyphs"><tspan font-style="italic">m</tspan><tspan> = 1</tspan></text>
<text transform="translate(839.8 729.8) rotate(-90)" font-size="29.16" fill="#262626" textLength="225.9" lengthAdjust="spacingAndGlyphs">Norm. power [a.u.]</text>
<text x="873.9" y="544.1" font-size="30.00" fill="#262626">1</text>
<text x="858.7" y="626.6" font-size="30.00" textLength="38" lengthAdjust="spacingAndGlyphs" fill="#262626">0.5</text>
<text x="873.5" y="706.7" font-size="29.57" fill="#262626">0</text>
<text x="912.7" y="497.2" font-size="42.27" font-weight="bold" fill="#000">e</text>
<text x="1108.7" y="547.4" font-size="36.68" fill="#000" textLength="101" lengthAdjust="spacingAndGlyphs"><tspan font-style="italic">m</tspan><tspan> = 60</tspan></text>
<text transform="translate(843.6 1088.6) rotate(-90)" font-size="29.17" fill="#262626" textLength="226" lengthAdjust="spacingAndGlyphs">Norm. power [a.u.]</text>
<text x="876.6" y="907.8" font-size="26.76" fill="#262626">1</text>
<text x="861.2" y="990.3" font-size="28.99" textLength="36.7" lengthAdjust="spacingAndGlyphs" fill="#262626">0.5</text>
<text x="876.4" y="1069.7" font-size="29.35" fill="#262626">0</text>
<text x="869.9" y="1099" font-size="28.24" textLength="37.3" lengthAdjust="spacingAndGlyphs" fill="#262626">-40</text>
<text x="971.4" y="1128.2" font-size="29.35" fill="#262626">0</text>
<text x="943.7" y="1151" font-size="28.37" fill="#262626">y</text>
<text x="1054.3" y="1152.6" font-size="27.63" textLength="28" lengthAdjust="spacingAndGlyphs" fill="#262626">40</text>
<text x="1099.4" y="1148.9" font-size="28.87" textLength="29.3" lengthAdjust="spacingAndGlyphs" fill="#262626">40</text>
<text x="1175" y="1109.9" font-size="26.52" fill="#262626">0</text>
<text x="1204.4" y="1128.4" font-size="26.83" fill="#262626">x</text>
<text x="1217" y="1068.5" font-size="28.24" textLength="37.3" lengthAdjust="spacingAndGlyphs" fill="#262626">-40</text>
<text x="916.5" y="867.9" font-size="40.93" font-weight="bold" fill="#000">h</text>
<text x="1110.5" y="906.5" font-size="36.42" fill="#000" textLength="100.3" lengthAdjust="spacingAndGlyphs"><tspan font-style="italic">m</tspan><tspan> = 60</tspan></text>
<rect x="1326.6" y="16" width="288.9" height="288" fill="#3e26a8"/>
<rect x="1467.8" y="157.0" width="5.3" height="4.9" fill="#f9fb15"/>
<line x1="1374.8" y1="16" x2="1374.8" y2="22.2" stroke="#000" stroke-width="3.0"/>
<line x1="1374.8" y1="304" x2="1374.8" y2="297.8" stroke="#000" stroke-width="3.0"/>
<line x1="1471" y1="16" x2="1471" y2="22.2" stroke="#000" stroke-width="3.0"/>
<line x1="1471" y1="304" x2="1471" y2="297.8" stroke="#000" stroke-width="3.0"/>
<line x1="1567.2" y1="16" x2="1567.2" y2="22.2" stroke="#000" stroke-width="3.0"/>
<line x1="1567.2" y1="304" x2="1567.2" y2="297.8" stroke="#000" stroke-width="3.0"/>
<line x1="1326.6" y1="64.1" x2="1332.8" y2="64.1" stroke="#000" stroke-width="3.0"/>
<line x1="1615.5" y1="64.1" x2="1609.2" y2="64.1" stroke="#000" stroke-width="3.0"/>
<line x1="1326.6" y1="160.3" x2="1332.8" y2="160.3" stroke="#000" stroke-width="3.0"/>
<line x1="1615.5" y1="160.3" x2="1609.2" y2="160.3" stroke="#000" stroke-width="3.0"/>
<line x1="1326.6" y1="256.4" x2="1332.8" y2="256.4" stroke="#000" stroke-width="3.0"/>
<line x1="1615.5" y1="256.4" x2="1609.2" y2="256.4" stroke="#000" stroke-width="3.0"/>
<rect x="1326.6" y="16" width="288.9" height="288" fill="none" stroke="#000" stroke-width="3.3"/>
<text x="1348" y="60.4" font-size="39.47" font-weight="bold" fill="#fff">c</text>
<text x="1519.3" y="53.2" font-size="36.60" fill="#fff" textLength="82.3" lengthAdjust="spacingAndGlyphs"><tspan font-style="italic">m</tspan><tspan> = 1</tspan></text>
<text x="1280.7" y="72.2" font-size="29.12" textLength="38.4" lengthAdjust="spacingAndGlyphs" fill="#262626">-20</text>
<text x="1304.1" y="168.8" font-size="28.91" fill="#262626">0</text>
<text x="1287.7" y="260.8" font-size="28.42" textLength="28.8" lengthAdjust="spacingAndGlyphs" fill="#262626">20</text>
<text x="1266.3" y="167" font-size="26.98" fill="#262626">y</text>
<text x="1353.8" y="334.2" font-size="29.60" textLength="39.1" lengthAdjust="spacingAndGlyphs" fill="#262626">-20</text>
<text x="1464.1" y="336.1" font-size="30.22" fill="#262626">0</text>
<text x="1555.3" y="331.2" font-size="29.68" textLength="30.1" lengthAdjust="spacingAndGlyphs" fill="#262626">20</text>
<text x="1465.1" y="361" font-size="28.29" fill="#262626">x</text>
<rect x="1328.0" y="416.3" width="286.0" height="29.7" fill="url(#cb)" stroke="#262626" stroke-width="3.4"/>
<line x1="1389.2" y1="416.3" x2="1389.2" y2="421.5" stroke="#262626" stroke-width="3.0"/>
<line x1="1450.9" y1="416.3" x2="1450.9" y2="421.5" stroke="#262626" stroke-width="3.0"/>
<line x1="1512.3" y1="416.3" x2="1512.3" y2="421.5" stroke="#262626" stroke-width="3.0"/>
<line x1="1574.1" y1="416.3" x2="1574.1" y2="421.5" stroke="#262626" stroke-width="3.0"/>
<text x="1325.3" y="407.6" font-size="34.57" fill="#262626">0</text>
<text x="1598.1" y="410.8" font-size="34.05" fill="#262626">1</text>
<rect x="1328.5" y="460.8" width="287.5" height="288" fill="#3e26a8"/>
<rect x="1453.9" y="474.1" width="4.8" height="4.8" fill="#484aee"/>
<rect x="1473" y="474.1" width="4.8" height="4.8" fill="#484aee"/>
<rect x="1444.3" y="483.7" width="4.8" height="4.8" fill="#4330c5"/>
<rect x="1453.9" y="483.7" width="4.8" height="4.8" fill="#4330c5"/>
<rect x="1463.5" y="483.7" width="4.8" height="4.8" fill="#4367fd"/>
<rect x="1482.6" y="483.7" width="4.8" height="4.8" fill="#4743e7"/>
<rect x="1444.3" y="493.3" width="4.8" height="4.8" fill="#4536d3"/>
<rect x="1453.9" y="493.3" width="4.8" height="4.8" fill="#2d8cf3"/>
<rect x="1463.5" y="493.3" width="4.8" height="4.8" fill="#4743e7"/>
<rect x="1473" y="493.3" width="4.8" height="4.8" fill="#58cc79"/>
<rect x="1492.2" y="493.3" width="4.8" height="4.8" fill="#465ffb"/>
<rect x="1425.2" y="503" width="4.8" height="4.8" fill="#4536d3"/>
<rect x="1463.5" y="503" width="4.8" height="4.8" fill="#4367fd"/>
<rect x="1482.6" y="503" width="4.8" height="4.8" fill="#484aee"/>
<rect x="1501.8" y="503" width="4.8" height="4.8" fill="#422ebe"/>
<rect x="1396.5" y="512.6" width="4.8" height="4.8" fill="#4433cc"/>
<rect x="1406.1" y="512.6" width="4.8" height="4.8" fill="#422ebe"/>
<rect x="1415.6" y="512.6" width="4.8" height="4.8" fill="#463cde"/>
<rect x="1434.8" y="512.6" width="4.8" height="4.8" fill="#4367fd"/>
<rect x="1444.3" y="512.6" width="4.8" height="4.8" fill="#4539d9"/>
<rect x="1453.9" y="512.6" width="4.8" height="4.8" fill="#422ebe"/>
<rect x="1463.5" y="512.6" width="4.8" height="4.8" fill="#4330c5"/>
<rect x="1473" y="512.6" width="4.8" height="4.8" fill="#347afd"/>
<rect x="1482.6" y="512.6" width="4.8" height="4.8" fill="#4536d3"/>
<rect x="1492.2" y="512.6" width="4.8" height="4.8" fill="#422ebe"/>
<rect x="1511.3" y="512.6" width="4.8" height="4.8" fill="#422ebe"/>
<rect x="1530.5" y="512.6" width="4.8" height="4.8" fill="#4539d9"/>
<rect x="1425.2" y="522.2" width="4.8" height="4.8" fill="#4743e7"/>
<rect x="1444.3" y="522.2" width="4.8" height="4.8" fill="#463cde"/>
<rect x="1482.6" y="522.2" width="4.8" height="4.8" fill="#4536d3"/>
<rect x="1501.8" y="522.2" width="4.8" height="4.8" fill="#465ffb"/>
<rect x="1396.5" y="531.8" width="4.8" height="4.8" fill="#4539d9"/>
<rect x="1415.6" y="531.8" width="4.8" height="4.8" fill="#475cfa"/>
<rect x="1425.2" y="531.8" width="4.8" height="4.8" fill="#475cfa"/>
<rect x="1434.8" y="531.8" width="4.8" height="4.8" fill="#3f6eff"/>
<rect x="1444.3" y="531.8" width="4.8" height="4.8" fill="#4743e7"/>
<rect x="1453.9" y="531.8" width="4.8" height="4.8" fill="#4433cc"/>
<rect x="1492.2" y="531.8" width="4.8" height="4.8" fill="#422ebe"/>
<rect x="1530.5" y="531.8" width="4.8" height="4.8" fill="#463cde"/>
<rect x="1549.6" y="531.8" width="4.8" height="4.8" fill="#4536d3"/>
<rect x="1406.1" y="541.4" width="4.8" height="4.8" fill="#4743e7"/>
<rect x="1415.6" y="541.4" width="4.8" height="4.8" fill="#4539d9"/>
<rect x="1444.3" y="541.4" width="4.8" height="4.8" fill="#484aee"/>
<rect x="1463.5" y="541.4" width="4.8" height="4.8" fill="#484aee"/>
<rect x="1501.8" y="541.4" width="4.8" height="4.8" fill="#4433cc"/>
<rect x="1367.8" y="551.1" width="4.8" height="4.8" fill="#4433cc"/>
<rect x="1386.9" y="551.1" width="4.8" height="4.8" fill="#347afd"/>
<rect x="1406.1" y="551.1" width="4.8" height="4.8" fill="#2fc5a2"/>
<rect x="1415.6" y="551.1" width="4.8" height="4.8" fill="#475cfa"/>
<rect x="1425.2" y="551.1" width="4.8" height="4.8" fill="#484aee"/>
<rect x="1473" y="551.1" width="4.8" height="4.8" fill="#4536d3"/>
<rect x="1482.6" y="551.1" width="4.8" height="4.8" fill="#463cde"/>
<rect x="1367.8" y="560.7" width="4.8" height="4.8" fill="#4539d9"/>
<rect x="1386.9" y="560.7" width="4.8" height="4.8" fill="#465ffb"/>
<rect x="1396.5" y="560.7" width="4.8" height="4.8" fill="#4330c5"/>
<rect x="1425.2" y="560.7" width="4.8" height="4.8" fill="#4367fd"/>
<rect x="1444.3" y="560.7" width="4.8" height="4.8" fill="#4536d3"/>
<rect x="1463.5" y="560.7" width="4.8" height="4.8" fill="#4536d3"/>
<rect x="1482.6" y="560.7" width="4.8" height="4.8" fill="#4539d9"/>
<rect x="1520.9" y="560.7" width="4.8" height="4.8" fill="#422ebe"/>
<rect x="1367.8" y="570.3" width="4.8" height="4.8" fill="#465ffb"/>
<rect x="1386.9" y="570.3" width="4.8" height="4.8" fill="#3bc992"/>
<rect x="1406.1" y="570.3" width="4.8" height="4.8" fill="#15afd9"/>
<rect x="1415.6" y="570.3" width="4.8" height="4.8" fill="#4330c5"/>
<rect x="1434.8" y="570.3" width="4.8" height="4.8" fill="#402bb7"/>
<rect x="1559.2" y="570.3" width="4.8" height="4.8" fill="#402bb7"/>
<rect x="1329.5" y="579.9" width="4.8" height="4.8" fill="#4743e7"/>
<rect x="1339.1" y="579.9" width="4.8" height="4.8" fill="#422ebe"/>
<rect x="1348.6" y="579.9" width="4.8" height="4.8" fill="#465ffb"/>
<rect x="1367.8" y="579.9" width="4.8" height="4.8" fill="#4755f6"/>
<rect x="1377.3" y="579.9" width="4.8" height="4.8" fill="#4743e7"/>
<rect x="1386.9" y="579.9" width="4.8" height="4.8" fill="#4330c5"/>
<rect x="1396.5" y="579.9" width="4.8" height="4.8" fill="#4536d3"/>
<rect x="1406.1" y="579.9" width="4.8" height="4.8" fill="#4433cc"/>
<rect x="1444.3" y="579.9" width="4.8" height="4.8" fill="#4536d3"/>
<rect x="1463.5" y="579.9" width="4.8" height="4.8" fill="#463cde"/>
<rect x="1501.8" y="579.9" width="4.8" height="4.8" fill="#4743e7"/>
<rect x="1587.9" y="579.9" width="4.8" height="4.8" fill="#484aee"/>
<rect x="1329.5" y="589.5" width="4.8" height="4.8" fill="#465ffb"/>
<rect x="1348.6" y="589.5" width="4.8" height="4.8" fill="#15afd9"/>
<rect x="1367.8" y="589.5" width="4.8" height="4.8" fill="#fec13a"/>
<rect x="1377.3" y="589.5" width="4.8" height="4.8" fill="#4330c5"/>
<rect x="1386.9" y="589.5" width="4.8" height="4.8" fill="#2fc5a2"/>
<rect x="1396.5" y="589.5" width="4.8" height="4.8" fill="#4743e7"/>
<rect x="1406.1" y="589.5" width="4.8" height="4.8" fill="#4536d3"/>
<rect x="1415.6" y="589.5" width="4.8" height="4.8" fill="#4743e7"/>
<rect x="1425.2" y="589.5" width="4.8" height="4.8" fill="#402bb7"/>
<rect x="1444.3" y="589.5" width="4.8" height="4.8" fill="#402bb7"/>
<rect x="1578.3" y="589.5" width="4.8" height="4.8" fill="#463cde"/>
<rect x="1597.5" y="589.5" width="4.8" height="4.8" fill="#422ebe"/>
<rect x="1329.5" y="599.2" width="4.8" height="4.8" fill="#2d8cf3"/>
<rect x="1348.6" y="599.2" width="4.8" height="4.8" fill="#71cd64"/>
<rect x="1358.2" y="599.2" width="4.8" height="4.8" fill="#2d8cf3"/>
<rect x="1367.8" y="599.2" width="4.8" height="4.8" fill="#9fc942"/>
<rect x="1377.3" y="599.2" width="4.8" height="4.8" fill="#05b6ce"/>
<rect x="1396.5" y="599.2" width="4.8" height="4.8" fill="#4755f6"/>
<rect x="1406.1" y="599.2" width="4.8" height="4.8" fill="#4367fd"/>
<rect x="1425.2" y="599.2" width="4.8" height="4.8" fill="#463cde"/>
<rect x="1434.8" y="599.2" width="4.8" height="4.8" fill="#402bb7"/>
<rect x="1453.9" y="599.2" width="4.8" height="4.8" fill="#4539d9"/>
<rect x="1463.5" y="599.2" width="4.8" height="4.8" fill="#4755f6"/>
<rect x="1520.9" y="599.2" width="4.8" height="4.8" fill="#4433cc"/>
<rect x="1329.5" y="608.8" width="4.8" height="4.8" fill="#465ffb"/>
<rect x="1348.6" y="608.8" width="4.8" height="4.8" fill="#15afd9"/>
<rect x="1367.8" y="608.8" width="4.8" height="4.8" fill="#fec13a"/>
<rect x="1377.3" y="608.8" width="4.8" height="4.8" fill="#4330c5"/>
<rect x="1386.9" y="608.8" width="4.8" height="4.8" fill="#2fc5a2"/>
<rect x="1396.5" y="608.8" width="4.8" height="4.8" fill="#4743e7"/>
<rect x="1406.1" y="608.8" width="4.8" height="4.8" fill="#4433cc"/>
<rect x="1415.6" y="608.8" width="4.8" height="4.8" fill="#4743e7"/>
<rect x="1425.2" y="608.8" width="4.8" height="4.8" fill="#422ebe"/>
<rect x="1578.3" y="608.8" width="4.8" height="4.8" fill="#422ebe"/>
<rect x="1597.5" y="608.8" width="4.8" height="4.8" fill="#4743e7"/>
<rect x="1329.5" y="618.4" width="4.8" height="4.8" fill="#4536d3"/>
<rect x="1348.6" y="618.4" width="4.8" height="4.8" fill="#4755f6"/>
<rect x="1367.8" y="618.4" width="4.8" height="4.8" fill="#484aee"/>
<rect x="1377.3" y="618.4" width="4.8" height="4.8" fill="#4539d9"/>
<rect x="1386.9" y="618.4" width="4.8" height="4.8" fill="#4433cc"/>
<rect x="1396.5" y="618.4" width="4.8" height="4.8" fill="#4433cc"/>
<rect x="1406.1" y="618.4" width="4.8" height="4.8" fill="#422ebe"/>
<rect x="1444.3" y="618.4" width="4.8" height="4.8" fill="#4539d9"/>
<rect x="1463.5" y="618.4" width="4.8" height="4.8" fill="#4539d9"/>
<rect x="1587.9" y="618.4" width="4.8" height="4.8" fill="#4755f6"/>
<rect x="1339.1" y="628" width="4.8" height="4.8" fill="#422ebe"/>
<rect x="1367.8" y="628" width="4.8" height="4.8" fill="#2e85f8"/>
<rect x="1386.9" y="628" width="4.8" height="4.8" fill="#48cb86"/>
<rect x="1406.1" y="628" width="4.8" height="4.8" fill="#15afd9"/>
<rect x="1415.6" y="628" width="4.8" height="4.8" fill="#463cde"/>
<rect x="1559.2" y="628" width="4.8" height="4.8" fill="#484ef1"/>
<rect x="1568.7" y="628" width="4.8" height="4.8" fill="#422ebe"/>
<rect x="1367.8" y="637.6" width="4.8" height="4.8" fill="#4433cc"/>
<rect x="1377.3" y="637.6" width="4.8" height="4.8" fill="#402bb7"/>
<rect x="1386.9" y="637.6" width="4.8" height="4.8" fill="#465ffb"/>
<rect x="1425.2" y="637.6" width="4.8" height="4.8" fill="#484aee"/>
<rect x="1444.3" y="637.6" width="4.8" height="4.8" fill="#4536d3"/>
<rect x="1463.5" y="637.6" width="4.8" height="4.8" fill="#4539d9"/>
<rect x="1386.9" y="649.3" width="4.8" height="4.8" fill="#4367fd"/>
<rect x="1406.1" y="649.3" width="4.8" height="4.8" fill="#12beb9"/>
<rect x="1415.6" y="649.3" width="4.8" height="4.8" fill="#4743e7"/>
<rect x="1425.2" y="649.3" width="4.8" height="4.8" fill="#475cfa"/>
<rect x="1406.1" y="658.9" width="4.8" height="4.8" fill="#4743e7"/>
<rect x="1415.6" y="658.9" width="4.8" height="4.8" fill="#422ebe"/>
<rect x="1425.2" y="658.9" width="4.8" height="4.8" fill="#4433cc"/>
<rect x="1444.3" y="658.9" width="4.8" height="4.8" fill="#463cde"/>
<rect x="1463.5" y="658.9" width="4.8" height="4.8" fill="#4743e7"/>
<rect x="1501.8" y="658.9" width="4.8" height="4.8" fill="#422ebe"/>
<rect x="1396.5" y="668.5" width="4.8" height="4.8" fill="#4433cc"/>
<rect x="1406.1" y="668.5" width="4.8" height="4.8" fill="#402bb7"/>
<rect x="1415.6" y="668.5" width="4.8" height="4.8" fill="#4851f4"/>
<rect x="1425.2" y="668.5" width="4.8" height="4.8" fill="#4851f4"/>
<rect x="1434.8" y="668.5" width="4.8" height="4.8" fill="#4743e7"/>
<rect x="1444.3" y="668.5" width="4.8" height="4.8" fill="#4367fd"/>
<rect x="1453.9" y="668.5" width="4.8" height="4.8" fill="#402bb7"/>
<rect x="1549.6" y="668.5" width="4.8" height="4.8" fill="#422ebe"/>
<rect x="1425.2" y="678.1" width="4.8" height="4.8" fill="#475cfa"/>
<rect x="1444.3" y="678.1" width="4.8" height="4.8" fill="#4539d9"/>
<rect x="1463.5" y="678.1" width="4.8" height="4.8" fill="#4330c5"/>
<rect x="1501.8" y="678.1" width="4.8" height="4.8" fill="#484ef1"/>
<rect x="1396.5" y="687.7" width="4.8" height="4.8" fill="#422ebe"/>
<rect x="1434.8" y="687.7" width="4.8" height="4.8" fill="#475cfa"/>
<rect x="1444.3" y="687.7" width="4.8" height="4.8" fill="#4539d9"/>
<rect x="1463.5" y="687.7" width="4.8" height="4.8" fill="#4539d9"/>
<rect x="1473" y="687.7" width="4.8" height="4.8" fill="#4367fd"/>
<rect x="1482.6" y="687.7" width="4.8" height="4.8" fill="#4743e7"/>
<rect x="1530.5" y="687.7" width="4.8" height="4.8" fill="#422ebe"/>
<rect x="1607" y="687.7" width="4.8" height="4.8" fill="#402bb7"/>
<rect x="1386.9" y="697.4" width="4.8" height="4.8" fill="#4330c5"/>
<rect x="1425.2" y="697.4" width="4.8" height="4.8" fill="#402bb7"/>
<rect x="1463.5" y="697.4" width="4.8" height="4.8" fill="#4367fd"/>
<rect x="1482.6" y="697.4" width="4.8" height="4.8" fill="#484aee"/>
<rect x="1444.3" y="707" width="4.8" height="4.8" fill="#402bb7"/>
<rect x="1453.9" y="707" width="4.8" height="4.8" fill="#4367fd"/>
<rect x="1463.5" y="707" width="4.8" height="4.8" fill="#4539d9"/>
<rect x="1473" y="707" width="4.8" height="4.8" fill="#2a92ee"/>
<rect x="1492.2" y="707" width="4.8" height="4.8" fill="#4743e7"/>
<rect x="1444.3" y="716.6" width="4.8" height="4.8" fill="#402bb7"/>
<rect x="1463.5" y="716.6" width="4.8" height="4.8" fill="#475cfa"/>
<rect x="1482.6" y="716.6" width="4.8" height="4.8" fill="#463cde"/>
<rect x="1453.9" y="726.2" width="4.8" height="4.8" fill="#422ebe"/>
<rect x="1473" y="726.2" width="4.8" height="4.8" fill="#4433cc"/>
<rect x="1540" y="735.8" width="4.8" height="4.8" fill="#402bb7"/>
<rect x="1377.3" y="745.5" width="4.8" height="4.8" fill="#4743e7"/>
<line x1="1376" y1="460.8" x2="1376" y2="467.1" stroke="#000" stroke-width="3.0"/>
<line x1="1376" y1="748.8" x2="1376" y2="742.5" stroke="#000" stroke-width="3.0"/>
<line x1="1472.2" y1="460.8" x2="1472.2" y2="467.1" stroke="#000" stroke-width="3.0"/>
<line x1="1472.2" y1="748.8" x2="1472.2" y2="742.5" stroke="#000" stroke-width="3.0"/>
<line x1="1568" y1="460.8" x2="1568" y2="467.1" stroke="#000" stroke-width="3.0"/>
<line x1="1568" y1="748.8" x2="1568" y2="742.5" stroke="#000" stroke-width="3.0"/>
<line x1="1328.5" y1="508.6" x2="1334.8" y2="508.6" stroke="#000" stroke-width="3.0"/>
<line x1="1616" y1="508.6" x2="1609.8" y2="508.6" stroke="#000" stroke-width="3.0"/>
<line x1="1328.5" y1="605" x2="1334.8" y2="605" stroke="#000" stroke-width="3.0"/>
<line x1="1616" y1="605" x2="1609.8" y2="605" stroke="#000" stroke-width="3.0"/>
<line x1="1328.5" y1="701" x2="1334.8" y2="701" stroke="#000" stroke-width="3.0"/>
<line x1="1616" y1="701" x2="1609.8" y2="701" stroke="#000" stroke-width="3.0"/>
<rect x="1328.5" y="460.8" width="287.5" height="288" fill="none" stroke="#000" stroke-width="3.3"/>
<text x="1340.8" y="496.4" font-size="42.33" font-weight="bold" fill="#fff">f</text>
<text x="1508.5" y="495" font-size="36.75" fill="#fff" textLength="101.3" lengthAdjust="spacingAndGlyphs"><tspan font-style="italic">m</tspan><tspan> = 60</tspan></text>
<text x="1277.1" y="516.3" font-size="29.60" textLength="39.1" lengthAdjust="spacingAndGlyphs" fill="#262626">-20</text>
<text x="1301.1" y="612.3" font-size="28.04" fill="#262626">0</text>
<text x="1284.7" y="704.7" font-size="29.58" textLength="30" lengthAdjust="spacingAndGlyphs" fill="#262626">20</text>
<text x="1267.5" y="611" font-size="26.28" fill="#262626">y</text>
<rect x="1324.4" y="820.8" width="288.4" height="288" fill="#3e26a8"/>
<rect x="1458.2" y="901.2" width="4.8" height="4.8" fill="#4433cc"/>
<rect x="1458.2" y="910.7" width="4.8" height="4.8" fill="#463cde"/>
<rect x="1467.8" y="910.7" width="4.8" height="4.8" fill="#4330c5"/>
<rect x="1458.2" y="920.3" width="4.8" height="4.8" fill="#4743e7"/>
<rect x="1467.8" y="920.3" width="4.8" height="4.8" fill="#4330c5"/>
<rect x="1477.4" y="920.3" width="4.8" height="4.8" fill="#422ebe"/>
<rect x="1419.8" y="929.9" width="4.8" height="4.8" fill="#422ebe"/>
<rect x="1439" y="929.9" width="4.8" height="4.8" fill="#463cde"/>
<rect x="1448.6" y="929.9" width="4.8" height="4.8" fill="#4433cc"/>
<rect x="1458.2" y="929.9" width="4.8" height="4.8" fill="#484aee"/>
<rect x="1467.8" y="929.9" width="4.8" height="4.8" fill="#463cde"/>
<rect x="1477.4" y="929.9" width="4.8" height="4.8" fill="#422ebe"/>
<rect x="1419.8" y="939.5" width="4.8" height="4.8" fill="#422ebe"/>
<rect x="1429.4" y="939.5" width="4.8" height="4.8" fill="#402bb7"/>
<rect x="1439" y="939.5" width="4.8" height="4.8" fill="#4743e7"/>
<rect x="1448.6" y="939.5" width="4.8" height="4.8" fill="#484aee"/>
<rect x="1458.2" y="939.5" width="4.8" height="4.8" fill="#4367fd"/>
<rect x="1467.8" y="939.5" width="4.8" height="4.8" fill="#4743e7"/>
<rect x="1477.4" y="939.5" width="4.8" height="4.8" fill="#4536d3"/>
<rect x="1381.4" y="949" width="4.8" height="4.8" fill="#402bb7"/>
<rect x="1400.6" y="949" width="4.8" height="4.8" fill="#422ebe"/>
<rect x="1419.8" y="949" width="4.8" height="4.8" fill="#463cde"/>
<rect x="1429.4" y="949" width="4.8" height="4.8" fill="#4536d3"/>
<rect x="1439" y="949" width="4.8" height="4.8" fill="#3f6eff"/>
<rect x="1448.6" y="949" width="4.8" height="4.8" fill="#2d8cf3"/>
<rect x="1458.2" y="949" width="4.8" height="4.8" fill="#05b6ce"/>
<rect x="1467.8" y="949" width="4.8" height="4.8" fill="#2d8cf3"/>
<rect x="1477.4" y="949" width="4.8" height="4.8" fill="#4743e7"/>
<rect x="1487" y="949" width="4.8" height="4.8" fill="#402bb7"/>
<rect x="1400.6" y="958.6" width="4.8" height="4.8" fill="#4433cc"/>
<rect x="1419.8" y="958.6" width="4.8" height="4.8" fill="#4743e7"/>
<rect x="1429.4" y="958.6" width="4.8" height="4.8" fill="#4743e7"/>
<rect x="1439" y="958.6" width="4.8" height="4.8" fill="#3f6eff"/>
<rect x="1448.6" y="958.6" width="4.8" height="4.8" fill="#15afd9"/>
<rect x="1458.2" y="958.6" width="4.8" height="4.8" fill="#f9fb15"/>
<rect x="1467.8" y="958.6" width="4.8" height="4.8" fill="#21c1b0"/>
<rect x="1477.4" y="958.6" width="4.8" height="4.8" fill="#4755f6"/>
<rect x="1496.6" y="958.6" width="4.8" height="4.8" fill="#422ebe"/>
<rect x="1400.6" y="968.2" width="4.8" height="4.8" fill="#4330c5"/>
<rect x="1419.8" y="968.2" width="4.8" height="4.8" fill="#463cde"/>
<rect x="1429.4" y="968.2" width="4.8" height="4.8" fill="#4536d3"/>
<rect x="1439" y="968.2" width="4.8" height="4.8" fill="#3f6eff"/>
<rect x="1448.6" y="968.2" width="4.8" height="4.8" fill="#2a92ee"/>
<rect x="1458.2" y="968.2" width="4.8" height="4.8" fill="#12beb9"/>
<rect x="1467.8" y="968.2" width="4.8" height="4.8" fill="#2d8cf3"/>
<rect x="1477.4" y="968.2" width="4.8" height="4.8" fill="#4743e7"/>
<rect x="1439" y="977.7" width="4.8" height="4.8" fill="#463cde"/>
<rect x="1448.6" y="977.7" width="4.8" height="4.8" fill="#4743e7"/>
<rect x="1458.2" y="977.7" width="4.8" height="4.8" fill="#4755f6"/>
<rect x="1467.8" y="977.7" width="4.8" height="4.8" fill="#4536d3"/>
<rect x="1477.4" y="977.7" width="4.8" height="4.8" fill="#4330c5"/>
<rect x="1419.8" y="987.3" width="4.8" height="4.8" fill="#422ebe"/>
<rect x="1439" y="987.3" width="4.8" height="4.8" fill="#463cde"/>
<rect x="1448.6" y="987.3" width="4.8" height="4.8" fill="#4330c5"/>
<rect x="1458.2" y="987.3" width="4.8" height="4.8" fill="#4536d3"/>
<rect x="1467.8" y="987.3" width="4.8" height="4.8" fill="#4433cc"/>
<rect x="1458.2" y="996.9" width="4.8" height="4.8" fill="#422ebe"/>
<rect x="1458.2" y="1007.9" width="4.8" height="4.8" fill="#4330c5"/>
<line x1="1372.5" y1="820.8" x2="1372.5" y2="827" stroke="#000" stroke-width="3.0"/>
<line x1="1372.5" y1="1108.8" x2="1372.5" y2="1102.5" stroke="#000" stroke-width="3.0"/>
<line x1="1468.6" y1="820.8" x2="1468.6" y2="827" stroke="#000" stroke-width="3.0"/>
<line x1="1468.6" y1="1108.8" x2="1468.6" y2="1102.5" stroke="#000" stroke-width="3.0"/>
<line x1="1564.6" y1="820.8" x2="1564.6" y2="827" stroke="#000" stroke-width="3.0"/>
<line x1="1564.6" y1="1108.8" x2="1564.6" y2="1102.5" stroke="#000" stroke-width="3.0"/>
<line x1="1324.4" y1="868.9" x2="1330.7" y2="868.9" stroke="#000" stroke-width="3.0"/>
<line x1="1612.8" y1="868.9" x2="1606.5" y2="868.9" stroke="#000" stroke-width="3.0"/>
<line x1="1324.4" y1="965.1" x2="1330.7" y2="965.1" stroke="#000" stroke-width="3.0"/>
<line x1="1612.8" y1="965.1" x2="1606.5" y2="965.1" stroke="#000" stroke-width="3.0"/>
<line x1="1324.4" y1="1061.2" x2="1330.7" y2="1061.2" stroke="#000" stroke-width="3.0"/>
<line x1="1612.8" y1="1061.2" x2="1606.5" y2="1061.2" stroke="#000" stroke-width="3.0"/>
<rect x="1324.4" y="820.8" width="288.4" height="288" fill="none" stroke="#000" stroke-width="3.3"/>
<text x="1338.3" y="860.5" font-size="51.87" font-weight="bold" fill="#fff">i</text>
<text x="1503.4" y="859" font-size="36.64" fill="#fff" textLength="100.9" lengthAdjust="spacingAndGlyphs"><tspan font-style="italic">m</tspan><tspan> = 60</tspan></text>
<text x="1271.8" y="878.6" font-size="30.24" textLength="39.9" lengthAdjust="spacingAndGlyphs" fill="#262626">-20</text>
<text x="1295.4" y="975.6" font-size="28.70" fill="#262626">0</text>
<text x="1279.4" y="1067.7" font-size="28.74" textLength="29.1" lengthAdjust="spacingAndGlyphs" fill="#262626">20</text>
<text x="1264.5" y="973" font-size="26.74" fill="#262626">y</text>
<text x="1350.3" y="1145.1" font-size="29.28" textLength="38.6" lengthAdjust="spacingAndGlyphs" fill="#262626">-20</text>
<text x="1461.3" y="1146.1" font-size="28.04" fill="#262626">0</text>
<text x="1552" y="1142.7" font-size="29.16" textLength="29.6" lengthAdjust="spacingAndGlyphs" fill="#262626">20</text>
<text x="1461.6" y="1175.3" font-size="28.05" fill="#262626">x</text></svg></body></html>
